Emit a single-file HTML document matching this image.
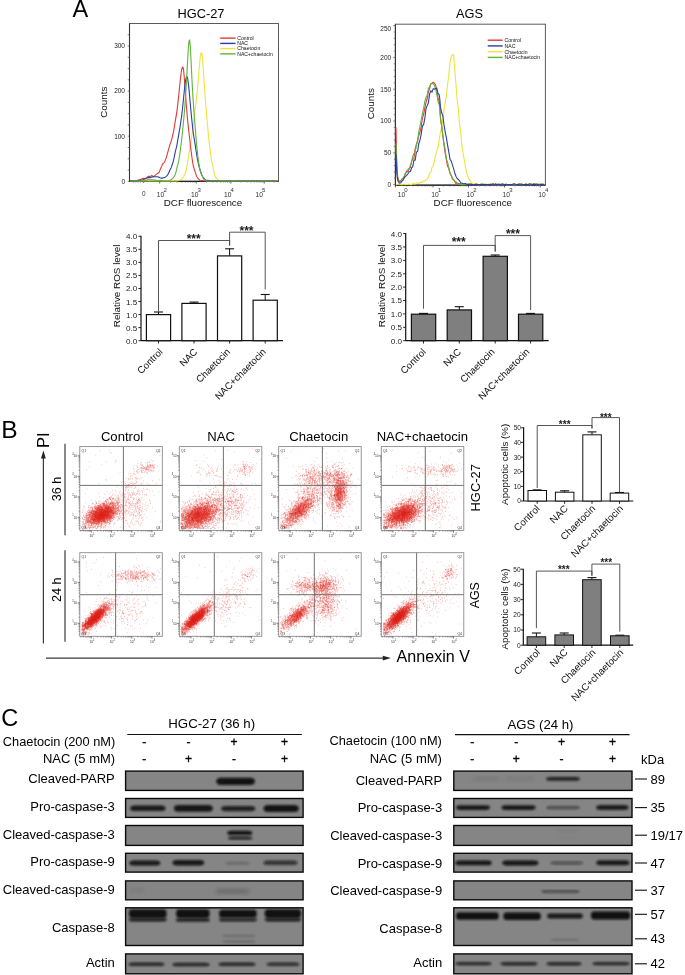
<!DOCTYPE html>
<html><head><meta charset="utf-8"><title>Figure</title>
<style>html,body{margin:0;padding:0;background:#fff;width:685px;height:975px;overflow:hidden}
svg{display:block;font-family:"Liberation Sans",Arial,sans-serif}</style></head>
<body><svg width="685" height="975" viewBox="0 0 685 975">
<defs>
<filter id="b1" x="-20%" y="-50%" width="140%" height="200%"><feGaussianBlur stdDeviation="1.2"/></filter>
<filter id="b2" x="-20%" y="-80%" width="140%" height="260%"><feGaussianBlur stdDeviation="0.8"/></filter>
<filter id="b3" x="-20%" y="-80%" width="140%" height="260%"><feGaussianBlur stdDeviation="2"/></filter>
<radialGradient id="core"><stop offset="0" stop-color="#e0221a" stop-opacity="0.85"/><stop offset="0.55" stop-color="#e0221a" stop-opacity="0.45"/><stop offset="1" stop-color="#e0221a" stop-opacity="0"/></radialGradient>
</defs>
<rect width="685" height="975" fill="#fff"/>
<text x="72.5" y="17.2" font-size="23.5">A</text>
<text x="201" y="18.1" font-size="12.8" text-anchor="middle">HGC-27</text>
<rect x="129.5" y="23.5" width="149" height="157.8" fill="none" stroke="#5f5a56" stroke-width="1"/>
<line x1="129.5" y1="181.3" x2="278.5" y2="181.3" stroke="#222" stroke-width="1.2"/>
<line x1="129.5" y1="23.5" x2="129.5" y2="181.3" stroke="#333" stroke-width="1.1"/>
<line x1="127.7" y1="181.3" x2="129.5" y2="181.3" stroke="#555" stroke-width="0.7"/>
<line x1="127.7" y1="170" x2="129.5" y2="170" stroke="#555" stroke-width="0.7"/>
<line x1="127.7" y1="158.8" x2="129.5" y2="158.8" stroke="#555" stroke-width="0.7"/>
<line x1="127.7" y1="147.5" x2="129.5" y2="147.5" stroke="#555" stroke-width="0.7"/>
<line x1="127.7" y1="136.2" x2="129.5" y2="136.2" stroke="#555" stroke-width="0.7"/>
<line x1="127.7" y1="124.9" x2="129.5" y2="124.9" stroke="#555" stroke-width="0.7"/>
<line x1="127.7" y1="113.7" x2="129.5" y2="113.7" stroke="#555" stroke-width="0.7"/>
<line x1="127.7" y1="102.4" x2="129.5" y2="102.4" stroke="#555" stroke-width="0.7"/>
<line x1="127.7" y1="91.1" x2="129.5" y2="91.1" stroke="#555" stroke-width="0.7"/>
<line x1="127.7" y1="79.8" x2="129.5" y2="79.8" stroke="#555" stroke-width="0.7"/>
<line x1="127.7" y1="68.6" x2="129.5" y2="68.6" stroke="#555" stroke-width="0.7"/>
<line x1="127.7" y1="57.3" x2="129.5" y2="57.3" stroke="#555" stroke-width="0.7"/>
<line x1="127.7" y1="46" x2="129.5" y2="46" stroke="#555" stroke-width="0.7"/>
<line x1="127.7" y1="34.7" x2="129.5" y2="34.7" stroke="#555" stroke-width="0.7"/>
<text x="125" y="183.6" font-size="6.5" text-anchor="end" fill="#222">0</text>
<text x="125" y="138.5" font-size="6.5" text-anchor="end" fill="#222">100</text>
<text x="125" y="93.4" font-size="6.5" text-anchor="end" fill="#222">200</text>
<text x="125" y="48.3" font-size="6.5" text-anchor="end" fill="#222">300</text>
<text x="106.8" y="102.1" font-size="9.9" text-anchor="middle" fill="#111" transform="rotate(-90 106.8 102.1)">Counts</text>
<line x1="159.7" y1="181.3" x2="159.7" y2="183.5" stroke="#333" stroke-width="0.8"/>
<line x1="196.2" y1="181.3" x2="196.2" y2="183.5" stroke="#333" stroke-width="0.8"/>
<line x1="230.9" y1="181.3" x2="230.9" y2="183.5" stroke="#333" stroke-width="0.8"/>
<line x1="264.2" y1="181.3" x2="264.2" y2="183.5" stroke="#333" stroke-width="0.8"/>
<line x1="143.7" y1="181.3" x2="143.7" y2="182.9" stroke="#333" stroke-width="0.7"/>
<line x1="170.7" y1="181.3" x2="170.7" y2="182.6" stroke="#444" stroke-width="0.6"/>
<line x1="177.1" y1="181.3" x2="177.1" y2="182.6" stroke="#444" stroke-width="0.6"/>
<line x1="181.7" y1="181.3" x2="181.7" y2="182.6" stroke="#444" stroke-width="0.6"/>
<line x1="185.2" y1="181.3" x2="185.2" y2="182.6" stroke="#444" stroke-width="0.6"/>
<line x1="188.1" y1="181.3" x2="188.1" y2="182.6" stroke="#444" stroke-width="0.6"/>
<line x1="190.5" y1="181.3" x2="190.5" y2="182.6" stroke="#444" stroke-width="0.6"/>
<line x1="192.7" y1="181.3" x2="192.7" y2="182.6" stroke="#444" stroke-width="0.6"/>
<line x1="194.5" y1="181.3" x2="194.5" y2="182.6" stroke="#444" stroke-width="0.6"/>
<line x1="206.6" y1="181.3" x2="206.6" y2="182.6" stroke="#444" stroke-width="0.6"/>
<line x1="212.8" y1="181.3" x2="212.8" y2="182.6" stroke="#444" stroke-width="0.6"/>
<line x1="217.1" y1="181.3" x2="217.1" y2="182.6" stroke="#444" stroke-width="0.6"/>
<line x1="220.5" y1="181.3" x2="220.5" y2="182.6" stroke="#444" stroke-width="0.6"/>
<line x1="223.2" y1="181.3" x2="223.2" y2="182.6" stroke="#444" stroke-width="0.6"/>
<line x1="225.5" y1="181.3" x2="225.5" y2="182.6" stroke="#444" stroke-width="0.6"/>
<line x1="227.5" y1="181.3" x2="227.5" y2="182.6" stroke="#444" stroke-width="0.6"/>
<line x1="229.3" y1="181.3" x2="229.3" y2="182.6" stroke="#444" stroke-width="0.6"/>
<line x1="240.9" y1="181.3" x2="240.9" y2="182.6" stroke="#444" stroke-width="0.6"/>
<line x1="246.8" y1="181.3" x2="246.8" y2="182.6" stroke="#444" stroke-width="0.6"/>
<line x1="250.9" y1="181.3" x2="250.9" y2="182.6" stroke="#444" stroke-width="0.6"/>
<line x1="254.2" y1="181.3" x2="254.2" y2="182.6" stroke="#444" stroke-width="0.6"/>
<line x1="256.8" y1="181.3" x2="256.8" y2="182.6" stroke="#444" stroke-width="0.6"/>
<line x1="259" y1="181.3" x2="259" y2="182.6" stroke="#444" stroke-width="0.6"/>
<line x1="261" y1="181.3" x2="261" y2="182.6" stroke="#444" stroke-width="0.6"/>
<line x1="262.7" y1="181.3" x2="262.7" y2="182.6" stroke="#444" stroke-width="0.6"/>
<line x1="274.2" y1="181.3" x2="274.2" y2="182.6" stroke="#444" stroke-width="0.6"/>
<line x1="133.4" y1="181.3" x2="133.4" y2="182.6" stroke="#444" stroke-width="0.6"/>
<line x1="135.8" y1="181.3" x2="135.8" y2="182.6" stroke="#444" stroke-width="0.6"/>
<line x1="138.2" y1="181.3" x2="138.2" y2="182.6" stroke="#444" stroke-width="0.6"/>
<line x1="140.6" y1="181.3" x2="140.6" y2="182.6" stroke="#444" stroke-width="0.6"/>
<line x1="143" y1="181.3" x2="143" y2="182.6" stroke="#444" stroke-width="0.6"/>
<text x="143.7" y="196.4" font-size="6.4" text-anchor="middle" fill="#333">0</text>
<text x="156.8" y="196.6" font-size="6.7" fill="#333">10</text>
<text x="163.4" y="192.4" font-size="6.0" fill="#333">2</text>
<text x="191" y="196.6" font-size="6.7" fill="#333">10</text>
<text x="197.6" y="192.4" font-size="6.0" fill="#333">3</text>
<text x="224" y="196.6" font-size="6.7" fill="#333">10</text>
<text x="230.6" y="192.4" font-size="6.0" fill="#333">4</text>
<text x="255.5" y="196.6" font-size="6.7" fill="#333">10</text>
<text x="262.1" y="192.4" font-size="6.0" fill="#333">5</text>
<text x="203" y="206" font-size="9.8" text-anchor="middle" fill="#111">DCF fluorescence</text>
<line x1="220.2" y1="38.1" x2="235.5" y2="38.1" stroke="#e03a34" stroke-width="1.4"/>
<text x="237.3" y="39.9" font-size="5.1" fill="#111">Control</text>
<line x1="220.2" y1="43.4" x2="235.5" y2="43.4" stroke="#2b3fa6" stroke-width="1.4"/>
<text x="237.3" y="45.2" font-size="5.1" fill="#111">NAC</text>
<line x1="220.2" y1="48.6" x2="235.5" y2="48.6" stroke="#f0e33c" stroke-width="1.4"/>
<text x="237.3" y="50.4" font-size="5.1" fill="#111">Chaetocin</text>
<line x1="220.2" y1="53.9" x2="235.5" y2="53.9" stroke="#5fb43c" stroke-width="1.4"/>
<text x="237.3" y="55.7" font-size="5.1" fill="#111">NAC+chaetocin</text>
<path d="M130.2,181 L130.8,181 L131.4,181 L132,181 L132.6,181 L133.2,181 L133.8,181 L134.4,181 L135,181 L135.6,181 L136.2,181 L136.8,181 L137.4,181 L138,181 L138.6,181 L139.2,181 L139.8,181 L140.4,181 L141,180.9 L141.6,180.9 L142.2,181 L142.8,181 L143.4,181 L144,181 L144.6,181 L145.2,181 L145.8,181 L146.4,181 L147,181 L147.6,181 L148.2,181 L148.8,181 L149.4,181 L150,181 L150.6,181 L151.2,181 L151.8,181 L152.4,181 L153,181 L153.6,181 L154.2,181 L154.8,181 L155.4,181 L156,181 L156.6,181 L157.2,180.9 L157.8,180.9 L158.4,181 L159,181 L159.6,181 L160.2,181 L160.8,181 L161.4,181 L162,181 L162.6,181 L163.2,181 L163.8,181 L164.4,181 L165,181 L165.6,181 L166.2,181 L166.8,181 L167.4,181 L168,181 L168.6,181 L169.2,181 L169.8,181 L170.4,181 L171,181 L171.6,180.9 L172.2,180.9 L172.8,180.9 L173.4,180.9 L174,181 L174.6,181 L175.2,181 L175.8,181 L176.4,181 L177,180.9 L177.6,180.8 L178.2,180.6 L178.8,180.5 L179.4,180.3 L180,180.1 L180.6,179.8 L181.2,179.6 L181.8,179.2 L182.4,178.7 L183,177.8 L183.6,176.7 L184.2,175.4 L184.8,174.2 L185.4,172.8 L186,171.1 L186.6,168.2 L187.2,164.7 L187.8,160.7 L188.4,157.4 L189,153.8 L189.6,149.9 L190.2,146.1 L190.8,142.2 L191.4,138.1 L192,134 L192.6,129.8 L193.2,125.6 L193.8,120.6 L194.4,115.5 L195,110.3 L195.6,105.9 L196.2,101.1 L196.8,95.9 L197.4,89.4 L198,82.3 L198.6,74.9 L199.2,67.7 L199.8,61.2 L200.4,56 L201,53.1 L201.6,52.7 L202.2,55.8 L202.8,62.1 L203.4,70.6 L204,80.1 L204.6,89.2 L205.2,97.7 L205.8,105.3 L206.4,112.6 L207,119.5 L207.6,126 L208.2,132.4 L208.8,138.6 L209.4,144.4 L210,149.4 L210.6,154 L211.2,158.2 L211.8,161.5 L212.4,164.4 L213,167 L213.6,170.3 L214.2,173 L214.8,175.2 L215.4,176.6 L216,177.7 L216.6,178.7 L217.2,179.2 L217.8,179.5 L218.4,179.8 L219,180.3 L219.6,180.7 L220.2,181 L220.8,181 L221.4,181 L222,181 L222.6,181 L223.2,181 L223.8,181 L224.4,181 L225,181 L225.6,181 L226.2,181 L226.8,181 L227.4,180.8 L228,181 L228.6,181 L229.2,181 L229.8,181 L230.4,181 L231,181 L231.6,181 L232.2,181 L232.8,181 L233.4,181 L234,181 L234.6,181 L235.2,181 L235.8,181 L236.4,181 L237,181 L237.6,181 L238.2,181 L238.8,181 L239.4,181 L240,181 L240.6,181 L241.2,181 L241.8,181 L242.4,181 L243,181 L243.6,181 L244.2,181 L244.8,181 L245.4,180.9 L246,181 L246.6,181 L247.2,181 L247.8,181 L248.4,181 L249,181 L249.6,181 L250.2,181 L250.8,181 L251.4,181 L252,181 L252.6,181 L253.2,181 L253.8,181 L254.4,181 L255,181 L255.6,181 L256.2,181 L256.8,181 L257.4,181 L258,181 L258.6,181 L259.2,181 L259.8,181 L260.4,181 L261,181 L261.6,181 L262.2,181 L262.8,181 L263.4,181 L264,181 L264.6,181 L265.2,181 L265.8,181 L266.4,181 L267,180.9 L267.6,180.9 L268.2,180.9 L268.8,180.9 L269.4,180.9 L270,181 L270.6,181 L271.2,181 L271.8,180.9 L272.4,180.9 L273,181 L273.6,181 L274.2,181 L274.8,181 L275.4,181 L276,181 L276.6,181 L277.2,181" fill="none" stroke="#f0e33c" stroke-width="1.1" stroke-linejoin="round"/>
<path d="M130.2,181 L130.8,181 L131.4,181 L132,181 L132.6,181 L133.2,181 L133.8,181 L134.4,180.8 L135,180.9 L135.6,180.9 L136.2,180.8 L136.8,180.6 L137.4,180.4 L138,180.2 L138.6,180.1 L139.2,180 L139.8,179.7 L140.4,179.5 L141,179.2 L141.6,178.9 L142.2,178.7 L142.8,178.4 L143.4,178.4 L144,178.5 L144.6,178.6 L145.2,178.4 L145.8,178.2 L146.4,178.1 L147,177.5 L147.6,176.9 L148.2,176.3 L148.8,176.4 L149.4,176.4 L150,176.5 L150.6,176.2 L151.2,175.9 L151.8,175.6 L152.4,175.9 L153,176.2 L153.6,176.5 L154.2,176.1 L154.8,175.7 L155.4,175.2 L156,174.7 L156.6,174.2 L157.2,173.6 L157.8,173.3 L158.4,173 L159,172.5 L159.6,171.1 L160.2,169.6 L160.8,167.9 L161.4,166.7 L162,165.4 L162.6,164 L163.2,163.4 L163.8,162.9 L164.4,162.3 L165,160.9 L165.6,159.4 L166.2,157.9 L166.8,155.8 L167.4,153.7 L168,151.5 L168.6,149.3 L169.2,147.1 L169.8,144.8 L170.4,143.3 L171,141.6 L171.6,139.8 L172.2,137.4 L172.8,134.9 L173.4,132.1 L174,128.8 L174.6,125.3 L175.2,121.5 L175.8,118.2 L176.4,114.6 L177,110.7 L177.6,105.7 L178.2,100.4 L178.8,94.7 L179.4,88.8 L180,82.8 L180.6,77.3 L181.2,72.6 L181.8,69.1 L182.4,67.1 L183,67.2 L183.6,70.4 L184.2,76.6 L184.8,84.4 L185.4,92.8 L186,101.1 L186.6,108.7 L187.2,115.6 L187.8,121.9 L188.4,127.6 L189,133 L189.6,138.2 L190.2,143.5 L190.8,148.6 L191.4,153.3 L192,157.8 L192.6,161.9 L193.2,165.5 L193.8,167.6 L194.4,169.5 L195,171.2 L195.6,173.3 L196.2,175.1 L196.8,176.5 L197.4,177.6 L198,178.4 L198.6,179 L199.2,179.7 L199.8,180.3 L200.4,180.8 L201,180.7 L201.6,180.6 L202.2,180.5 L202.8,180.6 L203.4,180.8 L204,180.8 L204.6,181 L205.2,181 L205.8,181 L206.4,181 L207,181 L207.6,181 L208.2,181 L208.8,181 L209.4,181 L210,181 L210.6,181 L211.2,181 L211.8,181 L212.4,181 L213,180.9 L213.6,181 L214.2,181 L214.8,181 L215.4,181 L216,181 L216.6,181 L217.2,181 L217.8,181 L218.4,181 L219,181 L219.6,181 L220.2,181 L220.8,181 L221.4,181 L222,181 L222.6,181 L223.2,181 L223.8,180.9 L224.4,180.9 L225,181 L225.6,181 L226.2,181 L226.8,181 L227.4,181 L228,181 L228.6,181 L229.2,181 L229.8,181 L230.4,181 L231,181 L231.6,181 L232.2,181 L232.8,181 L233.4,181 L234,181 L234.6,181 L235.2,181 L235.8,181 L236.4,181 L237,181 L237.6,181 L238.2,181 L238.8,181 L239.4,181 L240,181 L240.6,181 L241.2,181 L241.8,181 L242.4,181 L243,181 L243.6,181 L244.2,181 L244.8,181 L245.4,181 L246,181 L246.6,181 L247.2,181 L247.8,181 L248.4,181 L249,181 L249.6,181 L250.2,181 L250.8,181 L251.4,181 L252,181 L252.6,181 L253.2,181 L253.8,181 L254.4,181 L255,181 L255.6,181 L256.2,181 L256.8,181 L257.4,181 L258,181 L258.6,181 L259.2,181 L259.8,181 L260.4,181 L261,181 L261.6,181 L262.2,181 L262.8,180.9 L263.4,180.8 L264,181 L264.6,181 L265.2,181 L265.8,181 L266.4,181 L267,181 L267.6,181 L268.2,181 L268.8,181 L269.4,181 L270,181 L270.6,181 L271.2,181 L271.8,181 L272.4,180.8 L273,180.9 L273.6,181 L274.2,181 L274.8,181 L275.4,181 L276,181 L276.6,181 L277.2,181" fill="none" stroke="#e03a34" stroke-width="1.1" stroke-linejoin="round"/>
<path d="M130.2,180.9 L130.8,180.9 L131.4,180.9 L132,180.9 L132.6,181 L133.2,181 L133.8,181 L134.4,181 L135,181 L135.6,181 L136.2,181 L136.8,180.9 L137.4,180.6 L138,180.5 L138.6,180.5 L139.2,180.4 L139.8,180.3 L140.4,180.2 L141,180.1 L141.6,180 L142.2,180 L142.8,180 L143.4,179.6 L144,179.3 L144.6,179 L145.2,178.7 L145.8,178.5 L146.4,178.3 L147,178 L147.6,177.8 L148.2,177.6 L148.8,177.6 L149.4,177.6 L150,177.7 L150.6,177.4 L151.2,177.2 L151.8,177 L152.4,176.9 L153,176.9 L153.6,176.9 L154.2,176.8 L154.8,176.7 L155.4,176.7 L156,176.7 L156.6,176.7 L157.2,176.7 L157.8,176.9 L158.4,177 L159,177.2 L159.6,177.5 L160.2,177.8 L160.8,178 L161.4,178.1 L162,178.1 L162.6,178 L163.2,177.9 L163.8,177.8 L164.4,177.5 L165,177.2 L165.6,176.9 L166.2,176.4 L166.8,175.8 L167.4,175.1 L168,174.3 L168.6,173.1 L169.2,171.7 L169.8,170.3 L170.4,169.1 L171,167.9 L171.6,166.5 L172.2,164.8 L172.8,162.9 L173.4,160.9 L174,158.2 L174.6,155.3 L175.2,152.2 L175.8,149.8 L176.4,147.3 L177,144.5 L177.6,141.2 L178.2,137.7 L178.8,134.1 L179.4,130.7 L180,127.1 L180.6,123.4 L181.2,119.2 L181.8,114.6 L182.4,109.7 L183,103.8 L183.6,97.7 L184.2,91.5 L184.8,86.2 L185.4,81.7 L186,78.6 L186.6,76.6 L187.2,76.7 L187.8,79.2 L188.4,83.6 L189,89.4 L189.6,95.6 L190.2,102.8 L190.8,109.5 L191.4,115.7 L192,121.6 L192.6,127.2 L193.2,132.5 L193.8,136.3 L194.4,140 L195,143.5 L195.6,147.6 L196.2,151.6 L196.8,155.2 L197.4,158.6 L198,161.7 L198.6,164.6 L199.2,167 L199.8,169.1 L200.4,171 L201,172.8 L201.6,174.4 L202.2,175.7 L202.8,176.7 L203.4,177.6 L204,178.3 L204.6,179 L205.2,179.7 L205.8,180.2 L206.4,180.3 L207,180.3 L207.6,180.3 L208.2,180.4 L208.8,180.5 L209.4,180.6 L210,180.9 L210.6,181 L211.2,181 L211.8,181 L212.4,181 L213,181 L213.6,181 L214.2,181 L214.8,181 L215.4,181 L216,181 L216.6,181 L217.2,181 L217.8,181 L218.4,181 L219,181 L219.6,181 L220.2,181 L220.8,181 L221.4,181 L222,180.9 L222.6,181 L223.2,181 L223.8,181 L224.4,181 L225,181 L225.6,181 L226.2,181 L226.8,181 L227.4,181 L228,181 L228.6,181 L229.2,180.9 L229.8,180.9 L230.4,180.9 L231,180.9 L231.6,181 L232.2,181 L232.8,181 L233.4,181 L234,181 L234.6,181 L235.2,181 L235.8,181 L236.4,180.9 L237,181 L237.6,181 L238.2,181 L238.8,181 L239.4,181 L240,181 L240.6,181 L241.2,181 L241.8,181 L242.4,181 L243,181 L243.6,181 L244.2,181 L244.8,181 L245.4,181 L246,181 L246.6,181 L247.2,181 L247.8,181 L248.4,181 L249,180.9 L249.6,181 L250.2,181 L250.8,181 L251.4,181 L252,181 L252.6,180.9 L253.2,181 L253.8,181 L254.4,181 L255,181 L255.6,181 L256.2,180.9 L256.8,180.9 L257.4,181 L258,181 L258.6,181 L259.2,181 L259.8,181 L260.4,181 L261,181 L261.6,181 L262.2,181 L262.8,181 L263.4,181 L264,181 L264.6,181 L265.2,181 L265.8,181 L266.4,181 L267,181 L267.6,181 L268.2,181 L268.8,181 L269.4,181 L270,181 L270.6,181 L271.2,181 L271.8,181 L272.4,180.9 L273,181 L273.6,181 L274.2,181 L274.8,181 L275.4,181 L276,181 L276.6,181 L277.2,181" fill="none" stroke="#2b3fa6" stroke-width="1.1" stroke-linejoin="round"/>
<path d="M130.2,181 L130.8,181 L131.4,181 L132,181 L132.6,181 L133.2,181 L133.8,181 L134.4,181 L135,181 L135.6,180.9 L136.2,180.9 L136.8,180.8 L137.4,180.8 L138,180.9 L138.6,181 L139.2,181 L139.8,181 L140.4,181 L141,181 L141.6,180.7 L142.2,180.4 L142.8,180 L143.4,180.2 L144,180.3 L144.6,180.5 L145.2,180.4 L145.8,180.4 L146.4,180.4 L147,180.1 L147.6,179.7 L148.2,179.4 L148.8,179.6 L149.4,179.8 L150,180 L150.6,179.8 L151.2,179.7 L151.8,179.6 L152.4,179.8 L153,179.9 L153.6,180.1 L154.2,180.1 L154.8,180.1 L155.4,180.1 L156,180.3 L156.6,180.5 L157.2,180.8 L157.8,180.7 L158.4,180.5 L159,180.4 L159.6,180.4 L160.2,180.4 L160.8,180.4 L161.4,180.6 L162,180.7 L162.6,180.9 L163.2,180.9 L163.8,180.8 L164.4,180.8 L165,180.8 L165.6,180.9 L166.2,180.9 L166.8,181 L167.4,181 L168,181 L168.6,181 L169.2,180.6 L169.8,180.2 L170.4,180 L171,179.7 L171.6,179.3 L172.2,178.8 L172.8,178.3 L173.4,177.6 L174,176.8 L174.6,175.8 L175.2,174.7 L175.8,172.6 L176.4,170.3 L177,167.5 L177.6,165.5 L178.2,163.1 L178.8,160.5 L179.4,156.9 L180,152.8 L180.6,148.3 L181.2,143.4 L181.8,138.2 L182.4,132.5 L183,126.8 L183.6,120.8 L184.2,114.4 L184.8,107 L185.4,98.8 L186,89.4 L186.6,79.4 L187.2,68.5 L187.8,57.6 L188.4,47.5 L189,41.2 L189.6,39.9 L190.2,45.4 L190.8,55.6 L191.4,68.3 L192,80.3 L192.6,91.2 L193.2,100.7 L193.8,109.4 L194.4,117.3 L195,124.7 L195.6,132.5 L196.2,139.8 L196.8,146.8 L197.4,152.4 L198,157.4 L198.6,161.9 L199.2,165.6 L199.8,168.8 L200.4,171.4 L201,173.2 L201.6,174.6 L202.2,175.8 L202.8,177.3 L203.4,178.5 L204,179.5 L204.6,179.9 L205.2,180.3 L205.8,180.5 L206.4,180.8 L207,181 L207.6,181 L208.2,181 L208.8,181 L209.4,181 L210,181 L210.6,181 L211.2,181 L211.8,181 L212.4,181 L213,181 L213.6,181 L214.2,181 L214.8,181 L215.4,181 L216,181 L216.6,181 L217.2,181 L217.8,181 L218.4,180.9 L219,181 L219.6,181 L220.2,181 L220.8,181 L221.4,181 L222,180.9 L222.6,180.9 L223.2,180.9 L223.8,181 L224.4,180.9 L225,180.9 L225.6,180.8 L226.2,180.9 L226.8,181 L227.4,181 L228,181 L228.6,181 L229.2,181 L229.8,181 L230.4,181 L231,181 L231.6,180.9 L232.2,180.9 L232.8,180.9 L233.4,180.9 L234,180.9 L234.6,180.9 L235.2,181 L235.8,181 L236.4,181 L237,181 L237.6,181 L238.2,181 L238.8,181 L239.4,181 L240,181 L240.6,181 L241.2,181 L241.8,181 L242.4,181 L243,181 L243.6,181 L244.2,181 L244.8,181 L245.4,181 L246,181 L246.6,181 L247.2,181 L247.8,181 L248.4,181 L249,181 L249.6,180.9 L250.2,180.9 L250.8,180.8 L251.4,181 L252,181 L252.6,181 L253.2,181 L253.8,181 L254.4,181 L255,181 L255.6,181 L256.2,181 L256.8,181 L257.4,181 L258,181 L258.6,181 L259.2,181 L259.8,181 L260.4,181 L261,181 L261.6,181 L262.2,181 L262.8,181 L263.4,180.9 L264,181 L264.6,181 L265.2,181 L265.8,181 L266.4,181 L267,181 L267.6,181 L268.2,181 L268.8,181 L269.4,181 L270,181 L270.6,181 L271.2,181 L271.8,181 L272.4,181 L273,181 L273.6,181 L274.2,180.9 L274.8,180.9 L275.4,180.9 L276,180.8 L276.6,181 L277.2,181" fill="none" stroke="#5fb43c" stroke-width="1.1" stroke-linejoin="round"/>
<text x="469.5" y="18" font-size="12.8" text-anchor="middle">AGS</text>
<rect x="395.4" y="24.2" width="150" height="161" fill="none" stroke="#5f5a56" stroke-width="1"/>
<line x1="395.4" y1="185.2" x2="545.4" y2="185.2" stroke="#222" stroke-width="1.2"/>
<line x1="395.4" y1="24.2" x2="395.4" y2="185.2" stroke="#333" stroke-width="1.1"/>
<line x1="393.2" y1="184.6" x2="395.4" y2="184.6" stroke="#555" stroke-width="0.7"/>
<line x1="393.8" y1="178.2" x2="395.4" y2="178.2" stroke="#555" stroke-width="0.7"/>
<line x1="393.8" y1="171.9" x2="395.4" y2="171.9" stroke="#555" stroke-width="0.7"/>
<line x1="393.8" y1="165.5" x2="395.4" y2="165.5" stroke="#555" stroke-width="0.7"/>
<line x1="393.8" y1="159.2" x2="395.4" y2="159.2" stroke="#555" stroke-width="0.7"/>
<line x1="393.2" y1="152.8" x2="395.4" y2="152.8" stroke="#555" stroke-width="0.7"/>
<line x1="393.8" y1="146.4" x2="395.4" y2="146.4" stroke="#555" stroke-width="0.7"/>
<line x1="393.8" y1="140.1" x2="395.4" y2="140.1" stroke="#555" stroke-width="0.7"/>
<line x1="393.8" y1="133.7" x2="395.4" y2="133.7" stroke="#555" stroke-width="0.7"/>
<line x1="393.8" y1="127.4" x2="395.4" y2="127.4" stroke="#555" stroke-width="0.7"/>
<line x1="393.2" y1="121" x2="395.4" y2="121" stroke="#555" stroke-width="0.7"/>
<line x1="393.8" y1="114.6" x2="395.4" y2="114.6" stroke="#555" stroke-width="0.7"/>
<line x1="393.8" y1="108.3" x2="395.4" y2="108.3" stroke="#555" stroke-width="0.7"/>
<line x1="393.8" y1="101.9" x2="395.4" y2="101.9" stroke="#555" stroke-width="0.7"/>
<line x1="393.8" y1="95.6" x2="395.4" y2="95.6" stroke="#555" stroke-width="0.7"/>
<line x1="393.2" y1="89.2" x2="395.4" y2="89.2" stroke="#555" stroke-width="0.7"/>
<line x1="393.8" y1="82.8" x2="395.4" y2="82.8" stroke="#555" stroke-width="0.7"/>
<line x1="393.8" y1="76.5" x2="395.4" y2="76.5" stroke="#555" stroke-width="0.7"/>
<line x1="393.8" y1="70.1" x2="395.4" y2="70.1" stroke="#555" stroke-width="0.7"/>
<line x1="393.8" y1="63.8" x2="395.4" y2="63.8" stroke="#555" stroke-width="0.7"/>
<line x1="393.2" y1="57.4" x2="395.4" y2="57.4" stroke="#555" stroke-width="0.7"/>
<line x1="393.8" y1="51" x2="395.4" y2="51" stroke="#555" stroke-width="0.7"/>
<line x1="393.8" y1="44.7" x2="395.4" y2="44.7" stroke="#555" stroke-width="0.7"/>
<line x1="393.8" y1="38.3" x2="395.4" y2="38.3" stroke="#555" stroke-width="0.7"/>
<line x1="393.8" y1="32" x2="395.4" y2="32" stroke="#555" stroke-width="0.7"/>
<line x1="393.2" y1="25.6" x2="395.4" y2="25.6" stroke="#555" stroke-width="0.7"/>
<text x="391.2" y="186.9" font-size="6.5" text-anchor="end" fill="#222">0</text>
<text x="391.2" y="155.1" font-size="6.5" text-anchor="end" fill="#222">50</text>
<text x="391.2" y="123.3" font-size="6.5" text-anchor="end" fill="#222">100</text>
<text x="391.2" y="91.5" font-size="6.5" text-anchor="end" fill="#222">150</text>
<text x="391.2" y="59.7" font-size="6.5" text-anchor="end" fill="#222">200</text>
<text x="391.2" y="31.2" font-size="6.5" text-anchor="end" fill="#222">250</text>
<text x="374.1" y="103.6" font-size="9.9" text-anchor="middle" fill="#111" transform="rotate(-90 374.1 103.6)">Counts</text>
<line x1="395.4" y1="185.2" x2="395.4" y2="187.4" stroke="#333" stroke-width="0.8"/>
<line x1="406.7" y1="185.2" x2="406.7" y2="186.5" stroke="#444" stroke-width="0.6"/>
<line x1="413.3" y1="185.2" x2="413.3" y2="186.5" stroke="#444" stroke-width="0.6"/>
<line x1="418" y1="185.2" x2="418" y2="186.5" stroke="#444" stroke-width="0.6"/>
<line x1="421.7" y1="185.2" x2="421.7" y2="186.5" stroke="#444" stroke-width="0.6"/>
<line x1="424.7" y1="185.2" x2="424.7" y2="186.5" stroke="#444" stroke-width="0.6"/>
<line x1="427.2" y1="185.2" x2="427.2" y2="186.5" stroke="#444" stroke-width="0.6"/>
<line x1="429.4" y1="185.2" x2="429.4" y2="186.5" stroke="#444" stroke-width="0.6"/>
<line x1="431.3" y1="185.2" x2="431.3" y2="186.5" stroke="#444" stroke-width="0.6"/>
<line x1="433" y1="185.2" x2="433" y2="187.4" stroke="#333" stroke-width="0.8"/>
<line x1="443.7" y1="185.2" x2="443.7" y2="186.5" stroke="#444" stroke-width="0.6"/>
<line x1="449.9" y1="185.2" x2="449.9" y2="186.5" stroke="#444" stroke-width="0.6"/>
<line x1="454.4" y1="185.2" x2="454.4" y2="186.5" stroke="#444" stroke-width="0.6"/>
<line x1="457.8" y1="185.2" x2="457.8" y2="186.5" stroke="#444" stroke-width="0.6"/>
<line x1="460.6" y1="185.2" x2="460.6" y2="186.5" stroke="#444" stroke-width="0.6"/>
<line x1="463" y1="185.2" x2="463" y2="186.5" stroke="#444" stroke-width="0.6"/>
<line x1="465.1" y1="185.2" x2="465.1" y2="186.5" stroke="#444" stroke-width="0.6"/>
<line x1="466.9" y1="185.2" x2="466.9" y2="186.5" stroke="#444" stroke-width="0.6"/>
<line x1="468.5" y1="185.2" x2="468.5" y2="187.4" stroke="#333" stroke-width="0.8"/>
<line x1="479.3" y1="185.2" x2="479.3" y2="186.5" stroke="#444" stroke-width="0.6"/>
<line x1="485.7" y1="185.2" x2="485.7" y2="186.5" stroke="#444" stroke-width="0.6"/>
<line x1="490.2" y1="185.2" x2="490.2" y2="186.5" stroke="#444" stroke-width="0.6"/>
<line x1="493.7" y1="185.2" x2="493.7" y2="186.5" stroke="#444" stroke-width="0.6"/>
<line x1="496.5" y1="185.2" x2="496.5" y2="186.5" stroke="#444" stroke-width="0.6"/>
<line x1="498.9" y1="185.2" x2="498.9" y2="186.5" stroke="#444" stroke-width="0.6"/>
<line x1="501" y1="185.2" x2="501" y2="186.5" stroke="#444" stroke-width="0.6"/>
<line x1="502.9" y1="185.2" x2="502.9" y2="186.5" stroke="#444" stroke-width="0.6"/>
<line x1="504.5" y1="185.2" x2="504.5" y2="187.4" stroke="#333" stroke-width="0.8"/>
<line x1="515.2" y1="185.2" x2="515.2" y2="186.5" stroke="#444" stroke-width="0.6"/>
<line x1="521.5" y1="185.2" x2="521.5" y2="186.5" stroke="#444" stroke-width="0.6"/>
<line x1="526" y1="185.2" x2="526" y2="186.5" stroke="#444" stroke-width="0.6"/>
<line x1="529.5" y1="185.2" x2="529.5" y2="186.5" stroke="#444" stroke-width="0.6"/>
<line x1="532.3" y1="185.2" x2="532.3" y2="186.5" stroke="#444" stroke-width="0.6"/>
<line x1="534.7" y1="185.2" x2="534.7" y2="186.5" stroke="#444" stroke-width="0.6"/>
<line x1="536.7" y1="185.2" x2="536.7" y2="186.5" stroke="#444" stroke-width="0.6"/>
<line x1="538.6" y1="185.2" x2="538.6" y2="186.5" stroke="#444" stroke-width="0.6"/>
<line x1="540.2" y1="185.2" x2="540.2" y2="187.4" stroke="#333" stroke-width="0.8"/>
<text x="397.7" y="196.6" font-size="6.7" fill="#333">10</text>
<text x="404.3" y="192.4" font-size="6.0" fill="#333">0</text>
<text x="431.2" y="196.6" font-size="6.7" fill="#333">10</text>
<text x="437.8" y="192.4" font-size="6.0" fill="#333">1</text>
<text x="466.6" y="196.6" font-size="6.7" fill="#333">10</text>
<text x="473.2" y="192.4" font-size="6.0" fill="#333">2</text>
<text x="502.6" y="196.6" font-size="6.7" fill="#333">10</text>
<text x="509.2" y="192.4" font-size="6.0" fill="#333">3</text>
<text x="538.3" y="196.6" font-size="6.7" fill="#333">10</text>
<text x="544.9" y="192.4" font-size="6.0" fill="#333">4</text>
<text x="472.8" y="206" font-size="9.8" text-anchor="middle" fill="#111">DCF fluorescence</text>
<line x1="487.7" y1="40.2" x2="502.7" y2="40.2" stroke="#e03a34" stroke-width="1.4"/>
<text x="504.6" y="42" font-size="5.1" fill="#111">Control</text>
<line x1="487.7" y1="45.9" x2="502.7" y2="45.9" stroke="#2b3fa6" stroke-width="1.4"/>
<text x="504.6" y="47.7" font-size="5.1" fill="#111">NAC</text>
<line x1="487.7" y1="51.7" x2="502.7" y2="51.7" stroke="#f0e33c" stroke-width="1.4"/>
<text x="504.6" y="53.5" font-size="5.1" fill="#111">Chaetocin</text>
<line x1="487.7" y1="57.4" x2="502.7" y2="57.4" stroke="#5fb43c" stroke-width="1.4"/>
<text x="504.6" y="59.2" font-size="5.1" fill="#111">NAC+chaetocin</text>
<path d="M396,184.6 L396.6,184.6 L397.2,184.3 L397.8,184.3 L398.4,184.4 L399,184.1 L399.6,183.9 L400.2,184.4 L400.8,184.6 L401.4,184.6 L402,184.6 L402.6,184.6 L403.2,184.2 L403.8,184.2 L404.4,184.3 L405,184.5 L405.6,184.6 L406.2,184.5 L406.8,184.2 L407.4,184.4 L408,184.6 L408.6,184.2 L409.2,183.9 L409.8,184.4 L410.4,184.6 L411,184.6 L411.6,184.6 L412.2,184 L412.8,183.3 L413.4,183.7 L414,184.1 L414.6,184 L415.2,184 L415.8,183.5 L416.4,182.9 L417,182.9 L417.6,183 L418.2,183.3 L418.8,183.5 L419.4,183 L420,182.5 L420.6,182.2 L421.2,181.9 L421.8,182.2 L422.4,182.4 L423,181.7 L423.6,180.9 L424.2,181.1 L424.8,181.3 L425.4,180.6 L426,179.9 L426.6,179.6 L427.2,179.3 L427.8,178.4 L428.4,177.4 L429,175.5 L429.6,173.3 L430.2,172.9 L430.8,172.5 L431.4,170.1 L432,167.4 L432.6,166.7 L433.2,166 L433.8,163.6 L434.4,161.1 L435,158.2 L435.6,155.1 L436.2,153.1 L436.8,150.9 L437.4,149.5 L438,148.1 L438.6,143.8 L439.2,139.4 L439.8,136 L440.4,132.5 L441,130.2 L441.6,127.8 L442.2,124.3 L442.8,120.8 L443.4,115 L444,109.1 L444.6,106 L445.2,102.8 L445.8,99.2 L446.4,95.5 L447,90.1 L447.6,84.5 L448.2,80 L448.8,75.4 L449.4,68.9 L450,62.7 L450.6,59.3 L451.2,56.8 L451.8,55.5 L452.4,55.5 L453,54.2 L453.6,55.4 L454.2,62.4 L454.8,70.8 L455.4,77.6 L456,84.7 L456.6,92.7 L457.2,100.3 L457.8,105 L458.4,109.5 L459,117.2 L459.6,124.6 L460.2,129.3 L460.8,133.8 L461.4,140.2 L462,146.4 L462.6,150.1 L463.2,153.6 L463.8,157.2 L464.4,160.5 L465,164.2 L465.6,167.6 L466.2,170.4 L466.8,172.9 L467.4,174.9 L468,176.6 L468.6,178.1 L469.2,179.4 L469.8,180.3 L470.4,181 L471,182.2 L471.6,183.2 L472.2,183.3 L472.8,183.4 L473.4,183.9 L474,184.3 L474.6,184 L475.2,183.6 L475.8,183.7 L476.4,183.7 L477,184.4 L477.6,184.6 L478.2,184.6 L478.8,184.6 L479.4,184.6 L480,184.3 L480.6,184.4 L481.2,184.5 L481.8,184.6 L482.4,184.6 L483,184.6 L483.6,184.3 L484.2,184.1 L484.8,183.9 L485.4,184.3 L486,184.6 L486.6,184.6 L487.2,184.6 L487.8,184.6 L488.4,184.5 L489,184.2 L489.6,183.9 L490.2,184.4 L490.8,184.6 L491.4,184.6 L492,184.6 L492.6,184.6 L493.2,184.6 L493.8,184.6 L494.4,184.4 L495,184.5 L495.6,184.6 L496.2,184.6 L496.8,184.6 L497.4,184.6 L498,184.6 L498.6,184.6 L499.2,184.6 L499.8,184.6 L500.4,184.6 L501,184.4 L501.6,183.9 L502.2,184.2 L502.8,184.5 L503.4,184.6 L504,184.6 L504.6,184.4 L505.2,183.9 L505.8,184.4 L506.4,184.6 L507,184.6 L507.6,184.6 L508.2,184.6 L508.8,184.6 L509.4,184.6 L510,184.6 L510.6,184.6 L511.2,184.6 L511.8,184.6 L512.4,184.6 L513,184.5 L513.6,184 L514.2,184.5 L514.8,184.6 L515.4,184.6 L516,184.6 L516.6,184.6 L517.2,184.4 L517.8,184.2 L518.4,184 L519,184.4 L519.6,184.6 L520.2,184.6 L520.8,184.2 L521.4,184.5 L522,184.6 L522.6,184.6 L523.2,184.5 L523.8,184.5 L524.4,184.5 L525,184.2 L525.6,183.9 L526.2,184.1 L526.8,184.2 L527.4,184.4 L528,184.6 L528.6,184.3 L529.2,184.1 L529.8,184.4 L530.4,184.6 L531,184.6 L531.6,184.6 L532.2,184.3 L532.8,183.9 L533.4,184.2 L534,184.5 L534.6,184.4 L535.2,184.2 L535.8,184.5 L536.4,184.6 L537,184.4 L537.6,184 L538.2,184.2 L538.8,184.4 L539.4,184.6 L540,184.6 L540.6,184.5 L541.2,183.9 L541.8,184.3 L542.4,184.6 L543,184.6 L543.6,184.6 L544.2,184.6" fill="none" stroke="#f0e33c" stroke-width="1.1" stroke-linejoin="round"/>
<path d="M396,127.3 L396.6,157.1 L397.2,171 L397.8,177.2 L398.4,179.6 L399,181 L399.6,181.5 L400.2,181.1 L400.8,180.5 L401.4,179.8 L402,178.9 L402.6,178.6 L403.2,178.3 L403.8,177 L404.4,175.6 L405,174.4 L405.6,173.1 L406.2,171.9 L406.8,170.8 L407.4,171.2 L408,171.5 L408.6,170.2 L409.2,168.8 L409.8,168 L410.4,167.3 L411,164.4 L411.6,161.3 L412.2,159.9 L412.8,158.4 L413.4,158.2 L414,157.9 L414.6,153.5 L415.2,148.9 L415.8,146.6 L416.4,144.3 L417,142.6 L417.6,140.8 L418.2,138.2 L418.8,135.5 L419.4,133.8 L420,132.1 L420.6,129.5 L421.2,126.9 L421.8,122.5 L422.4,118.2 L423,116.4 L423.6,114.6 L424.2,111.4 L424.8,108.2 L425.4,105.2 L426,102.4 L426.6,100.4 L427.2,98.5 L427.8,95.2 L428.4,92 L429,90.1 L429.6,88.5 L430.2,86 L430.8,83.7 L431.4,83.5 L432,83.6 L432.6,82.7 L433.2,82.2 L433.8,82.6 L434.4,83.4 L435,84.1 L435.6,85.2 L436.2,87.8 L436.8,90.8 L437.4,94.2 L438,97.9 L438.6,99.7 L439.2,101.7 L439.8,105.7 L440.4,116.3 L441,121 L441.6,125.7 L442.2,130.4 L442.8,135 L443.4,140.2 L444,145.2 L444.6,149.3 L445.2,153.2 L445.8,156.6 L446.4,159.7 L447,163.1 L447.6,166.3 L448.2,167.3 L448.8,168.3 L449.4,171.1 L450,173.5 L450.6,174.5 L451.2,175.4 L451.8,177.3 L452.4,179 L453,179.3 L453.6,179.6 L454.2,180.4 L454.8,181.2 L455.4,182.5 L456,183.7 L456.6,183.8 L457.2,183.9 L457.8,183.6 L458.4,183.2 L459,183.7 L459.6,184.2 L460.2,183.9 L460.8,183.6 L461.4,184.1 L462,184.6 L462.6,184.6 L463.2,184.6 L463.8,184.6 L464.4,184.3 L465,184.2 L465.6,184.1 L466.2,184.5 L466.8,184.6 L467.4,184.6 L468,184.6 L468.6,184.6 L469.2,184.6 L469.8,184.4 L470.4,183.9 L471,184 L471.6,184.2 L472.2,184.6 L472.8,184.6 L473.4,184.6 L474,184.6 L474.6,184.6 L475.2,184.6 L475.8,184.6 L476.4,184.6 L477,184.6 L477.6,184.1 L478.2,184.6 L478.8,184.6 L479.4,184.6 L480,184.5 L480.6,184.6 L481.2,184.6 L481.8,184.6 L482.4,184.6 L483,184.6 L483.6,184.2 L484.2,184.6 L484.8,184.6 L485.4,184.6 L486,184.4 L486.6,184.6 L487.2,184.6 L487.8,184.6 L488.4,184.6 L489,184.6 L489.6,184.6 L490.2,184.6 L490.8,184.6 L491.4,184.4 L492,183.9 L492.6,184 L493.2,184.1 L493.8,184.5 L494.4,184.6 L495,184.5 L495.6,184 L496.2,184.5 L496.8,184.6 L497.4,184.6 L498,184.6 L498.6,184.4 L499.2,184.1 L499.8,184.2 L500.4,184.4 L501,184.6 L501.6,184.6 L502.2,184.5 L502.8,183.9 L503.4,184.4 L504,184.6 L504.6,184.6 L505.2,184.6 L505.8,184.6 L506.4,184.2 L507,184.5 L507.6,184.6 L508.2,184.6 L508.8,184.6 L509.4,184.6 L510,184.6 L510.6,184.6 L511.2,184.6 L511.8,184.6 L512.4,184.5 L513,184.6 L513.6,184.6 L514.2,184.6 L514.8,184.4 L515.4,184.6 L516,184.6 L516.6,184.6 L517.2,184.6 L517.8,184.3 L518.4,183.9 L519,184.3 L519.6,184.6 L520.2,184.6 L520.8,184.5 L521.4,184.3 L522,184 L522.6,184.6 L523.2,184.6 L523.8,184.6 L524.4,184.6 L525,184.6 L525.6,184 L526.2,184 L526.8,184.1 L527.4,184.5 L528,184.6 L528.6,184.6 L529.2,184.6 L529.8,184.6 L530.4,184.2 L531,184.1 L531.6,183.9 L532.2,184.5 L532.8,184.6 L533.4,184.5 L534,183.9 L534.6,184 L535.2,184 L535.8,184.2 L536.4,184.4 L537,184.6 L537.6,184.6 L538.2,184.6 L538.8,184.6 L539.4,184.6 L540,184.6 L540.6,184.6 L541.2,183.9 L541.8,184.4 L542.4,184.6 L543,184.6 L543.6,184.3 L544.2,184.6" fill="none" stroke="#e03a34" stroke-width="1.1" stroke-linejoin="round"/>
<path d="M396,143.2 L396.6,164.2 L397.2,173.9 L397.8,178.8 L398.4,180.8 L399,181.1 L399.6,180.8 L400.2,181.1 L400.8,181.2 L401.4,180.5 L402,179.7 L402.6,179 L403.2,178.3 L403.8,177.3 L404.4,176.3 L405,174.5 L405.6,172.6 L406.2,172.5 L406.8,172.7 L407.4,171.1 L408,169.4 L408.6,168.9 L409.2,168.4 L409.8,167 L410.4,165.5 L411,163.7 L411.6,161.8 L412.2,159 L412.8,156.1 L413.4,154.7 L414,153.3 L414.6,152.6 L415.2,151.8 L415.8,148.7 L416.4,145.5 L417,143.2 L417.6,140.8 L418.2,136.2 L418.8,131.5 L419.4,128.8 L420,126 L420.6,123 L421.2,120 L421.8,116.9 L422.4,113.8 L423,111.1 L423.6,108.4 L424.2,105 L424.8,101.7 L425.4,99.4 L426,97.3 L426.6,96.3 L427.2,95.4 L427.8,91.8 L428.4,88.4 L429,87.7 L429.6,87.2 L430.2,85.3 L430.8,83.6 L431.4,83.4 L432,83.4 L432.6,83.5 L433.2,83.9 L433.8,84.6 L434.4,85.8 L435,87.1 L435.6,88.8 L436.2,91.3 L436.8,94.2 L437.4,97.6 L438,101.4 L438.6,103 L439.2,104.9 L439.8,108.8 L440.4,118.5 L441,122.1 L441.6,125.6 L442.2,130.4 L442.8,135.1 L443.4,139.3 L444,143.5 L444.6,146.6 L445.2,149.6 L445.8,154.5 L446.4,159.1 L447,160.7 L447.6,162.1 L448.2,165.1 L448.8,167.9 L449.4,170.5 L450,172.8 L450.6,174.4 L451.2,175.8 L451.8,176.7 L452.4,177.4 L453,178.8 L453.6,180 L454.2,180.6 L454.8,181.1 L455.4,181.5 L456,181.9 L456.6,182.5 L457.2,183.1 L457.8,183.6 L458.4,184.1 L459,184 L459.6,183.9 L460.2,184.2 L460.8,184.5 L461.4,184.6 L462,184.6 L462.6,184.6 L463.2,184.6 L463.8,184.6 L464.4,184.6 L465,184.6 L465.6,184.6 L466.2,184.6 L466.8,184.3 L467.4,184.1 L468,183.9 L468.6,184.3 L469.2,184.6 L469.8,184.5 L470.4,184.3 L471,184.1 L471.6,183.9 L472.2,184.6 L472.8,184.6 L473.4,184.6 L474,184.6 L474.6,184.6 L475.2,184.1 L475.8,184.1 L476.4,184.1 L477,184.2 L477.6,184.4 L478.2,184.6 L478.8,184.6 L479.4,184.6 L480,184.6 L480.6,184.4 L481.2,184 L481.8,184 L482.4,184 L483,184.1 L483.6,184.1 L484.2,184.6 L484.8,184.6 L485.4,184.6 L486,184.1 L486.6,184.4 L487.2,184.6 L487.8,184.5 L488.4,184.3 L489,184.6 L489.6,184.6 L490.2,184.5 L490.8,183.9 L491.4,184.2 L492,184.4 L492.6,184.4 L493.2,184.3 L493.8,184.6 L494.4,184.6 L495,184.6 L495.6,184.4 L496.2,184.4 L496.8,184.5 L497.4,184.5 L498,184.5 L498.6,184.6 L499.2,184.6 L499.8,184.5 L500.4,184.3 L501,184.5 L501.6,184.6 L502.2,184.6 L502.8,184.6 L503.4,184.6 L504,184.6 L504.6,184.6 L505.2,184.3 L505.8,184.6 L506.4,184.6 L507,184.6 L507.6,184.6 L508.2,184.6 L508.8,184.6 L509.4,184.6 L510,184.4 L510.6,184.4 L511.2,184.5 L511.8,184.5 L512.4,184.5 L513,184.6 L513.6,184.6 L514.2,184.6 L514.8,184.6 L515.4,184.6 L516,184.6 L516.6,184.6 L517.2,184.6 L517.8,184.6 L518.4,184.6 L519,184.6 L519.6,183.8 L520.2,184.5 L520.8,184.6 L521.4,184.6 L522,184.6 L522.6,184.6 L523.2,184.6 L523.8,184.6 L524.4,184.5 L525,184.6 L525.6,184.6 L526.2,184.6 L526.8,184.6 L527.4,184.6 L528,184.6 L528.6,184.4 L529.2,184.1 L529.8,184.6 L530.4,184.6 L531,184.6 L531.6,184.6 L532.2,184.6 L532.8,184.6 L533.4,184.2 L534,183.9 L534.6,184.2 L535.2,184.6 L535.8,184.6 L536.4,184.6 L537,184.5 L537.6,184.3 L538.2,184.6 L538.8,184.6 L539.4,184.6 L540,184.6 L540.6,184.6 L541.2,184.6 L541.8,184.3 L542.4,184 L543,184.1 L543.6,184.2 L544.2,184.6" fill="none" stroke="#5fb43c" stroke-width="1.1" stroke-linejoin="round"/>
<path d="M396,154.3 L396.6,169.7 L397.2,176.9 L397.8,180.5 L398.4,181.8 L399,182.7 L399.6,183.1 L400.2,183 L400.8,182.7 L401.4,181.9 L402,181.1 L402.6,180.6 L403.2,180.1 L403.8,178.9 L404.4,177.6 L405,176.9 L405.6,176.3 L406.2,175.6 L406.8,175.1 L407.4,174.5 L408,173.8 L408.6,172.8 L409.2,171.7 L409.8,171.6 L410.4,171.4 L411,169.7 L411.6,167.9 L412.2,167.1 L412.8,166.3 L413.4,163.1 L414,159.7 L414.6,159.9 L415.2,160.2 L415.8,156.2 L416.4,152.2 L417,151.8 L417.6,151.4 L418.2,147.5 L418.8,143.4 L419.4,141.7 L420,139.9 L420.6,137 L421.2,134.1 L421.8,130.1 L422.4,126.2 L423,125.4 L423.6,124.6 L424.2,121.6 L424.8,118.7 L425.4,113.7 L426,108.8 L426.6,107.1 L427.2,105.6 L427.8,104.2 L428.4,102.9 L429,98.4 L429.6,94.1 L430.2,92.3 L430.8,90.8 L431.4,91.4 L432,92.2 L432.6,90.4 L433.2,88.8 L433.8,88.9 L434.4,89.3 L435,88.7 L435.6,88.4 L436.2,88.2 L436.8,88.3 L437.4,90.7 L438,93.5 L438.6,94 L439.2,94.8 L439.8,98.9 L440.4,107.1 L441,109.7 L441.6,112.5 L442.2,114.1 L442.8,115.8 L443.4,120.3 L444,124.9 L444.6,128.4 L445.2,131.8 L445.8,134.9 L446.4,137.9 L447,141.6 L447.6,145.2 L448.2,148.6 L448.8,151.9 L449.4,155.7 L450,159.4 L450.6,160.2 L451.2,161 L451.8,162.9 L452.4,164.6 L453,166.7 L453.6,168.6 L454.2,170.9 L454.8,173 L455.4,174.8 L456,176.4 L456.6,177.5 L457.2,178.5 L457.8,179 L458.4,179.4 L459,180.1 L459.6,180.7 L460.2,181.8 L460.8,182.8 L461.4,183.1 L462,183.3 L462.6,183.4 L463.2,183.6 L463.8,183.7 L464.4,183.7 L465,183.6 L465.6,183.5 L466.2,183.9 L466.8,184.2 L467.4,184.6 L468,184.6 L468.6,184.5 L469.2,183.9 L469.8,184.3 L470.4,184.6 L471,184.6 L471.6,184.5 L472.2,184.6 L472.8,184.6 L473.4,184.6 L474,184.6 L474.6,184.6 L475.2,184.6 L475.8,184.5 L476.4,184.2 L477,184.6 L477.6,184.6 L478.2,184.6 L478.8,184.5 L479.4,184.6 L480,184.6 L480.6,184.6 L481.2,184.3 L481.8,184.6 L482.4,184.6 L483,184.6 L483.6,184.6 L484.2,184.6 L484.8,184.6 L485.4,184.6 L486,184.4 L486.6,184.6 L487.2,184.6 L487.8,184.6 L488.4,184.6 L489,184.6 L489.6,184.6 L490.2,184.6 L490.8,184.6 L491.4,184.6 L492,184.6 L492.6,184.3 L493.2,183.9 L493.8,184.3 L494.4,184.6 L495,184.3 L495.6,183.9 L496.2,184.5 L496.8,184.6 L497.4,184.5 L498,184 L498.6,184.4 L499.2,184.6 L499.8,184.6 L500.4,184.6 L501,184.6 L501.6,184.2 L502.2,184.1 L502.8,184 L503.4,184.6 L504,184.6 L504.6,184.6 L505.2,184.6 L505.8,184.6 L506.4,184.2 L507,184.5 L507.6,184.6 L508.2,184.6 L508.8,184.6 L509.4,184.6 L510,184.6 L510.6,184.6 L511.2,184.6 L511.8,184.6 L512.4,184.4 L513,184.1 L513.6,183.9 L514.2,183.9 L514.8,183.8 L515.4,184.2 L516,184.6 L516.6,184.6 L517.2,184.6 L517.8,184.6 L518.4,184.6 L519,184.5 L519.6,184.2 L520.2,184.1 L520.8,184.1 L521.4,184.2 L522,184.4 L522.6,184.6 L523.2,184.6 L523.8,184.6 L524.4,184.6 L525,184.6 L525.6,184.6 L526.2,184.5 L526.8,184.4 L527.4,184.6 L528,184.6 L528.6,184.4 L529.2,183.9 L529.8,184 L530.4,184 L531,184.6 L531.6,184.6 L532.2,184.6 L532.8,184.6 L533.4,184.5 L534,184 L534.6,184.5 L535.2,184.6 L535.8,184.4 L536.4,183.9 L537,184.2 L537.6,184.6 L538.2,184.4 L538.8,184.3 L539.4,184.3 L540,184.3 L540.6,184.6 L541.2,184.6 L541.8,184.6 L542.4,184.6 L543,184.6 L543.6,184.6 L544.2,184.6" fill="none" stroke="#2b3fa6" stroke-width="1.1" stroke-linejoin="round"/>
<line x1="141" y1="340.7" x2="283" y2="340.7" stroke="#111" stroke-width="1.2"/>
<line x1="141" y1="235.8" x2="141" y2="340.7" stroke="#111" stroke-width="1.2"/>
<line x1="138.4" y1="340.7" x2="141" y2="340.7" stroke="#111" stroke-width="0.9"/>
<text x="137.2" y="343.6" font-size="8.1" text-anchor="end" fill="#222">0.0</text>
<line x1="138.4" y1="327.6" x2="141" y2="327.6" stroke="#111" stroke-width="0.9"/>
<text x="137.2" y="330.6" font-size="8.1" text-anchor="end" fill="#222">0.5</text>
<line x1="138.4" y1="314.6" x2="141" y2="314.6" stroke="#111" stroke-width="0.9"/>
<text x="137.2" y="317.5" font-size="8.1" text-anchor="end" fill="#222">1.0</text>
<line x1="138.4" y1="301.5" x2="141" y2="301.5" stroke="#111" stroke-width="0.9"/>
<text x="137.2" y="304.5" font-size="8.1" text-anchor="end" fill="#222">1.5</text>
<line x1="138.4" y1="288.5" x2="141" y2="288.5" stroke="#111" stroke-width="0.9"/>
<text x="137.2" y="291.4" font-size="8.1" text-anchor="end" fill="#222">2.0</text>
<line x1="138.4" y1="275.4" x2="141" y2="275.4" stroke="#111" stroke-width="0.9"/>
<text x="137.2" y="278.4" font-size="8.1" text-anchor="end" fill="#222">2.5</text>
<line x1="138.4" y1="262.4" x2="141" y2="262.4" stroke="#111" stroke-width="0.9"/>
<text x="137.2" y="265.3" font-size="8.1" text-anchor="end" fill="#222">3.0</text>
<line x1="138.4" y1="249.3" x2="141" y2="249.3" stroke="#111" stroke-width="0.9"/>
<text x="137.2" y="252.3" font-size="8.1" text-anchor="end" fill="#222">3.5</text>
<line x1="138.4" y1="236.3" x2="141" y2="236.3" stroke="#111" stroke-width="0.9"/>
<text x="137.2" y="239.2" font-size="8.1" text-anchor="end" fill="#222">4.0</text>
<line x1="158.5" y1="340.7" x2="158.5" y2="343.5" stroke="#111" stroke-width="0.9"/>
<line x1="194" y1="340.7" x2="194" y2="343.5" stroke="#111" stroke-width="0.9"/>
<line x1="229.6" y1="340.7" x2="229.6" y2="343.5" stroke="#111" stroke-width="0.9"/>
<line x1="265.2" y1="340.7" x2="265.2" y2="343.5" stroke="#111" stroke-width="0.9"/>
<line x1="158.5" y1="312" x2="158.5" y2="314.6" stroke="#111" stroke-width="1"/>
<line x1="154" y1="312" x2="163" y2="312" stroke="#111" stroke-width="1.1"/>
<rect x="146.4" y="314.6" width="24.2" height="26.1" fill="#fff" stroke="#111" stroke-width="1.2"/>
<line x1="194" y1="302.1" x2="194" y2="303.4" stroke="#111" stroke-width="1"/>
<line x1="189.5" y1="302.1" x2="198.5" y2="302.1" stroke="#111" stroke-width="1.1"/>
<rect x="181.9" y="303.4" width="24.2" height="37.3" fill="#fff" stroke="#111" stroke-width="1.2"/>
<line x1="229.6" y1="248.8" x2="229.6" y2="255.9" stroke="#111" stroke-width="1"/>
<line x1="225.1" y1="248.8" x2="234.1" y2="248.8" stroke="#111" stroke-width="1.1"/>
<rect x="217.5" y="255.9" width="24.2" height="84.8" fill="#fff" stroke="#111" stroke-width="1.2"/>
<line x1="265.2" y1="294.5" x2="265.2" y2="300.2" stroke="#111" stroke-width="1"/>
<line x1="260.7" y1="294.5" x2="269.7" y2="294.5" stroke="#111" stroke-width="1.1"/>
<rect x="253.1" y="300.2" width="24.2" height="40.5" fill="#fff" stroke="#111" stroke-width="1.2"/>
<path d="M158.5 311.5 V240.5 H229.6 V245.5" fill="none" stroke="#444" stroke-width="0.9"/>
<text x="193.7" y="243.2" font-size="12" text-anchor="middle" fill="#1a1a1a" font-weight="bold">***</text>
<path d="M229.6 245.5 V232.2 H265.2 V289.5" fill="none" stroke="#444" stroke-width="0.9"/>
<text x="246.5" y="235.2" font-size="12" text-anchor="middle" fill="#1a1a1a" font-weight="bold">***</text>
<text x="120.4" y="285.9" font-size="9.85" text-anchor="middle" fill="#111" transform="rotate(-90 120.4 285.9)">Relative ROS level</text>
<text x="163.4" y="352.5" font-size="9.7" text-anchor="end" fill="#111" transform="rotate(-45 163.4 352.5)">Control</text>
<text x="198" y="352.5" font-size="9.7" text-anchor="end" fill="#111" transform="rotate(-45 198 352.5)">NAC</text>
<text x="230.8" y="352.5" font-size="9.7" text-anchor="end" fill="#111" transform="rotate(-45 230.8 352.5)">Chaetocin</text>
<text x="266.7" y="352.5" font-size="9.7" text-anchor="end" fill="#111" transform="rotate(-45 266.7 352.5)">NAC+chaetocin</text>
<line x1="405.7" y1="340.7" x2="548.7" y2="340.7" stroke="#111" stroke-width="1.2"/>
<line x1="405.7" y1="233.1" x2="405.7" y2="340.7" stroke="#111" stroke-width="1.2"/>
<line x1="403.1" y1="340.7" x2="405.7" y2="340.7" stroke="#111" stroke-width="0.9"/>
<text x="401.9" y="343.6" font-size="8.1" text-anchor="end" fill="#222">0.0</text>
<line x1="403.1" y1="327.3" x2="405.7" y2="327.3" stroke="#111" stroke-width="0.9"/>
<text x="401.9" y="330.2" font-size="8.1" text-anchor="end" fill="#222">0.5</text>
<line x1="403.1" y1="313.9" x2="405.7" y2="313.9" stroke="#111" stroke-width="0.9"/>
<text x="401.9" y="316.8" font-size="8.1" text-anchor="end" fill="#222">1.0</text>
<line x1="403.1" y1="300.5" x2="405.7" y2="300.5" stroke="#111" stroke-width="0.9"/>
<text x="401.9" y="303.4" font-size="8.1" text-anchor="end" fill="#222">1.5</text>
<line x1="403.1" y1="287.1" x2="405.7" y2="287.1" stroke="#111" stroke-width="0.9"/>
<text x="401.9" y="290.1" font-size="8.1" text-anchor="end" fill="#222">2.0</text>
<line x1="403.1" y1="273.8" x2="405.7" y2="273.8" stroke="#111" stroke-width="0.9"/>
<text x="401.9" y="276.7" font-size="8.1" text-anchor="end" fill="#222">2.5</text>
<line x1="403.1" y1="260.4" x2="405.7" y2="260.4" stroke="#111" stroke-width="0.9"/>
<text x="401.9" y="263.3" font-size="8.1" text-anchor="end" fill="#222">3.0</text>
<line x1="403.1" y1="247" x2="405.7" y2="247" stroke="#111" stroke-width="0.9"/>
<text x="401.9" y="249.9" font-size="8.1" text-anchor="end" fill="#222">3.5</text>
<line x1="403.1" y1="233.6" x2="405.7" y2="233.6" stroke="#111" stroke-width="0.9"/>
<text x="401.9" y="236.5" font-size="8.1" text-anchor="end" fill="#222">4.0</text>
<line x1="423.5" y1="340.7" x2="423.5" y2="343.5" stroke="#111" stroke-width="0.9"/>
<line x1="459.3" y1="340.7" x2="459.3" y2="343.5" stroke="#111" stroke-width="0.9"/>
<line x1="495.2" y1="340.7" x2="495.2" y2="343.5" stroke="#111" stroke-width="0.9"/>
<line x1="530.6" y1="340.7" x2="530.6" y2="343.5" stroke="#111" stroke-width="0.9"/>
<line x1="423.5" y1="313.4" x2="423.5" y2="314.2" stroke="#111" stroke-width="1"/>
<line x1="419" y1="313.4" x2="428" y2="313.4" stroke="#111" stroke-width="1.1"/>
<rect x="411.4" y="314.2" width="24.3" height="26.5" fill="#7f7f7f" stroke="#111" stroke-width="1.2"/>
<line x1="459.3" y1="306.7" x2="459.3" y2="309.9" stroke="#111" stroke-width="1"/>
<line x1="454.8" y1="306.7" x2="463.8" y2="306.7" stroke="#111" stroke-width="1.1"/>
<rect x="447.2" y="309.9" width="24.3" height="30.8" fill="#7f7f7f" stroke="#111" stroke-width="1.2"/>
<line x1="495.2" y1="255" x2="495.2" y2="256.3" stroke="#111" stroke-width="1"/>
<line x1="490.7" y1="255" x2="499.7" y2="255" stroke="#111" stroke-width="1.1"/>
<rect x="483.1" y="256.3" width="24.3" height="84.4" fill="#7f7f7f" stroke="#111" stroke-width="1.2"/>
<line x1="530.6" y1="313.4" x2="530.6" y2="314.2" stroke="#111" stroke-width="1"/>
<line x1="526.1" y1="313.4" x2="535.1" y2="313.4" stroke="#111" stroke-width="1.1"/>
<rect x="518.5" y="314.2" width="24.3" height="26.5" fill="#7f7f7f" stroke="#111" stroke-width="1.2"/>
<path d="M423.5 308.7 V245.4 H495.2 V251.6" fill="none" stroke="#444" stroke-width="0.9"/>
<text x="458.7" y="246.4" font-size="12" text-anchor="middle" fill="#1a1a1a" font-weight="bold">***</text>
<path d="M495.2 251.6 V235.6 H530.6 V310" fill="none" stroke="#444" stroke-width="0.9"/>
<text x="512.9" y="237.7" font-size="12" text-anchor="middle" fill="#1a1a1a" font-weight="bold">***</text>
<text x="384.6" y="285.9" font-size="9.85" text-anchor="middle" fill="#111" transform="rotate(-90 384.6 285.9)">Relative ROS level</text>
<text x="426.5" y="352.5" font-size="9.7" text-anchor="end" fill="#111" transform="rotate(-45 426.5 352.5)">Control</text>
<text x="461.8" y="352.5" font-size="9.7" text-anchor="end" fill="#111" transform="rotate(-45 461.8 352.5)">NAC</text>
<text x="495.2" y="352.5" font-size="9.7" text-anchor="end" fill="#111" transform="rotate(-45 495.2 352.5)">Chaetocin</text>
<text x="530.1" y="352.5" font-size="9.7" text-anchor="end" fill="#111" transform="rotate(-45 530.1 352.5)">NAC+chaetocin</text>
<text x="1.2" y="438.2" font-size="24.6">B</text>
<text x="49.1" y="440.1" font-size="16.5" text-anchor="middle" transform="rotate(-90 49.1 440.1)">PI</text>
<line x1="43.4" y1="457" x2="43.4" y2="643.5" stroke="#3a3a3a" stroke-width="1.2"/>
<path d="M43.4 450.4 L45.8 458.4 L41 458.4 Z" fill="#222"/>
<line x1="46" y1="658.1" x2="384" y2="658.1" stroke="#3a3a3a" stroke-width="1.2"/>
<path d="M390.8 658.1 L382.8 655.8 L382.8 660.4 Z" fill="#222"/>
<text x="396.6" y="661.7" font-size="16.1">Annexin V</text>
<text x="122" y="441" font-size="13.1" text-anchor="middle">Control</text>
<text x="221.2" y="441" font-size="13.1" text-anchor="middle">NAC</text>
<text x="318.7" y="441" font-size="13.1" text-anchor="middle">Chaetocin</text>
<text x="422.3" y="441" font-size="13.1" text-anchor="middle">NAC+chaetocin</text>
<text x="60.8" y="489.1" font-size="12.6" text-anchor="middle" transform="rotate(-90 60.8 489.1)">36 h</text>
<text x="60.8" y="589.8" font-size="12.6" text-anchor="middle" transform="rotate(-90 60.8 589.8)">24 h</text>
<line x1="65" y1="443.8" x2="65" y2="535.2" stroke="#4a4a4a" stroke-width="1.3"/>
<line x1="65" y1="550.2" x2="65" y2="641.8" stroke="#4a4a4a" stroke-width="1.3"/>
<text x="479.9" y="487.8" font-size="12.9" text-anchor="middle" transform="rotate(-90 479.9 487.8)">HGC-27</text>
<text x="479.3" y="595.2" font-size="12.4" text-anchor="middle" transform="rotate(-90 479.3 595.2)">AGS</text>
<rect x="79.8" y="446.6" width="82.5" height="83.8" fill="#fff" stroke="none" stroke-width="1"/>
<ellipse cx="102.1" cy="514.5" rx="16.5" ry="9.2" fill="url(#core)" fill-opacity="0.9" transform="rotate(-20 102.1 514.5)"/>
<g transform="translate(79.8 446.6) scale(0.08250 0.08380)"><path d="M202 848h9M481 770h9M115 836h9M275 761h9M223 728h9M322 628h9M319 773h9M405 707h9M184 781h9M194 751h9M203 803h9M182 811h9M402 690h9M197 913h9M334 828h9M183 788h9M137 796h9M371 771h9M170 850h9M414 747h9M388 764h9M275 791h9M275 784h9M348 704h9M247 872h9M194 888h9M55 873h9M184 716h9M205 915h9M301 795h9M350 770h9M452 791h9M286 828h9M212 928h9M324 892h9M299 767h9M303 895h9M344 825h9M302 818h9M460 781h9M240 796h9M114 884h9M239 799h9M226 705h9M458 668h9M259 767h9M474 628h9M331 819h9M380 720h9M271 812h9M127 943h9M134 828h9M284 845h9M238 725h9M142 871h9M141 720h9M224 729h9M339 823h9M326 774h9M311 779h9M326 749h9M185 783h9M183 914h9M223 876h9M194 898h9M347 726h9M197 744h9M252 858h9M158 814h9M251 795h9M559 655h9M253 879h9M220 865h9M199 977h9M276 874h9M484 753h9M356 756h9M183 819h9M218 846h9M256 934h9M402 729h9M245 725h9M161 951h9M287 855h9M252 847h9M236 880h9M252 766h9M296 689h9M319 765h9M280 769h9M243 897h9M150 959h9M233 812h9M304 725h9M211 961h9M188 835h9M64 951h9M144 720h9M367 822h9M207 822h9M282 791h9M139 911h9M395 770h9M361 780h9M283 786h9M230 744h9M343 788h9M274 705h9M162 789h9M373 674h9M406 814h9M342 806h9M343 772h9M350 823h9M277 770h9M315 734h9M445 809h9M268 912h9M322 689h9M279 728h9M466 717h9M352 720h9M184 910h9M220 877h9M321 932h9M53 965h9M279 820h9M239 840h9M209 877h9M278 819h9M288 807h9M266 806h9M466 615h9M373 894h9M319 703h9M305 892h9M227 655h9M239 910h9M238 755h9M265 883h9M36 869h9M86 805h9M377 750h9M256 819h9M232 866h9M161 903h9M417 647h9M262 775h9M225 812h9M396 704h9M362 732h9M342 829h9M334 894h9M280 782h9M302 919h9M355 858h9M27 898h9M249 919h9M288 812h9M252 895h9M336 782h9M233 893h9M183 853h9M72 921h9M385 780h9M254 838h9M341 722h9M283 830h9M330 728h9M241 783h9M317 736h9M276 841h9M273 828h9M259 717h9M348 779h9M300 759h9M304 819h9M218 957h9M264 683h9M186 736h9M178 863h9M376 836h9M205 753h9M237 767h9M512 794h9M381 654h9M256 820h9M343 741h9M414 843h9M259 742h9M321 810h9M341 744h9M174 952h9M270 813h9M283 773h9M175 872h9M382 812h9M145 908h9M319 663h9M379 861h9M272 843h9M350 762h9M246 855h9M394 858h9M222 889h9M366 684h9M314 728h9M267 896h9M278 676h9M215 765h9M116 818h9M398 744h9M80 857h9M173 776h9M293 803h9M289 868h9M235 770h9M298 679h9M335 633h9M178 840h9M287 882h9M301 820h9M251 826h9M301 737h9M228 772h9M109 901h9M157 804h9M274 849h9M281 803h9M131 765h9M268 751h9M389 620h9M289 818h9M204 836h9M330 782h9M224 894h9M229 739h9M339 756h9M412 694h9M142 780h9M206 771h9M191 853h9M95 893h9M319 772h9M374 764h9M353 732h9M324 724h9M226 718h9M361 923h9M55 844h9M318 834h9M510 750h9M351 693h9M206 906h9M240 865h9M340 870h9M365 628h9M256 832h9M319 783h9M176 921h9M448 804h9M278 764h9M345 751h9M173 809h9M319 868h9M326 906h9M271 881h9M155 801h9M116 832h9M349 856h9M256 730h9M210 816h9M346 740h9M405 799h9M469 696h9M238 900h9M346 780h9M202 766h9M361 716h9M150 902h9M132 847h9M401 688h9M392 858h9M268 853h9M251 793h9M303 917h9M384 803h9M318 906h9M287 785h9M449 866h9M230 904h9M103 784h9M252 791h9M271 827h9M229 908h9M342 741h9M234 705h9M275 860h9M311 746h9M133 818h9M343 801h9M343 713h9M113 809h9M194 897h9M286 839h9M273 844h9M133 839h9M213 833h9M181 821h9M242 751h9M201 806h9M168 971h9M319 803h9M271 742h9M132 903h9M161 879h9M514 731h9M285 846h9M262 825h9M407 794h9M353 810h9M241 861h9M315 810h9M340 781h9M196 896h9M313 881h9M305 942h9M303 784h9M247 781h9M108 889h9M308 728h9M260 798h9M252 763h9M159 962h9M365 746h9M122 833h9M409 637h9M239 735h9M152 800h9M361 837h9M126 722h9M373 632h9M225 862h9M459 758h9M78 873h9M326 761h9M22 864h9M47 734h9M120 901h9M270 839h9M377 814h9M301 772h9M299 874h9M438 808h9M160 861h9M280 975h9M217 752h9M282 790h9M349 759h9M112 940h9M260 971h9M253 689h9M218 768h9M111 968h9M226 815h9M173 776h9M236 850h9M246 777h9M160 846h9M210 758h9M262 895h9M249 876h9M304 809h9M300 784h9M172 830h9M263 801h9M268 828h9M83 984h9M258 727h9M340 829h9M283 810h9M104 906h9M72 864h9M449 764h9M108 845h9M356 842h9M325 777h9M221 841h9M404 623h9M88 906h9M351 874h9M196 808h9M324 771h9M123 851h9M324 733h9M120 759h9M202 714h9M115 970h9M245 765h9M182 830h9M62 964h9M195 838h9M393 739h9M247 811h9M139 765h9M196 870h9M534 767h9M330 780h9M189 868h9M302 687h9M355 821h9M387 788h9M177 890h9M321 919h9M146 846h9M311 909h9M227 851h9M325 746h9M349 765h9M226 795h9M348 712h9M314 820h9M242 879h9M491 727h9M347 736h9M341 778h9M200 779h9M36 913h9M176 880h9M314 852h9M226 885h9M259 838h9M331 701h9M254 870h9M393 746h9M338 747h9M323 894h9M280 830h9M257 826h9M423 769h9M288 923h9M332 882h9M293 809h9M397 719h9M392 692h9M115 802h9M359 729h9M227 920h9M291 758h9M362 867h9M240 816h9M227 923h9M99 961h9M136 934h9M261 758h9M631 722h9M369 721h9M206 905h9M188 794h9M308 810h9M400 710h9M358 773h9M119 888h9M253 723h9M157 938h9M31 856h9M47 834h9M131 789h9M223 736h9M260 832h9M266 833h9M273 839h9M265 753h9M249 728h9M151 749h9M133 775h9M210 755h9M180 865h9M291 885h9M121 884h9M271 751h9M368 843h9M132 869h9M407 797h9M332 744h9M159 792h9M227 753h9M296 818h9M364 736h9M354 774h9M261 702h9M308 724h9M362 846h9M209 800h9M421 795h9M231 863h9M272 679h9M352 883h9M207 733h9M344 905h9M251 835h9M336 769h9M287 855h9M366 754h9M314 738h9M228 891h9M144 866h9M483 772h9M209 827h9M241 848h9M304 794h9M76 822h9M86 863h9M102 878h9M99 872h9M211 786h9M309 899h9M298 888h9M295 877h9M180 917h9M237 806h9M399 861h9M212 765h9M437 659h9M354 749h9M456 728h9M204 929h9M124 896h9M295 813h9M253 781h9M221 817h9M171 902h9M224 936h9M285 794h9M146 820h9M238 871h9M373 803h9M110 850h9M398 820h9M308 819h9M276 796h9M129 910h9M306 715h9M294 718h9M462 761h9M253 790h9M265 731h9M201 770h9M40 892h9M197 778h9M204 755h9M325 726h9M81 877h9M45 920h9M201 767h9M255 807h9M234 913h9M291 804h9M368 858h9M304 816h9M247 712h9M239 842h9M514 691h9M242 875h9M200 821h9M197 675h9M456 667h9M275 864h9M266 886h9M175 898h9M47 803h9M269 870h9M181 846h9M315 756h9M303 831h9M256 793h9M337 791h9M318 699h9M410 700h9M254 829h9M276 847h9M398 708h9M346 807h9M230 747h9M317 955h9M217 878h9M63 846h9M248 753h9M366 609h9M277 849h9M301 946h9M229 766h9M221 702h9M72 832h9M131 784h9M370 795h9M345 665h9M359 793h9M497 872h9M465 771h9M174 821h9M267 759h9M250 776h9M347 782h9M384 700h9M22 785h9M229 862h9M209 904h9M415 778h9M251 774h9M181 808h9M285 691h9M221 750h9M167 771h9M302 743h9M239 735h9M81 921h9M255 816h9M260 930h9M324 809h9M204 847h9M145 917h9M340 841h9M182 854h9M346 745h9M323 703h9M267 746h9M345 778h9M287 826h9M95 865h9M394 799h9M420 728h9M374 870h9M298 894h9M261 876h9M325 773h9M143 832h9M355 781h9M105 816h9M235 758h9M311 729h9M343 715h9M198 816h9M249 730h9M142 692h9M357 791h9M232 862h9M340 687h9M328 807h9M211 742h9M299 762h9M152 839h9M244 742h9M241 753h9M287 882h9M157 816h9M517 762h9M379 846h9M150 812h9M429 644h9M277 782h9M226 841h9M257 864h9M250 891h9M340 728h9M256 814h9M325 744h9M174 871h9M137 796h9M264 756h9M31 853h9M228 806h9M275 729h9M402 778h9M188 842h9M155 733h9M355 786h9M164 915h9M248 864h9M267 747h9M189 827h9M478 710h9M188 775h9M200 682h9M148 947h9M280 698h9M190 814h9M231 841h9M313 803h9M297 861h9M368 691h9M422 703h9M272 756h9M299 792h9M376 857h9M83 826h9M240 751h9M183 799h9M145 854h9M226 924h9M184 786h9M206 840h9M286 793h9M264 845h9M390 703h9M208 885h9M402 663h9M264 776h9M254 856h9M468 768h9M101 820h9M343 705h9M231 783h9M215 968h9M91 893h9M190 792h9M220 912h9M328 785h9M208 892h9M318 745h9M306 809h9M295 798h9M23 938h9M385 789h9M288 775h9M384 845h9M85 974h9M104 888h9M258 809h9M351 821h9M430 717h9M314 757h9M327 873h9M445 800h9M206 776h9M357 685h9M324 842h9M372 970h9M189 890h9M202 897h9M183 777h9M307 834h9M474 659h9M291 764h9M194 673h9M83 904h9M221 934h9M306 792h9M153 927h9M278 864h9M105 762h9M277 860h9M251 837h9M272 856h9M345 717h9M131 871h9M288 680h9M247 825h9M335 792h9M388 723h9M215 839h9M281 743h9M298 827h9M264 796h9M235 797h9M154 825h9M278 745h9M112 887h9M304 812h9M342 825h9M311 748h9M263 685h9M328 785h9M192 842h9M288 822h9M390 811h9M334 842h9M433 717h9M162 787h9M259 843h9M266 753h9M361 669h9M207 871h9M253 917h9M195 733h9M253 921h9M268 820h9M172 800h9M41 821h9M82 939h9M174 800h9M229 731h9M326 879h9M350 774h9M341 781h9M278 761h9M301 765h9M290 807h9M308 909h9M275 837h9M468 857h9M337 921h9M192 728h9M240 811h9M213 835h9M376 842h9M63 889h9M330 810h9M107 908h9M328 775h9M366 793h9M367 809h9M442 830h9M224 937h9M344 842h9M188 735h9M423 820h9M191 863h9M256 844h9M356 701h9M241 708h9M251 865h9M331 792h9M116 818h9M367 757h9M56 925h9M315 813h9M263 752h9M263 786h9M139 909h9M474 708h9M159 913h9M98 787h9M288 861h9M60 914h9M231 833h9M451 726h9M228 887h9M159 871h9M399 731h9M327 772h9M158 831h9M139 933h9M145 821h9M123 895h9M272 749h9M315 840h9M67 896h9M63 936h9M175 828h9M153 839h9M70 947h9M321 844h9M242 792h9M423 705h9M110 842h9M388 776h9M328 842h9M305 696h9M207 807h9M373 892h9M279 707h9M243 876h9M72 801h9M335 770h9M190 840h9M362 925h9M165 800h9M399 782h9M189 882h9M191 880h9M263 839h9M371 823h9M370 799h9M271 868h9M318 797h9M248 663h9M293 771h9M327 903h9M238 861h9M268 711h9M304 813h9M236 810h9M298 802h9M338 864h9M295 735h9M280 869h9M434 731h9M229 801h9M383 764h9M193 863h9M305 882h9M193 869h9M450 790h9M178 835h9M282 897h9M341 683h9M372 728h9M90 790h9M182 947h9M287 863h9M206 845h9M189 841h9M252 843h9M425 691h9M249 787h9M404 718h9M351 804h9M182 960h9M360 727h9M402 841h9M266 743h9M251 727h9M184 698h9M258 824h9M138 892h9M228 885h9M329 836h9M247 804h9M378 767h9M159 890h9M295 817h9M187 791h9M359 829h9M387 718h9M267 777h9M334 792h9M396 682h9M191 774h9M293 899h9M473 799h9M309 827h9M247 835h9M272 745h9M261 820h9M338 670h9M410 738h9M375 665h9M89 897h9M316 718h9M332 812h9M259 941h9M431 632h9M212 853h9M316 836h9M377 778h9M236 763h9M120 816h9M353 788h9M260 755h9M290 837h9M229 811h9M203 912h9M242 851h9M207 807h9M400 792h9M369 890h9M440 739h9M249 794h9M246 961h9M426 676h9M298 816h9M216 750h9M209 858h9M256 807h9M245 862h9M196 728h9M224 802h9M325 743h9M139 795h9M241 811h9M154 755h9M337 843h9M280 818h9M293 705h9M277 850h9M320 759h9M339 776h9M193 840h9M159 805h9M238 825h9M276 709h9M187 905h9M287 766h9M325 759h9M290 803h9M240 715h9M208 794h9M275 745h9M285 889h9M426 807h9M266 811h9M352 908h9M260 781h9M207 803h9M450 668h9M300 814h9M226 740h9M235 742h9M237 839h9M347 769h9M288 812h9M423 804h9M251 814h9M207 790h9M217 805h9M199 869h9M239 759h9M334 835h9M250 858h9M431 741h9M199 892h9M348 808h9M94 898h9M94 908h9M167 754h9M79 835h9M193 835h9M407 870h9M234 863h9M253 785h9M163 860h9M377 749h9M211 745h9M148 904h9M159 863h9M337 823h9M66 824h9M331 769h9M212 851h9M437 800h9M214 919h9M222 832h9M207 877h9M249 772h9M219 712h9M387 762h9M232 753h9M113 983h9M193 833h9M179 716h9M239 901h9M274 799h9M171 834h9M203 720h9M196 915h9M113 783h9M206 721h9M454 616h9M209 718h9M330 807h9M188 895h9M208 725h9M43 833h9M229 902h9M152 900h9M382 704h9M318 825h9M157 877h9M314 653h9M400 818h9M147 727h9M253 748h9M240 844h9M306 895h9M68 939h9M315 833h9M211 772h9M322 843h9M253 834h9M256 811h9M197 735h9M348 831h9M224 863h9M216 851h9M467 699h9M324 845h9M105 705h9M224 788h9M192 827h9M254 718h9M256 843h9M132 790h9M304 807h9M304 813h9M256 868h9M59 873h9M271 798h9M189 817h9M290 898h9M283 780h9M287 835h9M237 714h9M142 834h9M270 751h9M128 951h9M380 851h9M384 764h9M475 758h9M267 756h9M313 696h9M332 743h9M158 780h9M60 945h9M463 760h9M400 839h9M329 831h9M209 698h9M305 744h9M320 752h9M295 801h9M194 920h9M235 901h9M286 819h9M182 872h9M214 784h9M75 979h9M296 870h9M196 815h9M248 761h9M180 895h9M144 891h9M337 759h9M204 888h9M299 767h9M83 885h9M304 853h9M321 847h9M121 774h9M174 823h9M310 746h9M164 801h9M201 748h9M99 767h9M210 942h9M163 850h9M379 816h9M296 876h9M158 771h9M338 846h9M218 725h9M157 933h9M326 759h9M312 743h9M204 756h9M372 695h9M466 709h9M131 913h9M288 781h9M239 823h9M257 729h9M295 802h9M390 889h9M97 849h9M197 815h9M235 848h9M314 703h9M221 770h9M133 854h9M223 758h9M222 844h9M313 654h9M138 861h9M430 756h9M374 689h9M154 775h9M230 810h9M442 772h9M145 806h9M393 764h9M296 797h9M221 848h9M201 859h9M313 810h9M367 780h9M237 946h9M355 695h9M334 708h9M319 854h9M198 807h9M171 918h9M174 738h9M318 856h9M213 881h9M415 805h9M348 727h9M354 769h9M225 836h9M141 853h9M296 826h9M189 718h9M168 718h9M91 882h9M264 761h9M311 762h9M96 889h9M56 780h9M332 739h9M157 769h9M82 815h9M290 778h9M218 870h9M199 798h9M242 821h9M113 832h9M302 772h9M392 759h9M264 846h9M403 718h9M93 874h9M180 796h9M343 642h9M379 755h9M324 788h9M330 849h9M363 736h9M95 869h9M132 819h9M257 894h9M336 742h9M264 856h9M198 863h9M290 896h9M148 848h9M342 777h9M278 930h9M387 669h9M405 791h9M474 759h9M248 744h9M400 817h9M333 797h9M371 749h9M69 886h9M174 900h9M299 759h9M300 842h9M449 761h9M184 779h9M152 873h9M40 903h9M260 892h9M565 659h9M150 969h9M302 898h9M253 852h9M104 887h9M376 722h9M256 809h9M242 877h9M341 904h9M290 782h9M116 789h9M244 951h9M376 669h9M246 866h9M254 832h9M304 857h9M268 806h9M253 936h9M196 784h9M160 852h9M238 842h9M333 869h9M361 867h9M181 884h9M285 813h9M306 828h9M243 872h9M161 809h9M257 798h9M327 702h9M190 776h9M140 793h9M235 842h9M140 772h9M199 791h9M286 791h9M255 815h9M224 869h9M301 731h9M276 778h9M466 676h9M96 820h9M84 820h9M178 812h9M31 757h9M281 804h9M286 864h9M329 718h9M50 846h9M159 814h9M356 859h9M280 777h9M257 788h9M225 845h9M407 749h9M112 810h9M296 888h9M259 786h9M143 852h9M422 804h9M316 757h9M228 707h9M338 737h9M367 899h9M523 729h9M194 813h9M288 819h9M189 884h9M307 944h9M188 795h9M233 874h9M281 813h9M175 839h9M192 868h9M204 856h9M173 866h9M206 766h9M331 765h9M270 934h9M238 871h9M352 810h9M346 799h9M183 952h9M307 840h9M274 744h9M315 754h9M249 709h9M295 811h9M209 918h9M111 771h9M133 766h9M269 811h9M153 869h9M197 860h9M304 827h9M146 852h9M192 814h9M295 784h9M83 872h9M415 703h9M157 915h9M378 691h9M411 700h9M322 733h9M263 821h9M245 847h9M233 787h9M242 815h9M310 789h9M133 794h9M252 844h9M361 791h9M360 897h9M265 882h9M128 814h9M301 696h9M330 878h9M128 809h9M281 694h9M340 720h9M176 858h9M252 965h9M223 888h9M255 950h9M402 754h9M475 804h9M260 713h9M322 758h9M248 848h9M322 748h9M288 774h9M245 823h9M301 825h9M207 849h9M240 786h9M80 831h9M390 881h9M282 693h9M228 746h9M214 786h9M174 763h9M252 828h9M378 731h9M342 661h9M135 936h9M315 778h9M466 728h9M360 783h9M479 865h9M92 826h9M290 890h9M276 750h9M346 796h9M175 791h9M131 786h9M178 773h9M315 719h9M149 834h9M227 885h9M392 683h9M289 703h9M268 868h9M145 764h9M232 872h9M216 924h9M251 848h9M181 808h9M168 904h9M175 812h9M178 698h9M259 772h9M233 866h9M155 827h9M299 785h9M328 687h9M140 843h9M84 818h9M126 899h9M383 772h9M274 793h9M199 862h9M413 838h9M373 885h9M50 957h9M181 728h9M355 846h9M290 761h9M274 793h9M184 749h9M279 909h9M329 727h9M165 964h9M303 795h9M167 877h9M425 862h9M292 663h9M169 814h9M189 817h9M107 826h9M275 789h9M220 815h9M180 912h9M374 779h9M285 754h9M251 865h9M363 726h9M270 806h9M283 858h9M179 860h9M256 775h9M258 823h9M232 846h9M183 739h9M171 772h9M68 917h9M197 767h9M284 850h9M230 712h9M278 805h9M303 878h9M227 837h9M146 910h9M295 767h9M383 750h9M345 798h9M263 758h9M147 781h9M201 790h9M290 880h9M404 869h9M63 828h9M131 890h9M211 882h9M324 782h9M313 775h9M245 867h9M251 812h9M322 737h9M149 824h9M398 770h9M313 820h9M359 764h9M308 730h9M54 936h9M316 827h9M175 893h9M209 845h9M258 794h9M329 892h9M290 691h9M299 739h9M222 764h9M199 876h9M257 784h9M217 740h9M339 806h9M213 827h9M241 704h9M231 780h9M241 777h9M275 823h9M357 688h9M157 972h9M399 798h9M211 816h9M343 819h9M261 933h9M200 923h9M163 776h9M327 842h9M67 966h9M227 738h9M401 799h9M283 851h9M45 919h9M216 861h9M394 829h9M157 902h9M298 741h9M283 772h9M310 866h9M289 846h9M211 812h9M97 794h9M353 745h9M254 768h9M294 876h9M312 858h9M422 724h9M139 937h9M101 728h9M428 712h9M224 914h9M166 860h9M389 790h9M170 868h9M162 897h9M223 834h9M430 739h9M468 838h9M109 917h9M371 885h9M328 848h9M247 754h9M296 697h9M147 870h9M175 722h9M207 792h9M462 724h9M227 827h9M181 697h9M327 885h9M256 798h9M196 923h9M347 711h9M199 812h9M83 880h9M199 676h9M344 809h9M365 821h9M266 908h9M379 766h9M179 796h9M211 892h9M144 883h9M223 779h9M216 894h9M359 785h9M178 762h9M41 933h9M104 880h9M231 748h9M245 809h9M107 918h9M250 831h9M219 796h9M77 971h9M237 821h9M241 689h9M235 844h9M291 775h9M229 869h9M369 750h9M416 794h9M216 819h9M116 781h9M161 913h9M130 908h9M397 757h9M366 769h9M427 792h9M137 941h9M389 698h9M191 854h9M308 813h9M241 752h9M145 797h9M233 867h9M241 858h9M314 784h9M235 892h9M169 835h9M373 828h9M191 777h9M319 827h9M337 819h9M224 739h9M133 787h9M361 658h9M271 743h9M135 960h9M340 804h9M248 727h9M154 877h9M427 767h9M327 813h9M314 789h9M246 818h9M297 800h9M196 883h9M395 670h9M242 793h9M221 787h9M181 920h9M271 794h9M289 823h9M384 782h9M324 775h9M228 680h9M519 670h9M280 838h9M220 832h9M304 771h9M275 827h9M221 818h9M255 796h9M300 817h9M79 860h9M198 870h9M555 831h9M300 856h9M172 887h9M141 738h9M349 737h9M137 932h9M263 726h9M299 867h9M226 788h9M93 906h9M196 847h9M376 873h9M104 847h9M141 868h9M79 893h9M227 764h9M293 696h9M301 777h9M118 920h9M179 862h9M226 816h9M229 893h9M329 827h9M289 835h9M345 761h9M255 957h9M263 841h9M190 833h9M149 766h9M291 851h9M63 866h9M178 781h9M212 844h9M302 724h9M259 920h9M165 804h9M503 771h9M240 812h9M258 790h9M137 781h9M426 749h9M253 809h9M331 832h9M259 851h9M360 724h9M119 825h9M498 698h9M211 742h9M241 799h9M255 780h9M255 830h9M142 848h9M26 912h9M63 913h9M291 926h9M298 779h9M429 765h9M112 798h9M329 808h9M237 762h9M259 807h9M310 765h9M225 825h9M341 756h9M237 757h9M169 959h9M298 718h9M303 800h9M225 712h9M309 821h9M358 756h9M272 791h9M308 774h9M165 809h9M148 922h9M402 736h9M336 828h9M291 812h9M290 792h9M279 858h9M297 818h9M107 792h9M226 851h9M413 740h9M154 801h9M355 887h9M212 840h9M286 806h9M192 670h9M190 833h9M95 898h9M484 661h9M355 766h9M411 627h9M239 887h9M247 767h9M271 877h9M315 868h9M385 801h9M363 841h9M343 869h9M211 859h9M134 783h9M292 709h9M284 833h9M83 888h9M449 690h9M296 736h9M277 736h9M70 962h9M275 783h9M216 837h9M269 707h9M126 969h9M405 817h9M455 736h9M284 787h9M231 859h9M453 884h9M204 786h9M248 981h9M353 854h9M268 803h9M131 792h9M162 865h9M160 844h9M267 914h9M298 800h9M226 803h9M331 860h9M267 702h9M359 826h9M213 963h9M114 901h9M333 835h9M188 819h9M180 792h9M365 852h9M367 729h9M192 816h9M166 856h9M311 715h9M223 792h9M193 849h9M110 901h9M235 824h9M155 910h9M207 736h9M18 952h9M286 748h9M167 763h9M364 740h9M283 821h9M207 841h9M194 852h9M364 734h9M245 842h9M289 816h9M276 820h9M198 817h9M330 767h9M171 851h9M191 815h9M191 821h9M334 778h9M273 794h9M217 797h9M195 751h9M391 700h9M399 819h9M173 859h9M243 788h9M112 819h9M97 918h9M325 797h9M235 835h9M325 697h9M304 915h9M360 679h9M235 777h9M184 752h9M170 765h9M168 878h9M350 854h9M272 864h9M182 886h9M370 833h9M417 775h9M153 817h9M185 820h9M149 845h9M127 797h9M191 980h9M117 872h9M106 802h9M276 883h9M282 821h9M155 872h9M460 746h9M116 773h9M289 951h9M248 790h9M202 785h9M289 811h9M164 872h9M250 945h9M416 738h9M216 834h9M286 863h9M241 804h9M375 757h9M201 931h9M304 826h9M167 872h9M256 867h9M307 819h9M105 786h9M243 873h9M351 786h9M375 793h9M351 853h9M378 684h9M196 794h9M315 713h9M454 810h9M53 982h9M228 817h9M84 820h9M210 899h9M401 804h9M122 834h9M299 755h9M222 913h9M260 896h9M133 916h9M453 683h9M89 772h9M184 884h9M186 804h9M230 805h9M356 768h9M222 881h9M255 804h9M318 837h9M154 875h9M128 849h9M200 866h9M404 935h9M354 750h9M375 750h9M285 754h9M365 773h9M172 910h9M356 821h9M336 905h9M208 778h9M357 834h9M463 671h9M195 851h9M330 866h9M71 877h9M369 676h9M104 926h9M360 788h9M286 881h9M246 890h9M70 843h9M88 877h9M162 830h9M331 883h9M233 866h9M88 845h9M229 786h9M241 782h9M229 818h9M210 827h9M180 809h9M321 853h9M269 821h9M307 829h9M311 804h9M152 742h9M352 766h9M141 899h9M517 824h9M256 866h9M358 617h9M198 788h9M310 782h9M285 859h9M247 695h9M208 852h9M96 870h9M129 748h9M128 899h9M345 786h9M294 858h9M379 763h9M158 801h9M417 768h9M346 719h9M172 878h9M422 695h9M381 766h9M137 926h9M245 779h9M331 747h9M276 846h9M304 856h9M283 848h9M343 741h9M167 781h9M259 778h9M150 831h9M359 844h9M246 884h9M245 827h9M210 709h9M241 761h9M108 939h9M181 770h9M333 680h9M193 866h9M183 833h9M308 860h9M133 728h9M270 843h9M274 676h9M310 768h9M188 718h9M412 743h9M301 794h9M250 875h9M189 844h9M299 778h9M202 944h9M223 860h9M390 776h9M30 782h9M85 895h9M290 711h9M409 825h9M185 812h9M378 678h9M213 856h9M230 680h9M242 705h9M242 878h9M559 769h9M499 747h9M216 790h9M215 792h9M29 849h9M260 781h9M233 854h9M187 822h9M191 734h9M214 767h9M315 831h9M134 762h9M212 846h9M488 791h9M333 722h9M172 884h9M176 872h9M299 812h9M358 754h9M373 770h9M252 819h9M198 782h9M254 816h9M375 854h9M155 793h9M357 865h9M354 728h9M435 680h9M359 742h9M375 594h9M249 805h9M323 817h9M337 757h9M396 761h9M40 873h9M276 873h9M344 861h9M262 810h9M287 671h9M229 782h9M180 734h9M219 783h9M203 925h9M260 895h9M268 803h9M395 801h9M281 884h9M309 837h9M359 760h9M264 829h9M123 860h9M264 892h9M272 816h9M157 877h9M239 858h9M382 724h9M128 861h9M198 809h9M289 897h9M171 791h9M375 756h9M203 759h9M206 824h9M361 830h9M294 766h9M67 892h9M270 896h9M179 788h9M250 767h9M172 859h9M321 861h9M194 888h9M133 795h9M271 859h9M259 865h9M355 709h9M185 896h9M418 779h9M294 813h9M275 728h9M269 781h9M226 865h9M180 744h9M383 836h9M246 822h9M178 839h9M172 830h9M402 807h9M51 940h9M434 626h9M230 686h9M264 793h9M327 829h9M26 933h9M251 779h9M277 805h9M419 804h9M380 829h9M325 841h9M282 863h9M263 765h9M384 749h9M143 813h9M336 725h9M218 703h9M216 822h9M310 789h9M370 808h9M118 888h9M218 859h9M251 880h9M441 778h9M51 718h9M299 821h9M356 923h9M151 866h9M207 816h9M145 763h9M258 758h9M181 771h9M190 843h9M44 808h9M379 769h9M450 695h9M220 730h9M239 841h9M102 725h9M63 910h9M203 817h9M309 798h9M395 792h9M294 770h9M164 826h9M249 868h9M292 766h9M233 869h9M348 796h9M398 829h9M187 732h9M308 775h9M344 725h9M347 843h9M241 853h9M156 900h9M162 872h9M480 793h9M133 863h9M421 671h9M432 790h9M361 764h9M134 859h9M109 898h9M270 835h9M403 672h9M290 803h9M386 818h9M214 757h9M384 832h9M184 856h9M171 882h9M503 723h9M314 785h9M175 908h9M369 630h9M393 799h9M278 786h9M122 963h9M338 824h9M235 797h9M173 822h9M271 837h9M305 804h9M106 756h9M330 759h9M289 902h9M402 717h9M451 730h9M226 819h9M294 832h9M207 878h9M218 885h9M150 843h9M342 733h9M321 671h9M304 782h9M76 840h9M206 735h9M210 954h9M446 664h9M121 867h9M130 885h9M274 894h9M324 856h9M262 834h9M391 806h9M215 843h9M528 806h9M245 742h9M365 682h9M195 908h9M117 828h9M293 835h9M574 766h9M195 766h9M317 872h9M311 768h9M388 839h9M155 778h9M273 829h9M403 670h9M327 822h9M212 783h9M267 718h9M169 920h9M113 970h9M226 911h9M209 741h9M302 906h9M106 858h9M324 651h9M74 855h9M167 840h9M318 789h9M224 806h9M302 823h9M307 825h9M155 871h9M227 835h9M287 770h9M181 834h9M379 681h9M386 778h9M387 735h9M328 818h9M222 833h9M266 753h9M295 757h9M43 758h9M408 732h9M134 828h9M282 843h9M310 821h9M400 728h9M255 825h9M118 974h9M250 792h9M245 768h9M130 779h9M224 804h9M428 704h9M332 835h9M441 732h9M238 780h9M304 791h9M264 809h9M216 869h9M434 726h9M338 820h9M313 756h9M265 807h9M292 704h9M381 797h9M77 801h9M73 905h9M246 690h9M305 830h9M456 743h9M277 811h9M227 849h9M310 703h9M404 766h9M113 905h9M102 844h9M158 883h9M274 780h9M202 812h9M256 811h9M416 847h9M181 965h9M399 725h9M460 737h9M191 935h9M197 840h9M255 737h9M270 846h9M257 843h9M444 787h9M501 761h9M261 846h9M128 872h9M406 783h9M284 857h9M262 833h9M377 782h9M243 804h9M274 783h9M405 737h9M271 789h9M126 886h9M391 779h9M236 715h9M343 734h9M307 758h9M269 859h9M306 723h9M282 673h9M331 826h9M221 847h9M346 843h9M202 784h9M255 926h9M374 825h9M77 855h9M292 840h9M220 893h9M107 853h9M325 633h9M150 759h9M292 673h9M178 866h9M356 878h9M412 734h9M120 890h9M179 787h9M24 892h9M249 819h9M197 798h9M230 800h9M359 741h9M373 813h9M305 708h9M212 870h9M140 914h9M274 743h9M81 925h9M399 722h9M136 884h9M27 983h9M403 849h9M383 671h9M298 864h9M183 846h9M121 880h9M178 804h9M228 705h9M312 831h9M257 811h9M181 770h9M229 828h9M430 701h9M200 880h9M256 768h9M371 852h9M293 835h9M189 872h9M213 823h9M345 826h9M390 826h9M391 568h9M131 873h9M197 819h9M334 805h9M336 750h9M200 888h9M320 782h9M188 790h9M283 962h9M263 893h9M167 904h9M142 820h9M147 735h9M349 797h9M216 886h9M447 694h9M102 949h9M362 736h9M108 708h9M235 773h9M231 834h9M395 789h9M310 784h9M235 820h9M193 847h9M245 788h9M329 702h9M218 853h9M225 720h9M370 787h9M293 868h9M150 767h9M279 763h9M222 851h9M139 915h9M301 841h9M434 818h9M287 818h9M171 881h9M108 932h9M146 732h9M297 836h9M380 728h9M236 823h9M189 770h9M353 830h9M233 818h9M373 745h9M240 842h9M281 831h9M117 829h9M306 659h9M285 826h9M222 890h9M248 820h9M312 806h9M299 898h9M262 892h9M163 780h9M91 892h9M119 727h9M363 703h9M102 941h9M221 776h9M296 782h9M183 831h9M287 891h9M280 860h9M379 835h9M343 717h9M390 754h9M92 851h9M286 714h9M365 804h9M285 880h9M276 805h9M284 883h9M293 779h9M334 796h9M217 893h9M357 815h9M424 758h9M466 750h9M226 878h9M123 743h9M175 773h9M326 660h9M229 871h9M338 684h9M169 815h9M300 804h9M194 841h9M359 772h9M213 753h9M256 844h9M136 871h9M291 746h9M154 925h9M414 709h9M163 931h9M338 729h9M278 764h9M278 749h9M255 840h9M97 936h9M257 872h9M183 863h9M234 862h9M391 728h9M300 772h9M389 674h9M472 854h9M283 790h9M267 880h9M471 841h9M463 747h9M220 948h9M295 860h9M365 821h9M302 684h9M128 790h9M298 771h9M366 835h9M411 847h9M297 704h9M371 826h9M352 857h9M474 804h9M228 871h9M376 771h9M414 717h9M291 681h9M317 720h9M166 829h9M147 813h9M295 783h9M327 810h9M243 749h9M233 954h9M402 714h9M346 793h9M414 785h9M266 783h9M313 911h9M228 848h9M284 731h9M367 826h9M81 916h9M321 726h9M276 871h9M248 842h9M187 768h9M265 830h9M367 771h9M407 781h9M374 775h9M282 813h9M96 817h9M229 717h9M285 712h9M255 889h9M297 755h9M58 851h9M307 781h9M262 828h9M209 865h9M135 867h9M187 926h9M450 758h9M265 728h9M243 772h9M320 827h9M139 843h9M365 773h9M260 866h9M355 792h9M135 965h9M231 750h9M458 736h9M425 781h9M330 857h9M199 830h9M204 726h9M280 813h9M328 731h9M278 685h9M211 857h9M327 641h9M294 813h9M281 852h9M39 931h9M128 921h9M340 747h9M255 756h9M244 754h9M394 726h9M101 851h9M268 806h9M280 798h9M206 797h9M407 761h9M318 813h9M407 749h9M265 801h9M263 765h9M151 875h9M347 679h9M249 713h9M465 854h9M243 815h9M282 805h9M247 754h9M314 767h9M180 872h9M177 831h9M299 728h9M133 982h9M305 717h9M316 777h9M267 856h9M361 847h9M335 785h9M226 870h9M323 816h9M127 961h9M75 843h9M310 821h9M238 754h9M258 789h9M329 804h9M220 817h9M218 803h9M188 865h9M202 779h9M315 727h9M322 812h9M106 874h9M205 737h9M353 836h9M388 761h9M230 653h9M454 835h9M220 844h9M463 685h9M469 627h9M223 825h9M302 818h9M360 869h9M268 864h9M227 855h9M92 961h9M125 858h9M354 777h9M86 776h9M207 702h9M291 964h9M450 758h9M102 895h9M202 749h9M295 857h9M125 891h9M248 744h9M310 832h9M330 721h9M314 800h9M381 795h9M307 751h9M233 749h9M516 800h9M228 858h9M267 831h9M487 775h9M34 960h9M331 748h9M78 900h9M164 884h9M334 734h9M223 890h9M331 807h9M109 804h9M233 868h9M444 706h9M368 737h9M266 711h9M329 738h9M311 730h9M342 809h9M317 853h9M313 723h9M75 812h9M322 714h9M294 741h9M282 882h9M360 841h9M435 838h9M298 844h9M257 844h9M441 775h9M86 851h9M192 828h9M227 705h9M240 837h9M420 743h9M269 951h9M208 831h9M290 677h9M241 783h9M271 834h9M293 778h9M219 759h9M256 853h9M107 851h9M150 795h9M307 643h9M54 872h9M162 888h9M258 822h9M370 914h9M245 894h9M283 688h9M231 726h9M127 813h9M227 823h9M193 845h9M143 852h9M181 870h9M386 651h9M506 708h9M172 831h9M290 853h9M237 851h9M346 850h9M370 679h9M309 831h9M274 804h9M147 867h9M254 733h9M330 795h9M228 834h9M256 717h9M142 839h9M94 859h9M125 947h9M181 837h9M98 959h9M151 851h9M333 768h9M273 760h9M251 809h9M307 803h9M212 870h9M379 787h9M282 709h9M285 683h9M195 708h9M291 768h9M451 626h9M375 719h9M240 854h9M513 716h9M340 616h9M435 717h9M552 690h9M373 778h9M44 713h9M467 635h9M321 873h9M322 788h9M383 662h9M328 875h9M289 708h9M370 776h9M563 645h9M446 764h9M396 660h9M432 715h9M502 868h9M619 608h9M526 765h9M346 788h9M219 726h9M457 648h9M572 722h9M310 740h9M180 807h9M461 718h9M441 662h9M562 765h9M362 846h9M430 673h9M394 700h9M296 777h9M608 580h9M353 770h9M475 779h9M364 834h9M256 685h9M381 851h9M259 798h9M383 845h9M319 712h9M381 735h9M369 747h9M444 667h9M381 592h9M363 862h9M395 584h9M421 685h9M458 683h9M421 787h9M80 802h9M484 845h9M302 651h9M464 735h9M442 644h9M495 556h9M428 916h9M401 614h9M164 800h9M345 850h9M493 601h9M472 712h9M505 484h9M355 727h9M293 858h9M238 779h9M354 697h9M482 735h9M326 536h9M383 642h9M237 726h9M474 667h9M412 566h9M329 752h9M226 728h9M402 675h9M225 556h9M542 562h9M447 651h9M485 828h9M289 844h9M471 640h9M315 728h9M516 635h9M481 665h9M329 848h9M301 698h9M237 796h9M447 654h9M532 652h9M345 708h9M311 714h9M541 783h9M373 818h9M261 806h9M463 771h9M328 692h9M645 560h9M435 682h9M383 779h9M611 693h9M641 698h9M403 696h9M256 729h9M589 685h9M482 719h9M357 608h9M299 803h9M542 745h9M450 681h9M422 675h9M470 792h9M596 671h9M369 861h9M383 790h9M513 705h9M304 736h9M266 753h9M257 785h9M264 864h9M486 792h9M349 568h9M459 642h9M381 732h9M358 777h9M608 602h9M529 702h9M484 774h9M426 773h9M342 786h9M355 917h9M363 608h9M410 679h9M364 684h9M518 587h9M540 604h9M461 678h9M450 697h9M319 682h9M473 808h9M290 682h9M125 782h9M310 646h9M295 815h9M353 619h9M239 825h9M355 618h9M395 679h9M182 835h9M163 680h9M347 799h9M375 854h9M411 683h9M368 686h9M328 798h9M364 768h9M396 657h9M455 662h9M415 663h9M550 702h9M309 695h9M371 723h9M435 601h9M351 617h9M227 790h9M521 562h9M369 542h9M425 778h9M407 680h9M528 562h9M536 594h9M146 676h9M325 796h9M107 747h9M544 710h9M163 888h9M468 650h9M448 683h9M153 750h9M412 920h9M326 688h9M229 878h9M269 688h9M403 781h9M306 770h9M252 736h9M319 669h9M328 775h9M401 787h9M348 819h9M263 728h9M152 681h9M431 729h9M416 759h9M367 782h9M195 913h9M354 713h9M289 761h9M99 810h9M377 749h9M336 800h9M395 630h9M696 669h9M502 588h9M225 853h9M258 913h9M665 679h9M490 713h9M448 482h9M275 812h9M306 860h9M494 696h9M301 744h9M392 844h9M469 614h9M382 719h9M482 822h9M356 762h9M202 979h9M285 837h9M342 876h9M432 622h9M502 768h9M226 918h9M341 788h9M239 802h9M551 671h9M348 884h9M176 927h9M420 795h9M212 741h9M584 631h9M216 903h9M330 717h9M286 611h9M391 679h9M376 612h9M429 524h9M347 960h9M454 604h9M375 762h9M396 723h9M286 657h9M540 572h9M548 517h9M301 773h9M518 660h9M351 819h9M368 626h9M508 789h9M506 649h9M447 705h9M439 740h9M293 796h9M213 735h9M658 621h9M631 679h9M440 743h9M59 666h9M526 725h9M158 767h9M428 580h9M392 673h9M249 824h9M402 848h9M483 536h9M486 742h9M180 838h9M402 687h9M633 454h9M535 603h9M364 679h9M392 620h9M532 710h9M495 685h9M355 891h9M557 670h9M399 764h9M436 749h9M545 795h9M418 913h9M230 906h9M388 712h9M360 736h9M219 807h9M351 752h9M581 624h9M308 963h9M566 483h9M445 539h9M738 443h9M226 906h9M307 851h9M333 631h9M717 524h9M396 858h9M341 754h9M228 830h9M470 615h9M234 845h9M317 661h9M495 632h9M266 811h9M305 843h9M239 927h9M465 591h9M454 740h9M395 622h9M278 765h9M292 778h9M305 781h9M596 568h9M482 708h9M589 589h9M213 765h9M185 944h9M391 805h9M550 603h9M384 645h9M479 553h9M368 885h9M639 705h9M359 632h9M408 832h9M420 790h9M171 728h9M333 754h9M365 671h9M590 732h9M512 576h9M365 713h9M393 520h9M451 577h9M339 839h9M327 799h9M401 616h9M451 767h9M340 756h9M283 839h9M144 818h9M300 569h9M246 692h9M584 577h9M696 884h9M580 928h9M847 641h9M751 531h9M725 930h9M718 576h9M751 735h9M547 952h9M639 867h9M426 792h9M808 437h9M560 851h9M677 890h9M782 574h9M592 743h9M585 783h9M690 668h9M531 852h9M669 718h9M673 684h9M693 713h9M711 811h9M565 702h9M629 565h9M545 769h9M720 700h9M662 575h9M561 757h9M839 646h9M533 846h9M702 542h9M631 577h9M597 679h9M637 551h9M744 856h9M751 611h9M724 820h9M654 718h9M806 764h9M608 820h9M606 695h9M665 759h9M737 908h9M644 817h9M686 688h9M556 640h9M975 891h9M718 563h9M484 962h9M679 647h9M648 680h9M707 654h9M626 813h9M714 768h9M762 865h9M648 626h9M674 583h9M720 641h9M624 786h9M613 902h9M636 651h9M519 722h9M878 728h9M705 895h9M666 698h9M692 823h9M774 520h9M718 646h9M699 648h9M558 883h9M516 859h9M680 623h9M577 627h9M707 680h9M715 785h9M752 548h9M575 909h9M594 549h9M682 562h9M693 532h9M699 664h9M503 691h9M709 627h9M632 791h9M627 481h9M709 634h9M545 779h9M615 679h9M829 449h9M509 818h9M592 730h9M651 816h9M708 859h9M655 700h9M673 489h9M641 605h9M742 771h9M877 405h9M649 806h9M729 706h9M691 662h9M775 687h9M724 735h9M671 709h9M586 604h9M631 663h9M395 742h9M739 781h9M685 829h9M801 839h9M593 951h9M756 572h9M754 527h9M650 778h9M631 749h9M704 739h9M533 584h9M716 730h9M676 888h9M759 739h9M586 637h9M651 629h9M497 958h9M559 707h9M715 744h9M689 712h9M796 668h9M728 819h9M726 674h9M804 736h9M630 612h9M670 833h9M694 564h9M710 919h9M719 624h9M553 880h9M680 778h9M646 539h9M639 753h9M737 637h9M661 768h9M761 879h9M529 638h9M700 561h9M548 755h9M796 705h9M577 634h9M729 754h9M711 783h9M655 570h9M605 798h9M755 437h9M759 684h9M623 887h9M570 803h9M804 569h9M684 768h9M768 499h9M721 790h9M641 853h9M784 750h9M681 568h9M616 700h9M601 638h9M551 638h9M694 648h9M733 724h9M624 812h9M528 859h9M712 631h9M630 923h9M599 709h9M611 657h9M778 807h9M607 926h9M465 589h9M689 896h9M730 815h9M665 732h9M700 778h9M556 805h9M762 772h9M788 577h9M639 806h9M735 670h9M590 774h9M544 738h9M851 676h9M823 701h9M920 443h9M564 883h9M679 856h9M543 908h9M734 657h9M852 676h9M603 579h9M696 729h9M612 731h9M726 541h9M557 783h9M743 446h9M706 510h9M697 800h9M606 968h9M747 922h9M494 694h9M654 552h9M696 683h9M719 799h9M880 530h9M599 958h9M586 662h9M746 609h9M604 777h9M466 876h9M747 816h9M737 765h9M644 826h9M707 918h9M710 631h9M625 706h9M540 622h9M805 580h9M724 650h9M710 747h9M665 927h9M451 796h9M688 681h9M715 837h9M590 676h9M662 785h9M700 710h9M678 757h9M749 848h9M690 729h9M802 506h9M706 536h9M517 849h9M669 822h9M670 743h9M690 666h9M740 762h9M641 581h9M732 940h9M771 638h9M612 573h9M493 847h9M489 732h9M616 684h9M644 935h9M647 637h9M615 904h9M593 757h9M914 772h9M598 722h9M715 851h9M676 735h9M624 591h9M814 512h9M601 819h9M587 484h9M571 538h9M556 463h9M558 496h9M624 440h9M634 567h9M599 471h9M586 382h9M616 443h9M667 435h9M582 453h9M527 540h9M491 574h9M645 436h9M684 417h9M665 333h9M699 201h9M568 510h9M521 554h9M552 572h9M558 612h9M675 441h9M585 525h9M570 462h9M626 417h9M665 403h9M633 384h9M684 433h9M579 482h9M746 222h9M638 467h9M678 354h9M536 430h9M602 453h9M571 558h9M607 380h9M674 377h9M679 382h9M580 465h9M602 392h9M545 509h9M703 380h9M633 436h9M650 454h9M654 371h9M664 494h9M610 348h9M614 349h9M653 335h9M570 486h9M606 320h9M604 368h9M584 452h9M548 440h9M630 348h9M596 478h9M650 502h9M545 418h9M621 466h9M552 527h9M767 409h9M747 375h9M553 487h9M590 555h9M502 430h9M731 373h9M624 550h9M589 392h9M584 516h9M551 486h9M670 474h9M675 370h9M687 391h9M660 298h9M718 393h9M607 434h9M615 489h9M686 419h9M559 479h9M659 442h9M839 182h9M697 277h9M828 280h9M649 276h9M814 209h9M891 262h9M877 228h9M788 269h9M734 192h9M716 298h9M826 240h9M689 233h9M901 252h9M877 224h9M851 212h9M811 275h9M698 321h9M840 251h9M892 253h9M859 230h9M822 272h9M763 255h9M895 293h9M751 253h9M683 297h9M754 311h9M861 159h9M903 216h9M783 248h9M778 304h9M838 187h9M800 258h9M742 293h9M736 221h9M903 246h9M825 256h9M837 260h9M819 230h9M771 279h9M870 301h9M828 231h9M819 245h9M893 251h9M854 228h9M791 275h9M801 263h9M878 244h9M817 253h9M831 297h9M882 299h9M645 236h9M686 284h9M814 232h9M891 167h9M807 274h9M764 241h9M854 230h9M847 233h9M883 244h9M650 266h9M774 307h9M880 210h9M591 324h9M693 294h9M801 240h9M812 244h9M863 223h9M723 258h9M858 282h9M871 282h9M794 261h9M738 285h9M698 246h9M725 270h9M766 286h9M849 283h9M700 312h9M857 273h9M816 225h9M817 287h9M807 270h9M815 314h9M690 308h9M779 263h9M874 178h9M709 274h9M799 245h9M763 261h9M803 272h9M741 305h9M829 277h9M741 250h9M697 248h9M644 322h9M905 219h9M748 235h9M751 256h9M856 217h9M678 224h9M841 233h9M860 234h9M808 258h9M730 253h9M759 283h9M845 216h9M823 189h9M781 250h9M800 287h9M864 291h9M768 238h9M879 225h9M794 294h9M823 268h9M804 257h9M754 222h9M741 272h9M859 250h9M796 190h9M760 265h9M845 294h9M653 320h9M736 215h9M802 311h9M843 277h9M813 219h9M851 244h9M745 262h9M778 253h9M747 301h9M791 235h9M887 230h9M831 244h9M814 320h9M836 222h9M762 260h9M814 195h9M888 286h9M835 241h9M758 218h9M229 440h9M79 281h9M110 182h9M180 877h9M429 165h9M115 239h9M241 49h9M889 234h9M475 861h9M368 875h9M969 901h9M482 305h9M136 641h9M359 44h9M959 69h9M844 528h9M380 77h9M424 190h9M320 401h9M557 670h9M309 393h9M444 796h9M953 289h9M530 811h9M560 379h9M941 234h9M955 540h9M586 793h9M81 507h9M961 396h9M859 256h9M696 378h9M440 172h9M302 813h9M744 191h9M719 753h9M438 752h9M237 601h9M188 649h9M64 560h9M967 102h9M189 102h9M316 181h9M359 74h9M758 716h9M894 584h9M751 305h9M389 786h9M261 210h9M600 667h9" stroke="#e2281f" stroke-width="9.5" stroke-opacity="0.42" fill="none"/></g>
<line x1="123.4" y1="446.6" x2="123.4" y2="530.4" stroke="#5a5a5a" stroke-width="0.85"/>
<line x1="79.8" y1="485.4" x2="162.3" y2="485.4" stroke="#5a5a5a" stroke-width="0.85"/>
<rect x="79.8" y="446.6" width="82.5" height="83.8" fill="none" stroke="#858585" stroke-width="0.85"/>
<line x1="77.6" y1="455.8" x2="79.8" y2="455.8" stroke="#444" stroke-width="0.7"/>
<line x1="78.5" y1="456.8" x2="79.8" y2="456.8" stroke="#555" stroke-width="0.5"/>
<line x1="78.5" y1="457.8" x2="79.8" y2="457.8" stroke="#555" stroke-width="0.5"/>
<line x1="78.5" y1="459" x2="79.8" y2="459" stroke="#555" stroke-width="0.5"/>
<line x1="78.5" y1="460.4" x2="79.8" y2="460.4" stroke="#555" stroke-width="0.5"/>
<line x1="78.5" y1="462" x2="79.8" y2="462" stroke="#555" stroke-width="0.5"/>
<line x1="78.5" y1="464" x2="79.8" y2="464" stroke="#555" stroke-width="0.5"/>
<line x1="78.5" y1="466.6" x2="79.8" y2="466.6" stroke="#555" stroke-width="0.5"/>
<line x1="78.5" y1="470.2" x2="79.8" y2="470.2" stroke="#555" stroke-width="0.5"/>
<text x="77.2" y="457.2" font-size="3.3" text-anchor="end" fill="#333">10</text>
<text x="73.6" y="454.6" font-size="2.6" text-anchor="end" fill="#333">4</text>
<line x1="77.6" y1="476.3" x2="79.8" y2="476.3" stroke="#444" stroke-width="0.7"/>
<line x1="78.5" y1="477.3" x2="79.8" y2="477.3" stroke="#555" stroke-width="0.5"/>
<line x1="78.5" y1="478.3" x2="79.8" y2="478.3" stroke="#555" stroke-width="0.5"/>
<line x1="78.5" y1="479.5" x2="79.8" y2="479.5" stroke="#555" stroke-width="0.5"/>
<line x1="78.5" y1="480.9" x2="79.8" y2="480.9" stroke="#555" stroke-width="0.5"/>
<line x1="78.5" y1="482.5" x2="79.8" y2="482.5" stroke="#555" stroke-width="0.5"/>
<line x1="78.5" y1="484.5" x2="79.8" y2="484.5" stroke="#555" stroke-width="0.5"/>
<line x1="78.5" y1="487.1" x2="79.8" y2="487.1" stroke="#555" stroke-width="0.5"/>
<line x1="78.5" y1="490.7" x2="79.8" y2="490.7" stroke="#555" stroke-width="0.5"/>
<text x="77.2" y="477.7" font-size="3.3" text-anchor="end" fill="#333">10</text>
<text x="73.6" y="475.1" font-size="2.6" text-anchor="end" fill="#333">3</text>
<line x1="77.6" y1="496.9" x2="79.8" y2="496.9" stroke="#444" stroke-width="0.7"/>
<line x1="78.5" y1="497.8" x2="79.8" y2="497.8" stroke="#555" stroke-width="0.5"/>
<line x1="78.5" y1="498.9" x2="79.8" y2="498.9" stroke="#555" stroke-width="0.5"/>
<line x1="78.5" y1="500.1" x2="79.8" y2="500.1" stroke="#555" stroke-width="0.5"/>
<line x1="78.5" y1="501.4" x2="79.8" y2="501.4" stroke="#555" stroke-width="0.5"/>
<line x1="78.5" y1="503.1" x2="79.8" y2="503.1" stroke="#555" stroke-width="0.5"/>
<line x1="78.5" y1="505.1" x2="79.8" y2="505.1" stroke="#555" stroke-width="0.5"/>
<line x1="78.5" y1="507.6" x2="79.8" y2="507.6" stroke="#555" stroke-width="0.5"/>
<line x1="78.5" y1="511.2" x2="79.8" y2="511.2" stroke="#555" stroke-width="0.5"/>
<text x="77.2" y="498.3" font-size="3.3" text-anchor="end" fill="#333">10</text>
<text x="73.6" y="495.7" font-size="2.6" text-anchor="end" fill="#333">2</text>
<line x1="77.6" y1="517.4" x2="79.8" y2="517.4" stroke="#444" stroke-width="0.7"/>
<line x1="78.5" y1="518.4" x2="79.8" y2="518.4" stroke="#555" stroke-width="0.5"/>
<line x1="78.5" y1="519.4" x2="79.8" y2="519.4" stroke="#555" stroke-width="0.5"/>
<line x1="78.5" y1="520.6" x2="79.8" y2="520.6" stroke="#555" stroke-width="0.5"/>
<line x1="78.5" y1="522" x2="79.8" y2="522" stroke="#555" stroke-width="0.5"/>
<line x1="78.5" y1="523.6" x2="79.8" y2="523.6" stroke="#555" stroke-width="0.5"/>
<line x1="78.5" y1="525.6" x2="79.8" y2="525.6" stroke="#555" stroke-width="0.5"/>
<line x1="78.5" y1="528.1" x2="79.8" y2="528.1" stroke="#555" stroke-width="0.5"/>
<text x="77.2" y="518.8" font-size="3.3" text-anchor="end" fill="#333">10</text>
<text x="73.6" y="516.2" font-size="2.6" text-anchor="end" fill="#333">1</text>
<line x1="91.3" y1="530.4" x2="91.3" y2="532.6" stroke="#444" stroke-width="0.7"/>
<line x1="90.4" y1="530.4" x2="90.4" y2="531.7" stroke="#555" stroke-width="0.5"/>
<line x1="89.4" y1="530.4" x2="89.4" y2="531.7" stroke="#555" stroke-width="0.5"/>
<line x1="88.2" y1="530.4" x2="88.2" y2="531.7" stroke="#555" stroke-width="0.5"/>
<line x1="86.9" y1="530.4" x2="86.9" y2="531.7" stroke="#555" stroke-width="0.5"/>
<line x1="85.3" y1="530.4" x2="85.3" y2="531.7" stroke="#555" stroke-width="0.5"/>
<line x1="83.3" y1="530.4" x2="83.3" y2="531.7" stroke="#555" stroke-width="0.5"/>
<line x1="80.8" y1="530.4" x2="80.8" y2="531.7" stroke="#555" stroke-width="0.5"/>
<text x="89.4" y="537.4" font-size="3.3" fill="#333">10</text>
<text x="93.1" y="535.4" font-size="2.6" fill="#333">1</text>
<line x1="111.6" y1="530.4" x2="111.6" y2="532.6" stroke="#444" stroke-width="0.7"/>
<line x1="110.6" y1="530.4" x2="110.6" y2="531.7" stroke="#555" stroke-width="0.5"/>
<line x1="109.6" y1="530.4" x2="109.6" y2="531.7" stroke="#555" stroke-width="0.5"/>
<line x1="108.4" y1="530.4" x2="108.4" y2="531.7" stroke="#555" stroke-width="0.5"/>
<line x1="107.1" y1="530.4" x2="107.1" y2="531.7" stroke="#555" stroke-width="0.5"/>
<line x1="105.5" y1="530.4" x2="105.5" y2="531.7" stroke="#555" stroke-width="0.5"/>
<line x1="103.5" y1="530.4" x2="103.5" y2="531.7" stroke="#555" stroke-width="0.5"/>
<line x1="101" y1="530.4" x2="101" y2="531.7" stroke="#555" stroke-width="0.5"/>
<line x1="97.4" y1="530.4" x2="97.4" y2="531.7" stroke="#555" stroke-width="0.5"/>
<text x="109.7" y="537.4" font-size="3.3" fill="#333">10</text>
<text x="113.4" y="535.4" font-size="2.6" fill="#333">2</text>
<line x1="131.8" y1="530.4" x2="131.8" y2="532.6" stroke="#444" stroke-width="0.7"/>
<line x1="130.9" y1="530.4" x2="130.9" y2="531.7" stroke="#555" stroke-width="0.5"/>
<line x1="129.8" y1="530.4" x2="129.8" y2="531.7" stroke="#555" stroke-width="0.5"/>
<line x1="128.6" y1="530.4" x2="128.6" y2="531.7" stroke="#555" stroke-width="0.5"/>
<line x1="127.3" y1="530.4" x2="127.3" y2="531.7" stroke="#555" stroke-width="0.5"/>
<line x1="125.7" y1="530.4" x2="125.7" y2="531.7" stroke="#555" stroke-width="0.5"/>
<line x1="123.7" y1="530.4" x2="123.7" y2="531.7" stroke="#555" stroke-width="0.5"/>
<line x1="121.2" y1="530.4" x2="121.2" y2="531.7" stroke="#555" stroke-width="0.5"/>
<line x1="117.6" y1="530.4" x2="117.6" y2="531.7" stroke="#555" stroke-width="0.5"/>
<text x="129.9" y="537.4" font-size="3.3" fill="#333">10</text>
<text x="133.6" y="535.4" font-size="2.6" fill="#333">3</text>
<line x1="152" y1="530.4" x2="152" y2="532.6" stroke="#444" stroke-width="0.7"/>
<line x1="151.1" y1="530.4" x2="151.1" y2="531.7" stroke="#555" stroke-width="0.5"/>
<line x1="150" y1="530.4" x2="150" y2="531.7" stroke="#555" stroke-width="0.5"/>
<line x1="148.9" y1="530.4" x2="148.9" y2="531.7" stroke="#555" stroke-width="0.5"/>
<line x1="147.5" y1="530.4" x2="147.5" y2="531.7" stroke="#555" stroke-width="0.5"/>
<line x1="145.9" y1="530.4" x2="145.9" y2="531.7" stroke="#555" stroke-width="0.5"/>
<line x1="143.9" y1="530.4" x2="143.9" y2="531.7" stroke="#555" stroke-width="0.5"/>
<line x1="141.4" y1="530.4" x2="141.4" y2="531.7" stroke="#555" stroke-width="0.5"/>
<line x1="137.9" y1="530.4" x2="137.9" y2="531.7" stroke="#555" stroke-width="0.5"/>
<text x="150.1" y="537.4" font-size="3.3" fill="#333">10</text>
<text x="153.8" y="535.4" font-size="2.6" fill="#333">4</text>
<text x="81.6" y="451.6" font-size="3.4" fill="#333">Q1</text>
<text x="160.5" y="451.6" font-size="3.4" text-anchor="end" fill="#333">Q2</text>
<text x="81.6" y="528.8" font-size="3.4" fill="#333">Q3</text>
<text x="160.5" y="528.8" font-size="3.4" text-anchor="end" fill="#333">Q4</text>
<rect x="179.3" y="446.6" width="82.5" height="83.8" fill="#fff" stroke="none" stroke-width="1"/>
<ellipse cx="199.1" cy="515.3" rx="18.1" ry="10.1" fill="url(#core)" fill-opacity="0.85" transform="rotate(-15 199.1 515.3)"/>
<g transform="translate(179.3 446.6) scale(0.08250 0.08380)"><path d="M337 700h9M329 679h9M130 896h9M105 923h9M383 754h9M115 917h9M384 877h9M163 793h9M394 669h9M164 943h9M86 819h9M257 711h9M340 700h9M97 943h9M231 782h9M131 732h9M27 880h9M111 813h9M295 832h9M275 700h9M136 908h9M99 884h9M96 962h9M314 906h9M125 856h9M57 823h9M363 881h9M64 772h9M37 965h9M115 920h9M387 798h9M52 761h9M304 819h9M460 690h9M324 852h9M224 693h9M313 821h9M48 823h9M254 728h9M322 722h9M236 784h9M173 802h9M284 774h9M131 807h9M211 910h9M233 764h9M167 702h9M273 719h9M315 948h9M46 840h9M171 881h9M296 775h9M262 893h9M407 965h9M357 835h9M334 791h9M266 691h9M142 929h9M138 907h9M134 916h9M283 864h9M267 944h9M260 834h9M349 599h9M319 726h9M110 906h9M465 907h9M192 791h9M352 837h9M230 773h9M401 772h9M197 722h9M363 832h9M276 817h9M241 958h9M261 817h9M64 864h9M110 904h9M189 649h9M375 875h9M389 808h9M405 715h9M401 692h9M177 878h9M257 787h9M389 572h9M267 637h9M308 743h9M109 835h9M323 811h9M142 835h9M384 700h9M150 756h9M210 858h9M416 731h9M255 814h9M215 836h9M425 965h9M151 943h9M367 753h9M304 870h9M97 818h9M56 756h9M322 807h9M126 708h9M220 976h9M110 945h9M333 893h9M218 788h9M393 908h9M309 842h9M208 936h9M237 800h9M271 757h9M127 974h9M313 916h9M574 766h9M85 815h9M211 886h9M161 862h9M37 775h9M390 774h9M132 816h9M375 744h9M200 794h9M70 784h9M430 700h9M357 741h9M58 737h9M396 865h9M198 755h9M300 892h9M92 954h9M275 731h9M342 814h9M273 849h9M382 774h9M193 717h9M234 842h9M104 850h9M438 860h9M390 873h9M126 748h9M110 871h9M183 713h9M306 839h9M182 792h9M144 778h9M385 714h9M98 724h9M239 680h9M308 807h9M41 713h9M134 800h9M369 655h9M107 695h9M153 857h9M509 760h9M228 934h9M237 941h9M261 753h9M240 904h9M475 775h9M154 845h9M95 926h9M32 938h9M86 860h9M166 863h9M264 858h9M476 868h9M259 759h9M187 919h9M76 757h9M194 790h9M59 935h9M289 815h9M227 895h9M357 804h9M323 752h9M149 844h9M244 891h9M225 882h9M39 859h9M258 745h9M299 874h9M125 750h9M136 968h9M47 942h9M462 883h9M405 840h9M187 909h9M460 645h9M128 805h9M21 913h9M260 848h9M295 968h9M537 772h9M54 956h9M17 960h9M355 794h9M384 684h9M490 826h9M91 831h9M409 660h9M220 779h9M471 645h9M30 792h9M364 746h9M224 966h9M284 716h9M340 965h9M373 722h9M369 861h9M254 883h9M208 824h9M280 911h9M360 606h9M238 796h9M221 856h9M191 867h9M440 749h9M85 935h9M177 962h9M291 725h9M29 965h9M138 919h9M336 941h9M230 766h9M493 750h9M270 702h9M42 885h9M406 823h9M294 725h9M280 731h9M218 945h9M50 984h9M329 796h9M174 949h9M627 679h9M73 783h9M247 728h9M481 609h9M278 799h9M205 935h9M93 673h9M185 918h9M157 929h9M316 856h9M244 875h9M113 720h9M217 907h9M95 877h9M187 928h9M100 825h9M402 883h9M236 733h9M400 858h9M82 926h9M280 703h9M226 911h9M113 799h9M155 872h9M250 842h9M253 916h9M229 755h9M220 772h9M334 797h9M394 717h9M335 804h9M250 704h9M163 752h9M235 906h9M141 785h9M185 936h9M329 858h9M127 920h9M110 908h9M264 774h9M230 714h9M77 862h9M17 824h9M151 772h9M143 746h9M54 847h9M339 823h9M96 889h9M217 975h9M262 863h9M149 897h9M188 795h9M287 966h9M320 866h9M434 844h9M55 963h9M233 831h9M93 937h9M80 737h9M225 857h9M216 815h9M185 801h9M339 792h9M213 875h9M311 810h9M279 866h9M339 863h9M306 878h9M179 659h9M297 798h9M336 711h9M235 881h9M25 954h9M450 762h9M249 800h9M101 847h9M83 781h9M406 766h9M419 613h9M141 831h9M97 865h9M428 710h9M40 806h9M242 974h9M333 815h9M74 901h9M71 952h9M246 937h9M100 915h9M295 752h9M358 711h9M157 874h9M42 748h9M319 711h9M83 862h9M160 633h9M87 891h9M262 801h9M129 831h9M147 961h9M347 760h9M159 723h9M46 945h9M373 761h9M218 872h9M366 763h9M233 793h9M354 902h9M103 967h9M216 913h9M257 943h9M479 817h9M315 949h9M402 819h9M55 800h9M287 812h9M165 817h9M363 720h9M253 778h9M85 906h9M200 826h9M337 715h9M287 790h9M58 691h9M255 978h9M242 855h9M196 951h9M270 823h9M261 773h9M124 810h9M198 683h9M512 828h9M299 779h9M18 824h9M248 976h9M347 715h9M417 732h9M284 871h9M193 806h9M315 852h9M206 744h9M444 555h9M380 824h9M109 791h9M261 821h9M266 686h9M171 742h9M343 741h9M412 829h9M20 963h9M321 679h9M352 808h9M406 765h9M284 827h9M198 697h9M200 963h9M112 873h9M135 766h9M274 948h9M112 818h9M167 870h9M110 842h9M425 758h9M322 760h9M20 971h9M23 918h9M462 742h9M216 955h9M277 816h9M508 648h9M279 834h9M74 841h9M202 838h9M280 651h9M289 748h9M266 859h9M161 863h9M310 707h9M255 895h9M236 686h9M226 835h9M155 928h9M405 787h9M191 851h9M188 826h9M303 714h9M438 943h9M310 884h9M40 824h9M212 810h9M224 933h9M371 863h9M256 866h9M253 645h9M137 848h9M107 958h9M279 836h9M180 736h9M436 978h9M322 752h9M75 784h9M167 895h9M154 864h9M317 865h9M15 930h9M181 834h9M218 812h9M156 796h9M262 910h9M350 689h9M258 902h9M255 848h9M500 876h9M244 785h9M346 873h9M393 790h9M242 750h9M169 900h9M453 783h9M46 957h9M269 889h9M122 901h9M291 793h9M227 800h9M335 867h9M230 783h9M171 913h9M348 881h9M510 624h9M321 851h9M282 921h9M306 764h9M158 738h9M61 862h9M351 775h9M316 737h9M289 806h9M362 781h9M190 805h9M378 900h9M315 907h9M62 867h9M242 800h9M498 801h9M201 725h9M409 671h9M526 884h9M523 623h9M403 692h9M310 811h9M35 953h9M296 954h9M153 925h9M15 905h9M228 945h9M301 851h9M163 762h9M213 691h9M540 726h9M334 692h9M226 888h9M599 678h9M361 839h9M243 719h9M179 860h9M78 942h9M255 737h9M150 793h9M167 818h9M100 703h9M162 917h9M311 744h9M198 921h9M243 945h9M29 867h9M111 850h9M441 779h9M217 815h9M115 831h9M466 914h9M222 842h9M193 879h9M37 933h9M552 654h9M298 879h9M112 863h9M404 964h9M27 842h9M286 778h9M301 826h9M212 960h9M459 699h9M87 891h9M200 911h9M344 873h9M251 902h9M126 807h9M330 639h9M59 984h9M86 963h9M92 897h9M270 844h9M217 830h9M482 591h9M463 741h9M431 776h9M303 808h9M195 942h9M178 833h9M446 708h9M323 684h9M344 696h9M553 664h9M191 884h9M305 811h9M58 846h9M351 688h9M206 674h9M525 783h9M344 729h9M217 844h9M453 749h9M204 879h9M213 976h9M192 725h9M234 848h9M157 904h9M631 751h9M345 976h9M148 793h9M248 875h9M220 706h9M53 765h9M307 741h9M313 846h9M203 926h9M299 818h9M115 851h9M159 926h9M100 898h9M311 878h9M228 792h9M145 786h9M103 939h9M144 849h9M294 872h9M140 952h9M193 859h9M401 697h9M44 842h9M323 842h9M74 766h9M295 712h9M416 699h9M217 764h9M33 855h9M141 906h9M339 738h9M376 779h9M385 706h9M314 856h9M402 801h9M74 823h9M295 936h9M480 864h9M321 627h9M333 839h9M151 915h9M146 764h9M349 803h9M459 722h9M233 803h9M250 759h9M176 849h9M389 865h9M506 798h9M453 908h9M108 704h9M65 768h9M408 748h9M75 869h9M279 679h9M31 655h9M100 860h9M345 890h9M122 948h9M39 927h9M225 954h9M418 752h9M433 772h9M170 852h9M90 855h9M281 744h9M223 802h9M39 859h9M23 956h9M389 842h9M243 796h9M184 849h9M97 966h9M172 780h9M329 569h9M120 815h9M52 916h9M71 808h9M285 769h9M136 745h9M119 840h9M208 804h9M140 966h9M193 967h9M219 748h9M159 820h9M451 707h9M61 896h9M223 906h9M278 750h9M39 866h9M186 756h9M231 742h9M140 763h9M449 728h9M262 924h9M244 926h9M78 884h9M498 833h9M344 799h9M93 738h9M140 771h9M48 768h9M229 805h9M377 844h9M319 829h9M270 806h9M114 839h9M399 617h9M322 810h9M377 977h9M163 878h9M331 758h9M498 694h9M120 942h9M335 832h9M332 673h9M244 728h9M551 855h9M154 775h9M114 842h9M291 799h9M97 817h9M290 822h9M246 801h9M214 783h9M127 881h9M324 825h9M95 830h9M224 882h9M447 728h9M258 689h9M176 935h9M165 891h9M295 851h9M334 825h9M135 918h9M208 770h9M183 928h9M35 841h9M314 840h9M165 847h9M408 857h9M320 624h9M208 935h9M91 908h9M271 890h9M154 776h9M446 657h9M224 774h9M144 805h9M278 843h9M252 932h9M334 774h9M295 910h9M36 849h9M546 790h9M177 784h9M194 931h9M453 871h9M245 830h9M137 680h9M283 826h9M547 737h9M399 703h9M350 896h9M116 786h9M243 792h9M291 797h9M285 822h9M310 845h9M134 952h9M241 798h9M304 671h9M145 824h9M132 771h9M379 793h9M227 836h9M354 851h9M111 695h9M255 788h9M430 894h9M222 750h9M183 892h9M149 844h9M304 841h9M65 888h9M347 888h9M230 784h9M78 903h9M207 923h9M77 915h9M417 892h9M489 688h9M181 795h9M321 773h9M109 813h9M22 960h9M280 843h9M420 726h9M193 961h9M199 745h9M341 847h9M109 770h9M262 878h9M54 831h9M195 863h9M116 910h9M78 812h9M390 701h9M326 787h9M157 836h9M186 824h9M166 963h9M574 667h9M133 968h9M291 766h9M23 913h9M265 798h9M429 831h9M231 821h9M360 712h9M296 845h9M222 955h9M85 916h9M68 836h9M141 887h9M38 978h9M271 767h9M396 881h9M240 759h9M305 834h9M297 792h9M407 542h9M363 817h9M125 949h9M314 752h9M77 716h9M339 948h9M257 839h9M119 813h9M587 723h9M219 772h9M194 828h9M80 885h9M327 845h9M378 767h9M354 883h9M215 916h9M175 752h9M87 920h9M166 706h9M70 854h9M335 860h9M167 735h9M105 768h9M171 789h9M305 774h9M344 763h9M213 873h9M378 808h9M307 918h9M291 917h9M308 710h9M39 921h9M335 819h9M86 815h9M228 863h9M227 706h9M409 798h9M77 911h9M410 928h9M63 918h9M119 875h9M173 820h9M267 948h9M225 808h9M156 879h9M256 789h9M209 796h9M78 726h9M318 953h9M280 892h9M36 767h9M67 814h9M391 750h9M421 728h9M89 903h9M119 885h9M181 803h9M51 983h9M31 816h9M75 872h9M302 874h9M121 647h9M156 768h9M132 786h9M175 720h9M417 891h9M592 750h9M222 890h9M171 930h9M153 852h9M112 816h9M53 800h9M146 791h9M97 760h9M314 799h9M243 868h9M110 780h9M35 885h9M85 835h9M187 770h9M281 804h9M235 812h9M389 867h9M113 910h9M308 800h9M119 969h9M56 864h9M373 739h9M323 674h9M117 902h9M272 782h9M145 788h9M250 746h9M379 879h9M428 821h9M304 790h9M242 739h9M277 892h9M418 794h9M241 962h9M334 647h9M359 808h9M264 918h9M369 835h9M25 834h9M311 771h9M277 723h9M484 731h9M241 823h9M189 767h9M157 898h9M174 759h9M234 838h9M190 777h9M150 940h9M129 779h9M274 934h9M296 868h9M369 719h9M265 627h9M324 800h9M221 820h9M408 849h9M47 828h9M89 907h9M362 912h9M154 827h9M353 750h9M143 896h9M136 722h9M178 772h9M283 814h9M186 715h9M197 641h9M213 763h9M105 810h9M347 715h9M211 696h9M307 809h9M95 719h9M192 734h9M227 738h9M360 797h9M288 715h9M390 720h9M235 835h9M212 788h9M267 798h9M255 756h9M208 778h9M157 772h9M504 869h9M240 818h9M322 702h9M559 836h9M289 830h9M305 756h9M358 915h9M124 923h9M216 785h9M80 909h9M220 863h9M236 837h9M172 906h9M88 969h9M187 965h9M198 912h9M130 725h9M460 710h9M340 723h9M270 877h9M282 906h9M311 741h9M235 839h9M73 731h9M379 726h9M486 652h9M313 855h9M308 702h9M315 887h9M249 748h9M138 852h9M292 732h9M308 746h9M131 779h9M214 830h9M223 832h9M155 719h9M175 875h9M317 658h9M173 858h9M123 815h9M247 965h9M184 745h9M457 764h9M251 739h9M310 745h9M205 966h9M160 808h9M322 798h9M378 670h9M200 800h9M133 698h9M476 761h9M517 878h9M137 944h9M336 772h9M202 886h9M208 811h9M121 845h9M21 770h9M258 802h9M311 749h9M115 884h9M228 823h9M195 748h9M238 822h9M115 843h9M96 883h9M281 771h9M213 874h9M148 886h9M258 864h9M175 920h9M33 830h9M441 572h9M355 842h9M129 929h9M215 711h9M119 864h9M162 883h9M428 795h9M327 678h9M377 862h9M137 730h9M338 757h9M68 679h9M293 758h9M124 618h9M322 935h9M43 766h9M160 787h9M322 747h9M469 684h9M120 965h9M123 804h9M243 657h9M300 830h9M341 816h9M427 856h9M206 851h9M121 737h9M45 974h9M240 880h9M170 828h9M374 751h9M388 856h9M393 906h9M138 765h9M73 892h9M172 832h9M176 886h9M379 797h9M208 762h9M247 855h9M430 649h9M385 929h9M513 862h9M300 719h9M446 748h9M345 796h9M318 705h9M91 874h9M461 855h9M162 906h9M378 672h9M222 714h9M92 797h9M136 861h9M261 870h9M131 682h9M324 919h9M264 877h9M36 928h9M159 867h9M305 819h9M127 897h9M206 794h9M58 756h9M252 718h9M204 718h9M120 976h9M21 956h9M282 624h9M93 658h9M94 935h9M166 888h9M471 793h9M172 752h9M86 942h9M86 716h9M346 756h9M447 867h9M469 653h9M229 852h9M177 844h9M291 816h9M439 788h9M40 831h9M66 970h9M361 647h9M193 846h9M87 948h9M300 803h9M90 793h9M321 757h9M263 919h9M120 924h9M240 839h9M67 868h9M172 925h9M103 753h9M327 857h9M194 740h9M215 834h9M107 901h9M24 881h9M251 845h9M319 734h9M149 856h9M373 883h9M320 813h9M218 695h9M31 931h9M71 970h9M92 897h9M236 742h9M193 813h9M67 864h9M422 695h9M239 877h9M599 714h9M340 667h9M421 837h9M197 809h9M65 936h9M166 715h9M218 846h9M467 737h9M373 836h9M94 661h9M125 856h9M515 963h9M113 877h9M108 795h9M237 844h9M205 848h9M347 752h9M255 889h9M162 885h9M404 768h9M432 644h9M277 863h9M346 955h9M29 846h9M207 793h9M28 918h9M170 791h9M80 794h9M246 710h9M72 666h9M340 926h9M253 928h9M116 651h9M366 892h9M203 869h9M128 809h9M267 902h9M225 777h9M334 705h9M509 678h9M338 898h9M174 877h9M325 887h9M126 885h9M209 821h9M292 858h9M339 824h9M295 759h9M116 783h9M145 826h9M284 745h9M233 763h9M296 858h9M328 784h9M276 801h9M99 795h9M293 835h9M164 706h9M258 873h9M276 739h9M221 923h9M263 813h9M391 790h9M139 634h9M177 791h9M248 809h9M80 966h9M38 877h9M232 809h9M428 807h9M239 907h9M113 795h9M214 761h9M214 790h9M16 971h9M193 795h9M60 722h9M197 844h9M96 860h9M96 815h9M122 873h9M97 779h9M237 793h9M117 727h9M167 939h9M382 711h9M377 835h9M245 883h9M162 816h9M346 754h9M221 893h9M226 852h9M336 818h9M323 884h9M107 879h9M291 852h9M132 929h9M373 807h9M353 793h9M425 789h9M227 970h9M401 570h9M81 838h9M317 859h9M293 846h9M190 734h9M254 735h9M184 758h9M132 798h9M482 803h9M488 635h9M264 700h9M355 908h9M225 874h9M189 891h9M218 783h9M176 775h9M391 865h9M38 804h9M267 700h9M460 753h9M254 892h9M159 849h9M47 846h9M339 688h9M208 905h9M357 842h9M212 839h9M214 922h9M290 686h9M296 763h9M142 804h9M250 834h9M305 792h9M193 919h9M55 843h9M279 914h9M282 750h9M85 898h9M190 869h9M327 697h9M280 983h9M205 882h9M51 924h9M96 901h9M255 910h9M119 815h9M299 750h9M138 877h9M106 823h9M373 750h9M118 910h9M338 841h9M165 858h9M224 866h9M437 865h9M192 940h9M383 782h9M252 779h9M384 742h9M93 827h9M133 859h9M263 904h9M148 842h9M382 729h9M293 863h9M316 860h9M433 805h9M154 775h9M324 887h9M106 936h9M198 854h9M430 864h9M300 888h9M67 706h9M192 804h9M161 964h9M312 852h9M42 883h9M82 868h9M96 799h9M447 782h9M73 794h9M209 752h9M394 807h9M360 952h9M119 823h9M190 789h9M241 835h9M196 871h9M158 791h9M281 855h9M241 751h9M385 846h9M235 588h9M226 968h9M223 793h9M274 829h9M222 965h9M217 843h9M209 806h9M292 912h9M271 866h9M352 802h9M106 801h9M362 783h9M33 798h9M150 858h9M79 837h9M292 888h9M99 926h9M325 916h9M107 860h9M253 680h9M101 826h9M187 714h9M386 735h9M159 959h9M165 861h9M433 719h9M261 877h9M272 783h9M184 758h9M229 951h9M261 835h9M404 856h9M243 831h9M128 918h9M313 679h9M302 732h9M208 884h9M224 730h9M140 811h9M147 691h9M361 833h9M329 779h9M273 953h9M321 753h9M205 949h9M176 776h9M286 730h9M111 896h9M396 713h9M172 857h9M383 799h9M241 964h9M118 749h9M276 845h9M122 878h9M237 779h9M229 921h9M375 848h9M25 808h9M363 731h9M300 663h9M212 761h9M86 870h9M120 885h9M193 846h9M35 923h9M276 692h9M226 914h9M362 837h9M231 766h9M258 925h9M15 915h9M519 612h9M479 823h9M173 908h9M263 906h9M214 897h9M294 839h9M206 956h9M220 623h9M373 850h9M342 896h9M216 740h9M282 668h9M186 810h9M151 814h9M154 949h9M151 897h9M137 972h9M92 893h9M237 845h9M118 923h9M48 772h9M326 857h9M290 808h9M151 873h9M197 736h9M222 848h9M151 856h9M224 808h9M78 896h9M74 937h9M298 789h9M470 683h9M41 821h9M222 936h9M102 926h9M237 854h9M374 877h9M261 788h9M226 812h9M190 844h9M101 919h9M402 905h9M180 821h9M341 814h9M127 935h9M182 812h9M148 872h9M172 937h9M323 889h9M155 786h9M185 752h9M116 912h9M423 978h9M209 845h9M321 826h9M121 955h9M69 845h9M265 734h9M365 775h9M56 910h9M165 775h9M309 725h9M245 753h9M52 880h9M212 845h9M323 732h9M174 937h9M191 765h9M182 707h9M158 693h9M326 868h9M305 790h9M234 830h9M326 954h9M184 782h9M218 801h9M434 777h9M337 785h9M261 763h9M426 732h9M355 777h9M123 881h9M77 979h9M463 741h9M206 957h9M70 887h9M66 786h9M266 684h9M228 744h9M235 736h9M69 811h9M262 975h9M157 731h9M329 875h9M186 959h9M296 819h9M217 880h9M194 859h9M584 723h9M274 891h9M215 779h9M264 861h9M68 933h9M210 742h9M397 799h9M108 981h9M141 959h9M191 783h9M89 932h9M238 810h9M481 662h9M348 779h9M160 868h9M201 757h9M186 662h9M174 762h9M367 847h9M282 671h9M252 886h9M65 876h9M67 887h9M243 874h9M268 802h9M90 810h9M315 928h9M271 944h9M167 862h9M115 768h9M193 759h9M38 950h9M180 861h9M157 896h9M352 770h9M153 864h9M225 725h9M394 831h9M245 921h9M246 825h9M272 904h9M233 943h9M263 853h9M121 759h9M70 757h9M356 757h9M396 815h9M168 884h9M209 771h9M130 915h9M193 718h9M428 718h9M348 874h9M275 798h9M354 962h9M271 815h9M146 919h9M353 711h9M369 762h9M207 694h9M214 965h9M98 790h9M260 853h9M391 660h9M79 962h9M70 788h9M257 836h9M451 726h9M26 879h9M253 960h9M314 855h9M28 834h9M316 730h9M286 857h9M256 771h9M126 825h9M141 880h9M245 836h9M49 812h9M201 713h9M222 702h9M159 846h9M181 912h9M261 889h9M259 822h9M272 898h9M340 724h9M313 905h9M63 780h9M220 732h9M179 792h9M135 813h9M208 655h9M298 929h9M142 932h9M75 941h9M164 814h9M337 731h9M233 893h9M192 796h9M343 774h9M308 891h9M141 941h9M67 772h9M72 924h9M479 890h9M284 758h9M201 742h9M154 762h9M348 787h9M113 782h9M266 756h9M162 867h9M480 749h9M319 813h9M366 729h9M102 872h9M125 941h9M177 821h9M112 844h9M303 718h9M117 725h9M125 821h9M207 665h9M211 896h9M258 836h9M355 808h9M91 858h9M141 796h9M253 902h9M112 866h9M192 845h9M279 970h9M398 719h9M497 793h9M210 738h9M25 931h9M217 686h9M312 903h9M125 739h9M112 840h9M352 812h9M490 712h9M203 807h9M334 673h9M322 767h9M146 793h9M369 610h9M314 810h9M328 738h9M143 871h9M197 831h9M307 662h9M165 878h9M596 700h9M79 946h9M138 796h9M128 977h9M192 783h9M161 764h9M25 858h9M197 967h9M405 776h9M148 881h9M57 862h9M249 756h9M131 900h9M344 866h9M120 838h9M281 814h9M342 888h9M190 882h9M140 667h9M135 863h9M177 841h9M88 736h9M96 870h9M303 855h9M242 766h9M121 881h9M371 869h9M233 864h9M200 764h9M195 777h9M245 867h9M424 830h9M180 840h9M406 774h9M287 852h9M268 821h9M528 732h9M196 865h9M65 673h9M327 721h9M121 836h9M307 704h9M76 900h9M211 800h9M442 717h9M223 877h9M168 802h9M93 756h9M333 836h9M216 821h9M233 783h9M229 796h9M337 819h9M165 826h9M258 863h9M393 713h9M60 914h9M144 949h9M567 808h9M405 634h9M292 771h9M142 963h9M224 832h9M338 793h9M120 982h9M215 732h9M114 948h9M243 892h9M162 899h9M22 835h9M197 764h9M325 847h9M272 860h9M52 870h9M125 828h9M177 847h9M228 861h9M259 793h9M190 924h9M264 864h9M173 950h9M503 852h9M326 770h9M342 747h9M262 607h9M39 904h9M320 857h9M487 568h9M207 807h9M159 830h9M219 795h9M442 809h9M416 825h9M78 773h9M350 888h9M206 643h9M180 805h9M235 633h9M341 847h9M214 818h9M438 692h9M336 680h9M116 807h9M261 737h9M335 918h9M316 714h9M211 874h9M404 871h9M369 875h9M357 836h9M329 842h9M282 853h9M311 719h9M298 773h9M224 925h9M68 839h9M131 707h9M269 682h9M187 847h9M269 821h9M51 659h9M176 741h9M372 680h9M277 856h9M219 809h9M402 959h9M72 758h9M413 742h9M120 700h9M157 769h9M242 803h9M114 855h9M173 928h9M262 824h9M113 836h9M285 778h9M211 815h9M152 914h9M140 838h9M307 818h9M291 631h9M269 972h9M357 845h9M367 720h9M351 760h9M192 974h9M242 905h9M335 825h9M68 971h9M47 830h9M297 787h9M54 791h9M146 805h9M330 869h9M266 843h9M41 796h9M233 722h9M427 692h9M273 691h9M296 758h9M591 750h9M76 926h9M181 888h9M280 729h9M142 877h9M236 730h9M237 808h9M312 840h9M214 858h9M175 780h9M154 871h9M610 744h9M359 799h9M348 830h9M331 785h9M220 912h9M222 746h9M192 822h9M203 849h9M324 827h9M153 875h9M165 813h9M23 811h9M16 898h9M238 939h9M293 786h9M380 704h9M274 706h9M92 926h9M234 766h9M115 919h9M40 860h9M455 759h9M145 763h9M202 700h9M183 953h9M326 781h9M245 688h9M424 781h9M41 923h9M312 625h9M185 818h9M118 884h9M235 739h9M184 745h9M314 831h9M153 984h9M364 893h9M212 846h9M347 813h9M334 799h9M307 780h9M105 984h9M206 799h9M217 751h9M50 798h9M274 812h9M214 814h9M138 943h9M385 802h9M202 785h9M408 770h9M68 950h9M80 912h9M148 776h9M239 758h9M140 863h9M239 799h9M556 741h9M171 799h9M291 923h9M43 822h9M27 879h9M348 735h9M336 711h9M171 826h9M75 848h9M120 897h9M422 702h9M275 765h9M283 681h9M142 900h9M224 744h9M273 914h9M159 837h9M314 979h9M313 812h9M118 825h9M231 919h9M216 810h9M291 733h9M108 891h9M193 857h9M491 853h9M117 873h9M261 905h9M221 896h9M246 893h9M162 969h9M214 734h9M493 687h9M209 742h9M325 760h9M254 887h9M396 750h9M92 984h9M414 638h9M155 846h9M314 796h9M199 894h9M296 779h9M482 912h9M229 894h9M402 765h9M291 977h9M249 741h9M279 819h9M305 887h9M221 839h9M166 817h9M113 914h9M284 811h9M80 950h9M222 820h9M176 944h9M89 960h9M305 714h9M395 706h9M209 852h9M114 912h9M508 581h9M310 830h9M30 739h9M520 810h9M433 771h9M209 789h9M157 777h9M37 820h9M103 802h9M298 684h9M308 735h9M231 784h9M207 803h9M220 894h9M333 579h9M225 799h9M89 768h9M135 830h9M69 931h9M83 955h9M221 799h9M292 690h9M212 975h9M478 697h9M201 884h9M243 876h9M190 820h9M236 976h9M413 671h9M262 847h9M85 798h9M409 693h9M356 705h9M66 854h9M251 764h9M286 977h9M137 792h9M297 721h9M330 870h9M204 864h9M54 898h9M71 943h9M354 761h9M113 903h9M166 887h9M301 786h9M201 786h9M225 900h9M96 935h9M313 883h9M79 953h9M188 830h9M363 921h9M220 702h9M319 759h9M227 731h9M212 802h9M269 938h9M389 833h9M149 810h9M15 936h9M354 816h9M90 873h9M143 687h9M515 830h9M386 842h9M236 945h9M111 799h9M230 792h9M242 622h9M44 672h9M308 790h9M317 741h9M222 946h9M125 930h9M114 872h9M193 850h9M182 805h9M216 896h9M228 879h9M17 909h9M441 739h9M31 983h9M226 891h9M76 819h9M170 734h9M171 915h9M73 844h9M356 710h9M161 783h9M338 750h9M441 733h9M194 752h9M399 777h9M263 811h9M364 866h9M226 788h9M98 942h9M154 801h9M269 853h9M52 790h9M166 811h9M157 869h9M459 849h9M194 816h9M31 828h9M229 638h9M130 936h9M184 735h9M369 759h9M154 890h9M119 937h9M416 748h9M43 813h9M383 825h9M375 864h9M190 890h9M129 820h9M369 803h9M115 950h9M486 856h9M368 808h9M66 745h9M257 733h9M180 955h9M118 717h9M433 754h9M39 876h9M367 770h9M446 777h9M308 672h9M146 812h9M340 767h9M295 785h9M181 960h9M224 833h9M306 773h9M212 899h9M359 870h9M186 929h9M218 725h9M101 958h9M25 747h9M189 776h9M588 745h9M154 927h9M295 888h9M204 838h9M217 779h9M245 883h9M193 785h9M302 703h9M81 979h9M376 767h9M72 951h9M108 865h9M137 941h9M329 803h9M192 781h9M413 946h9M448 682h9M188 795h9M399 775h9M91 863h9M59 777h9M206 779h9M263 876h9M62 759h9M358 778h9M311 779h9M101 795h9M393 837h9M420 940h9M175 848h9M286 789h9M174 830h9M140 813h9M281 833h9M168 877h9M305 786h9M181 692h9M266 731h9M188 685h9M374 746h9M375 864h9M313 815h9M187 757h9M227 879h9M96 791h9M346 774h9M298 818h9M222 928h9M336 672h9M402 714h9M226 813h9M85 751h9M406 779h9M271 912h9M29 974h9M262 732h9M269 869h9M182 851h9M425 770h9M18 848h9M193 813h9M198 837h9M176 893h9M302 868h9M108 853h9M163 825h9M92 760h9M431 751h9M178 951h9M411 829h9M230 862h9M201 654h9M252 909h9M151 797h9M489 792h9M472 771h9M230 824h9M255 705h9M191 910h9M39 952h9M33 792h9M211 888h9M470 850h9M181 953h9M114 846h9M43 790h9M147 925h9M238 806h9M213 653h9M117 650h9M164 747h9M215 883h9M440 768h9M290 898h9M194 826h9M102 774h9M408 571h9M316 731h9M206 823h9M240 888h9M201 629h9M297 658h9M164 976h9M126 958h9M40 950h9M218 710h9M112 830h9M205 847h9M362 749h9M133 887h9M433 916h9M279 899h9M410 852h9M239 835h9M247 751h9M133 837h9M106 955h9M226 816h9M102 832h9M163 748h9M125 908h9M297 880h9M368 779h9M32 721h9M53 776h9M332 762h9M148 890h9M329 800h9M21 801h9M436 810h9M71 939h9M245 739h9M330 926h9M319 764h9M164 758h9M145 880h9M51 980h9M348 817h9M159 867h9M164 734h9M298 875h9M313 778h9M280 951h9M104 881h9M220 876h9M185 808h9M248 716h9M182 845h9M300 970h9M349 596h9M67 872h9M359 801h9M31 730h9M399 723h9M227 891h9M224 898h9M260 973h9M436 703h9M148 788h9M199 832h9M319 798h9M209 927h9M61 932h9M244 864h9M169 835h9M76 845h9M253 766h9M282 790h9M130 799h9M46 887h9M475 758h9M451 714h9M58 889h9M175 820h9M173 861h9M284 846h9M205 882h9M88 923h9M438 704h9M226 818h9M208 856h9M200 735h9M225 794h9M104 919h9M215 824h9M42 811h9M269 860h9M217 811h9M340 725h9M77 743h9M36 842h9M508 794h9M309 776h9M165 850h9M191 813h9M115 964h9M131 925h9M233 777h9M262 924h9M99 773h9M306 782h9M379 795h9M387 913h9M167 660h9M441 635h9M168 815h9M348 768h9M228 917h9M98 882h9M81 846h9M246 808h9M364 770h9M249 920h9M446 751h9M24 748h9M77 794h9M233 717h9M223 855h9M374 916h9M150 864h9M184 716h9M250 777h9M221 780h9M87 874h9M260 889h9M450 737h9M184 761h9M281 941h9M20 739h9M248 831h9M347 632h9M206 792h9M319 849h9M153 960h9M170 883h9M274 897h9M153 787h9M265 603h9M296 675h9M369 863h9M93 929h9M100 832h9M218 747h9M159 872h9M33 958h9M117 820h9M237 905h9M303 749h9M154 813h9M203 822h9M255 869h9M202 756h9M441 751h9M259 799h9M208 866h9M268 655h9M365 772h9M347 681h9M64 921h9M566 711h9M87 834h9M211 887h9M374 853h9M296 751h9M44 728h9M73 860h9M381 715h9M301 832h9M42 883h9M76 901h9M36 843h9M326 677h9M217 834h9M450 771h9M102 962h9M91 794h9M375 845h9M196 843h9M39 982h9M24 864h9M219 951h9M220 903h9M255 793h9M288 836h9M137 795h9M472 735h9M22 959h9M210 891h9M258 816h9M333 816h9M181 822h9M301 831h9M171 852h9M189 775h9M179 808h9M204 863h9M132 885h9M220 766h9M245 628h9M111 759h9M158 825h9M233 795h9M289 840h9M239 741h9M141 803h9M311 849h9M321 804h9M158 875h9M147 850h9M104 874h9M19 982h9M181 762h9M167 766h9M264 789h9M226 808h9M254 749h9M23 805h9M194 956h9M153 774h9M210 941h9M513 796h9M182 721h9M483 873h9M157 880h9M169 887h9M368 732h9M340 734h9M344 674h9M240 758h9M236 678h9M236 717h9M103 838h9M395 699h9M190 596h9M383 717h9M414 668h9M262 883h9M357 812h9M317 735h9M35 919h9M262 635h9M157 744h9M217 854h9M318 772h9M188 810h9M350 924h9M611 742h9M23 826h9M33 814h9M464 752h9M149 907h9M241 737h9M102 896h9M170 802h9M484 854h9M41 971h9M105 747h9M200 805h9M70 836h9M255 848h9M132 904h9M317 723h9M64 974h9M218 804h9M324 775h9M213 797h9M274 808h9M106 749h9M20 802h9M336 704h9M264 728h9M165 981h9M229 789h9M346 867h9M176 967h9M248 941h9M201 777h9M123 872h9M537 824h9M164 817h9M156 791h9M270 771h9M346 745h9M330 976h9M199 891h9M221 937h9M72 949h9M269 818h9M316 728h9M285 768h9M490 628h9M442 708h9M355 695h9M273 862h9M147 846h9M143 893h9M317 732h9M235 822h9M340 659h9M150 775h9M88 852h9M334 808h9M322 792h9M296 750h9M257 681h9M141 865h9M309 752h9M228 800h9M361 878h9M278 694h9M98 953h9M186 966h9M258 660h9M296 861h9M423 763h9M253 917h9M366 729h9M237 830h9M255 782h9M173 902h9M144 862h9M351 679h9M280 730h9M227 883h9M249 798h9M253 814h9M358 747h9M241 778h9M287 746h9M446 711h9M162 852h9M224 747h9M312 783h9M445 761h9M129 961h9M332 817h9M145 876h9M177 720h9M354 828h9M404 902h9M103 830h9M220 665h9M229 825h9M126 890h9M332 818h9M308 851h9M105 798h9M149 777h9M402 724h9M432 738h9M192 721h9M58 843h9M132 832h9M218 891h9M219 738h9M155 855h9M441 940h9M80 855h9M402 889h9M257 729h9M205 837h9M189 932h9M266 736h9M59 875h9M316 688h9M193 856h9M290 965h9M226 771h9M143 933h9M155 902h9M300 752h9M451 792h9M366 597h9M185 855h9M201 800h9M139 819h9M140 841h9M227 872h9M224 725h9M203 803h9M124 779h9M408 793h9M321 714h9M247 920h9M396 764h9M365 731h9M310 713h9M101 911h9M204 750h9M264 611h9M400 694h9M115 843h9M220 789h9M44 854h9M332 834h9M272 835h9M251 686h9M190 872h9M324 734h9M166 774h9M190 867h9M124 835h9M249 625h9M205 830h9M378 977h9M281 851h9M156 939h9M84 911h9M209 640h9M541 604h9M348 660h9M475 759h9M232 806h9M364 604h9M249 675h9M594 657h9M435 773h9M420 699h9M347 592h9M247 814h9M387 662h9M367 804h9M450 586h9M530 820h9M452 634h9M263 739h9M515 703h9M258 662h9M393 564h9M432 620h9M278 570h9M326 823h9M370 615h9M429 637h9M345 652h9M425 829h9M582 571h9M487 598h9M430 801h9M471 548h9M503 649h9M514 678h9M342 733h9M556 660h9M519 552h9M309 769h9M404 634h9M412 496h9M570 552h9M287 746h9M472 810h9M166 944h9M552 801h9M521 646h9M539 435h9M603 696h9M390 787h9M426 784h9M588 679h9M440 664h9M387 590h9M620 836h9M572 556h9M348 706h9M421 731h9M476 718h9M383 707h9M260 714h9M48 747h9M323 826h9M654 567h9M374 637h9M301 624h9M734 649h9M282 699h9M468 713h9M366 517h9M233 890h9M264 729h9M157 797h9M327 680h9M617 624h9M342 639h9M597 380h9M627 458h9M620 592h9M399 806h9M682 551h9M171 675h9M615 616h9M479 633h9M402 829h9M341 731h9M267 728h9M356 796h9M213 748h9M526 640h9M586 506h9M432 545h9M348 829h9M270 862h9M304 613h9M126 755h9M622 648h9M491 809h9M512 620h9M410 687h9M173 809h9M377 646h9M129 981h9M444 785h9M508 685h9M411 536h9M363 690h9M282 666h9M494 660h9M508 602h9M463 617h9M455 674h9M443 678h9M592 658h9M351 667h9M462 773h9M351 661h9M318 554h9M474 658h9M397 733h9M651 597h9M378 509h9M262 688h9M300 767h9M335 741h9M511 664h9M310 588h9M340 707h9M514 574h9M164 549h9M409 791h9M494 704h9M453 617h9M260 744h9M518 713h9M187 822h9M464 540h9M244 730h9M623 607h9M503 635h9M366 781h9M298 817h9M277 830h9M325 791h9M441 631h9M425 684h9M509 725h9M490 617h9M688 506h9M421 794h9M488 745h9M345 796h9M261 759h9M362 704h9M537 714h9M357 861h9M331 619h9M263 748h9M320 575h9M344 701h9M356 847h9M603 474h9M531 707h9M422 620h9M139 801h9M369 614h9M165 596h9M631 648h9M491 759h9M579 802h9M284 771h9M503 544h9M508 702h9M180 951h9M381 684h9M283 676h9M390 849h9M464 823h9M332 723h9M616 509h9M379 702h9M583 646h9M322 646h9M415 645h9M469 586h9M418 429h9M195 824h9M200 806h9M316 953h9M108 819h9M364 693h9M135 903h9M323 802h9M452 748h9M477 620h9M440 808h9M461 880h9M340 645h9M653 536h9M240 649h9M468 619h9M342 745h9M313 616h9M349 738h9M579 520h9M577 597h9M409 822h9M414 547h9M282 673h9M428 603h9M413 832h9M269 625h9M413 655h9M483 761h9M348 669h9M368 536h9M576 608h9M201 857h9M146 722h9M468 864h9M392 648h9M319 709h9M336 646h9M308 771h9M402 638h9M387 592h9M333 818h9M506 761h9M453 628h9M296 745h9M473 694h9M384 974h9M304 792h9M538 432h9M452 927h9M456 665h9M615 422h9M234 743h9M582 542h9M659 470h9M324 673h9M188 866h9M384 774h9M254 781h9M438 487h9M281 635h9M466 672h9M537 445h9M219 794h9M523 724h9M279 856h9M434 474h9M423 581h9M654 515h9M264 692h9M462 759h9M425 846h9M318 758h9M456 752h9M345 789h9M305 878h9M311 801h9M313 616h9M410 495h9M242 766h9M240 739h9M396 635h9M588 743h9M512 723h9M578 733h9M369 782h9M481 752h9M233 569h9M337 652h9M677 703h9M497 685h9M640 391h9M292 736h9M567 679h9M234 593h9M569 699h9M623 668h9M218 815h9M486 654h9M559 772h9M307 610h9M594 636h9M416 833h9M233 765h9M584 655h9M595 475h9M235 778h9M107 884h9M491 699h9M601 747h9M526 843h9M235 668h9M460 641h9M547 458h9M279 833h9M190 669h9M357 676h9M202 632h9M592 619h9M140 691h9M432 628h9M302 721h9M443 802h9M499 756h9M479 624h9M362 810h9M320 726h9M408 768h9M494 455h9M513 614h9M670 472h9M436 808h9M602 612h9M468 672h9M197 733h9M545 623h9M346 576h9M168 837h9M412 630h9M527 612h9M233 691h9M242 591h9M513 749h9M279 649h9M364 756h9M453 653h9M458 627h9M185 749h9M423 808h9M630 552h9M494 758h9M576 656h9M441 771h9M630 714h9M435 770h9M408 866h9M278 770h9M736 620h9M319 501h9M253 675h9M341 623h9M301 716h9M222 845h9M229 735h9M268 785h9M362 659h9M229 484h9M434 765h9M542 517h9M442 644h9M402 907h9M398 730h9M379 716h9M322 880h9M263 801h9M399 749h9M824 515h9M368 642h9M424 765h9M151 875h9M442 728h9M465 641h9M402 790h9M434 573h9M278 959h9M412 757h9M65 906h9M446 750h9M487 654h9M423 702h9M355 872h9M406 679h9M673 534h9M507 580h9M476 635h9M515 518h9M473 645h9M445 533h9M471 576h9M575 526h9M476 542h9M364 916h9M579 654h9M606 524h9M647 535h9M479 755h9M503 694h9M531 601h9M426 723h9M395 564h9M284 693h9M661 577h9M247 867h9M375 719h9M327 801h9M428 695h9M723 721h9M230 535h9M443 630h9M599 645h9M368 609h9M589 648h9M563 622h9M442 740h9M311 909h9M303 791h9M363 657h9M415 782h9M529 638h9M180 737h9M393 701h9M295 756h9M122 724h9M372 631h9M518 755h9M455 521h9M573 631h9M248 668h9M338 790h9M389 608h9M373 758h9M273 784h9M416 721h9M433 656h9M497 653h9M277 826h9M486 810h9M368 933h9M405 796h9M323 756h9M199 891h9M367 435h9M482 456h9M560 638h9M87 756h9M337 825h9M481 770h9M422 643h9M364 764h9M321 645h9M301 685h9M665 783h9M422 624h9M457 621h9M373 666h9M486 623h9M555 686h9M601 603h9M701 800h9M652 674h9M728 804h9M661 522h9M775 670h9M674 642h9M650 774h9M899 568h9M752 699h9M709 771h9M655 763h9M718 636h9M811 493h9M751 722h9M567 818h9M714 845h9M684 737h9M753 507h9M734 591h9M551 727h9M597 776h9M709 803h9M679 639h9M693 859h9M766 602h9M563 813h9M542 480h9M677 627h9M853 628h9M633 807h9M743 733h9M635 605h9M683 768h9M451 675h9M349 677h9M736 579h9M672 524h9M706 725h9M631 728h9M568 970h9M812 768h9M690 512h9M703 556h9M809 669h9M654 840h9M594 506h9M622 738h9M777 731h9M543 662h9M524 789h9M661 698h9M584 655h9M703 740h9M694 535h9M605 738h9M799 753h9M803 499h9M633 720h9M784 695h9M657 677h9M687 701h9M676 548h9M496 693h9M603 660h9M541 878h9M699 573h9M832 635h9M688 706h9M692 873h9M643 655h9M536 745h9M588 833h9M839 771h9M634 922h9M814 672h9M695 685h9M702 739h9M618 608h9M887 840h9M667 545h9M518 893h9M714 643h9M594 674h9M864 244h9M638 795h9M643 526h9M853 728h9M601 649h9M731 790h9M579 752h9M673 679h9M659 612h9M694 703h9M659 866h9M682 914h9M576 801h9M581 818h9M773 648h9M550 595h9M664 707h9M616 698h9M429 842h9M607 564h9M785 611h9M753 671h9M614 862h9M647 442h9M673 839h9M699 860h9M684 832h9M599 649h9M731 679h9M704 946h9M709 733h9M513 767h9M788 661h9M631 628h9M723 864h9M698 637h9M634 748h9M744 639h9M725 726h9M721 793h9M712 732h9M523 752h9M739 764h9M707 847h9M632 811h9M624 698h9M576 727h9M680 708h9M739 694h9M746 609h9M700 646h9M748 804h9M658 549h9M653 789h9M572 750h9M699 614h9M636 649h9M704 798h9M564 836h9M633 567h9M613 852h9M603 738h9M603 824h9M683 636h9M776 786h9M699 665h9M598 658h9M620 708h9M556 862h9M764 741h9M747 624h9M650 771h9M641 640h9M761 699h9M618 658h9M684 643h9M736 706h9M860 592h9M666 700h9M679 654h9M546 743h9M625 737h9M651 666h9M574 625h9M770 701h9M678 825h9M624 527h9M738 573h9M819 579h9M715 645h9M660 660h9M743 572h9M640 581h9M764 678h9M778 713h9M656 604h9M651 924h9M651 598h9M721 735h9M577 759h9M753 845h9M632 782h9M487 883h9M734 591h9M912 697h9M683 688h9M671 633h9M754 692h9M672 653h9M760 753h9M764 607h9M609 787h9M720 777h9M642 752h9M796 343h9M691 574h9M685 783h9M823 806h9M750 828h9M830 660h9M767 686h9M773 652h9M712 610h9M702 732h9M681 765h9M661 738h9M577 579h9M706 507h9M748 788h9M585 917h9M617 852h9M774 522h9M671 492h9M607 705h9M680 935h9M570 825h9M766 724h9M746 570h9M705 774h9M660 435h9M623 800h9M651 659h9M610 453h9M706 646h9M742 440h9M594 690h9M647 813h9M750 676h9M687 634h9M675 770h9M725 821h9M675 624h9M561 587h9M589 730h9M624 656h9M532 477h9M556 654h9M670 662h9M716 774h9M719 776h9M559 625h9M619 620h9M696 724h9M708 747h9M655 873h9M603 699h9M915 628h9M742 769h9M675 730h9M644 679h9M765 449h9M585 920h9M625 774h9M507 647h9M661 709h9M602 873h9M681 795h9M625 662h9M680 802h9M745 444h9M714 787h9M652 574h9M565 768h9M579 785h9M609 573h9M539 703h9M695 660h9M724 676h9M639 528h9M549 746h9M747 730h9M694 674h9M761 584h9M703 768h9M678 697h9M595 692h9M762 740h9M738 605h9M557 811h9M540 789h9M546 886h9M783 557h9M550 793h9M693 600h9M496 785h9M660 743h9M718 633h9M879 441h9M533 756h9M625 647h9M623 507h9M630 666h9M620 658h9M748 765h9M636 690h9M732 589h9M859 189h9M848 247h9M726 291h9M724 314h9M760 283h9M764 287h9M708 255h9M732 266h9M704 359h9M845 270h9M670 218h9M875 249h9M784 264h9M880 266h9M799 248h9M844 254h9M587 349h9M734 293h9M791 266h9M672 281h9M814 315h9M889 233h9M777 214h9M801 252h9M856 266h9M700 347h9M703 291h9M764 301h9M811 178h9M823 333h9M778 238h9M790 297h9M879 275h9M744 280h9M821 217h9M829 284h9M683 390h9M783 259h9M715 276h9M912 232h9M805 293h9M650 248h9M818 220h9M767 196h9M666 272h9M766 216h9M851 306h9M774 223h9M805 204h9M868 252h9M788 245h9M768 243h9M799 274h9M813 236h9M787 274h9M706 216h9M739 260h9M781 255h9M787 237h9M811 263h9M802 229h9M853 273h9M780 307h9M753 259h9M783 316h9M858 291h9M751 289h9M780 243h9M813 231h9M795 216h9M776 183h9M679 227h9M827 306h9M727 297h9M797 331h9M757 274h9M800 345h9M844 343h9M830 250h9M779 209h9M793 224h9M786 264h9M840 239h9M776 326h9M649 296h9M705 298h9M780 315h9M862 283h9M909 260h9M787 291h9M840 235h9M918 276h9M933 205h9M771 175h9M878 242h9M786 239h9M980 150h9M844 324h9M849 355h9M764 333h9M772 238h9M602 298h9M781 269h9M741 280h9M841 305h9M892 213h9M691 278h9M886 316h9M790 335h9M858 293h9M453 296h9M580 389h9M458 281h9M245 255h9M389 289h9M428 345h9M315 302h9M362 343h9M599 317h9M409 387h9M236 251h9M616 272h9M331 335h9M407 289h9M491 424h9M224 300h9M218 312h9M433 344h9M599 309h9M449 295h9M414 316h9M236 285h9M348 311h9M509 267h9M330 340h9M240 313h9M273 282h9M209 312h9M458 260h9M252 342h9M331 358h9M399 297h9M417 316h9M488 371h9M445 278h9M503 264h9M369 312h9M328 323h9M510 363h9M294 266h9M208 218h9M351 229h9M377 258h9M255 330h9M475 403h9M399 267h9M360 322h9M342 323h9M384 249h9M498 360h9M471 234h9M533 240h9M525 326h9M614 286h9M297 178h9M473 355h9M355 314h9M266 253h9M455 252h9M355 238h9M147 356h9M68 857h9M506 153h9M747 641h9M49 873h9M192 167h9M830 809h9M905 742h9M584 344h9M472 968h9M741 887h9M887 131h9M448 343h9M214 692h9M836 898h9M879 517h9M693 823h9M567 432h9M181 583h9M548 423h9M455 354h9M141 842h9M467 517h9M326 913h9M622 315h9M840 923h9M330 133h9M687 761h9M207 224h9M746 302h9M248 403h9M207 872h9M659 65h9M877 23h9M528 786h9M296 99h9M956 727h9M248 863h9M907 33h9M197 582h9M768 885h9M350 293h9M921 441h9M332 580h9M496 574h9M581 43h9M847 85h9M512 907h9M335 212h9M437 50h9" stroke="#e2281f" stroke-width="9.5" stroke-opacity="0.42" fill="none"/></g>
<line x1="223.4" y1="446.6" x2="223.4" y2="530.4" stroke="#5a5a5a" stroke-width="0.85"/>
<line x1="179.3" y1="485.4" x2="261.8" y2="485.4" stroke="#5a5a5a" stroke-width="0.85"/>
<rect x="179.3" y="446.6" width="82.5" height="83.8" fill="none" stroke="#858585" stroke-width="0.85"/>
<line x1="177.1" y1="455.8" x2="179.3" y2="455.8" stroke="#444" stroke-width="0.7"/>
<line x1="178" y1="456.8" x2="179.3" y2="456.8" stroke="#555" stroke-width="0.5"/>
<line x1="178" y1="457.8" x2="179.3" y2="457.8" stroke="#555" stroke-width="0.5"/>
<line x1="178" y1="459" x2="179.3" y2="459" stroke="#555" stroke-width="0.5"/>
<line x1="178" y1="460.4" x2="179.3" y2="460.4" stroke="#555" stroke-width="0.5"/>
<line x1="178" y1="462" x2="179.3" y2="462" stroke="#555" stroke-width="0.5"/>
<line x1="178" y1="464" x2="179.3" y2="464" stroke="#555" stroke-width="0.5"/>
<line x1="178" y1="466.6" x2="179.3" y2="466.6" stroke="#555" stroke-width="0.5"/>
<line x1="178" y1="470.2" x2="179.3" y2="470.2" stroke="#555" stroke-width="0.5"/>
<text x="176.7" y="457.2" font-size="3.3" text-anchor="end" fill="#333">10</text>
<text x="173.1" y="454.6" font-size="2.6" text-anchor="end" fill="#333">4</text>
<line x1="177.1" y1="476.3" x2="179.3" y2="476.3" stroke="#444" stroke-width="0.7"/>
<line x1="178" y1="477.3" x2="179.3" y2="477.3" stroke="#555" stroke-width="0.5"/>
<line x1="178" y1="478.3" x2="179.3" y2="478.3" stroke="#555" stroke-width="0.5"/>
<line x1="178" y1="479.5" x2="179.3" y2="479.5" stroke="#555" stroke-width="0.5"/>
<line x1="178" y1="480.9" x2="179.3" y2="480.9" stroke="#555" stroke-width="0.5"/>
<line x1="178" y1="482.5" x2="179.3" y2="482.5" stroke="#555" stroke-width="0.5"/>
<line x1="178" y1="484.5" x2="179.3" y2="484.5" stroke="#555" stroke-width="0.5"/>
<line x1="178" y1="487.1" x2="179.3" y2="487.1" stroke="#555" stroke-width="0.5"/>
<line x1="178" y1="490.7" x2="179.3" y2="490.7" stroke="#555" stroke-width="0.5"/>
<text x="176.7" y="477.7" font-size="3.3" text-anchor="end" fill="#333">10</text>
<text x="173.1" y="475.1" font-size="2.6" text-anchor="end" fill="#333">3</text>
<line x1="177.1" y1="496.9" x2="179.3" y2="496.9" stroke="#444" stroke-width="0.7"/>
<line x1="178" y1="497.8" x2="179.3" y2="497.8" stroke="#555" stroke-width="0.5"/>
<line x1="178" y1="498.9" x2="179.3" y2="498.9" stroke="#555" stroke-width="0.5"/>
<line x1="178" y1="500.1" x2="179.3" y2="500.1" stroke="#555" stroke-width="0.5"/>
<line x1="178" y1="501.4" x2="179.3" y2="501.4" stroke="#555" stroke-width="0.5"/>
<line x1="178" y1="503.1" x2="179.3" y2="503.1" stroke="#555" stroke-width="0.5"/>
<line x1="178" y1="505.1" x2="179.3" y2="505.1" stroke="#555" stroke-width="0.5"/>
<line x1="178" y1="507.6" x2="179.3" y2="507.6" stroke="#555" stroke-width="0.5"/>
<line x1="178" y1="511.2" x2="179.3" y2="511.2" stroke="#555" stroke-width="0.5"/>
<text x="176.7" y="498.3" font-size="3.3" text-anchor="end" fill="#333">10</text>
<text x="173.1" y="495.7" font-size="2.6" text-anchor="end" fill="#333">2</text>
<line x1="177.1" y1="517.4" x2="179.3" y2="517.4" stroke="#444" stroke-width="0.7"/>
<line x1="178" y1="518.4" x2="179.3" y2="518.4" stroke="#555" stroke-width="0.5"/>
<line x1="178" y1="519.4" x2="179.3" y2="519.4" stroke="#555" stroke-width="0.5"/>
<line x1="178" y1="520.6" x2="179.3" y2="520.6" stroke="#555" stroke-width="0.5"/>
<line x1="178" y1="522" x2="179.3" y2="522" stroke="#555" stroke-width="0.5"/>
<line x1="178" y1="523.6" x2="179.3" y2="523.6" stroke="#555" stroke-width="0.5"/>
<line x1="178" y1="525.6" x2="179.3" y2="525.6" stroke="#555" stroke-width="0.5"/>
<line x1="178" y1="528.1" x2="179.3" y2="528.1" stroke="#555" stroke-width="0.5"/>
<text x="176.7" y="518.8" font-size="3.3" text-anchor="end" fill="#333">10</text>
<text x="173.1" y="516.2" font-size="2.6" text-anchor="end" fill="#333">1</text>
<line x1="190.9" y1="530.4" x2="190.9" y2="532.6" stroke="#444" stroke-width="0.7"/>
<line x1="189.9" y1="530.4" x2="189.9" y2="531.7" stroke="#555" stroke-width="0.5"/>
<line x1="188.9" y1="530.4" x2="188.9" y2="531.7" stroke="#555" stroke-width="0.5"/>
<line x1="187.7" y1="530.4" x2="187.7" y2="531.7" stroke="#555" stroke-width="0.5"/>
<line x1="186.4" y1="530.4" x2="186.4" y2="531.7" stroke="#555" stroke-width="0.5"/>
<line x1="184.8" y1="530.4" x2="184.8" y2="531.7" stroke="#555" stroke-width="0.5"/>
<line x1="182.8" y1="530.4" x2="182.8" y2="531.7" stroke="#555" stroke-width="0.5"/>
<line x1="180.3" y1="530.4" x2="180.3" y2="531.7" stroke="#555" stroke-width="0.5"/>
<text x="189" y="537.4" font-size="3.3" fill="#333">10</text>
<text x="192.7" y="535.4" font-size="2.6" fill="#333">1</text>
<line x1="211.1" y1="530.4" x2="211.1" y2="532.6" stroke="#444" stroke-width="0.7"/>
<line x1="210.1" y1="530.4" x2="210.1" y2="531.7" stroke="#555" stroke-width="0.5"/>
<line x1="209.1" y1="530.4" x2="209.1" y2="531.7" stroke="#555" stroke-width="0.5"/>
<line x1="207.9" y1="530.4" x2="207.9" y2="531.7" stroke="#555" stroke-width="0.5"/>
<line x1="206.6" y1="530.4" x2="206.6" y2="531.7" stroke="#555" stroke-width="0.5"/>
<line x1="205" y1="530.4" x2="205" y2="531.7" stroke="#555" stroke-width="0.5"/>
<line x1="203" y1="530.4" x2="203" y2="531.7" stroke="#555" stroke-width="0.5"/>
<line x1="200.5" y1="530.4" x2="200.5" y2="531.7" stroke="#555" stroke-width="0.5"/>
<line x1="196.9" y1="530.4" x2="196.9" y2="531.7" stroke="#555" stroke-width="0.5"/>
<text x="209.2" y="537.4" font-size="3.3" fill="#333">10</text>
<text x="212.9" y="535.4" font-size="2.6" fill="#333">2</text>
<line x1="231.3" y1="530.4" x2="231.3" y2="532.6" stroke="#444" stroke-width="0.7"/>
<line x1="230.4" y1="530.4" x2="230.4" y2="531.7" stroke="#555" stroke-width="0.5"/>
<line x1="229.3" y1="530.4" x2="229.3" y2="531.7" stroke="#555" stroke-width="0.5"/>
<line x1="228.1" y1="530.4" x2="228.1" y2="531.7" stroke="#555" stroke-width="0.5"/>
<line x1="226.8" y1="530.4" x2="226.8" y2="531.7" stroke="#555" stroke-width="0.5"/>
<line x1="225.2" y1="530.4" x2="225.2" y2="531.7" stroke="#555" stroke-width="0.5"/>
<line x1="223.2" y1="530.4" x2="223.2" y2="531.7" stroke="#555" stroke-width="0.5"/>
<line x1="220.7" y1="530.4" x2="220.7" y2="531.7" stroke="#555" stroke-width="0.5"/>
<line x1="217.1" y1="530.4" x2="217.1" y2="531.7" stroke="#555" stroke-width="0.5"/>
<text x="229.4" y="537.4" font-size="3.3" fill="#333">10</text>
<text x="233.1" y="535.4" font-size="2.6" fill="#333">3</text>
<line x1="251.5" y1="530.4" x2="251.5" y2="532.6" stroke="#444" stroke-width="0.7"/>
<line x1="250.6" y1="530.4" x2="250.6" y2="531.7" stroke="#555" stroke-width="0.5"/>
<line x1="249.5" y1="530.4" x2="249.5" y2="531.7" stroke="#555" stroke-width="0.5"/>
<line x1="248.4" y1="530.4" x2="248.4" y2="531.7" stroke="#555" stroke-width="0.5"/>
<line x1="247" y1="530.4" x2="247" y2="531.7" stroke="#555" stroke-width="0.5"/>
<line x1="245.4" y1="530.4" x2="245.4" y2="531.7" stroke="#555" stroke-width="0.5"/>
<line x1="243.4" y1="530.4" x2="243.4" y2="531.7" stroke="#555" stroke-width="0.5"/>
<line x1="240.9" y1="530.4" x2="240.9" y2="531.7" stroke="#555" stroke-width="0.5"/>
<line x1="237.4" y1="530.4" x2="237.4" y2="531.7" stroke="#555" stroke-width="0.5"/>
<text x="249.6" y="537.4" font-size="3.3" fill="#333">10</text>
<text x="253.3" y="535.4" font-size="2.6" fill="#333">4</text>
<text x="181.1" y="451.6" font-size="3.4" fill="#333">Q1</text>
<text x="260" y="451.6" font-size="3.4" text-anchor="end" fill="#333">Q2</text>
<text x="181.1" y="528.8" font-size="3.4" fill="#333">Q3</text>
<text x="260" y="528.8" font-size="3.4" text-anchor="end" fill="#333">Q4</text>
<rect x="278.7" y="446.6" width="82.5" height="83.8" fill="#fff" stroke="none" stroke-width="1"/>
<ellipse cx="298.5" cy="511.1" rx="14" ry="6.7" fill="url(#core)" fill-opacity="0.6" transform="rotate(-40 298.5 511.1)"/>
<ellipse cx="338.9" cy="492.7" rx="5.8" ry="13.4" fill="url(#core)" fill-opacity="0.6" transform="rotate(0 338.9 492.7)"/>
<g transform="translate(278.7 446.6) scale(0.08250 0.08380)"><path d="M360 697h9M205 899h9M249 737h9M195 820h9M69 792h9M278 767h9M307 700h9M251 775h9M248 733h9M333 648h9M285 676h9M221 888h9M73 824h9M54 950h9M240 706h9M39 950h9M148 883h9M239 716h9M308 533h9M416 741h9M70 904h9M203 722h9M310 667h9M239 740h9M283 754h9M305 819h9M346 656h9M563 554h9M65 932h9M216 839h9M98 893h9M80 803h9M68 849h9M349 666h9M392 639h9M335 763h9M99 902h9M254 695h9M100 910h9M148 780h9M172 742h9M196 852h9M155 945h9M92 951h9M149 693h9M283 683h9M251 777h9M72 972h9M396 697h9M184 759h9M212 806h9M463 593h9M194 829h9M158 802h9M301 767h9M210 897h9M204 748h9M129 853h9M158 858h9M271 814h9M364 598h9M371 741h9M26 954h9M253 764h9M218 783h9M198 755h9M79 855h9M294 772h9M649 472h9M267 832h9M267 737h9M363 718h9M362 775h9M241 888h9M238 721h9M68 841h9M290 842h9M130 880h9M295 639h9M164 886h9M195 982h9M289 747h9M204 705h9M206 842h9M350 725h9M243 789h9M235 759h9M274 824h9M383 698h9M193 746h9M188 774h9M364 625h9M192 735h9M217 836h9M149 810h9M166 732h9M330 669h9M366 621h9M155 663h9M78 869h9M38 925h9M192 892h9M299 722h9M240 837h9M394 678h9M320 812h9M396 685h9M347 723h9M234 742h9M236 632h9M222 798h9M360 675h9M139 855h9M325 705h9M366 758h9M276 792h9M203 832h9M152 673h9M260 702h9M284 609h9M183 890h9M312 779h9M404 715h9M215 740h9M123 865h9M279 836h9M233 864h9M224 672h9M395 674h9M220 830h9M328 661h9M92 929h9M104 849h9M269 739h9M309 682h9M242 731h9M187 754h9M355 829h9M419 651h9M320 711h9M409 654h9M286 773h9M243 737h9M136 850h9M180 803h9M347 686h9M383 715h9M204 804h9M143 810h9M163 871h9M268 801h9M238 777h9M359 594h9M296 776h9M329 549h9M200 812h9M381 679h9M200 722h9M141 773h9M148 799h9M229 833h9M328 805h9M299 742h9M351 773h9M339 569h9M171 817h9M342 461h9M265 798h9M263 765h9M188 893h9M403 764h9M215 913h9M42 905h9M79 833h9M240 836h9M314 814h9M318 642h9M92 862h9M408 636h9M96 802h9M241 755h9M86 854h9M264 834h9M288 764h9M319 668h9M137 934h9M376 641h9M160 758h9M293 711h9M174 860h9M369 693h9M198 763h9M110 871h9M228 603h9M50 905h9M156 941h9M465 514h9M186 829h9M208 804h9M195 786h9M354 670h9M338 797h9M415 695h9M129 905h9M296 740h9M103 873h9M463 605h9M197 853h9M274 818h9M219 866h9M323 773h9M397 602h9M257 672h9M401 703h9M430 586h9M360 703h9M236 698h9M206 796h9M330 786h9M76 810h9M347 573h9M318 774h9M331 660h9M349 644h9M323 650h9M158 794h9M121 891h9M328 758h9M81 926h9M310 651h9M294 662h9M39 940h9M331 721h9M304 776h9M239 680h9M153 677h9M262 764h9M469 627h9M344 624h9M179 825h9M235 782h9M166 755h9M276 809h9M211 717h9M132 859h9M412 580h9M259 715h9M297 563h9M375 634h9M168 839h9M254 800h9M259 746h9M220 801h9M119 916h9M470 508h9M304 681h9M267 801h9M270 849h9M245 830h9M220 709h9M223 791h9M313 691h9M414 615h9M370 694h9M182 748h9M365 759h9M93 903h9M371 728h9M296 597h9M298 720h9M277 683h9M57 951h9M233 639h9M463 621h9M294 811h9M178 800h9M181 778h9M213 769h9M351 709h9M287 718h9M198 789h9M195 850h9M176 860h9M66 800h9M44 891h9M158 923h9M225 864h9M175 722h9M320 703h9M311 841h9M430 624h9M167 805h9M365 727h9M243 620h9M397 620h9M213 894h9M148 822h9M275 636h9M214 787h9M179 911h9M271 821h9M177 894h9M262 805h9M281 617h9M238 757h9M158 930h9M448 770h9M475 536h9M227 743h9M230 748h9M302 726h9M202 803h9M240 774h9M252 722h9M241 768h9M198 799h9M244 765h9M272 781h9M79 818h9M303 676h9M318 797h9M327 649h9M310 792h9M229 732h9M330 745h9M269 699h9M62 965h9M159 901h9M192 763h9M192 857h9M185 702h9M426 705h9M374 600h9M200 803h9M289 813h9M199 795h9M121 876h9M351 822h9M402 552h9M224 773h9M242 888h9M257 795h9M221 934h9M339 720h9M269 776h9M350 751h9M141 932h9M235 725h9M399 620h9M262 751h9M165 884h9M299 730h9M169 826h9M329 864h9M293 741h9M223 864h9M335 663h9M213 892h9M195 792h9M168 779h9M81 746h9M124 911h9M340 700h9M248 801h9M330 701h9M332 640h9M147 723h9M260 818h9M432 706h9M498 656h9M445 726h9M116 941h9M219 687h9M594 505h9M225 799h9M392 687h9M135 795h9M479 641h9M297 695h9M252 745h9M331 639h9M128 938h9M325 801h9M260 761h9M357 702h9M249 852h9M258 855h9M315 650h9M454 584h9M234 829h9M194 748h9M340 645h9M210 848h9M40 850h9M220 818h9M276 603h9M199 826h9M135 828h9M71 966h9M266 805h9M241 738h9M219 688h9M170 885h9M238 801h9M272 712h9M200 890h9M85 781h9M193 654h9M295 756h9M171 901h9M237 720h9M319 669h9M252 821h9M264 814h9M198 852h9M117 914h9M150 828h9M296 710h9M125 888h9M397 622h9M293 715h9M324 758h9M105 810h9M143 831h9M394 688h9M122 849h9M62 951h9M178 781h9M427 557h9M438 642h9M106 914h9M216 804h9M199 738h9M286 662h9M409 705h9M172 756h9M355 740h9M202 706h9M343 597h9M160 781h9M261 791h9M182 805h9M171 771h9M422 661h9M255 724h9M299 667h9M109 980h9M176 810h9M367 640h9M174 932h9M268 728h9M341 652h9M268 809h9M244 731h9M152 826h9M168 879h9M199 827h9M118 884h9M200 843h9M282 705h9M91 974h9M108 882h9M53 951h9M227 764h9M184 764h9M270 690h9M142 932h9M302 726h9M259 647h9M213 733h9M174 828h9M215 787h9M202 667h9M84 883h9M228 740h9M298 797h9M170 740h9M273 851h9M254 616h9M158 791h9M449 524h9M107 886h9M278 756h9M230 751h9M216 784h9M356 727h9M334 823h9M321 741h9M135 914h9M322 734h9M130 941h9M199 804h9M249 781h9M158 799h9M27 860h9M463 655h9M254 773h9M122 893h9M178 871h9M248 785h9M333 832h9M103 850h9M430 594h9M262 782h9M177 811h9M417 666h9M325 775h9M262 799h9M92 858h9M304 773h9M364 678h9M250 719h9M295 603h9M152 802h9M184 726h9M79 879h9M274 870h9M155 766h9M321 812h9M323 651h9M123 790h9M231 682h9M94 898h9M195 855h9M237 744h9M112 967h9M263 691h9M373 572h9M126 972h9M153 824h9M142 840h9M113 776h9M170 827h9M142 730h9M70 967h9M247 783h9M175 719h9M154 776h9M227 829h9M308 707h9M127 792h9M294 724h9M168 919h9M110 920h9M48 817h9M369 592h9M198 907h9M327 719h9M168 757h9M273 678h9M137 838h9M274 788h9M199 897h9M64 793h9M271 769h9M206 710h9M331 800h9M159 918h9M46 941h9M381 628h9M111 876h9M285 734h9M195 885h9M104 873h9M378 671h9M389 683h9M249 766h9M350 734h9M48 950h9M227 682h9M289 895h9M150 849h9M244 754h9M243 757h9M403 709h9M400 666h9M247 718h9M342 814h9M362 618h9M212 762h9M264 689h9M414 567h9M302 804h9M310 627h9M72 931h9M417 695h9M307 830h9M268 788h9M144 873h9M320 635h9M312 814h9M306 693h9M285 754h9M165 801h9M335 601h9M400 582h9M130 778h9M215 679h9M50 884h9M48 975h9M173 794h9M380 650h9M164 898h9M413 649h9M347 731h9M214 774h9M340 714h9M320 711h9M410 528h9M359 811h9M245 742h9M244 667h9M248 701h9M159 880h9M307 686h9M242 687h9M305 706h9M280 698h9M200 768h9M236 693h9M24 932h9M323 739h9M200 713h9M244 737h9M251 767h9M389 567h9M192 902h9M97 858h9M204 868h9M443 646h9M209 656h9M132 848h9M69 902h9M230 847h9M136 850h9M273 803h9M284 796h9M436 657h9M292 688h9M126 817h9M102 883h9M268 818h9M369 608h9M345 692h9M513 574h9M165 863h9M183 803h9M292 720h9M335 680h9M77 855h9M21 858h9M254 716h9M102 905h9M201 760h9M285 773h9M189 699h9M376 687h9M181 862h9M380 543h9M223 859h9M375 691h9M174 788h9M325 609h9M294 746h9M373 588h9M357 633h9M285 744h9M397 592h9M270 683h9M309 784h9M542 508h9M230 780h9M320 729h9M51 808h9M328 866h9M39 900h9M336 631h9M111 868h9M353 817h9M368 621h9M201 754h9M164 801h9M407 706h9M307 754h9M141 825h9M233 828h9M232 867h9M33 836h9M252 947h9M192 935h9M319 508h9M130 742h9M204 706h9M96 767h9M307 728h9M499 626h9M318 732h9M322 601h9M89 885h9M270 797h9M237 854h9M194 800h9M70 953h9M123 919h9M353 668h9M358 718h9M277 673h9M310 783h9M333 720h9M241 584h9M362 699h9M359 575h9M501 517h9M316 691h9M281 763h9M272 704h9M343 746h9M225 833h9M250 878h9M168 739h9M338 755h9M219 808h9M120 947h9M252 619h9M244 758h9M256 742h9M287 815h9M65 964h9M351 677h9M213 716h9M223 767h9M278 712h9M266 782h9M111 853h9M193 805h9M116 717h9M127 804h9M135 853h9M364 644h9M450 672h9M180 742h9M261 672h9M254 844h9M293 684h9M346 686h9M230 757h9M172 889h9M181 763h9M353 641h9M138 867h9M239 685h9M92 810h9M483 568h9M576 688h9M363 651h9M179 760h9M76 973h9M68 941h9M311 763h9M339 691h9M191 807h9M160 889h9M190 805h9M264 753h9M360 576h9M421 701h9M262 768h9M464 640h9M105 943h9M239 682h9M105 825h9M34 851h9M156 793h9M64 932h9M324 652h9M320 718h9M89 962h9M279 825h9M195 812h9M583 509h9M160 804h9M97 755h9M70 851h9M431 609h9M109 805h9M233 806h9M177 869h9M153 796h9M247 769h9M199 784h9M172 821h9M65 962h9M279 771h9M198 784h9M289 627h9M167 831h9M17 944h9M264 675h9M221 782h9M296 743h9M259 720h9M205 885h9M260 734h9M168 822h9M231 789h9M292 686h9M39 971h9M336 761h9M153 767h9M378 625h9M128 837h9M85 955h9M382 619h9M56 951h9M261 680h9M293 793h9M73 972h9M231 799h9M532 576h9M53 924h9M349 613h9M363 772h9M321 667h9M415 672h9M136 880h9M146 852h9M275 799h9M300 792h9M252 828h9M240 740h9M226 815h9M63 980h9M153 964h9M241 804h9M48 818h9M322 680h9M109 862h9M202 881h9M356 848h9M316 729h9M230 737h9M119 956h9M315 828h9M341 636h9M377 623h9M287 631h9M120 798h9M141 906h9M341 709h9M151 874h9M211 717h9M223 834h9M181 794h9M275 727h9M351 682h9M321 729h9M168 867h9M312 698h9M373 760h9M129 814h9M340 695h9M353 726h9M263 772h9M393 639h9M508 546h9M346 765h9M386 704h9M207 845h9M214 802h9M281 776h9M289 791h9M163 866h9M163 752h9M204 697h9M434 653h9M236 810h9M224 733h9M320 689h9M109 828h9M244 826h9M20 932h9M94 823h9M282 823h9M292 744h9M100 826h9M220 831h9M529 650h9M261 700h9M223 824h9M235 889h9M148 806h9M245 826h9M123 960h9M288 758h9M280 742h9M330 841h9M281 703h9M303 780h9M148 803h9M277 749h9M342 754h9M310 668h9M215 907h9M302 696h9M71 952h9M79 932h9M249 770h9M274 752h9M124 862h9M88 816h9M115 852h9M327 768h9M479 641h9M90 939h9M31 924h9M217 744h9M328 772h9M310 702h9M272 801h9M105 957h9M320 689h9M208 758h9M295 731h9M288 744h9M181 852h9M284 779h9M181 740h9M233 777h9M255 707h9M356 684h9M340 699h9M244 757h9M183 707h9M82 896h9M54 849h9M145 946h9M343 677h9M151 895h9M306 703h9M232 714h9M149 707h9M275 769h9M389 695h9M133 802h9M37 935h9M157 808h9M107 756h9M225 726h9M133 743h9M280 788h9M292 704h9M220 841h9M511 625h9M249 741h9M293 678h9M277 674h9M199 760h9M136 874h9M230 797h9M239 774h9M187 814h9M154 744h9M276 617h9M229 833h9M483 678h9M360 661h9M397 611h9M133 937h9M240 829h9M107 939h9M214 854h9M465 651h9M325 767h9M88 871h9M196 699h9M503 619h9M231 781h9M242 659h9M82 969h9M176 836h9M51 921h9M485 647h9M331 683h9M76 900h9M288 608h9M41 896h9M55 802h9M280 708h9M109 794h9M267 806h9M142 935h9M56 970h9M246 798h9M397 768h9M254 731h9M271 775h9M293 771h9M85 958h9M329 641h9M92 873h9M260 930h9M318 719h9M395 711h9M387 653h9M379 681h9M65 878h9M239 766h9M261 697h9M115 747h9M245 789h9M262 721h9M98 942h9M292 716h9M363 785h9M252 725h9M107 884h9M233 755h9M279 817h9M149 838h9M266 662h9M240 715h9M340 722h9M208 856h9M136 809h9M102 816h9M376 701h9M357 702h9M378 657h9M333 787h9M214 727h9M256 897h9M289 714h9M396 670h9M313 688h9M368 649h9M353 689h9M196 682h9M143 799h9M169 893h9M298 638h9M357 612h9M373 678h9M192 793h9M32 963h9M292 727h9M229 935h9M182 864h9M147 946h9M386 678h9M119 790h9M474 690h9M115 831h9M360 696h9M398 714h9M96 967h9M310 620h9M209 786h9M112 715h9M280 806h9M267 698h9M283 600h9M246 737h9M232 642h9M310 646h9M291 690h9M319 853h9M157 689h9M204 659h9M465 665h9M310 659h9M161 709h9M297 767h9M252 767h9M403 661h9M134 768h9M239 570h9M48 981h9M278 705h9M134 894h9M302 666h9M241 705h9M319 648h9M234 703h9M290 625h9M132 832h9M338 776h9M296 827h9M153 864h9M325 601h9M334 705h9M332 675h9M95 891h9M272 767h9M180 784h9M211 778h9M285 810h9M187 804h9M422 641h9M283 647h9M136 801h9M244 780h9M268 830h9M219 700h9M299 659h9M435 627h9M326 783h9M154 820h9M126 774h9M319 661h9M180 721h9M399 632h9M318 687h9M359 722h9M94 863h9M297 637h9M359 633h9M309 743h9M318 735h9M205 660h9M261 796h9M315 756h9M221 811h9M94 877h9M205 913h9M364 684h9M314 603h9M398 653h9M463 632h9M170 883h9M54 887h9M394 716h9M311 723h9M266 798h9M224 784h9M395 741h9M212 858h9M332 713h9M121 862h9M269 807h9M209 872h9M70 868h9M327 715h9M54 922h9M403 713h9M250 878h9M135 739h9M356 642h9M312 694h9M37 887h9M243 764h9M302 700h9M236 736h9M588 674h9M336 646h9M207 875h9M166 816h9M230 906h9M122 900h9M177 855h9M272 670h9M166 673h9M365 639h9M292 602h9M121 876h9M217 657h9M312 818h9M191 829h9M254 698h9M336 688h9M331 662h9M223 854h9M319 661h9M315 717h9M143 941h9M16 971h9M284 674h9M221 747h9M222 875h9M275 923h9M303 737h9M33 944h9M360 620h9M470 595h9M270 682h9M139 762h9M375 785h9M35 945h9M252 817h9M235 917h9M253 865h9M256 779h9M230 838h9M415 764h9M160 773h9M257 787h9M296 761h9M83 945h9M216 734h9M79 829h9M381 472h9M263 600h9M227 862h9M119 982h9M70 796h9M299 710h9M209 752h9M308 748h9M109 864h9M22 908h9M266 880h9M285 621h9M259 715h9M275 793h9M323 691h9M65 853h9M146 803h9M103 846h9M156 852h9M404 538h9M252 779h9M199 807h9M360 691h9M427 563h9M340 807h9M252 711h9M274 725h9M310 857h9M283 808h9M412 621h9M231 816h9M204 749h9M155 800h9M370 695h9M269 874h9M245 797h9M167 821h9M198 838h9M336 729h9M466 644h9M203 818h9M387 713h9M112 773h9M175 759h9M310 842h9M355 752h9M409 715h9M145 878h9M200 786h9M278 722h9M182 905h9M73 710h9M171 848h9M213 742h9M264 647h9M253 763h9M227 776h9M259 701h9M327 767h9M34 942h9M66 729h9M415 687h9M135 745h9M411 746h9M161 906h9M202 846h9M309 810h9M297 683h9M252 787h9M254 820h9M359 636h9M308 776h9M360 759h9M169 809h9M156 879h9M77 817h9M418 766h9M299 636h9M218 702h9M389 664h9M277 650h9M155 922h9M200 795h9M169 783h9M335 719h9M273 795h9M332 786h9M257 776h9M354 552h9M183 776h9M331 738h9M283 745h9M193 752h9M348 628h9M287 687h9M332 796h9M173 791h9M282 893h9M354 647h9M350 537h9M378 670h9M227 753h9M257 711h9M203 775h9M222 749h9M188 893h9M239 763h9M143 825h9M220 664h9M360 673h9M216 679h9M424 531h9M236 869h9M207 750h9M462 562h9M235 603h9M392 639h9M175 826h9M345 661h9M197 803h9M334 721h9M277 699h9M134 841h9M140 752h9M294 787h9M119 815h9M244 749h9M203 682h9M278 746h9M146 953h9M271 771h9M48 716h9M285 840h9M100 972h9M170 852h9M143 901h9M216 793h9M240 647h9M365 726h9M386 592h9M79 969h9M127 875h9M220 744h9M172 793h9M290 718h9M243 716h9M158 824h9M186 781h9M384 733h9M165 764h9M306 745h9M133 800h9M126 823h9M190 781h9M164 933h9M68 792h9M320 788h9M228 724h9M266 675h9M131 906h9M324 845h9M495 619h9M295 743h9M306 763h9M378 689h9M87 688h9M479 551h9M379 632h9M209 845h9M192 784h9M222 765h9M84 790h9M469 757h9M191 707h9M201 886h9M233 725h9M490 612h9M472 701h9M215 741h9M126 865h9M313 674h9M375 736h9M409 655h9M262 748h9M416 676h9M141 851h9M213 801h9M85 929h9M236 734h9M171 838h9M70 909h9M309 770h9M135 916h9M300 694h9M200 790h9M106 787h9M71 904h9M331 699h9M246 771h9M430 594h9M376 720h9M324 712h9M206 881h9M346 622h9M211 732h9M319 629h9M188 809h9M186 905h9M313 693h9M286 803h9M267 694h9M234 826h9M335 705h9M160 848h9M194 547h9M267 722h9M480 696h9M160 757h9M128 802h9M225 720h9M194 699h9M137 903h9M197 747h9M170 852h9M265 793h9M242 781h9M269 696h9M187 789h9M244 645h9M403 677h9M358 738h9M269 784h9M247 902h9M227 729h9M226 774h9M76 956h9M382 731h9M379 739h9M305 648h9M286 872h9M316 770h9M140 789h9M169 715h9M169 863h9M215 764h9M394 680h9M212 791h9M353 542h9M134 783h9M382 725h9M150 845h9M156 900h9M312 813h9M346 642h9M331 749h9M241 699h9M359 722h9M127 923h9M104 869h9M404 565h9M368 722h9M44 961h9M254 708h9M120 937h9M183 894h9M101 859h9M244 770h9M142 808h9M88 937h9M457 584h9M348 702h9M178 935h9M141 798h9M133 880h9M277 711h9M152 937h9M222 764h9M366 576h9M306 842h9M201 848h9M28 813h9M136 798h9M73 836h9M313 617h9M228 871h9M140 886h9M267 657h9M164 799h9M106 939h9M119 837h9M112 924h9M344 630h9M252 780h9M148 841h9M245 797h9M142 885h9M124 782h9M206 830h9M142 829h9M169 799h9M254 819h9M337 676h9M381 439h9M329 438h9M411 518h9M424 496h9M329 421h9M552 428h9M378 696h9M308 606h9M486 630h9M520 833h9M436 420h9M389 636h9M462 528h9M458 511h9M397 587h9M520 575h9M528 458h9M521 395h9M464 560h9M299 544h9M689 269h9M354 505h9M485 425h9M423 546h9M451 423h9M549 609h9M491 352h9M463 455h9M450 608h9M314 400h9M582 701h9M484 523h9M618 395h9M476 455h9M373 680h9M477 355h9M319 649h9M279 627h9M610 622h9M332 519h9M398 451h9M343 548h9M589 500h9M492 463h9M188 647h9M484 505h9M294 534h9M505 487h9M572 264h9M290 515h9M279 656h9M523 485h9M563 577h9M220 449h9M198 446h9M585 446h9M242 687h9M483 382h9M357 301h9M432 552h9M491 466h9M410 649h9M434 621h9M311 656h9M338 630h9M407 536h9M527 410h9M361 569h9M364 573h9M451 380h9M386 663h9M496 386h9M384 515h9M224 543h9M403 513h9M391 448h9M423 386h9M344 744h9M486 395h9M389 321h9M293 540h9M486 455h9M382 371h9M428 341h9M438 435h9M426 615h9M458 549h9M395 478h9M472 620h9M443 394h9M375 447h9M315 624h9M405 419h9M353 310h9M467 713h9M416 574h9M357 501h9M330 640h9M346 347h9M508 498h9M516 292h9M419 606h9M305 521h9M255 535h9M600 547h9M400 529h9M403 392h9M388 686h9M570 325h9M406 430h9M230 605h9M491 588h9M562 291h9M347 522h9M504 581h9M360 441h9M254 564h9M432 500h9M400 562h9M343 751h9M265 507h9M403 529h9M178 650h9M377 383h9M403 504h9M431 283h9M468 510h9M468 409h9M576 291h9M380 562h9M296 809h9M548 542h9M397 454h9M421 340h9M468 475h9M342 499h9M308 562h9M347 506h9M490 426h9M351 568h9M546 499h9M354 718h9M291 271h9M420 667h9M413 493h9M306 537h9M405 384h9M448 641h9M501 322h9M292 693h9M454 420h9M501 554h9M395 584h9M334 688h9M350 543h9M606 456h9M566 491h9M300 495h9M274 534h9M389 639h9M411 569h9M305 456h9M270 484h9M458 589h9M303 546h9M388 716h9M533 336h9M375 360h9M435 496h9M496 529h9M352 489h9M595 535h9M366 443h9M414 624h9M365 537h9M486 756h9M589 522h9M519 429h9M420 643h9M443 716h9M436 550h9M243 569h9M347 242h9M345 606h9M486 314h9M229 525h9M364 442h9M350 487h9M438 482h9M464 793h9M594 325h9M336 458h9M523 446h9M492 420h9M488 638h9M379 499h9M372 473h9M571 498h9M379 361h9M514 550h9M479 477h9M434 450h9M491 803h9M178 500h9M346 628h9M231 555h9M547 462h9M430 463h9M557 475h9M311 353h9M594 377h9M449 328h9M123 644h9M534 552h9M277 708h9M445 430h9M423 485h9M541 585h9M527 489h9M577 137h9M592 347h9M327 346h9M413 596h9M305 443h9M480 319h9M350 459h9M327 276h9M341 486h9M322 556h9M579 256h9M374 319h9M488 297h9M526 560h9M235 632h9M439 383h9M606 624h9M482 549h9M298 743h9M411 590h9M305 469h9M396 601h9M390 636h9M493 618h9M88 512h9M345 540h9M349 755h9M235 614h9M369 730h9M519 299h9M376 497h9M436 482h9M469 466h9M426 722h9M536 342h9M387 676h9M557 554h9M426 647h9M297 566h9M480 389h9M190 720h9M247 828h9M404 401h9M460 469h9M551 518h9M320 689h9M402 374h9M279 617h9M694 385h9M565 534h9M537 349h9M422 570h9M576 342h9M408 419h9M334 475h9M514 386h9M316 375h9M248 438h9M225 653h9M539 428h9M410 440h9M485 408h9M426 410h9M454 695h9M305 509h9M342 640h9M418 374h9M611 420h9M343 416h9M428 352h9M335 513h9M316 580h9M423 500h9M556 367h9M413 537h9M396 216h9M361 654h9M557 569h9M434 608h9M271 424h9M292 737h9M621 569h9M502 478h9M602 684h9M275 535h9M557 323h9M357 680h9M501 562h9M418 602h9M457 444h9M343 636h9M377 407h9M400 387h9M469 446h9M401 564h9M462 451h9M643 467h9M427 661h9M464 591h9M441 505h9M456 357h9M310 533h9M308 439h9M536 445h9M306 676h9M318 409h9M532 572h9M499 450h9M260 452h9M450 425h9M288 608h9M278 616h9M427 506h9M509 677h9M549 392h9M425 446h9M389 490h9M351 552h9M366 532h9M471 687h9M220 617h9M495 505h9M433 518h9M588 580h9M300 508h9M348 623h9M363 437h9M547 543h9M386 660h9M582 266h9M475 280h9M323 578h9M361 415h9M566 457h9M574 285h9M266 744h9M456 493h9M389 653h9M334 534h9M614 335h9M415 397h9M308 540h9M220 663h9M349 513h9M502 492h9M579 465h9M331 566h9M400 535h9M373 409h9M484 448h9M439 669h9M291 605h9M481 366h9M346 607h9M458 515h9M469 463h9M460 618h9M441 463h9M234 470h9M503 338h9M432 320h9M489 395h9M360 431h9M373 541h9M349 496h9M264 679h9M468 400h9M249 604h9M495 412h9M456 552h9M447 484h9M237 658h9M436 520h9M227 544h9M530 631h9M610 590h9M388 581h9M483 505h9M312 584h9M412 514h9M369 557h9M403 606h9M467 444h9M534 408h9M403 570h9M286 608h9M469 601h9M459 463h9M404 447h9M374 491h9M456 556h9M423 620h9M475 326h9M257 478h9M494 610h9M508 476h9M563 400h9M495 561h9M395 552h9M408 786h9M317 217h9M437 332h9M281 560h9M554 371h9M386 572h9M590 325h9M229 574h9M254 438h9M287 451h9M533 439h9M526 370h9M375 411h9M357 724h9M362 712h9M488 338h9M380 513h9M493 326h9M341 494h9M351 575h9M328 415h9M407 355h9M416 583h9M462 417h9M286 613h9M394 595h9M493 408h9M346 639h9M299 331h9M486 731h9M348 469h9M742 567h9M789 632h9M684 490h9M697 494h9M738 598h9M723 584h9M714 554h9M707 557h9M705 705h9M746 562h9M885 414h9M727 400h9M643 670h9M687 728h9M790 434h9M809 662h9M741 597h9M746 531h9M632 627h9M617 736h9M764 616h9M730 530h9M611 609h9M730 588h9M649 743h9M710 507h9M642 665h9M676 544h9M687 504h9M793 446h9M794 506h9M790 492h9M694 574h9M662 592h9M759 603h9M787 421h9M653 680h9M701 584h9M769 452h9M933 492h9M800 298h9M775 326h9M741 710h9M708 414h9M758 372h9M686 501h9M738 404h9M709 512h9M759 473h9M647 580h9M729 624h9M731 692h9M747 596h9M652 480h9M760 330h9M777 577h9M684 621h9M694 601h9M760 568h9M742 596h9M779 527h9M803 603h9M757 564h9M654 614h9M734 333h9M784 368h9M787 694h9M760 231h9M772 495h9M639 526h9M718 560h9M885 564h9M615 616h9M739 586h9M661 408h9M744 377h9M610 293h9M691 595h9M718 542h9M788 498h9M744 710h9M740 655h9M671 859h9M772 586h9M682 628h9M689 505h9M631 574h9M722 509h9M795 335h9M734 478h9M740 568h9M609 674h9M752 541h9M611 699h9M754 381h9M763 407h9M671 542h9M710 839h9M793 690h9M691 466h9M706 579h9M728 471h9M754 540h9M629 688h9M705 433h9M662 582h9M718 559h9M733 624h9M629 575h9M783 420h9M675 637h9M817 542h9M661 221h9M732 504h9M687 603h9M782 554h9M753 381h9M758 551h9M713 562h9M766 546h9M749 549h9M658 729h9M677 532h9M677 581h9M841 413h9M761 821h9M699 902h9M776 482h9M753 531h9M753 702h9M813 458h9M787 457h9M718 775h9M765 545h9M671 476h9M801 558h9M734 541h9M842 384h9M598 512h9M632 529h9M810 618h9M618 548h9M703 626h9M720 734h9M828 527h9M746 711h9M665 698h9M749 756h9M548 535h9M710 585h9M831 393h9M743 637h9M638 547h9M622 824h9M689 512h9M760 452h9M733 373h9M776 742h9M771 737h9M791 533h9M710 604h9M662 377h9M721 452h9M811 308h9M704 638h9M739 411h9M763 635h9M665 587h9M739 502h9M696 696h9M828 532h9M786 414h9M779 362h9M763 535h9M689 410h9M815 465h9M672 586h9M702 395h9M612 628h9M788 485h9M799 616h9M726 730h9M777 524h9M743 616h9M804 488h9M721 700h9M784 491h9M814 427h9M795 543h9M739 577h9M870 539h9M653 380h9M795 605h9M723 709h9M712 640h9M741 502h9M644 711h9M682 478h9M635 549h9M752 546h9M643 641h9M706 671h9M855 688h9M695 733h9M624 664h9M633 599h9M661 400h9M743 418h9M587 700h9M735 523h9M869 352h9M589 594h9M721 407h9M715 554h9M763 632h9M774 627h9M713 615h9M681 860h9M653 444h9M740 758h9M762 452h9M798 484h9M767 574h9M788 499h9M648 524h9M722 525h9M600 609h9M699 631h9M736 690h9M647 540h9M718 530h9M688 501h9M723 681h9M909 461h9M721 340h9M729 443h9M803 582h9M847 653h9M729 833h9M777 369h9M748 580h9M749 780h9M775 547h9M714 547h9M789 528h9M642 503h9M639 713h9M743 455h9M741 369h9M706 598h9M803 560h9M710 578h9M671 581h9M743 731h9M785 499h9M775 693h9M732 518h9M798 502h9M776 512h9M689 631h9M645 628h9M756 377h9M719 500h9M770 495h9M666 430h9M810 478h9M694 696h9M741 616h9M725 502h9M867 415h9M697 772h9M748 504h9M711 333h9M728 610h9M694 583h9M797 509h9M741 711h9M813 433h9M762 591h9M775 466h9M714 624h9M636 700h9M725 584h9M717 574h9M786 598h9M723 634h9M735 490h9M743 519h9M782 347h9M664 494h9M733 635h9M718 674h9M752 481h9M782 420h9M823 402h9M808 591h9M742 525h9M812 726h9M743 477h9M762 263h9M728 446h9M747 636h9M745 566h9M629 727h9M800 475h9M604 710h9M789 215h9M760 631h9M627 740h9M709 655h9M758 573h9M694 642h9M593 427h9M795 328h9M726 317h9M698 484h9M679 638h9M729 689h9M664 757h9M720 622h9M686 608h9M867 632h9M777 457h9M691 503h9M712 583h9M791 608h9M729 537h9M744 497h9M872 682h9M665 690h9M813 428h9M793 666h9M779 489h9M746 568h9M709 589h9M722 711h9M714 397h9M704 590h9M703 671h9M735 632h9M727 557h9M631 584h9M708 559h9M839 614h9M766 612h9M612 711h9M707 402h9M707 563h9M792 638h9M834 606h9M621 503h9M715 556h9M571 671h9M684 632h9M752 440h9M660 636h9M759 706h9M732 405h9M739 547h9M734 556h9M831 487h9M759 511h9M663 511h9M702 396h9M722 784h9M751 451h9M838 450h9M759 309h9M826 472h9M645 557h9M704 628h9M813 568h9M708 467h9M809 408h9M809 495h9M800 462h9M750 524h9M637 601h9M704 513h9M631 536h9M815 448h9M794 576h9M706 474h9M732 566h9M791 451h9M684 608h9M793 543h9M726 601h9M818 548h9M702 572h9M814 468h9M650 765h9M706 426h9M699 713h9M780 834h9M617 648h9M697 512h9M675 424h9M731 780h9M716 515h9M765 632h9M735 376h9M762 584h9M724 465h9M711 570h9M841 368h9M628 575h9M734 483h9M723 468h9M737 693h9M708 707h9M775 457h9M714 633h9M735 712h9M645 695h9M730 554h9M726 506h9M732 640h9M730 718h9M644 723h9M796 433h9M714 480h9M748 405h9M696 579h9M679 627h9M764 616h9M817 581h9M718 460h9M709 445h9M723 543h9M606 544h9M769 409h9M748 513h9M784 361h9M698 400h9M651 727h9M793 551h9M678 585h9M590 403h9M741 649h9M732 605h9M589 608h9M628 617h9M747 509h9M728 692h9M808 455h9M699 611h9M695 707h9M764 381h9M682 532h9M757 449h9M781 511h9M712 486h9M826 456h9M742 485h9M594 712h9M750 583h9M700 485h9M812 701h9M707 612h9M731 526h9M747 395h9M845 562h9M709 526h9M709 534h9M744 525h9M701 576h9M788 324h9M720 569h9M781 480h9M806 394h9M644 696h9M817 370h9M705 301h9M771 367h9M682 616h9M694 527h9M845 492h9M686 574h9M777 461h9M667 737h9M765 675h9M742 539h9M796 578h9M717 423h9M734 693h9M724 744h9M757 774h9M717 717h9M796 447h9M630 672h9M819 614h9M722 463h9M765 346h9M771 684h9M747 450h9M677 601h9M757 462h9M716 366h9M773 458h9M750 727h9M793 546h9M711 611h9M809 406h9M615 618h9M783 533h9M676 480h9M757 734h9M750 658h9M800 611h9M649 651h9M712 401h9M613 525h9M684 663h9M768 429h9M746 502h9M791 368h9M671 568h9M699 700h9M687 530h9M680 525h9M570 748h9M671 474h9M610 542h9M710 589h9M677 771h9M818 424h9M742 694h9M673 752h9M785 543h9M599 733h9M721 394h9M781 532h9M884 329h9M669 524h9M729 700h9M727 483h9M631 602h9M687 602h9M670 715h9M692 436h9M627 520h9M898 470h9M736 740h9M698 653h9M812 771h9M754 500h9M736 545h9M616 827h9M785 513h9M768 147h9M762 603h9M591 949h9M812 533h9M588 718h9M776 357h9M753 571h9M656 766h9M769 311h9M662 684h9M710 338h9M727 466h9M678 610h9M678 582h9M734 307h9M702 762h9M672 384h9M653 766h9M735 639h9M681 676h9M673 562h9M789 376h9M683 508h9M764 375h9M737 663h9M704 520h9M664 622h9M757 530h9M706 627h9M757 545h9M754 443h9M825 361h9M691 503h9M715 590h9M605 685h9M709 345h9M691 448h9M703 545h9M859 609h9M705 421h9M722 513h9M681 374h9M716 565h9M828 652h9M720 602h9M839 418h9M764 608h9M628 718h9M684 594h9M693 681h9M679 516h9M727 424h9M810 630h9M667 577h9M753 647h9M835 598h9M685 663h9M778 649h9M726 608h9M714 584h9M768 552h9M705 717h9M678 459h9M572 671h9M780 445h9M716 618h9M796 443h9M708 352h9M713 766h9M746 495h9M816 516h9M718 602h9M730 479h9M778 590h9M791 591h9M702 641h9M704 637h9M794 611h9M673 477h9M692 493h9M692 606h9M681 574h9M822 662h9M582 691h9M635 625h9M721 619h9M779 487h9M716 506h9M663 488h9M678 473h9M763 665h9M792 683h9M807 684h9M729 841h9M632 813h9M693 444h9M791 698h9M692 794h9M613 768h9M723 492h9M743 444h9M802 592h9M753 661h9M657 705h9M721 378h9M740 408h9M798 469h9M746 628h9M791 452h9M703 435h9M697 571h9M732 606h9M760 498h9M819 464h9M684 804h9M660 350h9M795 582h9M760 558h9M755 511h9M760 510h9M733 735h9M737 421h9M716 667h9M735 681h9M725 481h9M736 727h9M867 475h9M736 461h9M791 511h9M794 567h9M723 589h9M714 948h9M736 619h9M669 591h9M726 700h9M743 682h9M751 404h9M731 637h9M759 641h9M760 580h9M708 340h9M818 486h9M794 536h9M727 557h9M705 587h9M761 593h9M752 663h9M828 647h9M621 589h9M780 686h9M725 339h9M714 673h9M672 584h9M655 631h9M718 760h9M872 488h9M800 572h9M602 655h9M666 581h9M722 636h9M762 731h9M834 277h9M640 351h9M673 653h9M754 555h9M671 580h9M707 472h9M710 596h9M735 639h9M636 588h9M790 470h9M736 734h9M789 319h9M714 593h9M741 556h9M767 523h9M638 593h9M696 663h9M671 581h9M807 483h9M775 609h9M720 407h9M780 499h9M740 586h9M692 502h9M797 369h9M817 437h9M928 472h9M774 527h9M697 552h9M774 451h9M799 586h9M728 620h9M823 500h9M711 499h9M797 349h9M744 382h9M716 702h9M731 538h9M772 597h9M770 499h9M671 589h9M693 645h9M714 720h9M728 640h9M764 472h9M803 583h9M655 757h9M687 637h9M723 630h9M653 628h9M621 639h9M719 562h9M740 688h9M748 271h9M730 627h9M779 482h9M690 556h9M783 421h9M630 540h9M742 698h9M726 508h9M708 336h9M778 426h9M712 443h9M755 595h9M766 722h9M754 637h9M821 368h9M717 803h9M752 580h9M645 606h9M776 839h9M830 432h9M723 541h9M730 744h9M693 432h9M749 638h9M649 613h9M707 769h9M665 745h9M681 584h9M639 778h9M729 563h9M786 558h9M712 562h9M706 559h9M772 327h9M807 662h9M663 689h9M699 539h9M769 625h9M763 644h9M718 735h9M745 554h9M670 478h9M771 680h9M797 420h9M774 488h9M681 463h9M743 719h9M647 695h9M793 553h9M803 542h9M741 618h9M652 607h9M711 577h9M744 606h9M809 521h9M769 349h9M791 597h9M779 619h9M692 576h9M889 434h9M794 449h9M749 472h9M796 556h9M774 649h9M760 578h9M671 655h9M730 502h9M726 642h9M577 570h9M775 546h9M760 375h9M702 567h9M855 513h9M743 437h9M669 541h9M794 633h9M665 462h9M633 557h9M713 638h9M721 585h9M741 604h9M773 412h9M794 549h9M823 587h9M609 494h9M781 424h9M659 616h9M613 491h9M695 478h9M720 382h9M739 413h9M661 724h9M748 559h9M660 650h9M718 535h9M636 518h9M667 673h9M759 503h9M774 408h9M768 535h9M818 456h9M794 378h9M776 545h9M728 400h9M680 316h9M766 568h9M704 774h9M798 617h9M723 620h9M712 711h9M772 459h9M733 498h9M755 536h9M787 692h9M725 599h9M764 547h9M654 580h9M782 437h9M717 629h9M777 654h9M699 518h9M687 649h9M608 605h9M713 705h9M674 752h9M741 741h9M791 435h9M702 575h9M667 618h9M817 521h9M701 834h9M737 511h9M715 712h9M650 668h9M619 561h9M811 525h9M765 402h9M845 455h9M710 574h9M789 537h9M754 486h9M710 296h9M804 438h9M730 345h9M758 460h9M786 553h9M723 404h9M708 472h9M870 322h9M617 560h9M727 613h9M693 644h9M718 510h9M740 495h9M617 472h9M786 532h9M705 331h9M783 531h9M667 600h9M787 603h9M694 669h9M623 424h9M665 736h9M758 493h9M822 649h9M688 576h9M713 667h9M760 619h9M701 465h9M689 771h9M720 535h9M787 480h9M691 746h9M752 727h9M635 566h9M778 640h9M691 539h9M750 620h9M758 264h9M738 738h9M671 573h9M735 640h9M781 566h9M878 447h9M675 572h9M746 427h9M734 688h9M827 355h9M809 652h9M673 621h9M754 763h9M602 541h9M832 540h9M698 528h9M644 663h9M744 561h9M637 686h9M604 492h9M798 552h9M704 483h9M649 684h9M748 646h9M683 557h9M696 530h9M848 679h9M742 498h9M711 489h9M734 683h9M697 773h9M788 562h9M691 547h9M689 394h9M815 443h9M824 365h9M637 492h9M692 409h9M886 758h9M796 349h9M620 599h9M736 459h9M699 743h9M630 629h9M656 672h9M745 661h9M743 706h9M765 509h9M709 563h9M786 448h9M812 627h9M725 467h9M711 411h9M640 748h9M720 380h9M749 482h9M752 674h9M770 404h9M854 835h9M669 635h9M725 718h9M670 720h9M697 345h9M767 613h9M724 409h9M749 606h9M715 531h9M715 324h9M780 526h9M765 731h9M713 608h9M772 641h9M756 442h9M759 433h9M626 573h9M816 582h9M726 560h9M695 587h9M720 614h9M702 583h9M632 685h9M747 557h9M717 601h9M773 679h9M861 449h9M768 327h9M691 652h9M726 562h9M878 333h9M725 558h9M718 461h9M767 596h9M666 618h9M710 528h9M707 487h9M739 380h9M760 654h9M742 531h9M716 691h9M713 689h9M628 633h9M747 540h9M718 522h9M759 198h9M687 519h9M775 534h9M780 534h9M675 591h9M739 377h9M638 579h9M702 547h9M768 579h9M687 555h9M694 564h9M771 467h9M656 722h9M720 305h9M721 674h9M725 540h9M747 685h9M742 534h9M655 643h9M653 639h9M746 531h9M753 677h9M747 450h9M709 525h9M680 489h9M777 436h9M700 727h9M772 394h9M700 650h9M774 325h9M771 412h9M790 581h9M750 557h9M748 622h9M807 571h9M767 708h9M661 800h9M689 423h9M703 448h9M578 563h9M778 428h9M712 416h9M662 579h9M705 717h9M776 329h9M781 704h9M748 557h9M755 601h9M642 588h9M812 512h9M676 837h9M613 661h9M709 483h9M804 683h9M675 536h9M663 232h9M753 421h9M740 385h9M645 248h9M814 353h9M675 378h9M589 378h9M628 360h9M592 363h9M548 315h9M690 339h9M512 359h9M503 348h9M575 398h9M610 370h9M853 204h9M617 384h9M709 546h9M738 336h9M700 335h9M649 348h9M589 238h9M724 334h9M611 424h9M771 442h9M684 504h9M662 339h9M696 422h9M763 400h9M543 358h9M709 383h9M726 263h9M670 364h9M755 312h9M696 461h9M645 237h9M654 429h9M694 303h9M631 424h9M717 363h9M774 294h9M637 304h9M553 326h9M614 417h9M720 409h9M600 477h9M780 403h9M790 279h9M732 454h9M704 276h9M864 423h9M750 431h9M711 343h9M727 258h9M593 392h9M530 431h9M480 386h9M567 318h9M674 405h9M718 321h9M604 384h9M678 485h9M640 499h9M656 408h9M844 407h9M873 334h9M610 332h9M677 210h9M700 430h9M631 474h9M701 413h9M697 431h9M756 315h9M655 526h9M743 430h9M715 312h9M629 359h9M856 379h9M754 373h9M677 341h9M722 441h9M693 506h9M755 376h9M722 397h9M686 313h9M722 327h9M764 262h9M718 438h9M544 454h9M788 351h9M669 329h9M700 402h9M797 347h9M719 440h9M573 409h9M643 353h9M666 267h9M644 482h9M778 299h9M527 296h9M781 377h9M621 325h9M642 236h9M840 300h9M610 274h9M765 362h9M760 343h9M588 308h9M655 396h9M727 303h9M640 440h9M695 306h9M669 369h9M661 355h9M619 320h9M657 344h9M595 397h9M711 314h9M588 334h9M688 242h9M446 416h9M879 338h9M759 260h9M644 340h9M822 409h9M610 451h9M769 437h9M609 368h9M648 453h9M669 330h9M747 415h9M773 570h9M549 381h9M579 355h9M677 352h9M515 453h9M647 229h9M674 396h9M521 320h9M702 298h9M608 249h9M602 347h9M567 379h9M718 294h9M724 371h9M590 189h9M655 251h9M734 448h9M574 367h9M745 409h9M561 358h9M574 321h9M786 404h9M682 351h9M681 432h9M776 231h9M711 426h9M661 365h9M628 330h9M686 335h9M767 476h9M538 303h9M622 311h9M648 362h9M581 291h9M711 404h9M720 224h9M729 343h9M588 308h9M598 430h9M699 343h9M798 295h9M829 330h9M750 359h9M689 322h9M577 330h9M631 434h9M719 361h9M592 396h9M696 432h9M523 362h9M713 359h9M681 389h9M587 429h9M622 342h9M678 403h9M734 380h9M610 356h9M681 459h9M813 264h9M690 435h9M675 284h9M799 451h9M609 347h9M778 191h9M665 428h9M591 378h9M717 228h9M693 290h9M573 427h9M730 338h9M738 466h9M701 394h9M683 301h9M541 373h9M708 360h9M594 363h9M722 533h9M754 429h9M789 396h9M551 353h9M685 279h9M728 298h9M757 306h9M650 503h9M757 263h9M752 416h9M804 490h9M687 367h9M736 258h9M579 448h9M654 327h9M702 239h9M785 347h9M579 386h9M589 233h9M607 435h9M655 471h9M684 451h9M775 378h9M777 444h9M746 423h9M690 395h9M573 286h9M747 323h9M618 327h9M813 419h9M532 285h9M555 365h9M689 344h9M561 304h9M656 355h9M702 329h9M642 419h9M706 302h9M901 254h9M676 386h9M674 386h9M818 313h9M560 340h9M587 334h9M595 323h9M649 423h9M626 413h9M745 574h9M678 400h9M689 325h9M706 330h9M523 324h9M631 334h9M614 506h9M636 353h9M655 249h9M655 397h9M681 455h9M847 341h9M634 406h9M694 378h9M609 335h9M556 363h9M704 363h9M724 253h9M695 366h9M619 290h9M584 320h9M863 340h9M623 275h9M667 392h9M771 419h9M567 458h9M746 465h9M675 411h9M660 379h9M673 383h9M738 370h9M651 469h9M747 422h9M715 408h9M597 348h9M839 397h9M714 372h9M620 411h9M662 454h9M723 436h9M833 343h9M635 377h9M726 304h9M631 355h9M553 310h9M591 230h9M712 322h9M571 281h9M625 318h9M604 425h9M723 434h9M625 318h9M682 244h9M533 401h9M562 362h9M623 393h9M654 254h9M695 307h9M671 290h9M616 348h9M584 318h9M613 343h9M519 407h9M590 436h9M858 372h9M875 329h9M530 593h9M576 343h9M667 307h9M576 411h9M809 368h9M595 373h9M695 354h9M657 423h9M668 301h9M609 377h9M709 241h9M587 410h9M675 323h9M656 295h9M625 425h9M592 453h9M622 347h9M726 373h9M677 208h9M668 377h9M464 254h9M602 388h9M811 393h9M753 464h9M618 529h9M691 191h9M587 534h9M659 379h9M668 329h9M820 469h9M616 305h9M690 429h9M533 367h9M629 325h9M627 423h9M508 246h9M562 246h9M748 339h9M584 451h9M688 336h9M729 334h9M691 346h9M608 401h9M712 391h9M585 302h9M612 376h9M695 308h9M650 375h9M680 283h9M745 365h9M660 344h9M604 420h9M630 323h9M607 305h9M665 419h9M734 288h9M770 431h9M644 333h9M865 346h9M594 377h9M256 380h9M358 419h9M576 530h9M516 359h9M176 456h9M532 222h9M492 374h9M382 368h9M328 401h9M443 382h9M279 346h9M404 384h9M393 282h9M300 387h9M445 318h9M340 344h9M502 442h9M456 271h9M431 429h9M480 300h9M495 331h9M389 359h9M236 381h9M367 426h9M423 257h9M427 290h9M346 354h9M427 434h9M441 403h9M362 314h9M510 320h9M441 338h9M306 395h9M366 404h9M344 366h9M316 338h9M423 270h9M531 440h9M263 391h9M279 351h9M287 266h9M430 412h9M335 343h9M542 362h9M362 370h9M353 334h9M392 380h9M282 350h9M381 301h9M463 438h9M412 257h9M528 405h9M403 337h9M462 240h9M332 325h9M259 344h9M219 394h9M293 376h9M377 421h9M318 295h9M473 351h9M402 362h9M558 314h9M414 288h9M472 305h9M400 328h9M407 244h9M370 347h9M313 440h9M310 346h9M352 308h9M283 397h9M430 280h9M261 239h9M425 402h9M432 351h9M395 296h9M337 300h9M473 343h9M351 381h9M241 356h9M430 416h9M513 362h9M489 374h9M427 284h9M261 348h9M381 352h9M424 411h9M576 320h9M396 434h9M406 383h9M434 351h9M533 324h9M484 530h9M491 240h9M286 230h9M361 260h9M482 339h9M379 326h9M326 387h9M281 337h9M396 377h9M486 346h9M474 555h9M539 388h9M500 376h9M335 346h9M447 403h9M391 430h9M426 225h9M421 403h9M331 296h9M591 336h9M483 306h9M347 374h9M420 322h9M301 390h9M385 276h9M358 392h9M426 313h9M377 369h9M378 311h9M400 313h9M331 384h9M399 400h9M572 333h9M421 304h9M413 359h9M337 433h9M396 283h9M496 337h9M359 308h9M336 306h9M368 323h9M385 357h9M386 362h9M421 425h9M415 258h9M404 404h9M225 452h9M418 312h9M442 330h9M556 414h9M373 388h9M195 350h9M390 266h9M334 275h9M332 396h9M459 350h9M447 369h9M349 370h9M367 436h9M461 385h9M379 399h9M338 380h9M426 296h9M316 455h9M322 279h9M242 407h9M455 133h9M248 391h9M426 240h9M213 298h9M588 405h9M388 373h9M403 295h9M303 465h9M374 420h9M373 391h9M374 314h9M495 374h9M290 340h9M457 325h9M235 319h9M554 480h9M503 399h9M396 392h9M440 299h9M467 345h9M357 281h9M301 405h9M414 387h9M488 303h9M326 275h9M355 316h9M512 384h9M417 362h9M518 463h9M474 309h9M512 379h9M413 247h9M352 403h9M380 383h9M357 331h9M376 294h9M433 438h9M337 336h9M441 436h9M404 341h9M342 392h9M425 378h9M361 290h9M376 335h9M543 461h9M538 357h9M453 312h9M311 342h9M353 493h9M437 339h9M325 314h9M347 347h9M508 352h9M374 360h9M416 361h9M399 430h9M366 378h9M208 344h9M521 417h9M457 287h9M566 388h9M431 402h9M376 221h9M250 322h9M143 65h9M719 55h9M417 844h9M851 959h9M235 724h9M168 42h9M752 951h9M886 659h9M362 875h9M740 919h9M163 797h9M674 210h9M129 646h9M91 138h9M206 892h9M240 245h9M42 625h9M511 249h9M509 347h9M674 840h9M736 375h9M959 386h9M573 78h9M163 374h9M536 23h9M436 908h9M208 548h9M816 540h9M286 359h9M927 562h9M452 515h9M753 334h9M170 230h9M415 879h9M432 179h9M739 191h9M544 307h9M560 787h9M859 694h9M559 796h9M475 217h9M805 51h9M522 64h9M642 173h9M727 188h9M635 352h9M39 689h9" stroke="#e2281f" stroke-width="9.5" stroke-opacity="0.42" fill="none"/></g>
<line x1="322.4" y1="446.6" x2="322.4" y2="530.4" stroke="#5a5a5a" stroke-width="0.85"/>
<line x1="278.7" y1="485.4" x2="361.2" y2="485.4" stroke="#5a5a5a" stroke-width="0.85"/>
<rect x="278.7" y="446.6" width="82.5" height="83.8" fill="none" stroke="#858585" stroke-width="0.85"/>
<line x1="276.5" y1="455.8" x2="278.7" y2="455.8" stroke="#444" stroke-width="0.7"/>
<line x1="277.4" y1="456.8" x2="278.7" y2="456.8" stroke="#555" stroke-width="0.5"/>
<line x1="277.4" y1="457.8" x2="278.7" y2="457.8" stroke="#555" stroke-width="0.5"/>
<line x1="277.4" y1="459" x2="278.7" y2="459" stroke="#555" stroke-width="0.5"/>
<line x1="277.4" y1="460.4" x2="278.7" y2="460.4" stroke="#555" stroke-width="0.5"/>
<line x1="277.4" y1="462" x2="278.7" y2="462" stroke="#555" stroke-width="0.5"/>
<line x1="277.4" y1="464" x2="278.7" y2="464" stroke="#555" stroke-width="0.5"/>
<line x1="277.4" y1="466.6" x2="278.7" y2="466.6" stroke="#555" stroke-width="0.5"/>
<line x1="277.4" y1="470.2" x2="278.7" y2="470.2" stroke="#555" stroke-width="0.5"/>
<text x="276.1" y="457.2" font-size="3.3" text-anchor="end" fill="#333">10</text>
<text x="272.5" y="454.6" font-size="2.6" text-anchor="end" fill="#333">4</text>
<line x1="276.5" y1="476.3" x2="278.7" y2="476.3" stroke="#444" stroke-width="0.7"/>
<line x1="277.4" y1="477.3" x2="278.7" y2="477.3" stroke="#555" stroke-width="0.5"/>
<line x1="277.4" y1="478.3" x2="278.7" y2="478.3" stroke="#555" stroke-width="0.5"/>
<line x1="277.4" y1="479.5" x2="278.7" y2="479.5" stroke="#555" stroke-width="0.5"/>
<line x1="277.4" y1="480.9" x2="278.7" y2="480.9" stroke="#555" stroke-width="0.5"/>
<line x1="277.4" y1="482.5" x2="278.7" y2="482.5" stroke="#555" stroke-width="0.5"/>
<line x1="277.4" y1="484.5" x2="278.7" y2="484.5" stroke="#555" stroke-width="0.5"/>
<line x1="277.4" y1="487.1" x2="278.7" y2="487.1" stroke="#555" stroke-width="0.5"/>
<line x1="277.4" y1="490.7" x2="278.7" y2="490.7" stroke="#555" stroke-width="0.5"/>
<text x="276.1" y="477.7" font-size="3.3" text-anchor="end" fill="#333">10</text>
<text x="272.5" y="475.1" font-size="2.6" text-anchor="end" fill="#333">3</text>
<line x1="276.5" y1="496.9" x2="278.7" y2="496.9" stroke="#444" stroke-width="0.7"/>
<line x1="277.4" y1="497.8" x2="278.7" y2="497.8" stroke="#555" stroke-width="0.5"/>
<line x1="277.4" y1="498.9" x2="278.7" y2="498.9" stroke="#555" stroke-width="0.5"/>
<line x1="277.4" y1="500.1" x2="278.7" y2="500.1" stroke="#555" stroke-width="0.5"/>
<line x1="277.4" y1="501.4" x2="278.7" y2="501.4" stroke="#555" stroke-width="0.5"/>
<line x1="277.4" y1="503.1" x2="278.7" y2="503.1" stroke="#555" stroke-width="0.5"/>
<line x1="277.4" y1="505.1" x2="278.7" y2="505.1" stroke="#555" stroke-width="0.5"/>
<line x1="277.4" y1="507.6" x2="278.7" y2="507.6" stroke="#555" stroke-width="0.5"/>
<line x1="277.4" y1="511.2" x2="278.7" y2="511.2" stroke="#555" stroke-width="0.5"/>
<text x="276.1" y="498.3" font-size="3.3" text-anchor="end" fill="#333">10</text>
<text x="272.5" y="495.7" font-size="2.6" text-anchor="end" fill="#333">2</text>
<line x1="276.5" y1="517.4" x2="278.7" y2="517.4" stroke="#444" stroke-width="0.7"/>
<line x1="277.4" y1="518.4" x2="278.7" y2="518.4" stroke="#555" stroke-width="0.5"/>
<line x1="277.4" y1="519.4" x2="278.7" y2="519.4" stroke="#555" stroke-width="0.5"/>
<line x1="277.4" y1="520.6" x2="278.7" y2="520.6" stroke="#555" stroke-width="0.5"/>
<line x1="277.4" y1="522" x2="278.7" y2="522" stroke="#555" stroke-width="0.5"/>
<line x1="277.4" y1="523.6" x2="278.7" y2="523.6" stroke="#555" stroke-width="0.5"/>
<line x1="277.4" y1="525.6" x2="278.7" y2="525.6" stroke="#555" stroke-width="0.5"/>
<line x1="277.4" y1="528.1" x2="278.7" y2="528.1" stroke="#555" stroke-width="0.5"/>
<text x="276.1" y="518.8" font-size="3.3" text-anchor="end" fill="#333">10</text>
<text x="272.5" y="516.2" font-size="2.6" text-anchor="end" fill="#333">1</text>
<line x1="290.2" y1="530.4" x2="290.2" y2="532.6" stroke="#444" stroke-width="0.7"/>
<line x1="289.3" y1="530.4" x2="289.3" y2="531.7" stroke="#555" stroke-width="0.5"/>
<line x1="288.3" y1="530.4" x2="288.3" y2="531.7" stroke="#555" stroke-width="0.5"/>
<line x1="287.1" y1="530.4" x2="287.1" y2="531.7" stroke="#555" stroke-width="0.5"/>
<line x1="285.8" y1="530.4" x2="285.8" y2="531.7" stroke="#555" stroke-width="0.5"/>
<line x1="284.2" y1="530.4" x2="284.2" y2="531.7" stroke="#555" stroke-width="0.5"/>
<line x1="282.2" y1="530.4" x2="282.2" y2="531.7" stroke="#555" stroke-width="0.5"/>
<line x1="279.7" y1="530.4" x2="279.7" y2="531.7" stroke="#555" stroke-width="0.5"/>
<text x="288.4" y="537.4" font-size="3.3" fill="#333">10</text>
<text x="292.1" y="535.4" font-size="2.6" fill="#333">1</text>
<line x1="310.5" y1="530.4" x2="310.5" y2="532.6" stroke="#444" stroke-width="0.7"/>
<line x1="309.5" y1="530.4" x2="309.5" y2="531.7" stroke="#555" stroke-width="0.5"/>
<line x1="308.5" y1="530.4" x2="308.5" y2="531.7" stroke="#555" stroke-width="0.5"/>
<line x1="307.3" y1="530.4" x2="307.3" y2="531.7" stroke="#555" stroke-width="0.5"/>
<line x1="306" y1="530.4" x2="306" y2="531.7" stroke="#555" stroke-width="0.5"/>
<line x1="304.4" y1="530.4" x2="304.4" y2="531.7" stroke="#555" stroke-width="0.5"/>
<line x1="302.4" y1="530.4" x2="302.4" y2="531.7" stroke="#555" stroke-width="0.5"/>
<line x1="299.9" y1="530.4" x2="299.9" y2="531.7" stroke="#555" stroke-width="0.5"/>
<line x1="296.3" y1="530.4" x2="296.3" y2="531.7" stroke="#555" stroke-width="0.5"/>
<text x="308.6" y="537.4" font-size="3.3" fill="#333">10</text>
<text x="312.3" y="535.4" font-size="2.6" fill="#333">2</text>
<line x1="330.7" y1="530.4" x2="330.7" y2="532.6" stroke="#444" stroke-width="0.7"/>
<line x1="329.8" y1="530.4" x2="329.8" y2="531.7" stroke="#555" stroke-width="0.5"/>
<line x1="328.7" y1="530.4" x2="328.7" y2="531.7" stroke="#555" stroke-width="0.5"/>
<line x1="327.5" y1="530.4" x2="327.5" y2="531.7" stroke="#555" stroke-width="0.5"/>
<line x1="326.2" y1="530.4" x2="326.2" y2="531.7" stroke="#555" stroke-width="0.5"/>
<line x1="324.6" y1="530.4" x2="324.6" y2="531.7" stroke="#555" stroke-width="0.5"/>
<line x1="322.6" y1="530.4" x2="322.6" y2="531.7" stroke="#555" stroke-width="0.5"/>
<line x1="320.1" y1="530.4" x2="320.1" y2="531.7" stroke="#555" stroke-width="0.5"/>
<line x1="316.5" y1="530.4" x2="316.5" y2="531.7" stroke="#555" stroke-width="0.5"/>
<text x="328.8" y="537.4" font-size="3.3" fill="#333">10</text>
<text x="332.5" y="535.4" font-size="2.6" fill="#333">3</text>
<line x1="350.9" y1="530.4" x2="350.9" y2="532.6" stroke="#444" stroke-width="0.7"/>
<line x1="350" y1="530.4" x2="350" y2="531.7" stroke="#555" stroke-width="0.5"/>
<line x1="348.9" y1="530.4" x2="348.9" y2="531.7" stroke="#555" stroke-width="0.5"/>
<line x1="347.8" y1="530.4" x2="347.8" y2="531.7" stroke="#555" stroke-width="0.5"/>
<line x1="346.4" y1="530.4" x2="346.4" y2="531.7" stroke="#555" stroke-width="0.5"/>
<line x1="344.8" y1="530.4" x2="344.8" y2="531.7" stroke="#555" stroke-width="0.5"/>
<line x1="342.8" y1="530.4" x2="342.8" y2="531.7" stroke="#555" stroke-width="0.5"/>
<line x1="340.3" y1="530.4" x2="340.3" y2="531.7" stroke="#555" stroke-width="0.5"/>
<line x1="336.8" y1="530.4" x2="336.8" y2="531.7" stroke="#555" stroke-width="0.5"/>
<text x="349" y="537.4" font-size="3.3" fill="#333">10</text>
<text x="352.7" y="535.4" font-size="2.6" fill="#333">4</text>
<text x="280.5" y="451.6" font-size="3.4" fill="#333">Q1</text>
<text x="359.4" y="451.6" font-size="3.4" text-anchor="end" fill="#333">Q2</text>
<text x="280.5" y="528.8" font-size="3.4" fill="#333">Q3</text>
<text x="359.4" y="528.8" font-size="3.4" text-anchor="end" fill="#333">Q4</text>
<rect x="381.3" y="446.6" width="82.5" height="83.8" fill="#fff" stroke="none" stroke-width="1"/>
<ellipse cx="402.8" cy="514.5" rx="16.5" ry="9.2" fill="url(#core)" fill-opacity="0.85" transform="rotate(-20 402.8 514.5)"/>
<g transform="translate(381.3 446.6) scale(0.08250 0.08380)"><path d="M465 777h9M241 860h9M165 743h9M257 819h9M366 650h9M368 707h9M173 748h9M344 848h9M174 795h9M138 909h9M146 801h9M167 847h9M310 712h9M369 719h9M315 908h9M248 741h9M340 811h9M323 789h9M267 821h9M151 945h9M101 883h9M565 828h9M307 718h9M353 761h9M289 766h9M217 839h9M258 799h9M281 846h9M387 726h9M218 912h9M119 874h9M231 872h9M343 867h9M395 874h9M321 856h9M72 879h9M226 824h9M313 812h9M129 839h9M370 724h9M80 928h9M178 869h9M44 955h9M111 950h9M417 751h9M265 766h9M216 783h9M315 766h9M260 756h9M263 832h9M261 785h9M170 836h9M170 843h9M291 723h9M455 686h9M148 867h9M35 937h9M139 841h9M272 739h9M272 894h9M212 680h9M319 742h9M289 944h9M234 812h9M142 869h9M350 767h9M272 815h9M279 764h9M277 856h9M184 922h9M367 768h9M394 683h9M144 837h9M328 901h9M294 783h9M207 770h9M141 817h9M411 777h9M398 786h9M264 719h9M328 711h9M408 640h9M173 699h9M263 760h9M254 683h9M335 881h9M194 843h9M252 792h9M302 808h9M249 812h9M217 731h9M267 781h9M321 821h9M421 753h9M387 773h9M361 760h9M186 861h9M93 803h9M136 950h9M376 796h9M304 797h9M85 871h9M361 808h9M36 820h9M212 817h9M166 819h9M137 947h9M341 764h9M411 832h9M272 868h9M454 784h9M307 868h9M213 848h9M268 801h9M373 745h9M385 798h9M293 905h9M333 802h9M44 883h9M167 744h9M195 806h9M280 740h9M473 716h9M199 786h9M253 815h9M259 880h9M343 745h9M281 802h9M235 773h9M188 853h9M310 843h9M303 804h9M253 793h9M317 777h9M131 890h9M238 862h9M41 960h9M215 776h9M362 616h9M166 894h9M205 822h9M276 699h9M248 730h9M307 816h9M66 846h9M242 937h9M372 819h9M269 724h9M315 809h9M230 773h9M285 819h9M337 708h9M234 884h9M248 915h9M216 803h9M194 913h9M415 785h9M316 772h9M187 728h9M220 773h9M283 750h9M77 861h9M279 826h9M78 953h9M204 802h9M133 948h9M294 789h9M213 761h9M284 780h9M26 804h9M169 856h9M336 797h9M285 772h9M492 713h9M89 940h9M209 829h9M180 786h9M274 779h9M167 961h9M324 807h9M187 863h9M385 891h9M321 785h9M462 884h9M273 822h9M97 924h9M125 884h9M255 831h9M62 967h9M151 859h9M402 657h9M117 955h9M414 782h9M373 869h9M245 880h9M164 941h9M230 698h9M164 875h9M24 818h9M280 792h9M197 825h9M401 882h9M186 780h9M128 964h9M98 964h9M182 767h9M180 933h9M173 791h9M342 863h9M167 845h9M219 798h9M251 780h9M274 710h9M50 917h9M157 862h9M130 743h9M315 785h9M191 815h9M198 802h9M86 950h9M102 782h9M302 793h9M366 680h9M226 731h9M344 845h9M134 798h9M169 910h9M192 837h9M424 776h9M390 847h9M272 731h9M194 851h9M302 864h9M37 949h9M208 767h9M207 840h9M247 764h9M404 779h9M296 886h9M205 765h9M394 794h9M158 882h9M315 817h9M371 845h9M208 938h9M114 845h9M107 803h9M361 867h9M273 681h9M405 742h9M293 744h9M194 842h9M219 916h9M271 878h9M347 873h9M95 885h9M244 721h9M237 777h9M51 964h9M185 822h9M203 858h9M141 930h9M273 748h9M97 822h9M156 960h9M44 964h9M269 754h9M439 773h9M219 804h9M247 742h9M398 752h9M335 814h9M199 780h9M128 793h9M240 792h9M478 679h9M218 849h9M91 801h9M132 778h9M354 778h9M190 817h9M211 894h9M158 851h9M143 905h9M411 818h9M299 777h9M196 797h9M279 762h9M277 827h9M280 873h9M239 887h9M265 738h9M408 823h9M184 886h9M247 848h9M148 826h9M73 804h9M297 749h9M164 858h9M347 821h9M338 781h9M230 748h9M503 731h9M97 808h9M131 827h9M170 698h9M329 720h9M234 757h9M470 644h9M185 733h9M241 961h9M129 821h9M314 865h9M260 743h9M329 817h9M98 925h9M298 883h9M300 979h9M149 835h9M104 787h9M323 664h9M244 772h9M237 872h9M253 853h9M236 739h9M218 901h9M495 778h9M396 673h9M340 782h9M128 803h9M333 789h9M184 701h9M187 680h9M143 861h9M211 763h9M266 925h9M227 867h9M73 883h9M234 968h9M265 904h9M209 917h9M308 854h9M177 903h9M356 750h9M221 758h9M459 726h9M192 753h9M296 724h9M256 903h9M256 905h9M393 783h9M278 778h9M386 798h9M125 923h9M246 872h9M262 722h9M175 764h9M19 764h9M406 798h9M365 831h9M184 786h9M173 760h9M290 787h9M316 793h9M301 697h9M70 853h9M270 801h9M123 759h9M271 731h9M300 899h9M196 822h9M288 763h9M51 794h9M285 697h9M249 879h9M266 840h9M293 800h9M227 799h9M252 788h9M161 850h9M382 775h9M434 667h9M386 748h9M212 776h9M201 827h9M110 847h9M131 932h9M438 713h9M151 795h9M348 759h9M177 723h9M87 949h9M238 768h9M215 814h9M333 740h9M450 758h9M252 799h9M281 777h9M335 804h9M236 674h9M105 863h9M282 794h9M256 749h9M105 827h9M163 870h9M320 787h9M340 787h9M280 860h9M207 839h9M252 872h9M315 916h9M240 707h9M368 778h9M374 736h9M230 767h9M300 794h9M263 737h9M257 766h9M225 740h9M155 953h9M217 808h9M360 844h9M447 778h9M406 739h9M139 780h9M275 794h9M125 850h9M320 813h9M128 889h9M102 827h9M190 900h9M217 793h9M380 741h9M142 824h9M258 868h9M195 760h9M351 809h9M349 699h9M392 825h9M82 931h9M92 917h9M375 720h9M253 745h9M138 802h9M339 749h9M374 720h9M274 774h9M341 828h9M289 740h9M417 817h9M245 853h9M229 766h9M97 835h9M61 906h9M214 766h9M384 827h9M182 864h9M166 815h9M293 823h9M128 875h9M233 821h9M123 973h9M249 835h9M196 875h9M158 889h9M302 809h9M368 804h9M410 782h9M306 797h9M250 763h9M90 873h9M366 711h9M136 929h9M300 753h9M207 831h9M277 771h9M405 898h9M177 947h9M281 853h9M291 872h9M312 875h9M411 704h9M384 879h9M384 705h9M200 825h9M293 892h9M152 769h9M194 829h9M46 891h9M132 879h9M332 766h9M254 724h9M270 714h9M333 744h9M174 806h9M434 790h9M265 805h9M95 862h9M228 884h9M295 808h9M364 765h9M320 635h9M264 938h9M263 805h9M261 775h9M216 801h9M147 904h9M282 748h9M441 700h9M274 672h9M156 892h9M256 851h9M269 885h9M40 874h9M312 862h9M32 813h9M253 774h9M160 808h9M118 903h9M294 828h9M90 807h9M417 671h9M191 719h9M131 670h9M113 775h9M288 818h9M178 864h9M68 919h9M275 791h9M183 841h9M231 860h9M260 778h9M100 938h9M279 870h9M48 972h9M80 913h9M187 824h9M340 847h9M388 774h9M160 805h9M139 803h9M345 820h9M256 637h9M361 741h9M406 861h9M327 766h9M151 826h9M112 823h9M390 610h9M436 732h9M177 696h9M265 748h9M35 801h9M351 785h9M139 792h9M163 736h9M294 782h9M189 839h9M384 770h9M309 870h9M286 856h9M278 879h9M264 811h9M281 845h9M185 891h9M150 783h9M218 889h9M237 792h9M274 820h9M114 910h9M269 964h9M127 747h9M110 840h9M317 801h9M396 839h9M77 870h9M346 832h9M124 916h9M164 860h9M293 755h9M259 751h9M101 878h9M77 886h9M234 768h9M360 788h9M288 793h9M355 832h9M187 757h9M389 897h9M83 943h9M122 834h9M380 717h9M122 871h9M272 801h9M236 721h9M410 674h9M180 839h9M212 822h9M374 752h9M182 794h9M392 783h9M368 753h9M185 901h9M440 757h9M279 807h9M198 861h9M308 748h9M426 695h9M114 865h9M67 829h9M340 845h9M252 640h9M156 921h9M180 877h9M262 821h9M154 658h9M342 793h9M314 759h9M397 821h9M331 776h9M314 858h9M294 768h9M388 778h9M196 867h9M151 802h9M329 832h9M365 708h9M267 916h9M528 787h9M227 874h9M118 894h9M107 910h9M260 889h9M75 952h9M122 794h9M203 816h9M330 810h9M305 753h9M142 893h9M255 717h9M201 754h9M371 879h9M118 855h9M305 870h9M277 796h9M161 861h9M66 906h9M270 769h9M271 801h9M178 913h9M293 809h9M454 794h9M329 758h9M337 738h9M337 754h9M412 800h9M105 870h9M288 782h9M201 879h9M180 827h9M262 826h9M259 874h9M207 886h9M163 842h9M176 735h9M78 891h9M161 929h9M230 850h9M239 968h9M128 771h9M280 772h9M355 833h9M208 833h9M254 808h9M359 838h9M318 717h9M144 748h9M365 887h9M253 822h9M226 773h9M220 916h9M250 608h9M316 756h9M118 947h9M238 797h9M393 669h9M188 845h9M53 983h9M138 871h9M411 749h9M301 792h9M334 890h9M147 788h9M333 711h9M74 806h9M122 828h9M312 824h9M270 710h9M196 827h9M135 822h9M194 852h9M127 894h9M158 820h9M387 695h9M349 727h9M126 761h9M261 892h9M272 738h9M367 734h9M94 853h9M177 810h9M222 772h9M341 836h9M267 841h9M137 823h9M124 844h9M341 794h9M525 836h9M336 857h9M309 862h9M389 836h9M300 830h9M150 881h9M178 865h9M207 769h9M253 746h9M332 784h9M61 885h9M195 887h9M268 856h9M366 816h9M97 898h9M339 754h9M255 821h9M61 880h9M249 731h9M406 592h9M164 942h9M477 760h9M207 848h9M411 760h9M466 688h9M147 743h9M37 878h9M319 769h9M387 791h9M129 746h9M63 772h9M459 724h9M344 717h9M291 782h9M387 821h9M113 882h9M334 748h9M410 808h9M233 875h9M345 820h9M313 819h9M250 718h9M50 954h9M350 773h9M289 813h9M297 818h9M170 820h9M443 748h9M325 714h9M419 676h9M449 803h9M107 951h9M344 967h9M291 782h9M324 892h9M383 798h9M344 807h9M227 750h9M84 823h9M288 812h9M192 809h9M252 791h9M142 793h9M449 632h9M204 620h9M410 773h9M398 843h9M108 824h9M121 734h9M321 799h9M388 659h9M409 743h9M302 823h9M333 828h9M234 843h9M51 916h9M368 763h9M190 862h9M245 688h9M382 812h9M192 764h9M265 792h9M382 715h9M313 896h9M306 839h9M212 759h9M162 805h9M213 839h9M168 766h9M476 794h9M295 897h9M300 800h9M300 670h9M226 713h9M387 733h9M273 783h9M326 730h9M329 696h9M397 812h9M185 824h9M231 743h9M385 810h9M246 806h9M166 803h9M258 935h9M134 793h9M204 845h9M344 933h9M250 823h9M341 734h9M132 898h9M265 718h9M253 790h9M215 758h9M155 845h9M237 764h9M31 956h9M146 904h9M164 788h9M345 819h9M89 873h9M276 776h9M191 885h9M317 829h9M309 791h9M293 856h9M78 786h9M294 740h9M110 814h9M177 706h9M265 786h9M261 705h9M159 851h9M533 685h9M161 847h9M242 680h9M41 924h9M363 821h9M147 804h9M261 683h9M442 790h9M362 882h9M404 741h9M319 796h9M277 761h9M364 833h9M358 696h9M433 700h9M580 645h9M242 926h9M182 815h9M29 924h9M438 715h9M110 846h9M278 749h9M202 690h9M265 907h9M208 874h9M347 875h9M307 754h9M107 858h9M136 772h9M173 868h9M298 704h9M233 691h9M386 856h9M238 868h9M161 744h9M471 726h9M366 756h9M266 795h9M270 696h9M113 833h9M22 840h9M259 824h9M445 770h9M158 867h9M389 692h9M249 805h9M315 831h9M367 733h9M267 866h9M291 754h9M340 808h9M185 859h9M85 918h9M361 672h9M344 738h9M355 851h9M182 843h9M370 795h9M62 940h9M400 800h9M146 929h9M294 822h9M138 889h9M280 839h9M293 672h9M45 977h9M239 686h9M351 674h9M336 891h9M21 952h9M278 782h9M435 708h9M432 783h9M314 769h9M299 776h9M232 876h9M283 947h9M153 837h9M296 695h9M462 782h9M295 680h9M343 807h9M160 874h9M339 730h9M91 895h9M273 796h9M265 936h9M266 783h9M247 775h9M375 832h9M99 711h9M350 699h9M191 845h9M241 674h9M275 884h9M194 852h9M376 806h9M190 753h9M301 772h9M251 847h9M258 892h9M302 849h9M393 924h9M223 823h9M305 699h9M83 841h9M378 790h9M242 790h9M169 850h9M319 710h9M354 689h9M224 782h9M321 763h9M483 598h9M216 775h9M297 835h9M158 861h9M134 879h9M488 775h9M154 781h9M465 726h9M338 637h9M259 877h9M76 905h9M119 870h9M212 840h9M277 852h9M274 867h9M161 825h9M195 823h9M175 906h9M278 807h9M261 721h9M286 843h9M278 820h9M271 737h9M225 930h9M245 818h9M265 831h9M407 739h9M259 771h9M326 768h9M60 832h9M303 779h9M60 861h9M407 686h9M392 726h9M80 941h9M176 855h9M218 858h9M83 914h9M462 722h9M172 876h9M340 719h9M219 829h9M179 944h9M268 846h9M588 708h9M335 857h9M352 748h9M181 846h9M298 778h9M270 848h9M178 725h9M159 838h9M281 913h9M430 753h9M144 897h9M427 817h9M222 726h9M180 735h9M250 645h9M188 878h9M399 671h9M329 684h9M96 870h9M209 898h9M233 826h9M335 775h9M118 814h9M236 801h9M378 811h9M175 901h9M231 869h9M328 844h9M124 902h9M76 836h9M163 742h9M400 738h9M258 725h9M311 698h9M175 838h9M246 792h9M242 895h9M202 864h9M137 833h9M366 757h9M243 780h9M255 858h9M282 735h9M130 901h9M141 879h9M346 794h9M428 712h9M220 946h9M55 973h9M181 778h9M282 857h9M363 648h9M357 715h9M375 775h9M467 686h9M349 836h9M320 723h9M296 846h9M157 853h9M372 709h9M203 846h9M281 796h9M300 767h9M273 926h9M211 660h9M165 812h9M39 907h9M288 850h9M365 754h9M363 724h9M243 864h9M452 766h9M182 687h9M61 794h9M266 973h9M274 902h9M122 890h9M431 651h9M255 810h9M179 762h9M256 764h9M338 862h9M284 739h9M202 957h9M390 724h9M126 749h9M97 715h9M356 767h9M60 920h9M269 746h9M295 838h9M306 826h9M30 815h9M117 751h9M154 860h9M275 785h9M316 873h9M32 956h9M119 913h9M308 716h9M106 887h9M251 704h9M138 876h9M140 813h9M158 922h9M320 712h9M281 792h9M109 853h9M361 689h9M187 968h9M171 861h9M311 911h9M252 811h9M344 852h9M23 806h9M308 728h9M378 776h9M120 895h9M239 798h9M213 779h9M371 679h9M250 875h9M408 799h9M264 784h9M339 795h9M26 815h9M464 895h9M182 800h9M210 777h9M299 743h9M301 619h9M250 783h9M291 877h9M198 858h9M262 815h9M44 817h9M163 858h9M120 816h9M247 890h9M286 685h9M307 699h9M150 835h9M299 705h9M58 904h9M147 833h9M403 661h9M258 844h9M253 881h9M214 771h9M132 868h9M261 894h9M488 658h9M322 767h9M90 800h9M330 814h9M143 840h9M248 792h9M184 733h9M196 737h9M210 799h9M159 844h9M302 655h9M176 882h9M260 798h9M237 761h9M291 711h9M314 856h9M549 680h9M464 734h9M242 845h9M29 931h9M329 728h9M416 769h9M259 762h9M149 958h9M252 820h9M202 735h9M241 807h9M68 940h9M74 789h9M324 775h9M246 742h9M375 856h9M209 735h9M171 812h9M248 823h9M309 714h9M189 873h9M217 889h9M178 925h9M371 807h9M214 727h9M115 963h9M208 784h9M221 838h9M167 935h9M326 689h9M334 781h9M192 910h9M352 928h9M395 818h9M222 875h9M131 833h9M336 771h9M45 851h9M222 777h9M152 843h9M311 860h9M262 800h9M179 888h9M261 779h9M196 825h9M339 809h9M296 888h9M269 931h9M301 764h9M45 847h9M271 837h9M39 960h9M287 807h9M77 875h9M247 879h9M351 827h9M270 850h9M305 880h9M202 872h9M331 829h9M62 811h9M217 770h9M441 735h9M164 749h9M252 740h9M265 744h9M165 806h9M207 766h9M233 848h9M151 806h9M351 826h9M532 838h9M177 802h9M331 733h9M500 679h9M259 790h9M222 864h9M117 829h9M362 793h9M342 636h9M104 842h9M264 780h9M484 697h9M85 801h9M368 754h9M143 858h9M501 688h9M160 797h9M313 847h9M253 816h9M277 795h9M313 826h9M327 874h9M310 680h9M248 872h9M379 720h9M290 771h9M287 767h9M373 649h9M321 786h9M267 762h9M213 751h9M200 874h9M211 845h9M95 880h9M157 911h9M200 838h9M412 754h9M175 773h9M206 900h9M299 793h9M149 915h9M108 806h9M145 853h9M328 919h9M239 900h9M176 908h9M146 878h9M150 804h9M47 958h9M427 873h9M186 823h9M209 874h9M239 884h9M415 795h9M207 648h9M301 776h9M215 849h9M139 753h9M203 815h9M378 757h9M295 840h9M165 838h9M270 709h9M266 822h9M299 829h9M267 809h9M379 826h9M205 828h9M281 846h9M152 802h9M127 871h9M300 834h9M215 846h9M292 791h9M178 939h9M252 871h9M425 865h9M286 828h9M25 971h9M214 848h9M240 838h9M316 789h9M253 823h9M303 789h9M398 651h9M251 823h9M138 852h9M341 850h9M352 852h9M102 741h9M343 870h9M238 874h9M53 865h9M110 875h9M149 746h9M101 833h9M341 658h9M279 803h9M220 918h9M414 670h9M147 899h9M266 625h9M326 884h9M187 768h9M311 755h9M308 742h9M100 856h9M100 848h9M109 807h9M306 890h9M328 785h9M391 655h9M160 802h9M241 761h9M148 801h9M229 973h9M124 969h9M226 796h9M332 863h9M268 712h9M164 835h9M84 836h9M324 648h9M149 835h9M354 742h9M324 735h9M95 858h9M19 904h9M189 726h9M150 928h9M347 795h9M163 748h9M346 826h9M408 771h9M132 809h9M238 788h9M265 794h9M436 757h9M101 842h9M228 656h9M259 953h9M154 851h9M222 789h9M125 874h9M89 865h9M165 923h9M227 852h9M232 689h9M105 747h9M157 823h9M94 882h9M338 745h9M65 983h9M137 820h9M24 964h9M274 757h9M142 847h9M403 727h9M319 747h9M187 758h9M293 860h9M152 911h9M112 855h9M266 831h9M148 788h9M233 859h9M112 739h9M241 690h9M238 835h9M223 788h9M179 915h9M275 886h9M270 720h9M275 705h9M308 774h9M227 946h9M158 847h9M190 774h9M253 861h9M247 853h9M274 792h9M148 829h9M335 868h9M434 725h9M399 816h9M385 845h9M173 828h9M292 751h9M143 852h9M272 692h9M167 765h9M264 825h9M211 789h9M226 683h9M139 850h9M213 915h9M58 969h9M118 812h9M272 789h9M332 852h9M309 785h9M260 848h9M313 707h9M49 785h9M115 915h9M256 729h9M232 773h9M27 810h9M353 664h9M217 826h9M176 839h9M117 900h9M297 715h9M221 685h9M199 817h9M255 816h9M398 782h9M127 712h9M89 863h9M99 940h9M246 810h9M317 703h9M154 766h9M154 730h9M119 957h9M292 929h9M114 756h9M257 779h9M282 879h9M126 868h9M203 817h9M197 768h9M242 779h9M138 945h9M74 865h9M385 825h9M373 844h9M285 797h9M168 896h9M194 850h9M523 678h9M160 895h9M317 726h9M200 723h9M136 841h9M252 781h9M127 802h9M217 789h9M343 638h9M314 803h9M128 764h9M356 789h9M203 827h9M249 851h9M148 870h9M387 752h9M132 879h9M342 847h9M292 772h9M185 865h9M231 882h9M100 983h9M150 858h9M234 810h9M210 696h9M213 904h9M201 802h9M336 768h9M139 789h9M230 721h9M432 733h9M134 862h9M272 855h9M85 891h9M351 840h9M320 767h9M105 958h9M293 774h9M236 799h9M114 965h9M298 848h9M234 810h9M368 703h9M37 905h9M372 714h9M312 777h9M353 889h9M368 731h9M203 739h9M210 800h9M242 735h9M363 796h9M282 840h9M312 758h9M315 849h9M261 940h9M472 882h9M479 826h9M478 766h9M183 807h9M289 798h9M296 903h9M197 834h9M291 871h9M142 792h9M247 836h9M157 833h9M170 841h9M86 877h9M144 839h9M435 752h9M64 908h9M274 875h9M128 932h9M197 785h9M166 873h9M225 898h9M200 884h9M188 732h9M40 846h9M93 768h9M241 770h9M254 852h9M232 863h9M278 689h9M376 895h9M285 747h9M297 729h9M119 833h9M322 792h9M137 898h9M283 782h9M363 751h9M169 860h9M33 837h9M202 816h9M176 908h9M328 665h9M103 808h9M363 680h9M174 925h9M386 723h9M116 935h9M181 740h9M315 793h9M242 764h9M168 947h9M82 896h9M116 943h9M76 817h9M310 779h9M191 727h9M431 780h9M280 814h9M331 786h9M78 874h9M361 860h9M165 724h9M100 896h9M324 653h9M235 787h9M155 910h9M363 859h9M323 877h9M188 943h9M446 760h9M219 885h9M204 792h9M233 820h9M275 782h9M216 907h9M172 969h9M424 758h9M79 827h9M261 937h9M333 863h9M66 826h9M299 746h9M87 875h9M368 712h9M154 781h9M340 759h9M339 817h9M124 863h9M162 694h9M462 679h9M306 788h9M124 791h9M55 890h9M144 744h9M202 859h9M244 723h9M122 883h9M401 785h9M356 786h9M363 904h9M313 823h9M213 833h9M187 931h9M17 880h9M405 661h9M357 842h9M309 733h9M145 764h9M104 744h9M49 967h9M23 887h9M151 846h9M230 829h9M334 811h9M293 654h9M369 721h9M20 877h9M499 779h9M323 806h9M475 762h9M205 818h9M398 777h9M380 792h9M256 816h9M260 822h9M319 746h9M186 795h9M358 680h9M254 827h9M232 697h9M236 848h9M324 858h9M164 924h9M365 904h9M101 901h9M72 966h9M141 832h9M266 772h9M274 798h9M321 721h9M280 819h9M136 951h9M311 944h9M341 773h9M265 680h9M119 907h9M59 879h9M210 801h9M339 721h9M250 852h9M211 862h9M270 784h9M219 788h9M263 720h9M304 812h9M157 808h9M406 844h9M197 878h9M236 975h9M362 738h9M259 912h9M370 807h9M157 848h9M190 848h9M215 779h9M218 940h9M115 972h9M337 727h9M287 719h9M251 860h9M461 905h9M255 746h9M322 683h9M240 774h9M254 854h9M105 807h9M111 863h9M130 877h9M165 740h9M92 887h9M248 724h9M259 832h9M272 732h9M183 787h9M168 821h9M246 815h9M108 936h9M325 790h9M243 753h9M318 875h9M362 876h9M312 891h9M258 844h9M79 829h9M310 740h9M192 821h9M304 845h9M96 883h9M427 689h9M274 787h9M498 748h9M395 766h9M100 953h9M286 896h9M198 821h9M241 725h9M330 653h9M182 816h9M256 827h9M282 808h9M301 828h9M359 767h9M117 825h9M256 802h9M190 791h9M267 755h9M88 829h9M274 832h9M379 788h9M53 857h9M63 947h9M250 749h9M144 692h9M447 804h9M327 836h9M76 959h9M223 848h9M255 756h9M186 872h9M331 810h9M95 821h9M220 796h9M177 889h9M265 712h9M523 843h9M111 876h9M63 871h9M248 792h9M282 663h9M264 850h9M352 789h9M501 705h9M170 726h9M491 577h9M336 768h9M572 748h9M85 827h9M322 721h9M216 849h9M276 845h9M285 805h9M222 766h9M186 794h9M43 848h9M350 745h9M91 768h9M238 732h9M128 822h9M207 749h9M360 798h9M158 789h9M378 675h9M114 790h9M273 747h9M259 919h9M224 879h9M253 865h9M310 829h9M241 809h9M359 794h9M160 896h9M232 966h9M225 871h9M241 798h9M284 744h9M135 762h9M367 751h9M274 864h9M337 860h9M441 766h9M340 795h9M76 861h9M300 761h9M264 783h9M188 880h9M195 882h9M423 718h9M146 893h9M376 656h9M116 845h9M273 870h9M179 868h9M221 805h9M106 964h9M227 783h9M420 860h9M98 875h9M279 810h9M272 925h9M319 916h9M311 836h9M339 858h9M279 750h9M329 758h9M425 660h9M64 835h9M187 839h9M245 793h9M367 809h9M303 832h9M264 884h9M213 726h9M175 867h9M379 718h9M137 815h9M92 907h9M230 817h9M131 949h9M151 815h9M184 745h9M408 764h9M211 832h9M187 793h9M119 867h9M252 836h9M16 933h9M356 786h9M459 760h9M554 708h9M408 723h9M317 782h9M352 722h9M259 761h9M411 764h9M227 946h9M73 867h9M270 879h9M37 887h9M273 831h9M217 759h9M297 846h9M192 796h9M307 799h9M264 725h9M479 853h9M387 723h9M131 858h9M195 723h9M333 820h9M429 804h9M164 823h9M186 806h9M195 792h9M333 634h9M386 793h9M158 758h9M264 834h9M343 630h9M378 814h9M176 813h9M403 789h9M269 801h9M359 844h9M281 806h9M122 766h9M198 743h9M216 841h9M182 889h9M244 856h9M283 903h9M326 874h9M369 729h9M299 876h9M414 767h9M397 735h9M270 794h9M289 801h9M421 526h9M54 901h9M231 795h9M129 786h9M293 890h9M217 820h9M358 779h9M241 824h9M340 705h9M436 716h9M435 794h9M64 899h9M251 832h9M300 756h9M319 716h9M108 743h9M183 841h9M170 901h9M437 724h9M398 846h9M312 698h9M278 763h9M302 888h9M178 731h9M198 934h9M238 858h9M171 809h9M230 806h9M132 727h9M360 819h9M136 877h9M82 889h9M65 843h9M378 863h9M111 961h9M186 767h9M260 775h9M173 935h9M457 768h9M228 756h9M113 878h9M48 659h9M226 860h9M249 710h9M209 817h9M336 777h9M254 831h9M284 803h9M251 786h9M246 818h9M296 812h9M358 740h9M224 871h9M168 833h9M162 929h9M229 777h9M523 779h9M291 734h9M198 817h9M172 860h9M235 970h9M489 775h9M194 827h9M262 775h9M188 904h9M245 851h9M391 834h9M89 868h9M376 767h9M355 728h9M387 701h9M651 762h9M79 874h9M236 716h9M398 888h9M135 778h9M109 822h9M323 792h9M344 664h9M219 888h9M196 765h9M124 816h9M134 869h9M397 762h9M79 756h9M277 771h9M259 846h9M165 810h9M150 817h9M183 758h9M269 909h9M252 715h9M423 833h9M292 832h9M180 839h9M172 759h9M326 837h9M223 825h9M343 877h9M363 807h9M172 793h9M335 790h9M319 883h9M126 841h9M390 717h9M332 777h9M109 856h9M188 827h9M50 841h9M181 867h9M92 907h9M77 933h9M386 812h9M275 672h9M474 685h9M29 953h9M254 870h9M281 821h9M283 692h9M216 868h9M292 625h9M244 903h9M417 741h9M388 650h9M227 747h9M190 786h9M246 787h9M240 627h9M388 807h9M286 711h9M348 816h9M212 763h9M182 777h9M293 613h9M183 916h9M163 763h9M87 935h9M350 750h9M231 733h9M183 864h9M317 836h9M377 808h9M361 906h9M240 949h9M305 747h9M472 674h9M152 789h9M72 880h9M183 840h9M323 786h9M247 974h9M308 807h9M50 761h9M281 787h9M274 819h9M157 741h9M93 962h9M302 709h9M36 889h9M163 797h9M283 964h9M412 790h9M274 841h9M228 776h9M78 845h9M222 837h9M342 865h9M386 701h9M255 934h9M350 777h9M439 816h9M243 743h9M181 623h9M256 747h9M301 716h9M217 826h9M206 788h9M325 800h9M244 814h9M331 894h9M58 953h9M131 852h9M379 801h9M347 892h9M189 958h9M280 781h9M314 881h9M176 849h9M272 790h9M121 905h9M131 818h9M15 906h9M248 887h9M479 761h9M51 877h9M288 739h9M244 696h9M262 646h9M175 919h9M333 880h9M160 830h9M302 744h9M446 808h9M279 813h9M345 772h9M160 784h9M111 889h9M342 753h9M243 747h9M200 874h9M127 892h9M392 763h9M86 846h9M162 825h9M163 809h9M400 871h9M317 857h9M317 730h9M114 939h9M250 799h9M339 786h9M486 689h9M467 611h9M212 772h9M263 829h9M437 772h9M145 838h9M173 971h9M392 791h9M397 683h9M290 789h9M256 780h9M423 683h9M366 763h9M368 763h9M309 687h9M362 780h9M213 770h9M85 805h9M227 823h9M244 981h9M84 791h9M48 904h9M213 814h9M352 707h9M33 975h9M394 784h9M307 688h9M39 955h9M170 774h9M216 782h9M370 892h9M235 771h9M179 937h9M205 855h9M234 674h9M236 710h9M238 921h9M227 810h9M205 851h9M316 795h9M30 846h9M352 709h9M344 782h9M131 868h9M366 848h9M192 734h9M274 729h9M34 877h9M418 764h9M356 800h9M357 752h9M292 756h9M261 906h9M206 686h9M352 594h9M360 827h9M210 785h9M156 827h9M217 939h9M220 842h9M226 869h9M61 839h9M340 791h9M340 944h9M253 792h9M132 732h9M453 740h9M266 894h9M169 833h9M307 733h9M297 723h9M133 783h9M80 922h9M333 885h9M260 829h9M199 743h9M213 828h9M211 676h9M477 688h9M231 721h9M271 872h9M337 698h9M305 902h9M222 858h9M362 858h9M197 859h9M156 802h9M274 755h9M250 714h9M251 942h9M318 635h9M352 851h9M128 813h9M193 791h9M316 806h9M161 770h9M190 852h9M122 772h9M123 968h9M133 899h9M263 824h9M136 793h9M269 769h9M359 908h9M306 746h9M152 923h9M315 934h9M354 733h9M274 819h9M400 725h9M288 823h9M404 741h9M240 890h9M323 708h9M242 816h9M450 769h9M332 712h9M307 918h9M329 779h9M258 824h9M146 801h9M215 934h9M406 638h9M244 755h9M304 721h9M287 783h9M264 845h9M316 859h9M176 783h9M206 676h9M217 828h9M372 897h9M262 909h9M256 794h9M243 777h9M326 848h9M303 859h9M415 724h9M298 848h9M252 880h9M187 813h9M206 853h9M134 937h9M347 763h9M300 734h9M123 847h9M64 868h9M292 737h9M256 841h9M242 878h9M248 849h9M214 858h9M371 864h9M315 749h9M245 849h9M241 682h9M165 872h9M238 884h9M322 830h9M319 739h9M223 885h9M71 727h9M231 879h9M199 741h9M266 896h9M325 718h9M458 734h9M278 712h9M382 783h9M294 834h9M93 888h9M292 715h9M233 862h9M237 893h9M423 861h9M169 878h9M362 769h9M244 897h9M268 803h9M457 830h9M317 725h9M197 845h9M244 887h9M164 783h9M280 812h9M139 870h9M41 957h9M320 721h9M296 807h9M219 749h9M114 810h9M254 890h9M279 856h9M181 829h9M250 680h9M271 836h9M297 936h9M320 778h9M358 707h9M405 742h9M72 851h9M188 902h9M212 804h9M285 822h9M133 938h9M40 970h9M228 824h9M146 922h9M64 805h9M191 786h9M278 853h9M262 740h9M266 932h9M400 690h9M374 780h9M319 887h9M418 698h9M200 882h9M86 813h9M99 851h9M259 687h9M196 969h9M372 838h9M294 847h9M229 677h9M329 834h9M152 930h9M320 867h9M340 814h9M173 851h9M206 872h9M424 809h9M289 733h9M64 921h9M292 799h9M274 862h9M159 885h9M209 697h9M51 922h9M399 735h9M571 720h9M238 905h9M286 759h9M182 831h9M82 895h9M301 790h9M106 873h9M174 976h9M216 814h9M209 855h9M290 760h9M219 899h9M256 831h9M264 831h9M39 902h9M285 816h9M181 873h9M197 873h9M204 886h9M80 770h9M278 744h9M54 825h9M233 845h9M178 870h9M268 778h9M383 695h9M314 788h9M72 835h9M238 794h9M190 841h9M286 786h9M274 751h9M133 853h9M284 806h9M82 814h9M197 918h9M327 847h9M261 837h9M210 879h9M180 845h9M225 758h9M443 767h9M146 971h9M173 794h9M311 868h9M224 851h9M208 888h9M454 833h9M258 767h9M228 745h9M358 878h9M290 806h9M335 811h9M120 932h9M214 950h9M175 861h9M84 826h9M348 779h9M101 855h9M84 873h9M131 767h9M283 803h9M401 875h9M325 708h9M107 855h9M249 784h9M121 921h9M533 708h9M271 680h9M254 831h9M363 790h9M134 950h9M209 888h9M255 799h9M277 738h9M105 859h9M246 861h9M336 684h9M58 933h9M80 822h9M279 802h9M362 714h9M187 882h9M260 882h9M131 867h9M146 880h9M320 775h9M126 905h9M150 835h9M228 764h9M328 733h9M529 848h9M376 740h9M356 712h9M306 820h9M77 859h9M427 658h9M276 901h9M136 858h9M282 701h9M258 780h9M148 867h9M88 943h9M203 802h9M158 814h9M337 810h9M290 936h9M237 816h9M272 754h9M239 861h9M128 799h9M37 918h9M431 841h9M193 765h9M454 775h9M441 644h9M44 969h9M306 776h9M393 818h9M277 796h9M448 745h9M325 697h9M326 737h9M174 774h9M453 686h9M262 700h9M530 828h9M372 708h9M348 758h9M547 668h9M530 506h9M446 611h9M494 818h9M467 833h9M348 629h9M288 893h9M444 880h9M206 827h9M281 786h9M323 637h9M411 757h9M592 649h9M264 708h9M630 634h9M575 842h9M755 460h9M214 866h9M383 698h9M249 811h9M444 620h9M318 723h9M498 633h9M434 834h9M325 774h9M378 723h9M474 794h9M438 695h9M573 822h9M586 711h9M189 773h9M409 822h9M230 977h9M477 716h9M375 836h9M372 693h9M272 807h9M521 742h9M352 862h9M378 712h9M151 893h9M287 880h9M356 779h9M474 636h9M699 619h9M354 845h9M467 623h9M394 725h9M387 602h9M479 777h9M200 825h9M423 800h9M212 863h9M372 519h9M567 632h9M498 701h9M218 841h9M388 717h9M393 579h9M498 569h9M556 760h9M598 488h9M179 953h9M398 748h9M427 725h9M195 849h9M450 670h9M467 541h9M486 528h9M456 724h9M417 811h9M470 852h9M544 600h9M506 642h9M355 671h9M497 654h9M386 682h9M520 524h9M309 794h9M432 633h9M261 974h9M152 824h9M561 507h9M261 853h9M352 689h9M484 657h9M190 711h9M395 648h9M199 794h9M487 655h9M239 563h9M543 695h9M299 660h9M244 782h9M276 725h9M401 841h9M556 655h9M597 730h9M403 650h9M439 662h9M384 704h9M377 710h9M456 645h9M594 510h9M450 701h9M517 793h9M292 766h9M275 855h9M319 656h9M357 775h9M437 652h9M225 579h9M310 805h9M491 566h9M434 632h9M274 637h9M271 825h9M242 749h9M394 701h9M392 728h9M366 685h9M332 697h9M457 737h9M298 691h9M476 767h9M286 849h9M509 677h9M307 888h9M285 704h9M425 703h9M519 624h9M167 749h9M288 761h9M406 552h9M436 879h9M273 882h9M343 852h9M321 711h9M242 725h9M478 723h9M316 736h9M340 754h9M320 828h9M461 620h9M389 708h9M266 725h9M393 635h9M485 747h9M358 886h9M486 586h9M344 706h9M392 685h9M355 622h9M507 585h9M241 777h9M360 663h9M291 706h9M460 701h9M453 648h9M368 586h9M480 714h9M607 518h9M416 767h9M554 578h9M481 791h9M470 721h9M489 836h9M497 633h9M196 758h9M304 692h9M520 483h9M76 961h9M349 808h9M487 680h9M229 807h9M348 638h9M538 654h9M731 547h9M372 732h9M283 576h9M340 720h9M680 499h9M499 527h9M530 577h9M490 524h9M380 902h9M474 598h9M371 625h9M241 884h9M465 700h9M375 633h9M246 823h9M181 757h9M547 599h9M307 712h9M497 624h9M485 680h9M305 675h9M314 654h9M368 796h9M522 607h9M576 705h9M272 642h9M247 647h9M297 674h9M284 960h9M588 491h9M324 660h9M528 633h9M331 956h9M513 646h9M384 761h9M262 714h9M401 699h9M435 713h9M235 829h9M560 774h9M322 719h9M573 757h9M419 661h9M242 755h9M364 749h9M485 555h9M486 486h9M347 742h9M63 755h9M44 825h9M499 755h9M503 680h9M322 681h9M404 605h9M402 871h9M416 756h9M285 750h9M405 702h9M496 590h9M398 752h9M260 696h9M461 724h9M257 716h9M272 920h9M462 624h9M262 589h9M398 773h9M445 787h9M580 570h9M391 549h9M300 710h9M396 691h9M494 557h9M359 853h9M514 552h9M371 698h9M401 801h9M535 595h9M363 798h9M404 695h9M166 879h9M463 834h9M353 627h9M457 674h9M603 524h9M414 685h9M378 535h9M404 776h9M429 819h9M422 766h9M408 674h9M308 716h9M484 546h9M244 800h9M293 798h9M335 775h9M517 633h9M330 673h9M519 695h9M352 615h9M334 635h9M239 658h9M642 786h9M272 682h9M372 737h9M493 531h9M448 835h9M442 586h9M259 781h9M419 782h9M185 923h9M225 720h9M451 712h9M124 658h9M479 559h9M648 637h9M309 716h9M511 651h9M214 944h9M449 736h9M326 736h9M533 618h9M533 696h9M382 728h9M540 492h9M330 811h9M411 634h9M464 769h9M360 556h9M438 688h9M474 741h9M339 555h9M515 513h9M342 622h9M469 487h9M211 773h9M602 501h9M259 715h9M217 837h9M445 614h9M259 833h9M347 646h9M143 870h9M522 640h9M524 561h9M341 704h9M255 847h9M429 740h9M475 546h9M252 772h9M355 702h9M455 651h9M633 654h9M320 777h9M461 648h9M355 683h9M509 815h9M314 757h9M466 713h9M352 597h9M429 746h9M165 742h9M320 750h9M533 711h9M27 936h9M317 736h9M502 695h9M408 725h9M435 650h9M408 815h9M318 652h9M387 763h9M338 771h9M454 836h9M554 545h9M433 595h9M339 702h9M377 644h9M257 904h9M401 708h9M598 653h9M369 697h9M574 726h9M493 744h9M510 592h9M444 819h9M212 810h9M569 498h9M273 629h9M343 700h9M534 520h9M454 701h9M443 829h9M436 645h9M359 842h9M309 770h9M556 740h9M558 566h9M512 500h9M449 785h9M404 475h9M366 751h9M266 822h9M178 738h9M641 534h9M528 715h9M300 903h9M452 564h9M493 680h9M522 673h9M327 745h9M206 883h9M328 618h9M391 716h9M302 697h9M740 724h9M810 515h9M636 768h9M770 716h9M709 924h9M757 733h9M584 754h9M692 718h9M571 760h9M604 690h9M642 675h9M660 566h9M594 867h9M650 788h9M799 665h9M639 594h9M648 678h9M829 660h9M828 604h9M471 796h9M885 603h9M733 770h9M659 679h9M515 872h9M580 735h9M577 757h9M495 693h9M677 701h9M703 662h9M611 765h9M446 793h9M628 576h9M676 567h9M601 840h9M740 659h9M696 905h9M678 729h9M654 697h9M960 605h9M647 788h9M627 340h9M659 589h9M543 804h9M511 829h9M672 726h9M897 462h9M779 738h9M721 949h9M676 521h9M624 608h9M635 690h9M598 641h9M826 554h9M618 676h9M549 856h9M757 665h9M656 482h9M644 855h9M696 708h9M671 869h9M589 612h9M531 733h9M819 594h9M755 560h9M749 708h9M572 879h9M697 646h9M793 460h9M690 761h9M609 524h9M539 612h9M643 607h9M651 760h9M734 633h9M674 725h9M747 606h9M613 582h9M833 822h9M636 757h9M730 696h9M683 723h9M565 712h9M574 600h9M754 784h9M784 693h9M595 600h9M551 774h9M573 543h9M617 780h9M615 735h9M577 765h9M738 646h9M693 731h9M719 670h9M694 723h9M668 922h9M689 644h9M665 753h9M698 705h9M694 743h9M639 565h9M682 721h9M699 800h9M655 813h9M635 533h9M737 837h9M783 657h9M888 626h9M792 423h9M625 780h9M791 550h9M736 662h9M602 698h9M817 817h9M677 548h9M646 721h9M708 817h9M764 730h9M600 657h9M602 486h9M675 616h9M577 595h9M713 803h9M686 793h9M655 783h9M543 615h9M690 621h9M649 675h9M618 618h9M681 561h9M528 760h9M891 439h9M626 719h9M635 647h9M667 768h9M570 810h9M542 538h9M558 760h9M604 624h9M626 851h9M683 672h9M587 672h9M790 477h9M593 674h9M773 725h9M611 740h9M630 686h9M627 532h9M561 558h9M683 582h9M888 627h9M699 722h9M726 863h9M768 837h9M530 746h9M709 893h9M628 677h9M756 813h9M624 823h9M695 680h9M716 754h9M669 725h9M724 798h9M655 574h9M630 723h9M614 848h9M620 802h9M672 502h9M611 657h9M571 671h9M780 587h9M826 423h9M750 493h9M627 709h9M769 459h9M733 754h9M712 609h9M525 765h9M708 969h9M693 683h9M789 358h9M651 672h9M542 775h9M734 843h9M728 505h9M741 872h9M582 767h9M650 929h9M513 622h9M678 833h9M651 679h9M856 633h9M700 530h9M567 727h9M969 556h9M647 689h9M790 501h9M659 699h9M677 638h9M696 675h9M728 485h9M585 820h9M694 563h9M756 629h9M645 668h9M499 757h9M808 727h9M429 844h9M687 641h9M695 745h9M618 774h9M665 826h9M784 651h9M641 602h9M718 619h9M635 758h9M607 776h9M630 815h9M571 861h9M704 966h9M796 682h9M660 770h9M617 737h9M619 619h9M668 663h9M745 564h9M611 685h9M773 768h9M735 717h9M767 535h9M790 289h9M738 272h9M752 350h9M825 245h9M868 294h9M801 244h9M828 250h9M883 296h9M796 227h9M749 262h9M855 215h9M733 352h9M779 282h9M854 264h9M839 258h9M831 290h9M842 287h9M823 229h9M869 270h9M852 300h9M801 293h9M838 279h9M777 270h9M742 337h9M739 226h9M751 333h9M782 277h9M820 227h9M790 297h9M737 298h9M775 294h9M753 359h9M784 240h9M776 263h9M870 302h9M791 281h9M887 266h9M806 168h9M838 226h9M821 308h9M667 293h9M735 253h9M859 280h9M865 234h9M721 312h9M867 271h9M783 197h9M881 286h9M726 298h9M800 239h9M755 246h9M810 242h9M788 293h9M808 235h9M738 220h9M662 407h9M787 255h9M718 321h9M764 254h9M740 279h9M775 301h9M856 280h9M848 264h9M822 245h9M803 293h9M723 288h9M812 216h9M761 284h9M754 314h9M870 240h9M830 231h9M974 264h9M753 181h9M714 263h9M853 220h9M902 296h9M784 224h9M851 271h9M834 296h9M882 270h9M753 257h9M768 228h9M818 298h9M780 306h9M827 326h9M921 246h9M821 237h9M918 299h9M690 289h9M650 268h9M931 279h9M946 200h9M798 313h9M775 337h9M765 271h9M823 258h9M733 336h9M811 284h9M903 220h9M781 268h9M688 239h9M824 257h9M815 259h9M798 257h9M761 284h9M783 357h9M773 302h9M846 245h9M762 242h9M857 287h9M810 275h9M834 331h9M771 243h9M883 337h9M706 293h9M789 272h9M672 348h9M734 214h9M743 267h9M780 244h9M565 337h9M316 317h9M308 285h9M633 240h9M406 283h9M552 336h9M492 313h9M594 305h9M706 289h9M484 266h9M328 294h9M488 272h9M603 282h9M597 289h9M605 280h9M392 250h9M402 253h9M386 240h9M407 204h9M539 227h9M580 266h9M796 286h9M337 298h9M666 295h9M472 290h9M595 298h9M557 272h9M858 343h9M663 206h9M395 269h9M539 291h9M501 288h9M324 238h9M660 277h9M767 341h9M461 350h9M639 253h9M351 244h9M727 300h9M575 247h9M589 282h9M828 311h9M597 333h9M613 325h9M361 261h9M591 317h9M575 293h9M446 238h9M405 285h9M609 239h9M560 249h9M500 305h9M486 265h9M572 296h9M473 260h9M501 308h9M572 228h9M182 299h9M313 370h9M595 306h9M512 271h9M367 293h9M751 241h9M524 286h9M557 272h9M497 256h9M398 310h9M529 249h9M567 268h9M559 356h9M514 322h9M412 306h9M487 288h9M642 279h9M311 292h9M352 293h9M640 285h9M529 322h9M324 258h9M524 279h9M613 264h9M590 301h9M707 297h9M357 280h9M399 231h9M760 223h9M629 277h9M627 244h9M338 235h9M775 320h9M345 301h9M553 299h9M418 326h9M832 261h9M626 278h9M570 319h9M711 293h9M475 304h9M566 317h9M598 244h9M644 314h9M503 323h9M435 270h9M675 291h9M725 285h9M416 280h9M537 360h9M963 274h9M851 219h9M772 261h9M783 244h9M642 335h9M440 249h9M332 294h9M724 275h9M651 334h9M627 260h9M407 364h9M567 326h9M573 238h9M604 209h9M436 322h9M740 325h9M538 214h9M531 267h9M560 253h9M473 262h9M674 331h9M247 265h9M598 270h9M132 41h9M814 877h9M841 80h9M443 75h9M851 413h9M845 668h9M162 793h9M130 360h9M863 546h9M806 362h9M585 618h9M197 825h9M444 682h9M728 635h9M884 868h9M225 768h9M490 497h9M551 222h9M594 866h9M585 58h9M453 249h9M523 157h9M309 961h9M250 260h9M916 863h9M379 844h9M528 123h9M959 40h9M617 881h9M302 265h9M676 400h9M496 129h9M519 682h9M861 846h9M711 127h9M232 755h9M731 677h9M955 978h9M909 841h9M181 699h9M182 231h9M302 399h9M334 752h9M380 459h9M567 765h9M387 864h9M847 940h9M770 774h9M244 227h9M671 447h9" stroke="#e2281f" stroke-width="9.5" stroke-opacity="0.42" fill="none"/></g>
<line x1="425.3" y1="446.6" x2="425.3" y2="530.4" stroke="#5a5a5a" stroke-width="0.85"/>
<line x1="381.3" y1="485.4" x2="463.8" y2="485.4" stroke="#5a5a5a" stroke-width="0.85"/>
<rect x="381.3" y="446.6" width="82.5" height="83.8" fill="none" stroke="#858585" stroke-width="0.85"/>
<line x1="379.1" y1="455.8" x2="381.3" y2="455.8" stroke="#444" stroke-width="0.7"/>
<line x1="380" y1="456.8" x2="381.3" y2="456.8" stroke="#555" stroke-width="0.5"/>
<line x1="380" y1="457.8" x2="381.3" y2="457.8" stroke="#555" stroke-width="0.5"/>
<line x1="380" y1="459" x2="381.3" y2="459" stroke="#555" stroke-width="0.5"/>
<line x1="380" y1="460.4" x2="381.3" y2="460.4" stroke="#555" stroke-width="0.5"/>
<line x1="380" y1="462" x2="381.3" y2="462" stroke="#555" stroke-width="0.5"/>
<line x1="380" y1="464" x2="381.3" y2="464" stroke="#555" stroke-width="0.5"/>
<line x1="380" y1="466.6" x2="381.3" y2="466.6" stroke="#555" stroke-width="0.5"/>
<line x1="380" y1="470.2" x2="381.3" y2="470.2" stroke="#555" stroke-width="0.5"/>
<text x="378.7" y="457.2" font-size="3.3" text-anchor="end" fill="#333">10</text>
<text x="375.1" y="454.6" font-size="2.6" text-anchor="end" fill="#333">4</text>
<line x1="379.1" y1="476.3" x2="381.3" y2="476.3" stroke="#444" stroke-width="0.7"/>
<line x1="380" y1="477.3" x2="381.3" y2="477.3" stroke="#555" stroke-width="0.5"/>
<line x1="380" y1="478.3" x2="381.3" y2="478.3" stroke="#555" stroke-width="0.5"/>
<line x1="380" y1="479.5" x2="381.3" y2="479.5" stroke="#555" stroke-width="0.5"/>
<line x1="380" y1="480.9" x2="381.3" y2="480.9" stroke="#555" stroke-width="0.5"/>
<line x1="380" y1="482.5" x2="381.3" y2="482.5" stroke="#555" stroke-width="0.5"/>
<line x1="380" y1="484.5" x2="381.3" y2="484.5" stroke="#555" stroke-width="0.5"/>
<line x1="380" y1="487.1" x2="381.3" y2="487.1" stroke="#555" stroke-width="0.5"/>
<line x1="380" y1="490.7" x2="381.3" y2="490.7" stroke="#555" stroke-width="0.5"/>
<text x="378.7" y="477.7" font-size="3.3" text-anchor="end" fill="#333">10</text>
<text x="375.1" y="475.1" font-size="2.6" text-anchor="end" fill="#333">3</text>
<line x1="379.1" y1="496.9" x2="381.3" y2="496.9" stroke="#444" stroke-width="0.7"/>
<line x1="380" y1="497.8" x2="381.3" y2="497.8" stroke="#555" stroke-width="0.5"/>
<line x1="380" y1="498.9" x2="381.3" y2="498.9" stroke="#555" stroke-width="0.5"/>
<line x1="380" y1="500.1" x2="381.3" y2="500.1" stroke="#555" stroke-width="0.5"/>
<line x1="380" y1="501.4" x2="381.3" y2="501.4" stroke="#555" stroke-width="0.5"/>
<line x1="380" y1="503.1" x2="381.3" y2="503.1" stroke="#555" stroke-width="0.5"/>
<line x1="380" y1="505.1" x2="381.3" y2="505.1" stroke="#555" stroke-width="0.5"/>
<line x1="380" y1="507.6" x2="381.3" y2="507.6" stroke="#555" stroke-width="0.5"/>
<line x1="380" y1="511.2" x2="381.3" y2="511.2" stroke="#555" stroke-width="0.5"/>
<text x="378.7" y="498.3" font-size="3.3" text-anchor="end" fill="#333">10</text>
<text x="375.1" y="495.7" font-size="2.6" text-anchor="end" fill="#333">2</text>
<line x1="379.1" y1="517.4" x2="381.3" y2="517.4" stroke="#444" stroke-width="0.7"/>
<line x1="380" y1="518.4" x2="381.3" y2="518.4" stroke="#555" stroke-width="0.5"/>
<line x1="380" y1="519.4" x2="381.3" y2="519.4" stroke="#555" stroke-width="0.5"/>
<line x1="380" y1="520.6" x2="381.3" y2="520.6" stroke="#555" stroke-width="0.5"/>
<line x1="380" y1="522" x2="381.3" y2="522" stroke="#555" stroke-width="0.5"/>
<line x1="380" y1="523.6" x2="381.3" y2="523.6" stroke="#555" stroke-width="0.5"/>
<line x1="380" y1="525.6" x2="381.3" y2="525.6" stroke="#555" stroke-width="0.5"/>
<line x1="380" y1="528.1" x2="381.3" y2="528.1" stroke="#555" stroke-width="0.5"/>
<text x="378.7" y="518.8" font-size="3.3" text-anchor="end" fill="#333">10</text>
<text x="375.1" y="516.2" font-size="2.6" text-anchor="end" fill="#333">1</text>
<line x1="392.9" y1="530.4" x2="392.9" y2="532.6" stroke="#444" stroke-width="0.7"/>
<line x1="391.9" y1="530.4" x2="391.9" y2="531.7" stroke="#555" stroke-width="0.5"/>
<line x1="390.9" y1="530.4" x2="390.9" y2="531.7" stroke="#555" stroke-width="0.5"/>
<line x1="389.7" y1="530.4" x2="389.7" y2="531.7" stroke="#555" stroke-width="0.5"/>
<line x1="388.4" y1="530.4" x2="388.4" y2="531.7" stroke="#555" stroke-width="0.5"/>
<line x1="386.8" y1="530.4" x2="386.8" y2="531.7" stroke="#555" stroke-width="0.5"/>
<line x1="384.8" y1="530.4" x2="384.8" y2="531.7" stroke="#555" stroke-width="0.5"/>
<line x1="382.3" y1="530.4" x2="382.3" y2="531.7" stroke="#555" stroke-width="0.5"/>
<text x="391" y="537.4" font-size="3.3" fill="#333">10</text>
<text x="394.7" y="535.4" font-size="2.6" fill="#333">1</text>
<line x1="413.1" y1="530.4" x2="413.1" y2="532.6" stroke="#444" stroke-width="0.7"/>
<line x1="412.1" y1="530.4" x2="412.1" y2="531.7" stroke="#555" stroke-width="0.5"/>
<line x1="411.1" y1="530.4" x2="411.1" y2="531.7" stroke="#555" stroke-width="0.5"/>
<line x1="409.9" y1="530.4" x2="409.9" y2="531.7" stroke="#555" stroke-width="0.5"/>
<line x1="408.6" y1="530.4" x2="408.6" y2="531.7" stroke="#555" stroke-width="0.5"/>
<line x1="407" y1="530.4" x2="407" y2="531.7" stroke="#555" stroke-width="0.5"/>
<line x1="405" y1="530.4" x2="405" y2="531.7" stroke="#555" stroke-width="0.5"/>
<line x1="402.5" y1="530.4" x2="402.5" y2="531.7" stroke="#555" stroke-width="0.5"/>
<line x1="398.9" y1="530.4" x2="398.9" y2="531.7" stroke="#555" stroke-width="0.5"/>
<text x="411.2" y="537.4" font-size="3.3" fill="#333">10</text>
<text x="414.9" y="535.4" font-size="2.6" fill="#333">2</text>
<line x1="433.3" y1="530.4" x2="433.3" y2="532.6" stroke="#444" stroke-width="0.7"/>
<line x1="432.4" y1="530.4" x2="432.4" y2="531.7" stroke="#555" stroke-width="0.5"/>
<line x1="431.3" y1="530.4" x2="431.3" y2="531.7" stroke="#555" stroke-width="0.5"/>
<line x1="430.1" y1="530.4" x2="430.1" y2="531.7" stroke="#555" stroke-width="0.5"/>
<line x1="428.8" y1="530.4" x2="428.8" y2="531.7" stroke="#555" stroke-width="0.5"/>
<line x1="427.2" y1="530.4" x2="427.2" y2="531.7" stroke="#555" stroke-width="0.5"/>
<line x1="425.2" y1="530.4" x2="425.2" y2="531.7" stroke="#555" stroke-width="0.5"/>
<line x1="422.7" y1="530.4" x2="422.7" y2="531.7" stroke="#555" stroke-width="0.5"/>
<line x1="419.1" y1="530.4" x2="419.1" y2="531.7" stroke="#555" stroke-width="0.5"/>
<text x="431.4" y="537.4" font-size="3.3" fill="#333">10</text>
<text x="435.1" y="535.4" font-size="2.6" fill="#333">3</text>
<line x1="453.5" y1="530.4" x2="453.5" y2="532.6" stroke="#444" stroke-width="0.7"/>
<line x1="452.6" y1="530.4" x2="452.6" y2="531.7" stroke="#555" stroke-width="0.5"/>
<line x1="451.5" y1="530.4" x2="451.5" y2="531.7" stroke="#555" stroke-width="0.5"/>
<line x1="450.4" y1="530.4" x2="450.4" y2="531.7" stroke="#555" stroke-width="0.5"/>
<line x1="449" y1="530.4" x2="449" y2="531.7" stroke="#555" stroke-width="0.5"/>
<line x1="447.4" y1="530.4" x2="447.4" y2="531.7" stroke="#555" stroke-width="0.5"/>
<line x1="445.4" y1="530.4" x2="445.4" y2="531.7" stroke="#555" stroke-width="0.5"/>
<line x1="442.9" y1="530.4" x2="442.9" y2="531.7" stroke="#555" stroke-width="0.5"/>
<line x1="439.4" y1="530.4" x2="439.4" y2="531.7" stroke="#555" stroke-width="0.5"/>
<text x="451.6" y="537.4" font-size="3.3" fill="#333">10</text>
<text x="455.3" y="535.4" font-size="2.6" fill="#333">4</text>
<text x="383.1" y="451.6" font-size="3.4" fill="#333">Q1</text>
<text x="462" y="451.6" font-size="3.4" text-anchor="end" fill="#333">Q2</text>
<text x="383.1" y="528.8" font-size="3.4" fill="#333">Q3</text>
<text x="462" y="528.8" font-size="3.4" text-anchor="end" fill="#333">Q4</text>
<rect x="79.8" y="552.7" width="82.5" height="83.6" fill="#fff" stroke="none" stroke-width="1"/>
<ellipse cx="95.5" cy="617.9" rx="12.4" ry="5.9" fill="url(#core)" fill-opacity="0.9" transform="rotate(-45 95.5 617.9)"/>
<g transform="translate(79.8 552.7) scale(0.08250 0.08360)"><path d="M233 762h9M229 834h9M127 759h9M155 778h9M102 787h9M250 677h9M151 783h9M108 820h9M19 887h9M230 753h9M289 696h9M322 684h9M119 832h9M451 627h9M151 816h9M240 792h9M339 727h9M309 686h9M103 810h9M44 889h9M75 916h9M73 869h9M318 685h9M292 715h9M239 703h9M164 762h9M207 744h9M41 882h9M320 744h9M168 792h9M189 759h9M227 767h9M165 834h9M44 926h9M162 806h9M130 847h9M242 734h9M189 683h9M151 794h9M231 823h9M131 817h9M228 768h9M180 767h9M222 765h9M235 710h9M96 974h9M206 705h9M160 717h9M59 871h9M231 780h9M169 787h9M242 678h9M187 826h9M306 659h9M271 770h9M180 837h9M135 785h9M222 693h9M102 780h9M187 743h9M235 719h9M205 831h9M198 770h9M139 859h9M68 792h9M151 834h9M222 783h9M90 843h9M161 792h9M208 787h9M132 810h9M152 808h9M234 731h9M267 751h9M173 801h9M55 859h9M177 825h9M249 706h9M339 679h9M123 849h9M95 877h9M27 882h9M146 813h9M166 851h9M258 688h9M294 696h9M138 853h9M69 893h9M162 750h9M259 689h9M116 882h9M241 734h9M199 728h9M90 776h9M203 718h9M261 714h9M99 833h9M148 773h9M187 780h9M312 645h9M166 831h9M90 846h9M176 740h9M113 791h9M124 778h9M412 564h9M270 704h9M149 789h9M266 718h9M208 725h9M217 704h9M386 616h9M195 705h9M54 905h9M193 759h9M306 619h9M202 758h9M152 798h9M270 620h9M237 673h9M229 777h9M128 811h9M133 773h9M90 872h9M71 804h9M104 830h9M27 889h9M75 902h9M214 785h9M173 802h9M91 846h9M142 794h9M203 795h9M148 792h9M286 754h9M212 718h9M168 763h9M233 785h9M282 730h9M110 775h9M263 680h9M147 807h9M157 751h9M203 749h9M16 981h9M89 919h9M142 807h9M224 706h9M282 749h9M285 704h9M183 827h9M230 697h9M154 729h9M203 786h9M224 720h9M231 735h9M354 664h9M28 868h9M291 549h9M80 882h9M178 776h9M71 881h9M140 877h9M196 771h9M165 807h9M236 774h9M260 713h9M270 777h9M264 734h9M132 872h9M43 886h9M209 731h9M81 901h9M209 758h9M248 725h9M96 800h9M234 738h9M45 834h9M227 775h9M164 721h9M203 725h9M236 733h9M90 836h9M193 823h9M190 731h9M181 757h9M286 610h9M226 816h9M167 820h9M176 832h9M205 810h9M153 816h9M261 761h9M123 837h9M137 848h9M204 694h9M134 883h9M260 717h9M153 810h9M100 905h9M165 787h9M161 832h9M230 678h9M100 818h9M108 862h9M150 832h9M191 726h9M205 792h9M203 732h9M153 783h9M76 852h9M214 752h9M175 760h9M67 814h9M230 699h9M42 855h9M161 878h9M293 757h9M187 792h9M346 580h9M191 757h9M99 878h9M221 710h9M105 816h9M152 785h9M138 842h9M327 750h9M313 658h9M175 816h9M121 842h9M226 770h9M142 834h9M216 772h9M225 751h9M75 830h9M67 828h9M292 581h9M32 921h9M218 713h9M46 934h9M260 717h9M121 804h9M218 739h9M182 796h9M218 786h9M205 728h9M259 676h9M172 731h9M73 848h9M290 657h9M208 718h9M401 640h9M94 860h9M65 880h9M244 735h9M282 696h9M128 781h9M138 811h9M83 789h9M66 893h9M127 840h9M254 686h9M231 693h9M198 770h9M242 773h9M256 724h9M143 790h9M181 793h9M213 726h9M359 659h9M101 882h9M138 757h9M249 739h9M215 730h9M118 810h9M138 768h9M282 723h9M134 777h9M273 634h9M280 689h9M195 825h9M316 662h9M48 857h9M259 692h9M219 755h9M251 754h9M136 804h9M142 809h9M199 756h9M246 685h9M70 810h9M197 737h9M175 833h9M265 687h9M177 689h9M124 875h9M149 732h9M200 819h9M61 838h9M153 787h9M131 792h9M147 820h9M185 796h9M107 844h9M282 700h9M180 749h9M140 759h9M88 754h9M186 799h9M209 755h9M122 814h9M115 807h9M225 757h9M329 667h9M259 735h9M89 841h9M230 777h9M234 726h9M184 777h9M58 925h9M112 804h9M151 803h9M25 867h9M132 803h9M276 757h9M87 888h9M169 735h9M176 799h9M132 795h9M190 719h9M218 740h9M100 840h9M128 829h9M94 780h9M150 797h9M304 693h9M120 884h9M160 852h9M193 764h9M336 636h9M233 724h9M223 764h9M154 814h9M269 697h9M168 803h9M233 782h9M117 845h9M260 692h9M189 811h9M113 789h9M205 754h9M77 844h9M147 810h9M34 900h9M317 608h9M37 966h9M221 711h9M191 723h9M204 791h9M25 946h9M123 859h9M241 647h9M237 742h9M137 728h9M142 780h9M52 923h9M264 682h9M290 653h9M239 687h9M97 821h9M181 779h9M205 789h9M137 837h9M170 759h9M145 808h9M138 873h9M173 807h9M124 880h9M184 799h9M114 845h9M335 690h9M187 743h9M142 741h9M75 959h9M201 743h9M208 711h9M82 857h9M246 761h9M156 769h9M199 734h9M225 725h9M143 803h9M49 850h9M169 793h9M360 554h9M296 624h9M113 810h9M285 688h9M173 772h9M230 723h9M139 736h9M196 771h9M53 858h9M327 661h9M233 753h9M148 793h9M166 775h9M89 860h9M80 900h9M50 961h9M248 753h9M150 764h9M261 639h9M310 698h9M102 854h9M102 797h9M105 810h9M252 677h9M221 741h9M228 693h9M71 886h9M166 695h9M145 797h9M81 958h9M105 785h9M61 867h9M200 807h9M163 785h9M297 647h9M225 785h9M67 864h9M194 732h9M185 744h9M243 753h9M242 765h9M124 823h9M208 772h9M231 754h9M307 749h9M187 747h9M186 767h9M216 767h9M275 700h9M211 785h9M260 678h9M172 803h9M106 867h9M106 887h9M138 741h9M133 888h9M150 834h9M229 748h9M156 867h9M71 901h9M186 765h9M106 837h9M155 750h9M149 859h9M136 892h9M197 867h9M224 710h9M360 608h9M201 790h9M32 859h9M238 794h9M62 852h9M234 676h9M218 722h9M137 838h9M248 744h9M227 707h9M150 853h9M96 869h9M359 645h9M226 655h9M217 746h9M251 706h9M160 785h9M163 823h9M90 857h9M265 749h9M242 732h9M291 644h9M143 917h9M291 633h9M161 782h9M157 803h9M158 833h9M57 808h9M160 825h9M114 847h9M158 795h9M131 777h9M26 839h9M289 663h9M131 833h9M179 701h9M202 787h9M141 811h9M94 806h9M43 912h9M64 821h9M148 784h9M200 782h9M254 666h9M249 738h9M217 736h9M315 665h9M203 831h9M148 756h9M167 774h9M336 652h9M209 761h9M82 870h9M176 763h9M254 725h9M263 762h9M189 786h9M223 741h9M181 828h9M89 832h9M163 810h9M180 729h9M186 783h9M114 854h9M85 832h9M130 812h9M165 802h9M229 701h9M359 602h9M131 799h9M271 750h9M281 612h9M95 885h9M253 660h9M33 880h9M139 806h9M104 848h9M57 845h9M193 838h9M135 824h9M27 899h9M75 846h9M311 654h9M191 770h9M31 843h9M190 716h9M204 727h9M212 738h9M98 824h9M218 772h9M290 681h9M234 746h9M212 702h9M172 741h9M152 705h9M168 836h9M181 745h9M165 754h9M78 867h9M157 788h9M150 823h9M219 784h9M125 859h9M229 726h9M271 715h9M357 632h9M227 803h9M238 685h9M172 798h9M110 787h9M87 851h9M288 688h9M122 835h9M280 648h9M25 856h9M240 712h9M237 804h9M154 742h9M243 697h9M221 792h9M219 808h9M119 723h9M380 568h9M252 710h9M69 864h9M172 774h9M161 774h9M148 736h9M95 866h9M117 790h9M164 775h9M72 815h9M283 695h9M114 815h9M140 838h9M246 711h9M191 799h9M95 791h9M289 702h9M156 794h9M208 682h9M300 622h9M134 827h9M146 761h9M163 746h9M175 785h9M302 693h9M306 621h9M271 739h9M134 822h9M202 707h9M133 754h9M168 798h9M205 734h9M146 787h9M248 808h9M131 824h9M240 721h9M45 884h9M127 829h9M227 797h9M202 708h9M195 798h9M100 817h9M102 850h9M246 691h9M306 738h9M175 761h9M195 772h9M220 723h9M133 829h9M203 696h9M169 810h9M138 828h9M241 731h9M295 700h9M305 722h9M204 721h9M183 745h9M73 852h9M97 805h9M92 843h9M108 828h9M215 805h9M237 705h9M211 689h9M234 701h9M270 783h9M99 821h9M172 736h9M128 792h9M239 762h9M147 797h9M61 819h9M63 820h9M79 893h9M235 727h9M226 698h9M98 854h9M99 856h9M73 856h9M222 782h9M192 774h9M146 861h9M204 751h9M190 791h9M80 801h9M223 737h9M292 663h9M207 781h9M23 918h9M323 628h9M93 867h9M217 716h9M147 857h9M204 759h9M216 779h9M175 794h9M176 721h9M160 780h9M250 714h9M243 741h9M302 639h9M325 635h9M171 809h9M55 895h9M93 908h9M87 914h9M113 848h9M249 693h9M305 652h9M177 805h9M70 822h9M185 710h9M212 780h9M332 666h9M317 638h9M167 813h9M167 800h9M93 853h9M231 688h9M121 890h9M116 787h9M139 783h9M92 869h9M279 656h9M175 816h9M261 726h9M151 844h9M253 760h9M268 599h9M259 685h9M33 917h9M214 765h9M249 662h9M214 749h9M120 895h9M202 693h9M133 824h9M64 878h9M383 553h9M161 778h9M356 609h9M59 871h9M203 830h9M178 797h9M256 772h9M176 720h9M168 754h9M53 872h9M200 746h9M102 850h9M80 880h9M78 861h9M220 778h9M124 917h9M114 835h9M68 891h9M154 817h9M270 682h9M133 812h9M72 794h9M367 606h9M70 979h9M201 755h9M143 789h9M270 728h9M120 857h9M238 725h9M181 810h9M253 717h9M142 755h9M174 795h9M125 783h9M304 682h9M134 795h9M161 786h9M204 762h9M189 785h9M224 797h9M227 771h9M108 820h9M34 853h9M127 838h9M151 854h9M261 714h9M281 708h9M221 719h9M221 686h9M187 784h9M297 707h9M121 833h9M326 588h9M221 761h9M214 734h9M274 733h9M91 824h9M102 810h9M73 855h9M307 667h9M159 833h9M111 837h9M316 682h9M167 792h9M155 827h9M197 779h9M144 840h9M147 814h9M30 832h9M250 806h9M47 934h9M264 776h9M184 745h9M121 810h9M349 612h9M139 741h9M184 779h9M61 889h9M134 750h9M97 841h9M399 591h9M179 725h9M183 770h9M139 881h9M243 808h9M232 782h9M238 636h9M128 849h9M277 677h9M105 776h9M111 893h9M178 807h9M240 649h9M197 721h9M233 702h9M138 777h9M112 839h9M185 757h9M62 845h9M111 804h9M204 804h9M279 721h9M125 834h9M94 828h9M142 788h9M224 697h9M226 780h9M126 841h9M270 710h9M264 736h9M153 824h9M327 659h9M67 851h9M132 795h9M182 805h9M266 765h9M201 827h9M162 797h9M281 682h9M154 875h9M278 641h9M313 712h9M165 765h9M138 725h9M154 766h9M261 720h9M78 802h9M250 735h9M272 690h9M67 906h9M136 792h9M183 769h9M205 826h9M247 706h9M163 810h9M174 820h9M190 778h9M242 768h9M169 752h9M91 909h9M127 705h9M233 718h9M65 951h9M347 668h9M262 742h9M171 806h9M185 776h9M318 728h9M149 812h9M231 671h9M194 774h9M92 888h9M214 766h9M338 592h9M48 895h9M292 620h9M98 898h9M212 732h9M44 837h9M163 767h9M183 807h9M213 777h9M237 790h9M163 789h9M136 797h9M177 824h9M136 813h9M190 750h9M165 692h9M48 860h9M51 913h9M208 758h9M196 823h9M225 678h9M164 710h9M146 819h9M80 910h9M156 831h9M166 912h9M125 771h9M158 762h9M283 741h9M220 746h9M242 699h9M324 728h9M120 862h9M201 802h9M269 714h9M125 864h9M212 787h9M212 774h9M130 786h9M227 771h9M162 844h9M139 815h9M159 753h9M196 786h9M94 852h9M180 868h9M276 699h9M267 726h9M127 808h9M191 773h9M160 738h9M278 639h9M121 731h9M343 646h9M120 872h9M123 885h9M308 663h9M243 697h9M221 727h9M216 794h9M320 705h9M30 867h9M346 608h9M202 765h9M200 847h9M276 689h9M330 685h9M193 836h9M103 900h9M181 790h9M205 756h9M179 749h9M88 884h9M189 770h9M77 946h9M266 754h9M60 977h9M252 750h9M84 928h9M101 839h9M64 905h9M330 581h9M174 722h9M128 776h9M191 761h9M119 871h9M250 785h9M168 774h9M294 703h9M265 736h9M210 717h9M164 798h9M57 884h9M230 660h9M114 856h9M25 887h9M44 866h9M89 818h9M166 783h9M233 734h9M151 790h9M335 642h9M185 756h9M228 779h9M257 695h9M117 801h9M167 786h9M152 772h9M153 832h9M316 743h9M168 799h9M261 697h9M115 820h9M151 806h9M93 849h9M148 779h9M107 879h9M156 808h9M201 728h9M233 708h9M274 706h9M104 847h9M117 832h9M155 730h9M174 780h9M184 733h9M189 809h9M310 700h9M139 813h9M22 903h9M175 766h9M108 843h9M364 660h9M190 701h9M106 838h9M96 839h9M324 650h9M239 719h9M151 824h9M132 833h9M486 580h9M265 646h9M195 790h9M68 869h9M183 768h9M259 681h9M187 770h9M200 812h9M72 832h9M211 830h9M207 811h9M118 748h9M136 824h9M229 711h9M215 712h9M175 724h9M94 887h9M58 876h9M189 777h9M165 792h9M222 763h9M41 949h9M211 792h9M151 758h9M205 729h9M203 756h9M117 772h9M254 716h9M330 595h9M132 799h9M198 714h9M312 588h9M221 715h9M306 681h9M226 735h9M403 660h9M241 749h9M135 804h9M225 848h9M142 753h9M15 928h9M120 837h9M131 732h9M251 721h9M158 824h9M136 827h9M212 734h9M262 757h9M166 797h9M107 782h9M194 792h9M145 774h9M138 832h9M230 694h9M129 916h9M147 819h9M205 774h9M316 663h9M232 754h9M257 796h9M33 959h9M172 807h9M137 760h9M96 809h9M191 728h9M52 878h9M229 777h9M108 854h9M196 694h9M110 926h9M144 836h9M138 803h9M203 764h9M269 741h9M361 624h9M181 660h9M190 744h9M118 907h9M166 840h9M166 787h9M198 781h9M148 730h9M244 717h9M113 785h9M187 761h9M132 840h9M202 733h9M74 883h9M65 979h9M205 756h9M185 802h9M131 881h9M146 811h9M206 709h9M229 694h9M132 815h9M372 559h9M173 782h9M155 702h9M232 722h9M164 779h9M260 712h9M84 891h9M262 826h9M230 730h9M48 927h9M60 859h9M34 868h9M148 775h9M314 707h9M201 701h9M271 699h9M262 720h9M239 773h9M157 786h9M137 885h9M248 701h9M153 741h9M126 850h9M156 768h9M171 784h9M355 580h9M80 849h9M145 860h9M124 829h9M214 754h9M211 726h9M30 877h9M137 891h9M322 675h9M62 849h9M157 835h9M161 782h9M133 762h9M124 865h9M68 961h9M117 833h9M234 701h9M283 715h9M70 811h9M21 921h9M350 674h9M193 801h9M150 793h9M244 718h9M176 782h9M118 803h9M125 822h9M188 774h9M111 845h9M261 648h9M185 714h9M215 749h9M235 648h9M215 679h9M145 734h9M174 784h9M124 792h9M229 772h9M87 862h9M144 843h9M153 839h9M330 655h9M196 823h9M219 769h9M249 813h9M171 791h9M184 796h9M175 773h9M175 797h9M97 834h9M245 770h9M216 720h9M26 961h9M69 838h9M142 792h9M91 842h9M369 634h9M195 745h9M35 978h9M204 688h9M175 765h9M169 844h9M248 687h9M266 645h9M191 833h9M130 807h9M62 864h9M143 805h9M68 834h9M193 758h9M285 735h9M227 738h9M192 763h9M125 851h9M113 821h9M109 887h9M298 640h9M176 767h9M158 783h9M109 960h9M167 789h9M237 734h9M167 798h9M235 725h9M206 719h9M230 763h9M167 789h9M258 690h9M130 772h9M154 774h9M82 894h9M229 736h9M200 776h9M99 806h9M129 769h9M111 843h9M108 893h9M188 777h9M154 761h9M161 867h9M135 849h9M132 799h9M159 835h9M222 790h9M210 733h9M123 795h9M283 672h9M124 846h9M268 659h9M117 824h9M134 852h9M93 824h9M199 733h9M57 825h9M195 770h9M217 762h9M183 752h9M152 770h9M110 812h9M101 843h9M215 727h9M166 813h9M208 773h9M66 853h9M170 765h9M81 827h9M95 898h9M305 659h9M240 735h9M117 826h9M203 758h9M100 744h9M182 855h9M61 878h9M186 779h9M214 725h9M115 848h9M136 798h9M266 710h9M136 859h9M227 712h9M47 914h9M28 922h9M97 870h9M215 718h9M202 745h9M89 834h9M98 855h9M105 832h9M110 799h9M200 782h9M161 850h9M252 681h9M366 682h9M112 832h9M145 831h9M65 812h9M186 779h9M218 810h9M59 861h9M114 829h9M78 883h9M226 780h9M39 938h9M214 695h9M99 895h9M204 737h9M149 840h9M68 889h9M224 700h9M241 692h9M190 694h9M83 823h9M166 786h9M102 839h9M264 703h9M129 852h9M213 706h9M262 777h9M180 775h9M157 800h9M223 741h9M160 780h9M278 683h9M212 686h9M167 774h9M72 864h9M111 915h9M239 631h9M140 864h9M228 740h9M232 722h9M144 867h9M243 741h9M125 814h9M230 792h9M49 868h9M252 708h9M208 817h9M139 727h9M253 654h9M228 741h9M201 751h9M195 735h9M288 663h9M247 684h9M274 694h9M175 790h9M81 913h9M123 864h9M260 692h9M222 771h9M199 791h9M134 819h9M114 821h9M310 640h9M319 636h9M264 662h9M179 726h9M33 952h9M52 863h9M106 857h9M214 763h9M159 799h9M214 808h9M263 729h9M230 817h9M146 737h9M145 801h9M188 756h9M246 683h9M55 885h9M216 825h9M97 815h9M241 764h9M177 818h9M253 720h9M185 798h9M250 689h9M231 805h9M123 851h9M175 788h9M125 727h9M41 970h9M151 844h9M283 664h9M137 815h9M61 912h9M68 873h9M227 749h9M291 668h9M221 726h9M397 583h9M118 866h9M302 659h9M41 922h9M156 822h9M164 799h9M181 810h9M318 628h9M183 794h9M220 757h9M237 772h9M106 974h9M186 793h9M99 861h9M246 696h9M86 835h9M303 600h9M209 761h9M21 963h9M229 732h9M259 780h9M245 772h9M295 676h9M102 811h9M193 774h9M152 818h9M285 718h9M172 786h9M206 763h9M179 734h9M179 706h9M136 761h9M215 726h9M177 870h9M81 937h9M223 845h9M263 764h9M58 870h9M213 743h9M185 719h9M108 834h9M86 830h9M172 853h9M60 894h9M151 758h9M270 701h9M148 895h9M206 805h9M240 722h9M214 709h9M190 774h9M227 722h9M324 679h9M209 787h9M255 708h9M109 887h9M288 748h9M141 791h9M60 839h9M200 789h9M277 715h9M148 796h9M203 690h9M172 719h9M30 840h9M271 710h9M117 864h9M222 762h9M251 657h9M67 832h9M252 687h9M146 791h9M124 821h9M169 828h9M50 872h9M310 597h9M281 738h9M62 896h9M124 832h9M212 790h9M135 849h9M265 734h9M327 719h9M110 810h9M347 677h9M287 762h9M120 852h9M184 779h9M288 637h9M209 748h9M55 958h9M203 679h9M179 805h9M159 868h9M102 800h9M232 762h9M270 728h9M135 843h9M151 890h9M307 694h9M240 726h9M210 751h9M159 767h9M199 741h9M49 909h9M277 677h9M225 763h9M154 770h9M247 687h9M278 706h9M209 779h9M191 724h9M147 863h9M199 749h9M303 651h9M229 747h9M290 733h9M204 702h9M85 904h9M252 707h9M193 806h9M101 826h9M123 815h9M64 875h9M188 771h9M112 822h9M301 754h9M299 674h9M144 817h9M213 824h9M130 866h9M133 854h9M98 799h9M275 697h9M283 698h9M262 695h9M187 710h9M187 781h9M218 785h9M193 801h9M129 812h9M122 825h9M263 755h9M66 887h9M49 945h9M150 743h9M137 810h9M184 752h9M144 845h9M286 686h9M234 704h9M58 848h9M161 789h9M333 655h9M380 622h9M118 780h9M183 794h9M153 844h9M300 688h9M85 856h9M346 637h9M119 786h9M133 863h9M203 761h9M239 733h9M127 838h9M153 839h9M258 727h9M83 886h9M231 723h9M70 866h9M125 863h9M173 774h9M92 912h9M282 711h9M358 628h9M209 756h9M259 706h9M316 619h9M183 727h9M144 793h9M158 705h9M196 798h9M148 730h9M184 741h9M153 818h9M120 806h9M300 722h9M65 833h9M260 712h9M57 976h9M89 850h9M83 837h9M239 719h9M263 715h9M184 800h9M122 900h9M99 780h9M81 877h9M50 874h9M17 869h9M152 793h9M227 669h9M333 670h9M223 750h9M154 758h9M62 832h9M228 740h9M194 770h9M48 916h9M61 960h9M206 781h9M107 758h9M139 784h9M233 779h9M26 910h9M167 755h9M260 675h9M95 824h9M190 737h9M22 919h9M115 867h9M235 760h9M304 748h9M301 651h9M230 764h9M185 749h9M74 960h9M139 823h9M95 832h9M41 933h9M244 778h9M225 819h9M189 755h9M71 907h9M247 666h9M115 868h9M94 854h9M115 808h9M174 834h9M76 847h9M236 756h9M235 763h9M118 803h9M25 960h9M151 827h9M32 871h9M126 809h9M266 688h9M106 792h9M104 819h9M142 820h9M194 798h9M235 767h9M266 725h9M94 884h9M66 850h9M24 931h9M222 732h9M131 785h9M180 756h9M162 782h9M110 950h9M230 696h9M124 833h9M76 900h9M265 613h9M158 811h9M57 853h9M184 821h9M289 656h9M422 629h9M190 791h9M188 852h9M164 783h9M212 701h9M212 768h9M197 738h9M52 958h9M124 871h9M183 766h9M193 754h9M113 858h9M288 698h9M101 775h9M102 855h9M194 711h9M221 716h9M210 751h9M335 677h9M235 728h9M204 837h9M179 752h9M257 706h9M117 820h9M69 895h9M153 885h9M207 730h9M185 846h9M345 662h9M158 810h9M204 707h9M284 711h9M190 712h9M140 862h9M81 837h9M115 853h9M202 734h9M187 795h9M157 755h9M221 701h9M269 779h9M173 802h9M242 727h9M98 874h9M74 820h9M117 851h9M304 656h9M152 732h9M190 697h9M268 729h9M180 768h9M168 846h9M240 740h9M113 891h9M164 765h9M142 813h9M149 843h9M117 862h9M261 638h9M207 759h9M96 888h9M187 824h9M173 758h9M245 738h9M148 800h9M226 667h9M180 722h9M66 791h9M233 728h9M99 913h9M215 707h9M254 740h9M156 840h9M33 877h9M91 863h9M176 812h9M173 791h9M134 829h9M429 587h9M250 666h9M144 747h9M284 754h9M46 921h9M174 762h9M293 647h9M92 785h9M256 669h9M131 803h9M169 766h9M271 683h9M153 776h9M160 824h9M27 944h9M238 719h9M102 849h9M120 841h9M189 728h9M57 871h9M221 809h9M187 745h9M193 848h9M178 740h9M130 874h9M176 732h9M304 716h9M224 670h9M98 867h9M247 725h9M161 818h9M241 760h9M249 703h9M373 620h9M31 923h9M189 715h9M216 783h9M79 848h9M177 768h9M42 852h9M65 866h9M195 731h9M261 732h9M275 691h9M222 766h9M189 814h9M181 800h9M167 804h9M105 840h9M49 905h9M300 648h9M224 777h9M146 880h9M103 957h9M131 744h9M300 689h9M286 701h9M216 776h9M41 917h9M150 781h9M162 799h9M204 818h9M57 942h9M207 720h9M235 767h9M106 770h9M154 760h9M276 622h9M126 867h9M191 803h9M202 748h9M122 881h9M127 873h9M180 765h9M155 850h9M105 831h9M240 694h9M251 740h9M106 843h9M41 886h9M80 902h9M178 750h9M242 755h9M244 700h9M157 802h9M162 734h9M182 775h9M248 666h9M66 852h9M120 880h9M137 777h9M204 672h9M210 694h9M182 805h9M198 759h9M187 775h9M99 795h9M143 864h9M233 676h9M204 746h9M131 729h9M244 693h9M180 760h9M224 717h9M206 748h9M146 783h9M236 710h9M111 924h9M281 743h9M92 836h9M173 773h9M191 755h9M98 881h9M187 796h9M112 829h9M121 848h9M186 760h9M58 917h9M249 707h9M115 848h9M173 844h9M46 941h9M177 776h9M302 651h9M291 669h9M311 721h9M189 748h9M168 814h9M110 862h9M142 821h9M63 943h9M132 822h9M166 844h9M149 855h9M179 792h9M222 780h9M338 669h9M101 888h9M266 684h9M179 753h9M273 723h9M188 781h9M178 801h9M341 687h9M156 775h9M137 868h9M141 843h9M183 750h9M299 686h9M375 611h9M203 757h9M38 924h9M83 806h9M44 858h9M86 834h9M272 718h9M115 810h9M72 869h9M187 810h9M131 809h9M297 605h9M225 722h9M128 829h9M288 684h9M46 910h9M152 803h9M174 773h9M98 788h9M66 873h9M132 824h9M82 847h9M349 685h9M290 679h9M151 840h9M244 684h9M96 901h9M142 777h9M226 783h9M130 769h9M232 765h9M167 772h9M37 956h9M304 671h9M228 762h9M139 768h9M93 847h9M98 858h9M162 762h9M180 726h9M190 717h9M139 840h9M172 803h9M153 815h9M55 871h9M87 781h9M158 747h9M180 781h9M61 886h9M213 799h9M162 712h9M343 644h9M91 830h9M278 727h9M34 869h9M236 747h9M170 809h9M258 708h9M154 786h9M52 915h9M267 761h9M246 788h9M287 644h9M105 802h9M250 686h9M212 781h9M246 719h9M317 628h9M87 901h9M112 816h9M255 745h9M112 818h9M91 904h9M96 852h9M100 853h9M201 840h9M227 740h9M116 815h9M204 790h9M192 853h9M168 854h9M189 823h9M265 696h9M154 829h9M180 791h9M40 842h9M65 899h9M255 696h9M260 731h9M104 836h9M235 676h9M63 886h9M55 856h9M139 831h9M23 968h9M195 722h9M224 786h9M107 786h9M176 783h9M172 762h9M280 634h9M138 821h9M78 852h9M94 850h9M201 801h9M284 656h9M185 810h9M219 702h9M127 800h9M129 882h9M224 731h9M258 701h9M184 908h9M49 788h9M173 729h9M396 588h9M207 732h9M157 865h9M254 694h9M186 821h9M65 844h9M202 754h9M71 899h9M173 817h9M107 883h9M189 735h9M50 875h9M276 741h9M99 922h9M281 677h9M190 821h9M150 822h9M199 761h9M218 806h9M194 816h9M335 686h9M234 724h9M174 725h9M241 679h9M105 871h9M341 659h9M163 789h9M263 737h9M210 818h9M136 846h9M297 636h9M227 706h9M175 797h9M35 924h9M98 871h9M215 764h9M388 611h9M186 788h9M127 812h9M147 825h9M241 769h9M226 693h9M190 796h9M75 797h9M149 780h9M133 833h9M134 832h9M178 768h9M168 778h9M126 817h9M202 717h9M122 793h9M237 692h9M262 749h9M153 822h9M136 867h9M150 833h9M133 846h9M209 816h9M29 919h9M173 780h9M70 786h9M230 753h9M346 713h9M174 820h9M190 771h9M82 899h9M152 856h9M129 816h9M166 753h9M239 725h9M87 852h9M222 813h9M181 702h9M93 840h9M79 850h9M97 847h9M122 839h9M223 712h9M84 833h9M74 884h9M201 790h9M209 887h9M185 738h9M246 766h9M124 824h9M169 754h9M334 639h9M24 903h9M148 863h9M140 830h9M215 762h9M60 896h9M280 673h9M201 814h9M205 814h9M132 930h9M58 870h9M119 834h9M160 791h9M122 852h9M246 735h9M37 831h9M319 688h9M98 827h9M73 778h9M228 699h9M211 760h9M159 796h9M198 801h9M118 799h9M105 822h9M25 876h9M179 761h9M178 837h9M176 817h9M314 684h9M104 904h9M281 701h9M261 730h9M123 768h9M305 676h9M159 765h9M148 867h9M89 821h9M116 865h9M185 798h9M173 798h9M118 854h9M111 819h9M209 779h9M276 688h9M300 663h9M167 796h9M163 733h9M177 779h9M152 807h9M45 877h9M191 747h9M357 657h9M348 602h9M129 845h9M239 758h9M212 698h9M89 829h9M61 890h9M183 790h9M221 765h9M218 780h9M300 696h9M31 845h9M158 815h9M198 827h9M111 823h9M239 726h9M209 755h9M233 702h9M95 848h9M199 721h9M188 726h9M256 721h9M184 825h9M65 852h9M439 617h9M128 802h9M141 771h9M281 669h9M142 808h9M147 775h9M85 842h9M222 764h9M446 524h9M279 711h9M250 734h9M70 816h9M88 886h9M278 707h9M122 877h9M140 844h9M174 800h9M26 886h9M271 675h9M224 681h9M112 855h9M286 721h9M128 797h9M224 753h9M296 688h9M171 793h9M114 884h9M266 692h9M196 763h9M78 841h9M149 768h9M140 855h9M162 801h9M191 711h9M217 712h9M212 680h9M135 849h9M242 677h9M194 807h9M242 689h9M310 685h9M160 782h9M198 875h9M181 773h9M228 745h9M138 906h9M37 970h9M28 873h9M259 766h9M132 769h9M68 882h9M251 698h9M55 855h9M214 768h9M96 820h9M144 822h9M181 796h9M172 795h9M181 781h9M331 624h9M125 813h9M217 693h9M312 656h9M20 853h9M374 668h9M85 900h9M341 679h9M283 727h9M313 708h9M168 743h9M188 787h9M142 805h9M38 873h9M192 759h9M177 794h9M127 702h9M206 709h9M82 825h9M184 775h9M227 773h9M69 910h9M38 936h9M144 835h9M319 602h9M236 737h9M149 789h9M165 799h9M171 838h9M243 762h9M399 617h9M178 834h9M27 901h9M191 697h9M160 763h9M168 785h9M211 707h9M249 615h9M57 907h9M67 854h9M130 857h9M197 750h9M147 736h9M142 842h9M207 832h9M140 826h9M263 704h9M131 750h9M232 765h9M181 809h9M165 810h9M213 776h9M114 844h9M91 884h9M133 843h9M298 663h9M172 771h9M235 717h9M183 761h9M43 870h9M151 800h9M260 689h9M235 725h9M243 840h9M109 806h9M99 817h9M213 804h9M206 784h9M227 766h9M226 693h9M296 713h9M186 731h9M267 737h9M144 809h9M70 864h9M210 721h9M185 739h9M223 776h9M304 842h9M259 709h9M364 707h9M311 719h9M246 873h9M341 616h9M336 692h9M287 677h9M267 680h9M138 759h9M184 755h9M314 625h9M354 673h9M381 542h9M336 633h9M318 644h9M204 854h9M371 658h9M353 592h9M195 869h9M141 755h9M382 605h9M286 668h9M240 790h9M202 701h9M217 756h9M176 744h9M244 659h9M309 784h9M242 687h9M350 602h9M421 628h9M429 581h9M427 616h9M277 660h9M218 716h9M178 878h9M230 763h9M301 712h9M382 601h9M285 600h9M222 720h9M378 582h9M287 672h9M293 684h9M294 715h9M334 547h9M329 744h9M399 561h9M313 645h9M347 663h9M264 637h9M291 701h9M332 745h9M318 664h9M232 755h9M244 633h9M319 743h9M337 570h9M329 619h9M303 725h9M416 617h9M256 734h9M220 683h9M177 696h9M215 717h9M296 823h9M277 631h9M131 717h9M126 678h9M282 636h9M508 498h9M301 749h9M307 655h9M243 893h9M210 680h9M328 660h9M267 646h9M316 642h9M353 762h9M277 764h9M382 732h9M283 684h9M147 828h9M158 801h9M224 737h9M135 733h9M307 733h9M181 775h9M231 764h9M194 584h9M250 683h9M356 740h9M228 634h9M205 556h9M383 707h9M203 732h9M440 647h9M218 842h9M247 758h9M158 794h9M442 567h9M198 746h9M312 549h9M244 796h9M259 783h9M372 681h9M299 739h9M302 541h9M281 707h9M389 709h9M236 798h9M212 639h9M358 778h9M163 880h9M212 765h9M264 632h9M317 779h9M276 720h9M409 613h9M363 721h9M265 887h9M176 706h9M327 803h9M268 671h9M216 724h9M260 634h9M303 723h9M322 672h9M130 764h9M358 721h9M290 739h9M339 659h9M356 710h9M221 683h9M201 780h9M290 645h9M243 790h9M300 632h9M404 642h9M284 585h9M296 812h9M393 609h9M184 717h9M311 598h9M400 677h9M108 652h9M263 667h9M394 665h9M294 605h9M402 719h9M252 657h9M191 622h9M303 873h9M377 667h9M378 681h9M133 968h9M280 649h9M454 624h9M128 895h9M397 634h9M227 698h9M217 729h9M273 807h9M223 745h9M139 842h9M193 721h9M454 564h9M286 616h9M185 865h9M202 674h9M162 768h9M205 861h9M377 747h9M287 618h9M293 634h9M248 747h9M286 640h9M293 549h9M230 675h9M465 542h9M253 640h9M232 707h9M300 610h9M319 654h9M224 618h9M136 780h9M308 736h9M84 902h9M237 754h9M305 612h9M291 768h9M283 819h9M308 744h9M306 687h9M337 700h9M359 638h9M327 751h9M480 537h9M402 624h9M317 533h9M338 638h9M182 891h9M251 644h9M208 706h9M267 718h9M296 714h9M373 621h9M354 681h9M488 504h9M276 745h9M230 769h9M324 619h9M312 774h9M381 752h9M342 834h9M371 624h9M331 826h9M274 645h9M356 486h9M201 858h9M226 703h9M314 672h9M108 883h9M269 699h9M250 798h9M304 648h9M212 775h9M445 615h9M343 649h9M401 816h9M335 628h9M358 695h9M197 698h9M440 521h9M443 523h9M66 851h9M269 712h9M366 691h9M281 747h9M353 697h9M276 868h9M289 701h9M61 746h9M233 689h9M255 816h9M267 581h9M364 671h9M131 851h9M261 620h9M730 759h9M746 706h9M567 568h9M674 698h9M605 654h9M788 617h9M575 859h9M543 760h9M380 717h9M669 810h9M530 729h9M373 836h9M550 730h9M602 461h9M474 498h9M515 788h9M414 576h9M455 703h9M635 736h9M718 501h9M505 822h9M661 605h9M747 704h9M601 601h9M660 818h9M573 499h9M608 879h9M672 716h9M645 612h9M577 857h9M630 691h9M761 962h9M436 594h9M768 804h9M583 591h9M523 735h9M632 692h9M660 907h9M573 803h9M439 761h9M795 599h9M564 620h9M744 402h9M707 678h9M774 589h9M614 730h9M526 817h9M816 534h9M502 792h9M513 663h9M589 704h9M614 709h9M513 726h9M794 639h9M448 870h9M793 625h9M631 477h9M579 659h9M535 629h9M403 841h9M373 895h9M490 763h9M688 743h9M707 560h9M711 620h9M581 920h9M633 800h9M640 557h9M631 750h9M493 608h9M772 649h9M627 693h9M655 648h9M539 616h9M668 689h9M589 746h9M676 592h9M517 715h9M527 789h9M515 697h9M279 566h9M594 749h9M688 798h9M635 766h9M744 450h9M579 834h9M665 652h9M535 841h9M574 674h9M512 717h9M352 661h9M479 724h9M575 544h9M686 728h9M628 485h9M483 654h9M522 726h9M563 522h9M536 768h9M631 882h9M887 778h9M479 679h9M819 805h9M642 574h9M552 561h9M582 681h9M378 915h9M596 675h9M733 909h9M723 722h9M686 760h9M483 686h9M806 514h9M685 794h9M497 745h9M623 647h9M479 527h9M427 816h9M729 726h9M410 907h9M665 619h9M479 795h9M659 547h9M404 752h9M501 851h9M754 722h9M578 598h9M519 721h9M824 571h9M437 800h9M359 732h9M481 624h9M797 852h9M572 775h9M607 807h9M499 770h9M509 788h9M460 691h9M688 732h9M551 656h9M702 779h9M602 744h9M719 854h9M574 679h9M692 578h9M565 790h9M487 689h9M568 621h9M644 654h9M574 804h9M600 546h9M521 696h9M703 609h9M639 458h9M581 738h9M547 909h9M912 599h9M570 955h9M752 647h9M678 511h9M338 275h9M517 214h9M881 256h9M833 283h9M888 309h9M903 337h9M627 301h9M517 255h9M705 253h9M641 309h9M654 285h9M516 306h9M687 222h9M493 288h9M707 287h9M754 267h9M554 304h9M590 326h9M520 290h9M630 288h9M579 306h9M692 191h9M613 299h9M848 265h9M629 266h9M501 246h9M557 308h9M745 326h9M830 258h9M493 289h9M720 312h9M682 342h9M827 319h9M758 226h9M601 251h9M551 314h9M759 348h9M618 231h9M454 309h9M526 245h9M637 259h9M553 309h9M820 287h9M558 306h9M817 326h9M660 221h9M604 230h9M731 243h9M543 244h9M639 292h9M778 271h9M612 256h9M458 361h9M378 272h9M651 315h9M607 270h9M656 296h9M675 180h9M905 326h9M757 150h9M813 276h9M890 246h9M514 310h9M502 280h9M649 297h9M914 273h9M691 286h9M773 326h9M825 230h9M816 246h9M531 297h9M774 221h9M771 223h9M682 177h9M759 273h9M563 355h9M654 312h9M786 228h9M630 245h9M759 269h9M764 305h9M397 261h9M829 263h9M557 228h9M604 348h9M733 232h9M698 296h9M776 218h9M706 311h9M443 288h9M709 308h9M451 274h9M693 255h9M501 291h9M454 258h9M773 231h9M707 229h9M679 284h9M643 277h9M616 237h9M588 286h9M528 285h9M823 257h9M334 292h9M974 192h9M787 293h9M715 270h9M813 202h9M937 278h9M681 280h9M769 310h9M610 261h9M961 234h9M621 304h9M532 250h9M812 257h9M721 325h9M691 264h9M673 307h9M550 223h9M571 296h9M472 262h9M645 301h9M776 251h9M871 312h9M448 331h9M696 264h9M532 279h9M630 221h9M726 284h9M615 331h9M806 257h9M682 294h9M959 315h9M732 249h9M768 317h9M934 207h9M670 300h9M548 267h9M468 281h9M582 215h9M700 278h9M388 205h9M549 296h9M621 263h9M680 302h9M776 214h9M683 289h9M731 345h9M583 259h9M874 261h9M892 263h9M642 287h9M576 269h9M500 287h9M395 215h9M641 308h9M807 271h9M804 312h9M952 223h9M631 330h9M522 248h9M788 277h9M685 237h9M441 354h9M466 318h9M442 324h9M801 245h9M705 296h9M420 259h9M433 275h9M593 315h9M684 347h9M657 305h9M588 246h9M785 304h9M552 316h9M639 313h9M583 293h9M568 218h9M502 243h9M797 289h9M650 170h9M703 242h9M738 297h9M665 311h9M720 169h9M618 221h9M632 231h9M573 281h9M550 260h9M558 277h9M784 296h9M391 237h9M519 288h9M885 271h9M736 266h9M804 396h9M578 238h9M879 246h9M748 273h9M582 234h9M493 268h9M391 286h9M673 307h9M812 322h9M636 238h9M735 299h9M818 173h9M792 244h9M848 183h9M609 229h9M572 220h9M545 231h9M696 308h9M804 287h9M640 250h9M672 285h9M580 321h9M784 258h9M578 267h9M865 244h9M583 228h9M665 376h9M468 272h9M558 329h9M873 293h9M795 299h9M620 269h9M682 264h9M730 211h9M704 315h9M501 252h9M768 270h9M491 276h9M663 206h9M614 281h9M457 272h9M559 319h9M666 317h9M762 285h9M547 237h9M896 259h9M685 322h9M543 304h9M575 361h9M584 199h9M729 242h9M742 293h9M654 231h9M880 247h9M693 278h9M739 237h9M466 261h9M661 246h9M866 279h9M919 311h9M546 247h9M515 270h9M358 288h9M740 275h9M683 255h9M497 298h9M790 304h9M547 210h9M543 241h9M848 276h9M507 318h9M976 317h9M589 340h9M750 231h9M469 355h9M619 234h9M786 243h9M847 343h9M491 306h9M672 237h9M674 275h9M620 253h9M555 230h9M722 248h9M581 250h9M488 319h9M577 256h9M791 298h9M694 295h9M729 256h9M696 309h9M605 321h9M790 247h9M688 250h9M612 291h9M564 277h9M660 273h9M628 272h9M427 265h9M767 312h9M386 267h9M680 234h9M847 271h9M612 293h9M674 294h9M708 232h9M749 225h9M698 292h9M641 251h9M607 268h9M635 311h9M646 267h9M655 150h9M891 277h9M462 257h9M674 274h9M674 319h9M872 293h9M605 275h9M458 281h9M635 342h9M746 304h9M696 240h9M617 251h9M549 251h9M896 254h9M246 259h9M617 221h9M632 287h9M815 274h9M895 325h9M387 336h9M614 293h9M482 270h9M759 236h9M873 338h9M673 297h9M681 225h9M614 213h9M630 326h9M750 282h9M474 251h9M651 265h9M486 228h9M478 315h9M547 303h9M724 240h9M585 306h9M746 341h9M608 305h9M823 270h9M724 233h9M816 296h9M889 316h9M470 322h9M675 299h9M675 262h9M663 282h9M673 250h9M724 205h9M506 318h9M816 330h9M806 296h9M770 232h9M768 297h9M880 291h9M739 244h9M696 398h9M763 268h9M561 260h9M783 284h9M900 276h9M130 721h9M829 415h9M791 625h9M147 124h9M543 623h9M916 415h9M251 346h9M451 391h9M82 110h9M510 583h9M683 68h9M699 389h9M440 444h9M348 249h9M882 516h9M282 59h9M35 872h9M779 451h9M442 261h9M493 612h9M220 394h9M734 707h9M75 170h9M636 275h9M476 165h9M198 85h9M52 698h9M232 715h9M198 943h9M245 543h9M711 153h9M72 477h9M294 832h9M67 132h9M137 201h9M87 218h9M812 556h9M443 223h9M181 126h9M810 842h9" stroke="#e2281f" stroke-width="9.5" stroke-opacity="0.42" fill="none"/></g>
<line x1="115.6" y1="552.7" x2="115.6" y2="636.3" stroke="#5a5a5a" stroke-width="0.85"/>
<line x1="79.8" y1="594.7" x2="162.3" y2="594.7" stroke="#5a5a5a" stroke-width="0.85"/>
<rect x="79.8" y="552.7" width="82.5" height="83.6" fill="none" stroke="#858585" stroke-width="0.85"/>
<line x1="77.6" y1="561.9" x2="79.8" y2="561.9" stroke="#444" stroke-width="0.7"/>
<line x1="78.5" y1="562.8" x2="79.8" y2="562.8" stroke="#555" stroke-width="0.5"/>
<line x1="78.5" y1="563.9" x2="79.8" y2="563.9" stroke="#555" stroke-width="0.5"/>
<line x1="78.5" y1="565.1" x2="79.8" y2="565.1" stroke="#555" stroke-width="0.5"/>
<line x1="78.5" y1="566.4" x2="79.8" y2="566.4" stroke="#555" stroke-width="0.5"/>
<line x1="78.5" y1="568.1" x2="79.8" y2="568.1" stroke="#555" stroke-width="0.5"/>
<line x1="78.5" y1="570" x2="79.8" y2="570" stroke="#555" stroke-width="0.5"/>
<line x1="78.5" y1="572.6" x2="79.8" y2="572.6" stroke="#555" stroke-width="0.5"/>
<line x1="78.5" y1="576.2" x2="79.8" y2="576.2" stroke="#555" stroke-width="0.5"/>
<text x="77.2" y="563.3" font-size="3.3" text-anchor="end" fill="#333">10</text>
<text x="73.6" y="560.7" font-size="2.6" text-anchor="end" fill="#333">4</text>
<line x1="77.6" y1="582.4" x2="79.8" y2="582.4" stroke="#444" stroke-width="0.7"/>
<line x1="78.5" y1="583.3" x2="79.8" y2="583.3" stroke="#555" stroke-width="0.5"/>
<line x1="78.5" y1="584.4" x2="79.8" y2="584.4" stroke="#555" stroke-width="0.5"/>
<line x1="78.5" y1="585.6" x2="79.8" y2="585.6" stroke="#555" stroke-width="0.5"/>
<line x1="78.5" y1="586.9" x2="79.8" y2="586.9" stroke="#555" stroke-width="0.5"/>
<line x1="78.5" y1="588.5" x2="79.8" y2="588.5" stroke="#555" stroke-width="0.5"/>
<line x1="78.5" y1="590.5" x2="79.8" y2="590.5" stroke="#555" stroke-width="0.5"/>
<line x1="78.5" y1="593.1" x2="79.8" y2="593.1" stroke="#555" stroke-width="0.5"/>
<line x1="78.5" y1="596.7" x2="79.8" y2="596.7" stroke="#555" stroke-width="0.5"/>
<text x="77.2" y="583.8" font-size="3.3" text-anchor="end" fill="#333">10</text>
<text x="73.6" y="581.2" font-size="2.6" text-anchor="end" fill="#333">3</text>
<line x1="77.6" y1="602.9" x2="79.8" y2="602.9" stroke="#444" stroke-width="0.7"/>
<line x1="78.5" y1="603.8" x2="79.8" y2="603.8" stroke="#555" stroke-width="0.5"/>
<line x1="78.5" y1="604.8" x2="79.8" y2="604.8" stroke="#555" stroke-width="0.5"/>
<line x1="78.5" y1="606" x2="79.8" y2="606" stroke="#555" stroke-width="0.5"/>
<line x1="78.5" y1="607.4" x2="79.8" y2="607.4" stroke="#555" stroke-width="0.5"/>
<line x1="78.5" y1="609" x2="79.8" y2="609" stroke="#555" stroke-width="0.5"/>
<line x1="78.5" y1="611" x2="79.8" y2="611" stroke="#555" stroke-width="0.5"/>
<line x1="78.5" y1="613.6" x2="79.8" y2="613.6" stroke="#555" stroke-width="0.5"/>
<line x1="78.5" y1="617.2" x2="79.8" y2="617.2" stroke="#555" stroke-width="0.5"/>
<text x="77.2" y="604.3" font-size="3.3" text-anchor="end" fill="#333">10</text>
<text x="73.6" y="601.7" font-size="2.6" text-anchor="end" fill="#333">2</text>
<line x1="77.6" y1="623.3" x2="79.8" y2="623.3" stroke="#444" stroke-width="0.7"/>
<line x1="78.5" y1="624.3" x2="79.8" y2="624.3" stroke="#555" stroke-width="0.5"/>
<line x1="78.5" y1="625.3" x2="79.8" y2="625.3" stroke="#555" stroke-width="0.5"/>
<line x1="78.5" y1="626.5" x2="79.8" y2="626.5" stroke="#555" stroke-width="0.5"/>
<line x1="78.5" y1="627.9" x2="79.8" y2="627.9" stroke="#555" stroke-width="0.5"/>
<line x1="78.5" y1="629.5" x2="79.8" y2="629.5" stroke="#555" stroke-width="0.5"/>
<line x1="78.5" y1="631.5" x2="79.8" y2="631.5" stroke="#555" stroke-width="0.5"/>
<line x1="78.5" y1="634.1" x2="79.8" y2="634.1" stroke="#555" stroke-width="0.5"/>
<text x="77.2" y="624.7" font-size="3.3" text-anchor="end" fill="#333">10</text>
<text x="73.6" y="622.1" font-size="2.6" text-anchor="end" fill="#333">1</text>
<line x1="91.3" y1="636.3" x2="91.3" y2="638.5" stroke="#444" stroke-width="0.7"/>
<line x1="90.4" y1="636.3" x2="90.4" y2="637.6" stroke="#555" stroke-width="0.5"/>
<line x1="89.4" y1="636.3" x2="89.4" y2="637.6" stroke="#555" stroke-width="0.5"/>
<line x1="88.2" y1="636.3" x2="88.2" y2="637.6" stroke="#555" stroke-width="0.5"/>
<line x1="86.9" y1="636.3" x2="86.9" y2="637.6" stroke="#555" stroke-width="0.5"/>
<line x1="85.3" y1="636.3" x2="85.3" y2="637.6" stroke="#555" stroke-width="0.5"/>
<line x1="83.3" y1="636.3" x2="83.3" y2="637.6" stroke="#555" stroke-width="0.5"/>
<line x1="80.8" y1="636.3" x2="80.8" y2="637.6" stroke="#555" stroke-width="0.5"/>
<text x="89.4" y="643.3" font-size="3.3" fill="#333">10</text>
<text x="93.1" y="641.3" font-size="2.6" fill="#333">1</text>
<line x1="111.6" y1="636.3" x2="111.6" y2="638.5" stroke="#444" stroke-width="0.7"/>
<line x1="110.6" y1="636.3" x2="110.6" y2="637.6" stroke="#555" stroke-width="0.5"/>
<line x1="109.6" y1="636.3" x2="109.6" y2="637.6" stroke="#555" stroke-width="0.5"/>
<line x1="108.4" y1="636.3" x2="108.4" y2="637.6" stroke="#555" stroke-width="0.5"/>
<line x1="107.1" y1="636.3" x2="107.1" y2="637.6" stroke="#555" stroke-width="0.5"/>
<line x1="105.5" y1="636.3" x2="105.5" y2="637.6" stroke="#555" stroke-width="0.5"/>
<line x1="103.5" y1="636.3" x2="103.5" y2="637.6" stroke="#555" stroke-width="0.5"/>
<line x1="101" y1="636.3" x2="101" y2="637.6" stroke="#555" stroke-width="0.5"/>
<line x1="97.4" y1="636.3" x2="97.4" y2="637.6" stroke="#555" stroke-width="0.5"/>
<text x="109.7" y="643.3" font-size="3.3" fill="#333">10</text>
<text x="113.4" y="641.3" font-size="2.6" fill="#333">2</text>
<line x1="131.8" y1="636.3" x2="131.8" y2="638.5" stroke="#444" stroke-width="0.7"/>
<line x1="130.9" y1="636.3" x2="130.9" y2="637.6" stroke="#555" stroke-width="0.5"/>
<line x1="129.8" y1="636.3" x2="129.8" y2="637.6" stroke="#555" stroke-width="0.5"/>
<line x1="128.6" y1="636.3" x2="128.6" y2="637.6" stroke="#555" stroke-width="0.5"/>
<line x1="127.3" y1="636.3" x2="127.3" y2="637.6" stroke="#555" stroke-width="0.5"/>
<line x1="125.7" y1="636.3" x2="125.7" y2="637.6" stroke="#555" stroke-width="0.5"/>
<line x1="123.7" y1="636.3" x2="123.7" y2="637.6" stroke="#555" stroke-width="0.5"/>
<line x1="121.2" y1="636.3" x2="121.2" y2="637.6" stroke="#555" stroke-width="0.5"/>
<line x1="117.6" y1="636.3" x2="117.6" y2="637.6" stroke="#555" stroke-width="0.5"/>
<text x="129.9" y="643.3" font-size="3.3" fill="#333">10</text>
<text x="133.6" y="641.3" font-size="2.6" fill="#333">3</text>
<line x1="152" y1="636.3" x2="152" y2="638.5" stroke="#444" stroke-width="0.7"/>
<line x1="151.1" y1="636.3" x2="151.1" y2="637.6" stroke="#555" stroke-width="0.5"/>
<line x1="150" y1="636.3" x2="150" y2="637.6" stroke="#555" stroke-width="0.5"/>
<line x1="148.9" y1="636.3" x2="148.9" y2="637.6" stroke="#555" stroke-width="0.5"/>
<line x1="147.5" y1="636.3" x2="147.5" y2="637.6" stroke="#555" stroke-width="0.5"/>
<line x1="145.9" y1="636.3" x2="145.9" y2="637.6" stroke="#555" stroke-width="0.5"/>
<line x1="143.9" y1="636.3" x2="143.9" y2="637.6" stroke="#555" stroke-width="0.5"/>
<line x1="141.4" y1="636.3" x2="141.4" y2="637.6" stroke="#555" stroke-width="0.5"/>
<line x1="137.9" y1="636.3" x2="137.9" y2="637.6" stroke="#555" stroke-width="0.5"/>
<text x="150.1" y="643.3" font-size="3.3" fill="#333">10</text>
<text x="153.8" y="641.3" font-size="2.6" fill="#333">4</text>
<text x="81.6" y="557.7" font-size="3.4" fill="#333">Q1</text>
<text x="160.5" y="557.7" font-size="3.4" text-anchor="end" fill="#333">Q2</text>
<text x="81.6" y="634.7" font-size="3.4" fill="#333">Q3</text>
<text x="160.5" y="634.7" font-size="3.4" text-anchor="end" fill="#333">Q4</text>
<rect x="179.3" y="552.7" width="82.5" height="83.6" fill="#fff" stroke="none" stroke-width="1"/>
<ellipse cx="195.8" cy="618.7" rx="12.4" ry="5.9" fill="url(#core)" fill-opacity="0.9" transform="rotate(-45 195.8 618.7)"/>
<g transform="translate(179.3 552.7) scale(0.08250 0.08360)"><path d="M147 905h9M379 628h9M201 792h9M240 817h9M271 627h9M132 803h9M120 895h9M188 823h9M146 822h9M175 756h9M256 720h9M209 796h9M169 801h9M187 810h9M244 686h9M95 847h9M117 877h9M148 812h9M223 742h9M192 753h9M233 772h9M233 732h9M291 654h9M320 705h9M286 727h9M114 838h9M155 841h9M111 858h9M110 923h9M166 827h9M82 911h9M161 816h9M272 696h9M171 850h9M176 850h9M214 794h9M255 795h9M233 737h9M152 753h9M170 816h9M183 828h9M232 780h9M247 722h9M107 845h9M152 823h9M186 781h9M282 720h9M178 775h9M183 797h9M254 689h9M66 899h9M230 785h9M201 851h9M235 796h9M191 798h9M227 711h9M86 890h9M168 801h9M167 784h9M160 838h9M196 833h9M105 822h9M245 768h9M338 644h9M148 742h9M109 848h9M211 789h9M232 779h9M222 861h9M227 790h9M286 723h9M167 771h9M287 684h9M93 849h9M255 766h9M296 695h9M282 688h9M105 868h9M171 818h9M155 796h9M198 763h9M218 691h9M299 710h9M192 794h9M122 790h9M212 779h9M402 626h9M258 713h9M252 758h9M243 702h9M92 915h9M206 730h9M254 650h9M355 711h9M222 745h9M226 801h9M257 782h9M228 755h9M180 828h9M99 830h9M224 756h9M174 801h9M145 793h9M217 758h9M199 841h9M102 857h9M267 751h9M232 714h9M88 867h9M135 795h9M305 683h9M289 752h9M308 787h9M106 854h9M187 819h9M153 769h9M405 594h9M277 740h9M136 857h9M155 813h9M159 793h9M93 833h9M210 786h9M264 689h9M284 733h9M31 925h9M191 786h9M83 876h9M277 678h9M76 929h9M175 788h9M198 754h9M134 783h9M158 702h9M270 656h9M198 693h9M204 729h9M193 724h9M91 910h9M150 807h9M122 773h9M140 829h9M275 699h9M249 794h9M195 799h9M127 828h9M211 678h9M235 782h9M244 748h9M233 793h9M62 912h9M223 822h9M127 887h9M243 802h9M125 798h9M142 815h9M340 624h9M106 833h9M244 705h9M288 749h9M133 878h9M199 781h9M277 688h9M293 790h9M174 865h9M201 767h9M197 814h9M87 938h9M319 659h9M143 782h9M61 856h9M123 923h9M154 888h9M214 815h9M91 877h9M206 770h9M162 773h9M304 674h9M162 768h9M321 725h9M104 842h9M210 771h9M166 812h9M174 821h9M211 707h9M270 673h9M281 712h9M134 822h9M118 779h9M201 754h9M115 834h9M101 839h9M136 846h9M88 876h9M215 797h9M237 725h9M217 808h9M127 800h9M246 729h9M274 741h9M169 822h9M376 585h9M307 664h9M268 690h9M136 828h9M86 910h9M83 909h9M372 643h9M85 865h9M141 815h9M191 721h9M324 684h9M293 709h9M167 759h9M209 769h9M280 697h9M268 755h9M84 876h9M301 678h9M200 789h9M281 744h9M164 810h9M102 901h9M230 776h9M167 711h9M276 721h9M164 833h9M236 856h9M215 735h9M238 761h9M217 818h9M203 821h9M333 690h9M154 842h9M412 669h9M159 817h9M108 816h9M329 744h9M106 860h9M112 919h9M128 886h9M79 833h9M171 773h9M267 687h9M346 647h9M118 784h9M161 817h9M287 735h9M66 940h9M266 750h9M76 878h9M211 757h9M95 794h9M336 720h9M306 711h9M242 711h9M128 868h9M91 863h9M163 823h9M173 795h9M209 810h9M197 807h9M176 795h9M201 819h9M210 711h9M148 841h9M151 727h9M290 636h9M55 944h9M273 785h9M131 757h9M262 663h9M258 776h9M143 762h9M145 788h9M169 864h9M18 917h9M281 667h9M124 867h9M234 741h9M186 787h9M298 734h9M134 859h9M143 817h9M145 863h9M143 849h9M213 744h9M169 818h9M232 725h9M97 949h9M142 877h9M150 865h9M249 666h9M222 779h9M152 761h9M57 952h9M59 904h9M224 744h9M277 689h9M268 675h9M93 889h9M47 913h9M230 747h9M34 851h9M111 902h9M222 752h9M28 931h9M163 826h9M195 797h9M185 705h9M98 873h9M58 824h9M115 846h9M220 753h9M152 839h9M167 774h9M218 781h9M356 688h9M184 815h9M91 873h9M104 840h9M60 865h9M133 882h9M149 797h9M142 833h9M119 836h9M184 743h9M119 815h9M101 808h9M229 791h9M106 908h9M332 711h9M291 660h9M194 783h9M133 838h9M295 690h9M239 773h9M159 850h9M140 766h9M234 784h9M274 680h9M244 783h9M300 743h9M217 733h9M170 825h9M15 885h9M205 764h9M339 688h9M170 783h9M158 775h9M165 814h9M179 788h9M123 855h9M112 858h9M168 732h9M23 901h9M229 762h9M72 966h9M207 858h9M111 794h9M220 702h9M142 796h9M193 756h9M199 745h9M317 705h9M421 601h9M151 768h9M235 810h9M16 948h9M178 792h9M136 856h9M207 725h9M138 787h9M146 835h9M125 864h9M176 828h9M257 803h9M219 760h9M118 904h9M240 746h9M275 695h9M134 808h9M283 687h9M272 728h9M203 793h9M270 740h9M143 777h9M241 697h9M111 895h9M121 835h9M236 850h9M240 689h9M145 861h9M121 824h9M294 735h9M139 912h9M266 777h9M191 757h9M97 841h9M164 792h9M193 769h9M233 772h9M101 844h9M257 719h9M232 750h9M153 845h9M186 799h9M181 755h9M121 897h9M172 797h9M169 802h9M211 792h9M235 726h9M142 853h9M96 866h9M411 612h9M182 810h9M47 923h9M277 648h9M123 798h9M206 861h9M132 864h9M292 667h9M277 641h9M272 680h9M227 761h9M297 739h9M129 828h9M243 752h9M338 622h9M185 766h9M58 820h9M248 746h9M84 917h9M36 910h9M290 645h9M89 821h9M138 913h9M241 707h9M161 824h9M137 830h9M255 676h9M42 892h9M180 818h9M59 928h9M139 832h9M55 955h9M174 861h9M248 779h9M152 891h9M198 848h9M279 732h9M272 706h9M146 850h9M117 796h9M242 743h9M38 862h9M272 809h9M253 747h9M163 781h9M275 749h9M120 729h9M107 860h9M242 715h9M138 871h9M125 772h9M204 732h9M237 755h9M234 744h9M286 700h9M341 704h9M267 743h9M230 756h9M230 772h9M244 755h9M69 869h9M189 852h9M340 678h9M193 796h9M328 633h9M116 886h9M173 826h9M255 743h9M173 748h9M244 689h9M71 880h9M152 764h9M293 671h9M270 800h9M65 880h9M206 685h9M232 755h9M221 801h9M188 798h9M148 801h9M206 750h9M212 757h9M381 649h9M178 790h9M211 757h9M153 748h9M280 790h9M164 846h9M169 833h9M298 719h9M197 826h9M337 691h9M196 785h9M337 681h9M107 884h9M141 788h9M164 798h9M96 846h9M109 868h9M34 918h9M167 743h9M220 773h9M298 703h9M128 819h9M293 687h9M292 680h9M134 852h9M278 707h9M68 884h9M127 835h9M109 838h9M304 620h9M124 889h9M54 841h9M247 776h9M105 878h9M202 843h9M144 799h9M286 764h9M130 845h9M134 795h9M136 776h9M200 753h9M155 808h9M126 842h9M216 719h9M147 875h9M339 629h9M230 790h9M242 808h9M142 814h9M142 796h9M310 625h9M263 827h9M123 779h9M281 727h9M257 750h9M280 725h9M174 796h9M213 772h9M213 812h9M273 701h9M132 862h9M145 830h9M249 767h9M176 803h9M185 832h9M92 870h9M282 693h9M225 786h9M264 749h9M364 780h9M234 760h9M288 753h9M272 708h9M133 724h9M139 829h9M180 786h9M172 798h9M130 853h9M160 722h9M204 761h9M302 754h9M424 577h9M190 741h9M193 795h9M153 804h9M133 744h9M327 685h9M236 742h9M179 847h9M138 817h9M268 717h9M236 741h9M87 817h9M72 857h9M213 774h9M397 687h9M294 700h9M230 732h9M166 785h9M123 909h9M85 826h9M122 895h9M83 922h9M180 892h9M222 839h9M176 770h9M253 776h9M139 756h9M118 781h9M206 733h9M330 757h9M236 743h9M238 703h9M411 530h9M147 843h9M185 747h9M256 787h9M247 697h9M125 848h9M23 896h9M299 679h9M160 912h9M36 948h9M150 828h9M39 918h9M230 749h9M113 819h9M145 880h9M103 859h9M212 802h9M181 728h9M293 664h9M183 841h9M222 724h9M234 729h9M254 749h9M140 849h9M256 740h9M339 713h9M354 609h9M156 859h9M164 789h9M129 849h9M163 814h9M203 789h9M202 761h9M281 755h9M161 834h9M261 705h9M260 714h9M65 842h9M243 728h9M145 797h9M139 846h9M174 818h9M163 780h9M164 823h9M184 753h9M421 665h9M279 701h9M172 816h9M283 739h9M328 645h9M142 815h9M240 754h9M165 790h9M287 705h9M388 646h9M244 772h9M250 673h9M152 878h9M230 709h9M258 673h9M193 829h9M128 954h9M246 739h9M241 741h9M336 682h9M261 708h9M313 744h9M346 628h9M274 717h9M367 706h9M173 774h9M35 941h9M180 757h9M244 739h9M379 659h9M44 919h9M73 903h9M58 854h9M274 768h9M199 789h9M277 739h9M280 640h9M140 750h9M122 861h9M214 772h9M308 693h9M188 798h9M243 764h9M255 729h9M209 742h9M205 824h9M265 757h9M195 761h9M89 853h9M213 755h9M141 884h9M173 819h9M179 850h9M212 732h9M73 872h9M250 788h9M216 749h9M181 774h9M256 727h9M121 832h9M133 873h9M208 726h9M185 760h9M314 660h9M331 671h9M286 672h9M24 852h9M213 748h9M204 783h9M132 805h9M176 781h9M224 781h9M121 884h9M215 733h9M152 812h9M76 825h9M146 846h9M275 740h9M257 702h9M268 679h9M142 774h9M197 794h9M168 790h9M187 712h9M127 796h9M115 832h9M117 821h9M268 771h9M101 860h9M148 857h9M104 849h9M233 718h9M248 737h9M305 630h9M198 716h9M112 835h9M162 897h9M44 914h9M454 561h9M229 785h9M90 878h9M183 797h9M200 756h9M85 869h9M251 737h9M145 793h9M137 706h9M151 819h9M185 708h9M302 672h9M225 758h9M227 770h9M240 688h9M147 830h9M178 785h9M79 849h9M111 874h9M197 772h9M362 591h9M88 868h9M152 839h9M197 671h9M161 839h9M205 804h9M172 759h9M191 891h9M268 686h9M201 788h9M173 844h9M180 728h9M203 785h9M137 880h9M202 781h9M259 734h9M207 842h9M57 912h9M164 768h9M234 687h9M175 842h9M119 876h9M234 777h9M344 672h9M161 740h9M87 825h9M258 724h9M134 770h9M231 793h9M195 778h9M216 780h9M199 776h9M290 735h9M204 727h9M274 739h9M44 864h9M387 599h9M109 860h9M132 847h9M169 774h9M209 718h9M332 614h9M177 768h9M72 897h9M132 832h9M164 807h9M208 719h9M144 781h9M163 881h9M134 885h9M114 831h9M207 749h9M144 798h9M174 745h9M71 898h9M79 887h9M48 958h9M174 758h9M98 844h9M235 720h9M204 820h9M134 849h9M208 769h9M129 807h9M274 700h9M222 868h9M262 779h9M74 858h9M136 810h9M326 658h9M85 867h9M278 764h9M311 722h9M256 747h9M160 762h9M107 895h9M433 536h9M340 662h9M37 957h9M209 696h9M98 907h9M311 723h9M331 735h9M176 765h9M217 814h9M210 759h9M352 643h9M293 707h9M171 763h9M149 765h9M194 801h9M162 819h9M172 839h9M162 822h9M202 745h9M302 707h9M151 855h9M259 646h9M278 711h9M162 806h9M224 717h9M331 705h9M174 825h9M173 808h9M49 982h9M237 726h9M352 657h9M297 695h9M273 752h9M69 893h9M237 760h9M191 759h9M188 728h9M129 836h9M185 800h9M286 781h9M167 815h9M209 709h9M144 829h9M109 868h9M160 749h9M156 791h9M193 723h9M157 791h9M271 763h9M241 803h9M254 699h9M96 837h9M129 854h9M153 755h9M234 773h9M300 667h9M138 887h9M98 808h9M123 852h9M194 746h9M268 794h9M200 845h9M98 975h9M158 738h9M116 889h9M180 806h9M199 802h9M220 818h9M101 820h9M204 743h9M141 812h9M165 760h9M141 853h9M173 766h9M209 771h9M113 881h9M271 738h9M92 849h9M142 709h9M35 896h9M342 621h9M208 804h9M265 703h9M292 746h9M191 780h9M141 855h9M240 807h9M200 748h9M315 659h9M408 612h9M212 819h9M264 770h9M196 788h9M216 814h9M183 819h9M264 700h9M162 840h9M144 823h9M322 696h9M315 672h9M130 819h9M285 693h9M148 847h9M255 697h9M242 722h9M113 791h9M184 786h9M239 790h9M186 782h9M87 850h9M156 799h9M159 865h9M360 653h9M337 692h9M132 765h9M119 844h9M156 768h9M96 905h9M139 892h9M251 758h9M236 706h9M181 767h9M302 685h9M134 775h9M363 692h9M227 699h9M107 774h9M97 875h9M180 864h9M71 911h9M26 922h9M154 811h9M259 796h9M187 804h9M112 796h9M236 775h9M173 815h9M171 765h9M91 856h9M205 819h9M63 834h9M246 788h9M172 849h9M270 676h9M182 852h9M156 815h9M100 878h9M188 813h9M55 849h9M155 805h9M399 590h9M302 703h9M200 849h9M66 859h9M189 790h9M166 689h9M345 706h9M85 844h9M238 779h9M187 789h9M245 796h9M177 776h9M190 785h9M242 775h9M157 813h9M103 882h9M27 877h9M232 730h9M292 713h9M248 662h9M161 806h9M334 752h9M245 717h9M128 860h9M67 928h9M141 856h9M220 804h9M205 852h9M174 832h9M70 896h9M164 777h9M231 673h9M102 880h9M140 879h9M203 770h9M56 908h9M27 913h9M247 700h9M183 778h9M271 747h9M151 844h9M219 729h9M229 736h9M109 848h9M170 819h9M60 849h9M158 872h9M150 835h9M259 761h9M110 830h9M129 849h9M27 904h9M131 891h9M240 751h9M108 825h9M216 795h9M248 628h9M236 711h9M275 696h9M106 858h9M141 824h9M179 820h9M35 898h9M204 761h9M224 771h9M247 696h9M219 708h9M232 675h9M221 741h9M297 689h9M212 729h9M202 803h9M178 783h9M286 747h9M227 735h9M146 814h9M122 758h9M107 875h9M347 692h9M252 757h9M278 699h9M137 912h9M229 715h9M295 727h9M107 881h9M271 741h9M177 788h9M50 844h9M175 834h9M201 786h9M296 698h9M250 714h9M234 770h9M324 656h9M233 758h9M184 701h9M264 695h9M177 793h9M224 783h9M208 700h9M188 696h9M54 868h9M125 879h9M63 970h9M171 787h9M126 859h9M180 835h9M34 955h9M235 724h9M198 758h9M317 669h9M167 782h9M387 677h9M158 769h9M216 749h9M158 860h9M205 787h9M77 895h9M237 781h9M146 810h9M154 806h9M175 885h9M196 852h9M285 752h9M230 809h9M340 702h9M155 821h9M210 758h9M138 804h9M119 870h9M70 890h9M103 910h9M224 728h9M32 892h9M247 728h9M100 846h9M36 848h9M255 756h9M126 824h9M156 822h9M398 616h9M93 953h9M16 879h9M158 780h9M265 711h9M192 817h9M245 771h9M368 659h9M174 781h9M116 825h9M22 942h9M127 886h9M156 789h9M151 864h9M169 757h9M214 769h9M46 982h9M150 808h9M149 822h9M130 871h9M239 683h9M188 762h9M230 774h9M218 785h9M150 807h9M90 880h9M138 834h9M245 710h9M190 782h9M274 754h9M187 808h9M178 785h9M88 892h9M451 697h9M275 710h9M253 731h9M315 686h9M202 752h9M314 681h9M188 792h9M265 706h9M236 697h9M237 778h9M286 658h9M263 689h9M263 733h9M248 745h9M256 664h9M220 749h9M262 776h9M127 872h9M219 788h9M115 861h9M292 692h9M156 755h9M235 769h9M280 681h9M118 855h9M46 907h9M263 755h9M37 917h9M224 772h9M130 881h9M277 730h9M252 764h9M59 971h9M94 826h9M122 823h9M159 810h9M166 776h9M271 774h9M287 640h9M195 787h9M199 800h9M135 848h9M208 859h9M126 880h9M138 857h9M267 784h9M119 854h9M238 733h9M194 805h9M366 738h9M99 817h9M178 863h9M65 878h9M291 800h9M247 798h9M338 680h9M172 806h9M134 837h9M108 917h9M144 763h9M341 657h9M123 884h9M89 856h9M201 802h9M108 870h9M233 760h9M55 893h9M286 711h9M92 914h9M185 738h9M192 835h9M41 963h9M214 737h9M270 750h9M86 810h9M291 719h9M55 913h9M277 737h9M111 870h9M185 835h9M195 767h9M216 784h9M58 853h9M231 704h9M317 740h9M199 787h9M169 840h9M338 717h9M227 741h9M149 803h9M259 753h9M184 693h9M183 789h9M215 764h9M338 697h9M38 955h9M225 739h9M79 908h9M97 931h9M215 765h9M173 785h9M188 755h9M171 737h9M40 918h9M254 755h9M71 857h9M101 876h9M266 691h9M69 882h9M170 833h9M269 742h9M243 691h9M45 877h9M113 918h9M164 740h9M121 828h9M87 850h9M337 679h9M154 789h9M160 812h9M157 849h9M219 801h9M338 698h9M114 822h9M263 710h9M331 712h9M268 731h9M94 884h9M281 752h9M336 708h9M192 782h9M227 673h9M304 635h9M230 832h9M176 821h9M226 756h9M165 862h9M290 713h9M218 761h9M296 629h9M167 815h9M206 737h9M213 780h9M189 685h9M195 825h9M42 930h9M61 920h9M112 877h9M264 717h9M145 790h9M122 821h9M190 758h9M298 658h9M238 758h9M84 839h9M165 866h9M137 821h9M293 694h9M139 850h9M284 678h9M145 868h9M144 849h9M193 802h9M117 828h9M110 848h9M414 623h9M243 814h9M299 727h9M249 776h9M153 798h9M294 701h9M256 789h9M163 758h9M318 673h9M295 589h9M243 788h9M79 920h9M51 899h9M131 798h9M67 904h9M174 785h9M84 837h9M357 659h9M146 790h9M278 662h9M146 853h9M125 857h9M216 723h9M174 915h9M268 718h9M285 708h9M138 799h9M238 742h9M64 852h9M80 818h9M259 804h9M182 786h9M210 754h9M104 870h9M160 828h9M115 940h9M94 859h9M261 764h9M261 738h9M274 699h9M85 901h9M174 815h9M283 743h9M271 728h9M237 801h9M136 789h9M173 792h9M83 947h9M261 670h9M60 882h9M375 592h9M29 916h9M189 781h9M239 795h9M228 715h9M281 753h9M175 782h9M143 811h9M17 970h9M278 674h9M266 768h9M157 915h9M107 762h9M163 798h9M149 777h9M149 851h9M200 847h9M275 711h9M160 833h9M261 790h9M188 835h9M93 858h9M228 802h9M184 906h9M139 799h9M153 815h9M178 898h9M93 916h9M141 898h9M346 686h9M259 697h9M122 880h9M354 588h9M304 750h9M94 832h9M30 906h9M360 614h9M254 770h9M157 804h9M205 719h9M260 772h9M101 869h9M204 796h9M296 705h9M144 815h9M230 731h9M278 801h9M143 840h9M148 793h9M215 834h9M97 827h9M321 693h9M79 839h9M71 831h9M169 834h9M252 685h9M222 770h9M106 878h9M164 750h9M160 848h9M144 843h9M151 737h9M204 738h9M214 817h9M257 681h9M267 651h9M248 755h9M200 714h9M74 856h9M252 772h9M212 785h9M191 824h9M138 865h9M249 696h9M109 902h9M32 943h9M161 858h9M208 852h9M146 808h9M229 678h9M109 853h9M183 764h9M218 786h9M229 781h9M267 785h9M192 812h9M206 800h9M246 755h9M55 906h9M132 828h9M210 805h9M230 690h9M162 768h9M149 797h9M262 729h9M209 874h9M125 882h9M266 694h9M66 903h9M155 877h9M257 712h9M279 777h9M254 753h9M298 801h9M178 803h9M320 698h9M158 861h9M359 640h9M147 714h9M246 778h9M215 762h9M342 706h9M360 586h9M94 866h9M120 787h9M207 818h9M269 762h9M324 667h9M59 919h9M224 767h9M114 877h9M222 776h9M153 827h9M29 892h9M160 854h9M170 862h9M264 779h9M129 887h9M140 840h9M275 724h9M248 733h9M76 819h9M246 691h9M150 809h9M182 739h9M159 842h9M242 769h9M277 777h9M136 759h9M204 847h9M279 767h9M90 901h9M210 822h9M315 629h9M255 718h9M159 863h9M218 819h9M115 837h9M113 857h9M94 876h9M76 859h9M193 780h9M271 773h9M365 583h9M196 809h9M161 826h9M173 809h9M179 834h9M266 679h9M160 823h9M169 879h9M213 782h9M66 862h9M163 820h9M97 924h9M328 647h9M239 748h9M120 872h9M345 654h9M166 860h9M121 876h9M298 724h9M214 780h9M91 865h9M199 832h9M318 677h9M50 911h9M341 707h9M226 750h9M175 807h9M85 936h9M269 785h9M150 822h9M248 705h9M178 779h9M263 681h9M278 759h9M281 718h9M177 867h9M250 723h9M331 727h9M338 678h9M149 840h9M163 770h9M205 805h9M162 793h9M202 768h9M141 813h9M29 886h9M172 814h9M23 936h9M268 739h9M254 785h9M63 930h9M167 825h9M221 731h9M281 752h9M182 793h9M175 814h9M101 869h9M66 854h9M426 602h9M169 813h9M221 790h9M278 815h9M145 809h9M122 848h9M342 676h9M120 875h9M72 905h9M112 897h9M84 899h9M243 768h9M183 768h9M68 974h9M146 810h9M270 699h9M286 748h9M78 840h9M185 757h9M180 832h9M230 801h9M105 876h9M165 793h9M17 939h9M307 683h9M202 801h9M120 884h9M162 828h9M75 920h9M131 901h9M310 687h9M144 748h9M325 659h9M299 658h9M283 706h9M121 892h9M233 798h9M163 830h9M300 641h9M269 718h9M195 792h9M251 689h9M242 750h9M161 937h9M226 786h9M205 819h9M208 799h9M196 787h9M136 881h9M195 742h9M308 699h9M160 798h9M104 834h9M265 669h9M224 751h9M127 808h9M353 643h9M212 785h9M374 641h9M54 944h9M283 680h9M89 848h9M133 816h9M291 762h9M348 697h9M101 886h9M197 790h9M184 840h9M161 772h9M169 795h9M267 693h9M308 655h9M124 857h9M100 857h9M41 939h9M101 901h9M262 759h9M274 694h9M270 653h9M69 938h9M81 789h9M213 801h9M168 792h9M108 928h9M246 740h9M336 664h9M217 795h9M113 841h9M190 818h9M231 737h9M171 775h9M176 825h9M163 798h9M170 762h9M160 863h9M181 824h9M176 757h9M224 759h9M166 834h9M241 777h9M162 801h9M177 752h9M254 752h9M340 711h9M132 813h9M126 816h9M141 787h9M165 801h9M222 724h9M134 876h9M82 860h9M135 768h9M108 835h9M235 737h9M155 862h9M84 963h9M272 710h9M81 862h9M331 702h9M309 717h9M73 856h9M185 747h9M138 813h9M187 783h9M248 770h9M46 925h9M357 642h9M183 745h9M209 785h9M227 664h9M304 787h9M242 722h9M101 833h9M127 884h9M97 874h9M141 824h9M187 757h9M167 847h9M200 802h9M231 799h9M271 673h9M240 763h9M116 832h9M184 792h9M260 744h9M210 770h9M209 763h9M166 773h9M146 849h9M300 637h9M162 804h9M120 838h9M82 868h9M164 788h9M194 806h9M160 795h9M156 854h9M205 778h9M150 827h9M215 819h9M331 637h9M269 688h9M283 663h9M115 747h9M68 892h9M157 735h9M198 778h9M176 843h9M375 647h9M204 748h9M260 824h9M288 683h9M60 888h9M302 713h9M262 699h9M186 841h9M249 814h9M213 760h9M249 689h9M262 693h9M45 886h9M297 666h9M195 732h9M208 770h9M126 851h9M124 800h9M184 798h9M166 806h9M171 837h9M251 692h9M173 828h9M222 787h9M61 972h9M137 856h9M190 786h9M229 764h9M222 772h9M254 743h9M217 808h9M103 945h9M142 807h9M163 894h9M173 788h9M235 766h9M169 835h9M238 770h9M238 728h9M183 771h9M133 871h9M328 791h9M108 912h9M93 855h9M176 851h9M171 761h9M52 843h9M79 857h9M173 793h9M142 857h9M305 722h9M268 724h9M161 819h9M37 915h9M283 713h9M185 803h9M299 730h9M269 695h9M189 820h9M236 741h9M157 849h9M200 779h9M129 830h9M104 841h9M198 785h9M75 910h9M327 615h9M240 752h9M252 777h9M355 651h9M168 786h9M130 797h9M122 829h9M121 847h9M185 782h9M280 698h9M215 738h9M293 696h9M169 790h9M183 828h9M144 799h9M158 775h9M162 868h9M185 851h9M35 972h9M249 797h9M173 812h9M206 732h9M102 949h9M194 741h9M83 841h9M33 944h9M222 772h9M171 814h9M102 842h9M187 756h9M307 666h9M228 804h9M313 662h9M183 797h9M227 832h9M194 733h9M167 723h9M133 780h9M196 789h9M176 808h9M236 724h9M208 706h9M162 785h9M112 930h9M129 869h9M246 773h9M271 673h9M177 787h9M231 740h9M154 821h9M161 745h9M175 800h9M170 797h9M197 811h9M211 845h9M146 811h9M103 838h9M312 704h9M163 778h9M274 743h9M249 822h9M271 679h9M27 949h9M237 708h9M234 738h9M297 697h9M124 898h9M355 687h9M74 810h9M266 744h9M283 730h9M261 812h9M139 813h9M189 812h9M129 779h9M263 707h9M100 880h9M202 693h9M326 644h9M144 789h9M60 882h9M254 788h9M236 679h9M282 718h9M259 735h9M281 758h9M77 947h9M152 754h9M263 759h9M234 745h9M150 810h9M285 768h9M265 773h9M178 751h9M153 792h9M262 774h9M214 780h9M96 872h9M99 892h9M71 872h9M270 729h9M217 794h9M186 805h9M260 747h9M366 692h9M324 726h9M66 912h9M245 746h9M264 739h9M312 675h9M157 808h9M202 769h9M317 660h9M53 921h9M165 829h9M212 760h9M177 791h9M242 715h9M97 814h9M306 749h9M178 784h9M209 782h9M307 723h9M192 842h9M274 771h9M289 763h9M259 705h9M263 759h9M293 678h9M144 896h9M187 812h9M241 815h9M35 972h9M155 893h9M279 785h9M90 851h9M246 741h9M275 630h9M166 797h9M297 669h9M186 789h9M261 712h9M149 843h9M145 848h9M148 834h9M160 823h9M172 770h9M91 874h9M301 724h9M32 960h9M270 770h9M331 641h9M237 740h9M294 714h9M138 860h9M81 872h9M166 765h9M243 675h9M240 801h9M236 700h9M263 706h9M164 803h9M353 605h9M166 861h9M158 808h9M302 721h9M309 734h9M292 718h9M169 894h9M272 720h9M233 733h9M189 787h9M180 789h9M276 714h9M162 765h9M315 702h9M256 656h9M333 690h9M104 797h9M205 788h9M178 727h9M155 756h9M246 674h9M332 657h9M211 782h9M255 738h9M173 812h9M186 763h9M173 771h9M54 921h9M247 769h9M299 682h9M261 739h9M278 691h9M272 727h9M159 792h9M200 768h9M205 823h9M132 777h9M251 726h9M292 733h9M156 776h9M144 844h9M179 817h9M124 843h9M230 756h9M203 821h9M194 807h9M152 793h9M311 700h9M37 933h9M130 860h9M192 758h9M153 757h9M110 849h9M80 844h9M86 919h9M143 778h9M154 780h9M225 781h9M276 705h9M32 863h9M222 773h9M255 761h9M176 773h9M263 706h9M212 808h9M114 745h9M252 714h9M139 847h9M326 701h9M44 978h9M133 820h9M310 643h9M144 851h9M324 668h9M163 806h9M178 906h9M109 825h9M354 603h9M216 811h9M264 714h9M77 809h9M245 748h9M200 764h9M198 823h9M107 867h9M220 830h9M287 677h9M134 772h9M153 784h9M192 741h9M237 716h9M170 762h9M338 662h9M110 831h9M82 902h9M170 796h9M128 804h9M235 755h9M125 898h9M145 831h9M300 670h9M73 913h9M110 790h9M356 617h9M212 787h9M135 882h9M181 803h9M165 795h9M118 895h9M257 759h9M258 750h9M221 802h9M260 749h9M173 786h9M185 847h9M171 775h9M139 839h9M84 825h9M214 777h9M210 808h9M100 851h9M141 839h9M47 939h9M233 662h9M240 739h9M170 849h9M190 838h9M122 921h9M111 820h9M257 707h9M131 875h9M277 689h9M123 916h9M136 872h9M242 707h9M288 740h9M131 826h9M162 817h9M297 725h9M204 796h9M137 813h9M282 671h9M157 804h9M136 886h9M325 717h9M306 684h9M177 820h9M185 753h9M77 943h9M73 828h9M79 930h9M242 714h9M30 910h9M156 843h9M287 694h9M230 719h9M192 801h9M187 838h9M292 719h9M224 747h9M206 725h9M342 677h9M197 797h9M219 711h9M159 831h9M241 669h9M274 708h9M253 724h9M141 830h9M184 838h9M208 771h9M159 815h9M142 814h9M250 775h9M288 773h9M255 720h9M209 818h9M214 725h9M337 662h9M206 759h9M181 782h9M91 904h9M108 878h9M382 691h9M264 751h9M150 828h9M149 820h9M181 821h9M165 688h9M136 865h9M189 782h9M226 840h9M227 814h9M190 715h9M108 829h9M271 766h9M348 685h9M177 762h9M151 849h9M258 799h9M136 775h9M338 704h9M67 955h9M151 760h9M313 578h9M135 888h9M172 820h9M31 892h9M332 638h9M275 652h9M116 850h9M205 763h9M195 746h9M142 774h9M143 865h9M136 782h9M294 747h9M161 851h9M114 849h9M309 669h9M207 752h9M246 705h9M168 868h9M322 673h9M258 679h9M271 730h9M209 824h9M293 675h9M398 630h9M136 862h9M237 727h9M282 698h9M180 743h9M285 706h9M268 775h9M203 797h9M214 760h9M259 759h9M278 778h9M412 624h9M137 855h9M158 896h9M26 972h9M274 717h9M42 921h9M221 811h9M215 728h9M163 744h9M149 791h9M175 793h9M169 853h9M263 742h9M274 674h9M90 873h9M336 647h9M58 859h9M311 649h9M20 920h9M230 738h9M77 803h9M138 879h9M159 855h9M312 713h9M242 779h9M210 717h9M197 798h9M46 894h9M183 787h9M232 718h9M93 810h9M93 847h9M159 761h9M287 702h9M131 896h9M127 871h9M75 933h9M217 744h9M227 812h9M234 783h9M209 730h9M127 805h9M250 787h9M238 803h9M109 781h9M174 862h9M192 835h9M189 751h9M124 881h9M228 738h9M64 852h9M364 657h9M73 909h9M190 739h9M290 721h9M214 738h9M368 670h9M111 785h9M129 878h9M175 856h9M405 584h9M282 724h9M215 753h9M113 819h9M225 706h9M217 727h9M168 795h9M369 630h9M379 578h9M258 648h9M257 716h9M298 620h9M292 719h9M294 760h9M193 856h9M363 698h9M444 646h9M157 870h9M419 656h9M390 709h9M206 814h9M283 610h9M357 694h9M204 780h9M277 695h9M156 812h9M293 722h9M364 591h9M198 614h9M341 735h9M213 808h9M432 550h9M310 727h9M344 747h9M216 653h9M459 567h9M467 700h9M250 782h9M348 802h9M308 779h9M310 781h9M161 768h9M293 662h9M401 602h9M356 586h9M454 649h9M277 682h9M361 666h9M405 654h9M248 733h9M257 671h9M314 661h9M353 634h9M290 632h9M386 540h9M184 805h9M437 655h9M319 602h9M194 697h9M356 628h9M455 743h9M372 740h9M366 574h9M374 663h9M510 549h9M266 720h9M384 628h9M334 659h9M289 802h9M290 504h9M346 759h9M456 536h9M189 758h9M354 711h9M102 801h9M26 947h9M304 787h9M303 726h9M259 635h9M224 604h9M344 754h9M377 633h9M385 627h9M244 760h9M261 657h9M274 780h9M257 760h9M318 736h9M276 668h9M349 818h9M448 706h9M414 469h9M184 788h9M206 716h9M374 701h9M182 809h9M273 670h9M234 784h9M191 746h9M199 740h9M269 733h9M282 607h9M289 633h9M343 636h9M295 759h9M361 726h9M234 808h9M310 708h9M297 690h9M320 715h9M189 844h9M290 666h9M245 646h9M455 600h9M478 562h9M280 748h9M392 669h9M425 480h9M164 790h9M309 722h9M333 613h9M367 630h9M363 731h9M441 604h9M193 841h9M334 747h9M154 757h9M213 778h9M381 547h9M281 620h9M223 778h9M292 742h9M301 701h9M362 659h9M240 753h9M83 779h9M300 817h9M242 652h9M202 904h9M211 741h9M205 786h9M305 660h9M380 637h9M199 851h9M204 744h9M298 594h9M364 618h9M261 808h9M267 749h9M208 950h9M328 748h9M191 829h9M252 779h9M522 553h9M335 773h9M433 695h9M452 656h9M346 518h9M291 800h9M212 746h9M170 757h9M222 756h9M437 645h9M278 738h9M344 705h9M270 733h9M263 712h9M156 753h9M323 574h9M246 712h9M161 708h9M117 772h9M369 693h9M333 684h9M430 814h9M361 650h9M264 668h9M315 806h9M190 760h9M196 772h9M467 761h9M297 644h9M259 650h9M280 812h9M350 632h9M174 795h9M418 612h9M537 593h9M327 557h9M281 826h9M269 775h9M229 877h9M288 713h9M305 647h9M469 659h9M272 769h9M317 795h9M352 598h9M144 597h9M386 734h9M357 784h9M286 698h9M378 571h9M204 844h9M196 675h9M263 689h9M584 476h9M365 689h9M354 709h9M347 608h9M270 800h9M340 686h9M334 655h9M254 640h9M419 698h9M298 622h9M204 918h9M145 861h9M341 599h9M150 805h9M391 599h9M275 658h9M202 739h9M319 753h9M432 625h9M368 627h9M380 686h9M283 626h9M248 787h9M274 743h9M435 649h9M400 516h9M381 722h9M241 720h9M367 586h9M362 740h9M213 649h9M258 755h9M264 678h9M423 657h9M315 705h9M223 713h9M194 795h9M395 473h9M355 566h9M365 782h9M268 761h9M472 548h9M185 693h9M423 692h9M378 676h9M164 772h9M330 695h9M386 631h9M323 732h9M355 565h9M175 734h9M739 475h9M612 491h9M786 614h9M399 591h9M574 530h9M811 493h9M644 555h9M664 579h9M509 441h9M695 561h9M622 442h9M569 878h9M701 645h9M653 198h9M571 814h9M636 650h9M825 432h9M536 467h9M527 635h9M544 589h9M791 339h9M419 639h9M866 257h9M441 555h9M536 734h9M579 604h9M781 588h9M675 661h9M671 597h9M771 652h9M558 490h9M370 656h9M568 432h9M747 562h9M656 411h9M604 794h9M634 514h9M441 680h9M759 371h9M640 412h9M568 622h9M578 585h9M603 558h9M676 606h9M925 465h9M741 448h9M568 542h9M520 576h9M825 285h9M524 579h9M672 499h9M721 626h9M501 758h9M945 440h9M566 744h9M524 622h9M765 416h9M692 516h9M642 241h9M581 437h9M510 498h9M599 572h9M609 618h9M570 621h9M657 454h9M558 714h9M600 464h9M660 440h9M526 678h9M490 475h9M675 587h9M503 663h9M787 553h9M535 492h9M559 686h9M559 576h9M574 485h9M424 601h9M387 500h9M461 580h9M656 601h9M681 526h9M508 616h9M609 513h9M547 609h9M851 196h9M511 726h9M569 700h9M530 638h9M577 417h9M512 712h9M693 395h9M679 612h9M606 500h9M578 573h9M490 514h9M554 433h9M564 659h9M765 453h9M543 691h9M566 473h9M848 658h9M582 787h9M479 614h9M728 396h9M603 785h9M409 558h9M782 338h9M792 618h9M728 726h9M800 471h9M692 469h9M760 471h9M420 776h9M485 683h9M577 586h9M865 657h9M712 627h9M670 169h9M605 528h9M632 614h9M509 657h9M636 442h9M562 512h9M693 541h9M734 609h9M821 500h9M601 678h9M528 528h9M754 414h9M555 648h9M546 884h9M599 656h9M817 431h9M680 350h9M691 551h9M734 550h9M694 513h9M558 517h9M596 654h9M477 543h9M700 530h9M513 850h9M603 442h9M524 766h9M694 716h9M588 527h9M565 529h9M698 450h9M733 388h9M726 506h9M704 370h9M584 595h9M659 498h9M764 255h9M673 433h9M737 454h9M699 555h9M570 619h9M548 585h9M658 375h9M551 553h9M588 556h9M584 660h9M731 503h9M734 608h9M744 394h9M727 463h9M482 602h9M731 444h9M503 804h9M781 602h9M554 613h9M542 328h9M932 286h9M339 552h9M573 380h9M649 491h9M500 655h9M563 162h9M615 650h9M287 758h9M737 527h9M570 325h9M684 443h9M612 654h9M613 811h9M393 600h9M530 818h9M473 733h9M545 690h9M745 503h9M585 461h9M667 506h9M515 711h9M603 649h9M594 482h9M663 375h9M679 517h9M523 646h9M594 564h9M491 750h9M537 658h9M513 673h9M596 679h9M757 307h9M592 445h9M483 673h9M498 779h9M551 605h9M560 651h9M621 597h9M808 581h9M713 442h9M495 672h9M587 672h9M697 525h9M706 759h9M612 729h9M756 722h9M805 269h9M817 287h9M845 236h9M789 257h9M836 252h9M907 215h9M753 263h9M898 292h9M798 268h9M914 268h9M934 206h9M773 259h9M892 257h9M829 194h9M716 326h9M850 263h9M860 241h9M759 268h9M822 283h9M798 229h9M886 206h9M846 285h9M798 265h9M786 320h9M798 341h9M843 241h9M875 194h9M848 289h9M833 326h9M769 297h9M807 188h9M862 307h9M855 264h9M763 354h9M792 271h9M749 227h9M770 309h9M872 234h9M737 328h9M755 298h9M940 233h9M814 279h9M839 287h9M867 214h9M883 167h9M793 305h9M860 186h9M804 279h9M806 218h9M879 277h9M820 285h9M879 229h9M826 237h9M743 238h9M868 223h9M823 285h9M878 310h9M869 256h9M840 211h9M756 279h9M864 333h9M825 253h9M896 269h9M820 263h9M792 265h9M786 313h9M759 218h9M962 187h9M822 307h9M882 204h9M436 523h9M694 595h9M250 598h9M69 828h9M306 179h9M788 248h9M422 88h9M460 619h9M590 682h9M416 640h9M954 808h9M461 39h9M634 290h9M510 223h9M892 216h9M976 803h9M423 503h9M651 831h9M370 226h9M141 884h9M399 529h9M25 744h9M317 714h9M119 577h9M80 885h9M465 58h9M394 553h9M240 149h9M106 509h9M20 483h9M337 717h9M791 747h9M951 769h9M724 99h9M749 62h9M72 281h9M216 302h9M523 517h9M607 100h9M543 393h9" stroke="#e2281f" stroke-width="9.5" stroke-opacity="0.42" fill="none"/></g>
<line x1="214.3" y1="552.7" x2="214.3" y2="636.3" stroke="#5a5a5a" stroke-width="0.85"/>
<line x1="179.3" y1="594.7" x2="261.8" y2="594.7" stroke="#5a5a5a" stroke-width="0.85"/>
<rect x="179.3" y="552.7" width="82.5" height="83.6" fill="none" stroke="#858585" stroke-width="0.85"/>
<line x1="177.1" y1="561.9" x2="179.3" y2="561.9" stroke="#444" stroke-width="0.7"/>
<line x1="178" y1="562.8" x2="179.3" y2="562.8" stroke="#555" stroke-width="0.5"/>
<line x1="178" y1="563.9" x2="179.3" y2="563.9" stroke="#555" stroke-width="0.5"/>
<line x1="178" y1="565.1" x2="179.3" y2="565.1" stroke="#555" stroke-width="0.5"/>
<line x1="178" y1="566.4" x2="179.3" y2="566.4" stroke="#555" stroke-width="0.5"/>
<line x1="178" y1="568.1" x2="179.3" y2="568.1" stroke="#555" stroke-width="0.5"/>
<line x1="178" y1="570" x2="179.3" y2="570" stroke="#555" stroke-width="0.5"/>
<line x1="178" y1="572.6" x2="179.3" y2="572.6" stroke="#555" stroke-width="0.5"/>
<line x1="178" y1="576.2" x2="179.3" y2="576.2" stroke="#555" stroke-width="0.5"/>
<text x="176.7" y="563.3" font-size="3.3" text-anchor="end" fill="#333">10</text>
<text x="173.1" y="560.7" font-size="2.6" text-anchor="end" fill="#333">4</text>
<line x1="177.1" y1="582.4" x2="179.3" y2="582.4" stroke="#444" stroke-width="0.7"/>
<line x1="178" y1="583.3" x2="179.3" y2="583.3" stroke="#555" stroke-width="0.5"/>
<line x1="178" y1="584.4" x2="179.3" y2="584.4" stroke="#555" stroke-width="0.5"/>
<line x1="178" y1="585.6" x2="179.3" y2="585.6" stroke="#555" stroke-width="0.5"/>
<line x1="178" y1="586.9" x2="179.3" y2="586.9" stroke="#555" stroke-width="0.5"/>
<line x1="178" y1="588.5" x2="179.3" y2="588.5" stroke="#555" stroke-width="0.5"/>
<line x1="178" y1="590.5" x2="179.3" y2="590.5" stroke="#555" stroke-width="0.5"/>
<line x1="178" y1="593.1" x2="179.3" y2="593.1" stroke="#555" stroke-width="0.5"/>
<line x1="178" y1="596.7" x2="179.3" y2="596.7" stroke="#555" stroke-width="0.5"/>
<text x="176.7" y="583.8" font-size="3.3" text-anchor="end" fill="#333">10</text>
<text x="173.1" y="581.2" font-size="2.6" text-anchor="end" fill="#333">3</text>
<line x1="177.1" y1="602.9" x2="179.3" y2="602.9" stroke="#444" stroke-width="0.7"/>
<line x1="178" y1="603.8" x2="179.3" y2="603.8" stroke="#555" stroke-width="0.5"/>
<line x1="178" y1="604.8" x2="179.3" y2="604.8" stroke="#555" stroke-width="0.5"/>
<line x1="178" y1="606" x2="179.3" y2="606" stroke="#555" stroke-width="0.5"/>
<line x1="178" y1="607.4" x2="179.3" y2="607.4" stroke="#555" stroke-width="0.5"/>
<line x1="178" y1="609" x2="179.3" y2="609" stroke="#555" stroke-width="0.5"/>
<line x1="178" y1="611" x2="179.3" y2="611" stroke="#555" stroke-width="0.5"/>
<line x1="178" y1="613.6" x2="179.3" y2="613.6" stroke="#555" stroke-width="0.5"/>
<line x1="178" y1="617.2" x2="179.3" y2="617.2" stroke="#555" stroke-width="0.5"/>
<text x="176.7" y="604.3" font-size="3.3" text-anchor="end" fill="#333">10</text>
<text x="173.1" y="601.7" font-size="2.6" text-anchor="end" fill="#333">2</text>
<line x1="177.1" y1="623.3" x2="179.3" y2="623.3" stroke="#444" stroke-width="0.7"/>
<line x1="178" y1="624.3" x2="179.3" y2="624.3" stroke="#555" stroke-width="0.5"/>
<line x1="178" y1="625.3" x2="179.3" y2="625.3" stroke="#555" stroke-width="0.5"/>
<line x1="178" y1="626.5" x2="179.3" y2="626.5" stroke="#555" stroke-width="0.5"/>
<line x1="178" y1="627.9" x2="179.3" y2="627.9" stroke="#555" stroke-width="0.5"/>
<line x1="178" y1="629.5" x2="179.3" y2="629.5" stroke="#555" stroke-width="0.5"/>
<line x1="178" y1="631.5" x2="179.3" y2="631.5" stroke="#555" stroke-width="0.5"/>
<line x1="178" y1="634.1" x2="179.3" y2="634.1" stroke="#555" stroke-width="0.5"/>
<text x="176.7" y="624.7" font-size="3.3" text-anchor="end" fill="#333">10</text>
<text x="173.1" y="622.1" font-size="2.6" text-anchor="end" fill="#333">1</text>
<line x1="190.9" y1="636.3" x2="190.9" y2="638.5" stroke="#444" stroke-width="0.7"/>
<line x1="189.9" y1="636.3" x2="189.9" y2="637.6" stroke="#555" stroke-width="0.5"/>
<line x1="188.9" y1="636.3" x2="188.9" y2="637.6" stroke="#555" stroke-width="0.5"/>
<line x1="187.7" y1="636.3" x2="187.7" y2="637.6" stroke="#555" stroke-width="0.5"/>
<line x1="186.4" y1="636.3" x2="186.4" y2="637.6" stroke="#555" stroke-width="0.5"/>
<line x1="184.8" y1="636.3" x2="184.8" y2="637.6" stroke="#555" stroke-width="0.5"/>
<line x1="182.8" y1="636.3" x2="182.8" y2="637.6" stroke="#555" stroke-width="0.5"/>
<line x1="180.3" y1="636.3" x2="180.3" y2="637.6" stroke="#555" stroke-width="0.5"/>
<text x="189" y="643.3" font-size="3.3" fill="#333">10</text>
<text x="192.7" y="641.3" font-size="2.6" fill="#333">1</text>
<line x1="211.1" y1="636.3" x2="211.1" y2="638.5" stroke="#444" stroke-width="0.7"/>
<line x1="210.1" y1="636.3" x2="210.1" y2="637.6" stroke="#555" stroke-width="0.5"/>
<line x1="209.1" y1="636.3" x2="209.1" y2="637.6" stroke="#555" stroke-width="0.5"/>
<line x1="207.9" y1="636.3" x2="207.9" y2="637.6" stroke="#555" stroke-width="0.5"/>
<line x1="206.6" y1="636.3" x2="206.6" y2="637.6" stroke="#555" stroke-width="0.5"/>
<line x1="205" y1="636.3" x2="205" y2="637.6" stroke="#555" stroke-width="0.5"/>
<line x1="203" y1="636.3" x2="203" y2="637.6" stroke="#555" stroke-width="0.5"/>
<line x1="200.5" y1="636.3" x2="200.5" y2="637.6" stroke="#555" stroke-width="0.5"/>
<line x1="196.9" y1="636.3" x2="196.9" y2="637.6" stroke="#555" stroke-width="0.5"/>
<text x="209.2" y="643.3" font-size="3.3" fill="#333">10</text>
<text x="212.9" y="641.3" font-size="2.6" fill="#333">2</text>
<line x1="231.3" y1="636.3" x2="231.3" y2="638.5" stroke="#444" stroke-width="0.7"/>
<line x1="230.4" y1="636.3" x2="230.4" y2="637.6" stroke="#555" stroke-width="0.5"/>
<line x1="229.3" y1="636.3" x2="229.3" y2="637.6" stroke="#555" stroke-width="0.5"/>
<line x1="228.1" y1="636.3" x2="228.1" y2="637.6" stroke="#555" stroke-width="0.5"/>
<line x1="226.8" y1="636.3" x2="226.8" y2="637.6" stroke="#555" stroke-width="0.5"/>
<line x1="225.2" y1="636.3" x2="225.2" y2="637.6" stroke="#555" stroke-width="0.5"/>
<line x1="223.2" y1="636.3" x2="223.2" y2="637.6" stroke="#555" stroke-width="0.5"/>
<line x1="220.7" y1="636.3" x2="220.7" y2="637.6" stroke="#555" stroke-width="0.5"/>
<line x1="217.1" y1="636.3" x2="217.1" y2="637.6" stroke="#555" stroke-width="0.5"/>
<text x="229.4" y="643.3" font-size="3.3" fill="#333">10</text>
<text x="233.1" y="641.3" font-size="2.6" fill="#333">3</text>
<line x1="251.5" y1="636.3" x2="251.5" y2="638.5" stroke="#444" stroke-width="0.7"/>
<line x1="250.6" y1="636.3" x2="250.6" y2="637.6" stroke="#555" stroke-width="0.5"/>
<line x1="249.5" y1="636.3" x2="249.5" y2="637.6" stroke="#555" stroke-width="0.5"/>
<line x1="248.4" y1="636.3" x2="248.4" y2="637.6" stroke="#555" stroke-width="0.5"/>
<line x1="247" y1="636.3" x2="247" y2="637.6" stroke="#555" stroke-width="0.5"/>
<line x1="245.4" y1="636.3" x2="245.4" y2="637.6" stroke="#555" stroke-width="0.5"/>
<line x1="243.4" y1="636.3" x2="243.4" y2="637.6" stroke="#555" stroke-width="0.5"/>
<line x1="240.9" y1="636.3" x2="240.9" y2="637.6" stroke="#555" stroke-width="0.5"/>
<line x1="237.4" y1="636.3" x2="237.4" y2="637.6" stroke="#555" stroke-width="0.5"/>
<text x="249.6" y="643.3" font-size="3.3" fill="#333">10</text>
<text x="253.3" y="641.3" font-size="2.6" fill="#333">4</text>
<text x="181.1" y="557.7" font-size="3.4" fill="#333">Q1</text>
<text x="260" y="557.7" font-size="3.4" text-anchor="end" fill="#333">Q2</text>
<text x="181.1" y="634.7" font-size="3.4" fill="#333">Q3</text>
<text x="260" y="634.7" font-size="3.4" text-anchor="end" fill="#333">Q4</text>
<rect x="278.7" y="552.7" width="82.5" height="83.6" fill="#fff" stroke="none" stroke-width="1"/>
<ellipse cx="297.7" cy="615.4" rx="11.6" ry="5" fill="url(#core)" fill-opacity="0.6" transform="rotate(-45 297.7 615.4)"/>
<ellipse cx="324.1" cy="586.1" rx="8.2" ry="5" fill="url(#core)" fill-opacity="0.3" transform="rotate(-10 324.1 586.1)"/>
<g transform="translate(278.7 552.7) scale(0.08250 0.08360)"><path d="M222 680h9M364 664h9M134 803h9M456 447h9M222 787h9M89 883h9M287 726h9M194 736h9M29 941h9M214 781h9M192 754h9M281 657h9M265 685h9M224 693h9M265 748h9M143 835h9M198 723h9M254 822h9M196 871h9M208 800h9M233 675h9M84 898h9M368 699h9M368 660h9M146 883h9M41 869h9M304 735h9M166 745h9M121 859h9M120 815h9M208 834h9M455 640h9M320 677h9M214 816h9M163 815h9M70 784h9M121 908h9M415 673h9M367 734h9M404 695h9M132 782h9M59 830h9M367 659h9M182 766h9M245 718h9M221 747h9M151 770h9M274 721h9M398 568h9M325 707h9M131 821h9M155 769h9M439 517h9M354 734h9M305 633h9M367 619h9M344 635h9M370 528h9M309 716h9M372 689h9M306 600h9M275 739h9M178 816h9M329 666h9M341 596h9M197 801h9M189 759h9M135 753h9M348 781h9M141 841h9M314 733h9M255 770h9M270 737h9M163 766h9M121 767h9M246 738h9M158 809h9M290 777h9M473 603h9M173 813h9M198 819h9M215 728h9M304 726h9M264 691h9M242 721h9M218 808h9M191 726h9M201 702h9M185 781h9M42 818h9M192 828h9M148 771h9M270 680h9M239 727h9M441 493h9M248 734h9M190 750h9M139 748h9M226 690h9M273 658h9M271 678h9M151 775h9M46 862h9M42 831h9M296 627h9M336 781h9M187 812h9M168 851h9M110 783h9M232 739h9M311 583h9M296 693h9M240 840h9M117 789h9M288 726h9M283 681h9M205 804h9M185 782h9M338 784h9M267 735h9M423 636h9M236 686h9M271 673h9M224 769h9M123 891h9M275 701h9M256 817h9M172 679h9M210 763h9M212 786h9M124 734h9M407 613h9M135 752h9M185 709h9M239 669h9M91 812h9M382 638h9M249 636h9M73 838h9M172 771h9M377 653h9M367 663h9M133 782h9M267 811h9M231 776h9M214 703h9M283 698h9M181 754h9M237 674h9M188 813h9M231 750h9M280 698h9M233 776h9M215 796h9M256 780h9M293 593h9M442 599h9M95 811h9M195 670h9M123 772h9M21 947h9M123 797h9M266 730h9M302 679h9M439 573h9M30 875h9M323 660h9M223 752h9M253 852h9M251 752h9M101 827h9M30 867h9M194 736h9M337 695h9M155 848h9M181 792h9M262 702h9M185 767h9M254 748h9M301 759h9M253 689h9M21 964h9M168 757h9M284 621h9M242 720h9M137 878h9M262 664h9M320 681h9M349 649h9M113 789h9M306 720h9M224 728h9M86 860h9M237 790h9M121 775h9M208 800h9M173 683h9M250 701h9M104 808h9M171 693h9M279 658h9M286 707h9M392 611h9M220 777h9M257 712h9M166 789h9M239 774h9M99 893h9M220 739h9M299 665h9M288 753h9M154 743h9M177 810h9M329 761h9M163 803h9M247 765h9M85 883h9M211 732h9M182 761h9M375 686h9M147 809h9M104 742h9M339 755h9M282 674h9M166 874h9M296 633h9M319 714h9M256 738h9M140 910h9M211 891h9M129 848h9M210 810h9M305 652h9M114 775h9M338 732h9M181 817h9M261 733h9M205 740h9M138 764h9M383 640h9M204 713h9M31 826h9M146 789h9M111 775h9M303 710h9M268 749h9M203 809h9M62 902h9M247 725h9M289 639h9M112 922h9M63 879h9M250 737h9M97 825h9M203 807h9M280 749h9M246 725h9M187 759h9M183 878h9M359 652h9M313 690h9M237 684h9M236 740h9M309 688h9M292 667h9M67 923h9M242 789h9M250 742h9M210 812h9M349 624h9M186 823h9M340 670h9M204 748h9M267 660h9M135 799h9M82 842h9M129 756h9M57 860h9M232 778h9M222 696h9M406 703h9M146 782h9M180 737h9M204 837h9M147 834h9M590 504h9M232 814h9M136 757h9M75 875h9M365 653h9M127 897h9M283 821h9M211 729h9M277 757h9M330 685h9M180 802h9M116 881h9M252 730h9M228 623h9M163 786h9M227 767h9M172 664h9M307 699h9M388 690h9M134 815h9M302 764h9M198 738h9M186 818h9M213 804h9M188 902h9M251 721h9M311 643h9M240 745h9M306 675h9M339 570h9M207 684h9M394 600h9M141 751h9M238 801h9M364 620h9M133 798h9M235 807h9M77 793h9M269 766h9M385 626h9M115 815h9M230 746h9M148 878h9M59 846h9M302 751h9M327 645h9M150 767h9M169 779h9M332 721h9M111 803h9M270 749h9M325 661h9M83 816h9M200 733h9M179 702h9M406 609h9M155 802h9M78 810h9M84 814h9M373 614h9M323 696h9M266 790h9M64 898h9M175 717h9M57 858h9M406 639h9M297 680h9M215 796h9M266 727h9M235 841h9M236 774h9M155 681h9M100 779h9M322 697h9M141 845h9M272 737h9M100 941h9M447 570h9M314 661h9M81 780h9M273 732h9M105 767h9M57 895h9M106 798h9M258 807h9M96 814h9M134 823h9M146 866h9M38 968h9M51 868h9M249 726h9M277 752h9M137 812h9M290 721h9M111 816h9M253 724h9M261 748h9M58 808h9M309 639h9M294 690h9M190 824h9M70 745h9M199 662h9M153 758h9M229 687h9M268 740h9M188 792h9M32 839h9M18 770h9M196 769h9M373 588h9M150 866h9M201 778h9M102 799h9M15 837h9M274 728h9M159 752h9M306 670h9M222 755h9M190 801h9M247 706h9M237 698h9M261 749h9M168 766h9M100 831h9M27 907h9M80 815h9M260 734h9M428 554h9M350 646h9M423 644h9M116 808h9M466 572h9M171 760h9M263 743h9M259 673h9M239 823h9M233 710h9M377 599h9M220 821h9M123 825h9M80 817h9M167 727h9M30 949h9M378 585h9M211 629h9M225 717h9M240 614h9M294 714h9M52 900h9M280 642h9M248 672h9M397 630h9M280 761h9M166 704h9M399 660h9M80 824h9M256 710h9M232 738h9M261 722h9M309 662h9M38 888h9M154 722h9M189 819h9M196 643h9M332 694h9M36 845h9M75 817h9M334 620h9M305 694h9M192 764h9M195 801h9M215 820h9M117 764h9M92 803h9M139 810h9M219 824h9M212 865h9M146 865h9M239 836h9M273 721h9M345 722h9M273 743h9M121 923h9M367 718h9M195 758h9M266 733h9M215 760h9M435 560h9M71 799h9M19 931h9M283 688h9M336 753h9M337 587h9M25 912h9M266 790h9M328 695h9M212 796h9M166 764h9M113 859h9M202 787h9M260 706h9M345 792h9M173 738h9M234 746h9M202 693h9M129 975h9M249 721h9M80 835h9M83 790h9M231 718h9M176 715h9M227 755h9M238 707h9M150 838h9M193 778h9M267 670h9M272 682h9M73 869h9M51 879h9M213 778h9M204 664h9M285 624h9M144 814h9M339 652h9M276 788h9M522 541h9M229 716h9M75 829h9M258 742h9M114 760h9M280 683h9M156 752h9M42 876h9M228 641h9M234 771h9M138 856h9M305 719h9M254 770h9M206 760h9M88 799h9M103 876h9M266 719h9M247 715h9M389 599h9M230 699h9M293 674h9M139 842h9M100 827h9M266 692h9M256 780h9M181 796h9M127 814h9M216 707h9M217 752h9M25 857h9M176 795h9M176 733h9M113 860h9M169 854h9M236 758h9M181 821h9M428 563h9M221 668h9M440 574h9M186 830h9M447 555h9M73 923h9M122 847h9M315 601h9M46 809h9M186 770h9M193 717h9M42 790h9M257 726h9M217 778h9M56 895h9M138 848h9M149 769h9M228 727h9M496 506h9M171 866h9M357 657h9M334 664h9M203 697h9M115 891h9M74 846h9M275 698h9M101 770h9M95 750h9M172 836h9M126 799h9M363 560h9M277 689h9M324 719h9M294 706h9M215 753h9M379 625h9M232 769h9M267 705h9M225 722h9M124 754h9M164 742h9M161 822h9M136 669h9M146 826h9M272 658h9M482 530h9M188 800h9M337 607h9M312 715h9M77 890h9M80 840h9M320 674h9M156 754h9M200 698h9M446 710h9M258 650h9M283 741h9M308 693h9M420 629h9M99 797h9M177 860h9M21 845h9M291 737h9M282 678h9M89 841h9M199 830h9M224 699h9M210 747h9M267 786h9M287 755h9M146 849h9M232 723h9M128 711h9M174 724h9M289 745h9M216 718h9M291 649h9M281 672h9M117 805h9M231 814h9M276 745h9M197 823h9M200 755h9M76 864h9M303 701h9M100 833h9M327 699h9M181 704h9M60 907h9M277 652h9M343 706h9M85 856h9M300 637h9M63 843h9M112 838h9M246 725h9M159 822h9M117 805h9M317 646h9M320 645h9M225 802h9M302 738h9M392 652h9M168 842h9M250 711h9M298 679h9M100 811h9M172 738h9M263 719h9M55 916h9M214 710h9M88 855h9M44 858h9M238 816h9M294 749h9M284 762h9M225 748h9M201 817h9M193 885h9M162 747h9M407 527h9M388 642h9M233 706h9M247 755h9M126 810h9M165 800h9M170 786h9M290 680h9M338 708h9M300 684h9M143 833h9M110 860h9M332 754h9M182 774h9M387 534h9M256 672h9M102 805h9M277 650h9M320 739h9M68 819h9M121 728h9M244 641h9M220 772h9M364 601h9M159 643h9M218 680h9M306 662h9M241 778h9M176 715h9M327 650h9M57 884h9M308 584h9M169 749h9M110 766h9M315 597h9M220 803h9M182 768h9M204 814h9M263 754h9M255 722h9M189 744h9M263 766h9M104 821h9M254 727h9M205 816h9M234 656h9M269 653h9M381 544h9M388 699h9M378 583h9M237 791h9M225 765h9M212 689h9M152 824h9M179 720h9M316 666h9M35 895h9M194 794h9M135 792h9M143 853h9M183 803h9M269 774h9M345 573h9M134 782h9M76 760h9M357 707h9M255 703h9M255 725h9M155 774h9M367 606h9M143 828h9M177 789h9M270 684h9M396 709h9M138 830h9M215 788h9M209 798h9M104 779h9M330 735h9M387 638h9M185 728h9M372 587h9M358 723h9M343 771h9M186 829h9M353 623h9M227 706h9M224 681h9M151 798h9M57 908h9M104 849h9M178 787h9M149 752h9M107 856h9M298 646h9M251 624h9M356 719h9M226 741h9M352 654h9M125 865h9M335 705h9M187 854h9M258 794h9M110 856h9M282 688h9M248 747h9M394 564h9M240 797h9M244 709h9M142 877h9M279 713h9M205 802h9M319 703h9M206 715h9M479 637h9M276 671h9M210 769h9M118 787h9M174 832h9M149 667h9M425 603h9M202 762h9M260 714h9M137 674h9M127 844h9M214 733h9M256 781h9M211 863h9M229 696h9M258 704h9M127 812h9M293 695h9M184 734h9M246 756h9M41 853h9M255 731h9M252 740h9M434 644h9M152 684h9M274 722h9M264 652h9M295 819h9M170 811h9M404 554h9M61 906h9M405 597h9M138 749h9M519 572h9M103 878h9M215 833h9M227 746h9M219 717h9M203 765h9M219 798h9M269 756h9M265 680h9M176 790h9M373 564h9M311 687h9M141 791h9M118 828h9M312 602h9M202 821h9M121 780h9M296 672h9M94 915h9M257 760h9M168 697h9M299 719h9M250 838h9M64 833h9M69 757h9M131 691h9M132 840h9M141 776h9M134 729h9M215 761h9M162 799h9M320 667h9M174 832h9M42 835h9M193 746h9M386 671h9M215 728h9M230 757h9M254 708h9M280 743h9M360 613h9M125 840h9M237 789h9M250 632h9M152 813h9M224 760h9M149 818h9M280 691h9M207 688h9M194 806h9M158 753h9M242 779h9M294 653h9M389 560h9M212 778h9M110 813h9M147 854h9M316 620h9M272 679h9M73 763h9M311 652h9M254 743h9M362 656h9M215 791h9M152 807h9M332 689h9M231 731h9M43 905h9M315 734h9M177 814h9M83 771h9M232 601h9M143 738h9M221 792h9M337 679h9M56 815h9M219 765h9M299 710h9M172 791h9M194 737h9M246 795h9M134 800h9M210 823h9M180 802h9M388 686h9M393 722h9M130 852h9M355 638h9M219 747h9M210 723h9M272 728h9M183 787h9M147 740h9M316 664h9M347 687h9M41 878h9M304 736h9M239 708h9M170 737h9M407 559h9M292 756h9M295 681h9M205 715h9M177 763h9M242 817h9M76 768h9M55 803h9M265 719h9M87 910h9M262 769h9M203 699h9M477 527h9M231 770h9M117 886h9M144 772h9M132 797h9M208 778h9M270 732h9M16 899h9M193 739h9M271 667h9M299 631h9M40 952h9M265 702h9M131 751h9M294 762h9M264 723h9M176 747h9M193 814h9M267 700h9M237 724h9M23 765h9M234 681h9M29 943h9M150 845h9M339 643h9M164 829h9M388 640h9M359 699h9M150 774h9M134 762h9M97 837h9M205 799h9M305 644h9M222 747h9M327 727h9M337 779h9M225 743h9M178 811h9M359 639h9M221 758h9M213 715h9M85 864h9M163 745h9M391 641h9M416 681h9M79 805h9M91 834h9M344 726h9M427 624h9M204 769h9M69 824h9M191 731h9M70 826h9M366 654h9M333 660h9M104 820h9M166 662h9M217 818h9M101 867h9M199 743h9M225 756h9M372 555h9M98 870h9M171 759h9M235 641h9M116 801h9M161 773h9M231 635h9M258 709h9M213 876h9M258 752h9M169 839h9M124 785h9M193 784h9M191 718h9M63 863h9M246 806h9M164 796h9M371 604h9M257 763h9M316 664h9M275 729h9M351 616h9M311 742h9M292 665h9M350 663h9M133 857h9M357 588h9M227 728h9M46 858h9M294 674h9M200 712h9M247 685h9M187 766h9M158 865h9M377 703h9M250 761h9M260 762h9M231 673h9M186 821h9M257 701h9M238 799h9M68 850h9M145 714h9M269 707h9M227 785h9M203 795h9M300 638h9M26 938h9M211 690h9M408 569h9M280 737h9M112 921h9M131 869h9M264 788h9M152 770h9M390 600h9M215 742h9M242 791h9M429 627h9M104 895h9M333 743h9M416 641h9M178 847h9M294 681h9M146 695h9M203 873h9M388 671h9M107 847h9M310 747h9M34 859h9M102 846h9M273 740h9M26 910h9M226 725h9M298 689h9M291 650h9M111 827h9M112 899h9M177 753h9M212 707h9M153 810h9M167 803h9M88 895h9M183 676h9M48 887h9M239 677h9M411 600h9M339 723h9M356 660h9M256 679h9M166 747h9M415 646h9M157 760h9M410 640h9M217 762h9M202 674h9M78 863h9M278 691h9M225 770h9M219 724h9M255 598h9M212 728h9M230 703h9M189 834h9M340 690h9M62 876h9M190 780h9M184 823h9M132 967h9M154 671h9M191 756h9M312 678h9M297 657h9M241 742h9M337 589h9M117 826h9M181 816h9M209 778h9M291 703h9M169 763h9M95 943h9M148 818h9M153 860h9M339 695h9M229 776h9M350 704h9M217 685h9M186 771h9M195 736h9M169 850h9M114 851h9M238 760h9M135 794h9M250 759h9M371 597h9M246 757h9M152 866h9M263 612h9M334 681h9M244 709h9M256 777h9M216 753h9M205 758h9M145 830h9M166 801h9M384 600h9M212 808h9M139 863h9M109 876h9M149 785h9M17 941h9M227 749h9M183 703h9M474 697h9M157 775h9M229 718h9M192 684h9M134 870h9M166 748h9M354 617h9M141 790h9M153 841h9M218 738h9M50 781h9M531 395h9M489 357h9M659 334h9M555 401h9M723 363h9M602 404h9M649 344h9M403 436h9M524 488h9M648 427h9M471 400h9M553 334h9M687 340h9M529 381h9M604 323h9M482 447h9M573 357h9M665 520h9M615 428h9M505 452h9M596 314h9M537 454h9M512 462h9M361 396h9M465 447h9M515 358h9M631 357h9M418 406h9M581 378h9M405 347h9M759 285h9M489 432h9M445 374h9M679 340h9M433 426h9M463 351h9M454 392h9M447 497h9M559 449h9M622 444h9M597 309h9M645 332h9M597 357h9M608 403h9M572 453h9M600 450h9M442 411h9M670 423h9M609 400h9M555 330h9M459 473h9M617 374h9M583 413h9M572 425h9M516 355h9M435 328h9M585 374h9M577 530h9M495 450h9M495 426h9M518 364h9M708 443h9M540 403h9M520 333h9M559 370h9M428 387h9M432 416h9M490 434h9M360 421h9M554 492h9M563 364h9M544 392h9M569 368h9M505 395h9M738 418h9M614 332h9M501 399h9M510 327h9M605 483h9M621 377h9M604 381h9M549 280h9M564 415h9M607 354h9M474 413h9M566 506h9M588 197h9M674 440h9M525 407h9M559 345h9M546 458h9M586 377h9M423 390h9M502 318h9M707 468h9M531 353h9M464 543h9M502 347h9M535 470h9M500 548h9M406 379h9M522 501h9M570 331h9M566 390h9M545 368h9M542 515h9M466 398h9M611 370h9M382 413h9M590 481h9M575 385h9M702 422h9M458 415h9M502 392h9M608 365h9M539 432h9M340 391h9M568 348h9M586 421h9M621 415h9M550 400h9M753 354h9M491 509h9M652 428h9M508 392h9M462 362h9M569 288h9M498 334h9M277 410h9M594 361h9M460 462h9M444 489h9M552 291h9M493 355h9M523 418h9M778 323h9M619 436h9M591 334h9M679 332h9M553 442h9M442 449h9M472 373h9M481 360h9M377 356h9M481 426h9M507 406h9M582 484h9M560 412h9M477 523h9M569 256h9M456 474h9M530 330h9M609 334h9M448 491h9M688 213h9M590 436h9M512 348h9M528 407h9M486 456h9M699 415h9M540 385h9M522 426h9M423 546h9M450 425h9M567 319h9M424 412h9M603 357h9M541 493h9M662 428h9M583 377h9M360 376h9M448 347h9M626 338h9M415 400h9M539 389h9M558 385h9M568 419h9M515 478h9M590 487h9M450 469h9M499 504h9M688 463h9M574 462h9M559 380h9M623 482h9M537 361h9M719 360h9M670 282h9M553 394h9M461 388h9M413 409h9M462 390h9M638 469h9M486 469h9M447 382h9M664 389h9M617 553h9M502 462h9M496 433h9M546 478h9M603 352h9M451 537h9M452 428h9M718 349h9M528 341h9M458 402h9M350 379h9M454 340h9M581 422h9M522 443h9M548 430h9M659 366h9M436 433h9M463 520h9M450 468h9M499 351h9M458 429h9M546 473h9M626 353h9M322 422h9M423 462h9M552 432h9M521 411h9M546 327h9M601 374h9M567 553h9M503 411h9M514 394h9M589 449h9M615 383h9M677 351h9M606 347h9M626 352h9M538 382h9M584 412h9M653 440h9M457 450h9M589 252h9M690 399h9M616 396h9M536 465h9M623 383h9M526 416h9M571 308h9M574 428h9M454 366h9M574 342h9M473 416h9M637 306h9M675 399h9M494 468h9M500 309h9M542 353h9M471 392h9M585 380h9M561 462h9M592 403h9M439 363h9M635 443h9M795 454h9M662 538h9M425 380h9M450 410h9M483 485h9M560 432h9M584 294h9M428 486h9M584 392h9M715 256h9M413 437h9M636 320h9M557 415h9M692 388h9M672 384h9M663 386h9M412 507h9M436 430h9M454 435h9M725 350h9M465 393h9M540 440h9M495 562h9M640 406h9M486 257h9M602 437h9M663 379h9M507 381h9M407 387h9M482 368h9M696 443h9M413 445h9M571 403h9M463 518h9M688 301h9M485 379h9M566 476h9M655 474h9M455 384h9M662 333h9M635 406h9M456 355h9M514 297h9M626 487h9M592 490h9M521 449h9M404 323h9M567 305h9M603 358h9M556 306h9M619 385h9M536 304h9M477 425h9M646 410h9M431 371h9M540 305h9M481 452h9M512 312h9M435 321h9M534 493h9M568 374h9M466 446h9M359 430h9M686 300h9M686 353h9M512 453h9M661 400h9M623 473h9M524 414h9M629 278h9M494 421h9M484 310h9M447 336h9M501 416h9M481 413h9M461 356h9M578 360h9M474 400h9M428 410h9M715 320h9M572 353h9M398 547h9M559 395h9M727 334h9M503 423h9M569 379h9M407 543h9M516 472h9M474 416h9M489 402h9M527 397h9M431 436h9M511 432h9M454 500h9M532 262h9M660 326h9M772 310h9M628 275h9M587 353h9M616 482h9M678 447h9M624 333h9M497 377h9M429 446h9M638 331h9M668 414h9M683 335h9M750 306h9M621 411h9M563 374h9M600 406h9M542 346h9M705 278h9M556 467h9M578 476h9M554 409h9M525 458h9M630 355h9M429 413h9M519 483h9M536 407h9M511 449h9M522 205h9M550 338h9M472 414h9M497 352h9M541 345h9M590 465h9M494 456h9M457 379h9M784 393h9M518 420h9M523 361h9M595 448h9M598 488h9M451 494h9M567 426h9M464 436h9M581 373h9M525 364h9M574 321h9M491 238h9M574 324h9M528 422h9M619 441h9M653 292h9M660 538h9M550 426h9M551 508h9M365 348h9M535 452h9M516 461h9M561 417h9M695 346h9M651 426h9M500 455h9M448 477h9M516 386h9M501 425h9M542 315h9M464 462h9M539 452h9M684 385h9M546 345h9M651 350h9M592 442h9M608 495h9M544 285h9M589 428h9M552 396h9M600 404h9M441 445h9M535 413h9M334 467h9M757 418h9M435 307h9M496 541h9M518 441h9M589 462h9M430 372h9M496 396h9M583 363h9M552 403h9M652 425h9M564 297h9M548 437h9M600 406h9M605 381h9M577 333h9M494 513h9M557 301h9M453 499h9M428 445h9M581 437h9M515 496h9M455 437h9M516 447h9M501 424h9M459 349h9M522 275h9M502 410h9M565 449h9M607 379h9M531 386h9M499 502h9M471 482h9M479 449h9M556 219h9M639 409h9M440 494h9M430 403h9M436 450h9M584 458h9M501 417h9M615 375h9M572 344h9M614 384h9M608 439h9M577 247h9M695 426h9M421 373h9M420 440h9M579 329h9M575 360h9M641 426h9M498 362h9M663 407h9M506 428h9M511 371h9M564 387h9M531 339h9M576 338h9M461 405h9M526 455h9M609 384h9M503 381h9M436 445h9M543 534h9M600 382h9M470 503h9M618 357h9M530 398h9M425 364h9M666 376h9M463 305h9M411 342h9M327 388h9M582 461h9M688 382h9M547 452h9M473 401h9M531 394h9M652 315h9M494 491h9M569 403h9M430 304h9M493 449h9M640 287h9M670 450h9M498 360h9M611 378h9M476 296h9M561 375h9M461 466h9M682 322h9M559 432h9M511 331h9M538 375h9M519 416h9M602 327h9M530 463h9M517 392h9M598 356h9M542 402h9M485 469h9M585 289h9M444 466h9M580 397h9M547 270h9M554 432h9M613 370h9M475 323h9M498 390h9M422 412h9M465 537h9M684 442h9M535 423h9M490 430h9M356 390h9M380 458h9M371 321h9M696 380h9M399 437h9M530 422h9M501 312h9M633 296h9M669 427h9M513 426h9M441 515h9M411 377h9M704 384h9M648 374h9M508 356h9M522 435h9M573 410h9M508 351h9M555 540h9M581 395h9M501 263h9M465 495h9M656 371h9M636 377h9M660 364h9M544 406h9M542 395h9M434 412h9M545 337h9M439 440h9M585 322h9M404 379h9M507 405h9M566 406h9M561 470h9M578 441h9M540 336h9M433 448h9M616 363h9M539 387h9M497 353h9M582 431h9M608 437h9M529 523h9M599 342h9M599 369h9M492 274h9M352 372h9M616 359h9M536 378h9M565 240h9M506 435h9M474 485h9M540 390h9M657 347h9M526 401h9M444 369h9M468 474h9M487 519h9M630 352h9M454 390h9M449 431h9M568 517h9M487 483h9M501 355h9M374 457h9M534 437h9M628 360h9M619 369h9M498 444h9M568 339h9M606 331h9M639 317h9M629 400h9M600 442h9M575 372h9M592 465h9M567 247h9M582 310h9M564 457h9M409 432h9M568 341h9M696 415h9M621 332h9M591 425h9M588 431h9M444 427h9M742 377h9M511 396h9M539 361h9M370 421h9M501 307h9M580 396h9M418 405h9M574 509h9M611 320h9M640 390h9M529 485h9M503 532h9M572 420h9M488 411h9M444 366h9M661 396h9M158 401h9M369 362h9M329 420h9M404 394h9M155 472h9M433 455h9M394 308h9M277 382h9M299 383h9M254 385h9M367 351h9M233 297h9M378 375h9M351 398h9M311 413h9M245 430h9M137 423h9M336 301h9M241 514h9M277 359h9M440 403h9M321 435h9M273 364h9M319 443h9M218 423h9M442 404h9M204 399h9M305 333h9M219 341h9M419 412h9M369 399h9M374 418h9M346 409h9M378 412h9M332 415h9M304 455h9M285 424h9M367 397h9M213 408h9M308 464h9M457 357h9M246 387h9M238 406h9M223 403h9M315 385h9M231 416h9M342 444h9M260 400h9M280 542h9M263 387h9M257 379h9M224 351h9M240 457h9M243 290h9M287 356h9M444 395h9M209 388h9M287 359h9M424 443h9M368 335h9M381 443h9M344 308h9M297 485h9M237 317h9M213 463h9M438 310h9M414 365h9M295 408h9M237 379h9M393 395h9M448 462h9M227 359h9M206 475h9M414 358h9M323 406h9M296 392h9M273 471h9M168 349h9M373 443h9M362 418h9M362 331h9M306 301h9M206 417h9M272 425h9M378 407h9M249 357h9M422 391h9M290 419h9M502 384h9M246 327h9M244 401h9M318 517h9M374 381h9M334 417h9M337 485h9M351 322h9M316 320h9M291 357h9M405 401h9M459 373h9M344 368h9M243 389h9M295 387h9M385 414h9M326 467h9M218 392h9M323 310h9M252 321h9M315 349h9M392 421h9M266 458h9M312 361h9M250 358h9M375 395h9M307 376h9M262 391h9M140 492h9M234 361h9M313 497h9M406 412h9M305 440h9M271 371h9M406 372h9M320 455h9M248 393h9M296 482h9M456 403h9M171 441h9M181 498h9M327 342h9M262 424h9M293 400h9M453 331h9M282 482h9M321 297h9M305 298h9M250 485h9M244 494h9M293 352h9M229 407h9M221 474h9M378 305h9M287 385h9M443 421h9M342 416h9M379 394h9M352 341h9M340 498h9M361 323h9M272 430h9M408 509h9M152 381h9M163 342h9M358 314h9M278 295h9M168 425h9M318 372h9M315 404h9M357 400h9M459 453h9M197 368h9M322 397h9M253 453h9M195 391h9M318 370h9M352 354h9M94 433h9M311 517h9M316 385h9M271 390h9M368 412h9M205 367h9M329 363h9M245 480h9M274 371h9M265 391h9M366 433h9M215 403h9M345 379h9M230 462h9M382 409h9M325 395h9M250 356h9M346 382h9M266 381h9M416 403h9M306 399h9M336 435h9M275 464h9M275 412h9M340 390h9M344 428h9M255 386h9M293 368h9M186 396h9M305 502h9M314 368h9M283 360h9M397 399h9M148 407h9M109 431h9M269 499h9M280 403h9M303 329h9M281 454h9M352 452h9M200 393h9M237 375h9M261 377h9M247 469h9M333 339h9M431 314h9M276 433h9M166 399h9M418 267h9M246 426h9M388 422h9M299 300h9M345 379h9M526 312h9M452 401h9M403 435h9M361 381h9M214 367h9M375 335h9M324 407h9M407 373h9M244 449h9M289 461h9M262 438h9M375 446h9M333 418h9M312 392h9M314 383h9M308 417h9M360 435h9M221 369h9M421 455h9M384 405h9M318 305h9M389 352h9M422 469h9M254 338h9M283 435h9M181 439h9M412 431h9M284 470h9M281 446h9M355 410h9M325 410h9M376 417h9M319 414h9M347 363h9M445 375h9M332 450h9M273 399h9M315 400h9M455 357h9M346 434h9M210 359h9M300 493h9M388 297h9M315 333h9M274 455h9M458 359h9M443 361h9M247 403h9M345 404h9M310 381h9M395 384h9M364 404h9M166 332h9M313 338h9M349 419h9M208 445h9M336 446h9M337 374h9M311 415h9M347 422h9M174 389h9M350 357h9M269 494h9M233 368h9M226 464h9M376 360h9M262 452h9M306 473h9M244 393h9M217 439h9M324 391h9M303 409h9M417 429h9M425 425h9M475 288h9M105 437h9M310 455h9M265 363h9M227 410h9M369 396h9M294 390h9M447 741h9M507 450h9M619 705h9M529 690h9M602 651h9M502 653h9M631 561h9M540 544h9M614 631h9M475 812h9M592 603h9M473 588h9M493 605h9M529 563h9M497 581h9M590 586h9M512 706h9M592 639h9M535 582h9M672 839h9M570 641h9M685 718h9M527 679h9M631 623h9M663 510h9M642 515h9M550 669h9M492 519h9M652 546h9M604 501h9M654 666h9M628 656h9M512 465h9M630 695h9M438 465h9M399 527h9M595 532h9M571 618h9M495 540h9M520 679h9M554 673h9M609 495h9M612 732h9M569 529h9M385 572h9M638 515h9M611 653h9M642 589h9M567 635h9M531 714h9M578 588h9M652 731h9M556 601h9M516 614h9M435 554h9M665 623h9M539 655h9M602 656h9M673 651h9M512 657h9M530 733h9M584 733h9M441 633h9M783 422h9M666 754h9M533 636h9M620 640h9M546 713h9M594 578h9M376 522h9M521 595h9M470 594h9M677 486h9M613 585h9M519 496h9M622 664h9M561 778h9M534 685h9M586 666h9M638 706h9M676 617h9M630 726h9M539 552h9M565 359h9M321 679h9M448 530h9M628 663h9M560 756h9M575 556h9M527 543h9M463 753h9M586 709h9M626 577h9M605 622h9M567 760h9M730 595h9M681 754h9M544 504h9M608 548h9M611 463h9M574 481h9M543 549h9M527 709h9M551 690h9M632 556h9M460 654h9M716 579h9M555 666h9M567 506h9M588 637h9M632 781h9M465 654h9M468 722h9M521 755h9M497 554h9M605 678h9M452 782h9M427 530h9M474 866h9M545 538h9M598 679h9M553 556h9M495 645h9M672 585h9M520 587h9M756 566h9M598 400h9M593 773h9M568 535h9M578 538h9M535 694h9M701 525h9M543 685h9M443 579h9M628 815h9M695 722h9M651 695h9M680 535h9M597 679h9M689 689h9M568 618h9M440 589h9M634 711h9M605 575h9M530 671h9M533 679h9M475 661h9M500 616h9M460 783h9M564 642h9M603 694h9M609 556h9M523 655h9M567 487h9M623 623h9M601 678h9M572 513h9M588 515h9M596 684h9M589 577h9M600 537h9M809 573h9M622 622h9M466 633h9M553 543h9M641 639h9M489 471h9M621 801h9M566 717h9M434 716h9M519 454h9M407 565h9M652 565h9M481 698h9M708 657h9M586 587h9M673 521h9M614 715h9M646 583h9M544 598h9M702 421h9M617 712h9M565 645h9M636 479h9M560 755h9M480 402h9M432 822h9M620 544h9M583 687h9M572 516h9M580 548h9M571 619h9M579 622h9M529 573h9M460 614h9M414 766h9M638 626h9M689 557h9M482 619h9M555 875h9M478 639h9M503 562h9M630 804h9M571 639h9M554 641h9M489 630h9M495 604h9M697 750h9M595 698h9M529 606h9M669 655h9M467 741h9M578 752h9M644 661h9M704 457h9M452 672h9M577 576h9M534 634h9M491 610h9M544 658h9M599 543h9M544 509h9M530 654h9M557 928h9M491 659h9M539 795h9M501 728h9M672 657h9M442 583h9M513 750h9M586 724h9M578 536h9M539 666h9M572 583h9M572 695h9M543 593h9M523 780h9M545 617h9M488 726h9M666 445h9M433 502h9M763 789h9M602 608h9M598 510h9M589 640h9M575 717h9M457 527h9M643 627h9M436 672h9M573 564h9M614 596h9M628 590h9M524 584h9M613 522h9M639 443h9M679 507h9M543 521h9M533 775h9M552 651h9M556 483h9M593 631h9M463 442h9M699 581h9M525 554h9M541 540h9M600 545h9M681 460h9M660 420h9M548 571h9M658 602h9M507 570h9M575 534h9M575 529h9M536 646h9M731 518h9M529 371h9M512 712h9M546 631h9M415 813h9M665 587h9M507 579h9M563 572h9M619 753h9M649 557h9M627 766h9M618 669h9M658 561h9M476 589h9M557 763h9M594 642h9M636 679h9M636 659h9M513 639h9M543 549h9M630 643h9M684 499h9M590 523h9M703 619h9M589 653h9M523 344h9M496 699h9M476 810h9M569 559h9M663 577h9M582 486h9M626 648h9M526 677h9M603 609h9M508 730h9M531 585h9M637 706h9M546 497h9M524 460h9M594 747h9M634 529h9M548 631h9M507 537h9M567 794h9M605 645h9M563 740h9M572 487h9M741 419h9M671 572h9M564 490h9M544 439h9M572 539h9M707 571h9M548 539h9M486 583h9M560 653h9M518 431h9M552 563h9M479 584h9M671 579h9M466 580h9M738 603h9M425 608h9M694 603h9M710 630h9M500 601h9M598 704h9M535 566h9M444 733h9M558 696h9M508 718h9M514 428h9M492 684h9M683 389h9M439 506h9M564 618h9M453 570h9M452 699h9M693 687h9M567 613h9M609 525h9M645 604h9M642 591h9M594 655h9M580 679h9M572 614h9M570 577h9M554 602h9M574 453h9M660 757h9M615 594h9M622 526h9M457 532h9M543 729h9M670 682h9M762 635h9M660 514h9M341 576h9M610 654h9M623 736h9M730 703h9M538 686h9M643 728h9M553 613h9M615 530h9M482 706h9M601 717h9M694 733h9M560 580h9M707 610h9M708 622h9M605 518h9M523 576h9M615 745h9M580 589h9M711 526h9M543 625h9M529 531h9M520 718h9M629 603h9M545 685h9M533 652h9M598 519h9M629 631h9M634 507h9M560 840h9M527 691h9M454 712h9M637 569h9M544 724h9M685 509h9M569 750h9M587 557h9M599 601h9M700 513h9M561 487h9M509 680h9M647 491h9M465 722h9M584 655h9M804 595h9M564 675h9M472 619h9M574 651h9M596 602h9M592 641h9M561 624h9M504 379h9M631 595h9M659 372h9M486 587h9M570 484h9M616 680h9M624 511h9M562 613h9M514 636h9M588 550h9M626 883h9M597 555h9M556 607h9M505 721h9M705 664h9M600 582h9M539 649h9M441 816h9M600 618h9M596 548h9M599 661h9M525 697h9M596 651h9M534 592h9M648 586h9M676 483h9M583 690h9M598 519h9M726 587h9M561 577h9M598 731h9M653 707h9M726 521h9M664 731h9M483 651h9M555 692h9M556 663h9M512 600h9M502 794h9M582 625h9M573 586h9M568 444h9M544 693h9M564 617h9M528 646h9M408 752h9M694 436h9M463 575h9M495 572h9M515 533h9M664 556h9M550 530h9M448 626h9M510 652h9M567 673h9M646 682h9M545 717h9M646 683h9M611 479h9M448 522h9M479 722h9M651 662h9M549 710h9M596 371h9M635 668h9M629 566h9M659 693h9M581 622h9M473 579h9M509 706h9M684 650h9M576 776h9M540 597h9M652 465h9M718 675h9M639 641h9M500 834h9M612 435h9M565 634h9M489 613h9M651 567h9M514 698h9M585 753h9M505 548h9M593 695h9M603 711h9M625 589h9M530 696h9M440 671h9M537 453h9M497 570h9M603 722h9M664 604h9M534 693h9M726 582h9M569 580h9M564 512h9M573 471h9M467 506h9M588 595h9M535 593h9M523 488h9M680 484h9M658 559h9M598 692h9M622 408h9M427 641h9M572 567h9M542 765h9M571 616h9M624 783h9M723 731h9M528 724h9M464 633h9M496 504h9M644 528h9M387 816h9M509 584h9M589 644h9M504 580h9M723 435h9M635 509h9M387 496h9M448 647h9M424 617h9M493 465h9M700 645h9M424 573h9M499 537h9M590 619h9M403 724h9M559 349h9M95 25h9M124 837h9M242 658h9M462 956h9M541 339h9M817 209h9M931 914h9M601 222h9M262 411h9M554 98h9M88 220h9M455 781h9M851 372h9M820 669h9M176 299h9M450 539h9M65 842h9M551 764h9M531 267h9M237 277h9M782 777h9M354 237h9M225 511h9M58 668h9M276 565h9M90 471h9M767 811h9M106 973h9M200 207h9M748 79h9M628 762h9M658 187h9M221 72h9M305 655h9M327 320h9M706 553h9M603 792h9" stroke="#e2281f" stroke-width="9.5" stroke-opacity="0.42" fill="none"/></g>
<line x1="314.3" y1="552.7" x2="314.3" y2="636.3" stroke="#5a5a5a" stroke-width="0.85"/>
<line x1="278.7" y1="594.7" x2="361.2" y2="594.7" stroke="#5a5a5a" stroke-width="0.85"/>
<rect x="278.7" y="552.7" width="82.5" height="83.6" fill="none" stroke="#858585" stroke-width="0.85"/>
<line x1="276.5" y1="561.9" x2="278.7" y2="561.9" stroke="#444" stroke-width="0.7"/>
<line x1="277.4" y1="562.8" x2="278.7" y2="562.8" stroke="#555" stroke-width="0.5"/>
<line x1="277.4" y1="563.9" x2="278.7" y2="563.9" stroke="#555" stroke-width="0.5"/>
<line x1="277.4" y1="565.1" x2="278.7" y2="565.1" stroke="#555" stroke-width="0.5"/>
<line x1="277.4" y1="566.4" x2="278.7" y2="566.4" stroke="#555" stroke-width="0.5"/>
<line x1="277.4" y1="568.1" x2="278.7" y2="568.1" stroke="#555" stroke-width="0.5"/>
<line x1="277.4" y1="570" x2="278.7" y2="570" stroke="#555" stroke-width="0.5"/>
<line x1="277.4" y1="572.6" x2="278.7" y2="572.6" stroke="#555" stroke-width="0.5"/>
<line x1="277.4" y1="576.2" x2="278.7" y2="576.2" stroke="#555" stroke-width="0.5"/>
<text x="276.1" y="563.3" font-size="3.3" text-anchor="end" fill="#333">10</text>
<text x="272.5" y="560.7" font-size="2.6" text-anchor="end" fill="#333">4</text>
<line x1="276.5" y1="582.4" x2="278.7" y2="582.4" stroke="#444" stroke-width="0.7"/>
<line x1="277.4" y1="583.3" x2="278.7" y2="583.3" stroke="#555" stroke-width="0.5"/>
<line x1="277.4" y1="584.4" x2="278.7" y2="584.4" stroke="#555" stroke-width="0.5"/>
<line x1="277.4" y1="585.6" x2="278.7" y2="585.6" stroke="#555" stroke-width="0.5"/>
<line x1="277.4" y1="586.9" x2="278.7" y2="586.9" stroke="#555" stroke-width="0.5"/>
<line x1="277.4" y1="588.5" x2="278.7" y2="588.5" stroke="#555" stroke-width="0.5"/>
<line x1="277.4" y1="590.5" x2="278.7" y2="590.5" stroke="#555" stroke-width="0.5"/>
<line x1="277.4" y1="593.1" x2="278.7" y2="593.1" stroke="#555" stroke-width="0.5"/>
<line x1="277.4" y1="596.7" x2="278.7" y2="596.7" stroke="#555" stroke-width="0.5"/>
<text x="276.1" y="583.8" font-size="3.3" text-anchor="end" fill="#333">10</text>
<text x="272.5" y="581.2" font-size="2.6" text-anchor="end" fill="#333">3</text>
<line x1="276.5" y1="602.9" x2="278.7" y2="602.9" stroke="#444" stroke-width="0.7"/>
<line x1="277.4" y1="603.8" x2="278.7" y2="603.8" stroke="#555" stroke-width="0.5"/>
<line x1="277.4" y1="604.8" x2="278.7" y2="604.8" stroke="#555" stroke-width="0.5"/>
<line x1="277.4" y1="606" x2="278.7" y2="606" stroke="#555" stroke-width="0.5"/>
<line x1="277.4" y1="607.4" x2="278.7" y2="607.4" stroke="#555" stroke-width="0.5"/>
<line x1="277.4" y1="609" x2="278.7" y2="609" stroke="#555" stroke-width="0.5"/>
<line x1="277.4" y1="611" x2="278.7" y2="611" stroke="#555" stroke-width="0.5"/>
<line x1="277.4" y1="613.6" x2="278.7" y2="613.6" stroke="#555" stroke-width="0.5"/>
<line x1="277.4" y1="617.2" x2="278.7" y2="617.2" stroke="#555" stroke-width="0.5"/>
<text x="276.1" y="604.3" font-size="3.3" text-anchor="end" fill="#333">10</text>
<text x="272.5" y="601.7" font-size="2.6" text-anchor="end" fill="#333">2</text>
<line x1="276.5" y1="623.3" x2="278.7" y2="623.3" stroke="#444" stroke-width="0.7"/>
<line x1="277.4" y1="624.3" x2="278.7" y2="624.3" stroke="#555" stroke-width="0.5"/>
<line x1="277.4" y1="625.3" x2="278.7" y2="625.3" stroke="#555" stroke-width="0.5"/>
<line x1="277.4" y1="626.5" x2="278.7" y2="626.5" stroke="#555" stroke-width="0.5"/>
<line x1="277.4" y1="627.9" x2="278.7" y2="627.9" stroke="#555" stroke-width="0.5"/>
<line x1="277.4" y1="629.5" x2="278.7" y2="629.5" stroke="#555" stroke-width="0.5"/>
<line x1="277.4" y1="631.5" x2="278.7" y2="631.5" stroke="#555" stroke-width="0.5"/>
<line x1="277.4" y1="634.1" x2="278.7" y2="634.1" stroke="#555" stroke-width="0.5"/>
<text x="276.1" y="624.7" font-size="3.3" text-anchor="end" fill="#333">10</text>
<text x="272.5" y="622.1" font-size="2.6" text-anchor="end" fill="#333">1</text>
<line x1="290.2" y1="636.3" x2="290.2" y2="638.5" stroke="#444" stroke-width="0.7"/>
<line x1="289.3" y1="636.3" x2="289.3" y2="637.6" stroke="#555" stroke-width="0.5"/>
<line x1="288.3" y1="636.3" x2="288.3" y2="637.6" stroke="#555" stroke-width="0.5"/>
<line x1="287.1" y1="636.3" x2="287.1" y2="637.6" stroke="#555" stroke-width="0.5"/>
<line x1="285.8" y1="636.3" x2="285.8" y2="637.6" stroke="#555" stroke-width="0.5"/>
<line x1="284.2" y1="636.3" x2="284.2" y2="637.6" stroke="#555" stroke-width="0.5"/>
<line x1="282.2" y1="636.3" x2="282.2" y2="637.6" stroke="#555" stroke-width="0.5"/>
<line x1="279.7" y1="636.3" x2="279.7" y2="637.6" stroke="#555" stroke-width="0.5"/>
<text x="288.4" y="643.3" font-size="3.3" fill="#333">10</text>
<text x="292.1" y="641.3" font-size="2.6" fill="#333">1</text>
<line x1="310.5" y1="636.3" x2="310.5" y2="638.5" stroke="#444" stroke-width="0.7"/>
<line x1="309.5" y1="636.3" x2="309.5" y2="637.6" stroke="#555" stroke-width="0.5"/>
<line x1="308.5" y1="636.3" x2="308.5" y2="637.6" stroke="#555" stroke-width="0.5"/>
<line x1="307.3" y1="636.3" x2="307.3" y2="637.6" stroke="#555" stroke-width="0.5"/>
<line x1="306" y1="636.3" x2="306" y2="637.6" stroke="#555" stroke-width="0.5"/>
<line x1="304.4" y1="636.3" x2="304.4" y2="637.6" stroke="#555" stroke-width="0.5"/>
<line x1="302.4" y1="636.3" x2="302.4" y2="637.6" stroke="#555" stroke-width="0.5"/>
<line x1="299.9" y1="636.3" x2="299.9" y2="637.6" stroke="#555" stroke-width="0.5"/>
<line x1="296.3" y1="636.3" x2="296.3" y2="637.6" stroke="#555" stroke-width="0.5"/>
<text x="308.6" y="643.3" font-size="3.3" fill="#333">10</text>
<text x="312.3" y="641.3" font-size="2.6" fill="#333">2</text>
<line x1="330.7" y1="636.3" x2="330.7" y2="638.5" stroke="#444" stroke-width="0.7"/>
<line x1="329.8" y1="636.3" x2="329.8" y2="637.6" stroke="#555" stroke-width="0.5"/>
<line x1="328.7" y1="636.3" x2="328.7" y2="637.6" stroke="#555" stroke-width="0.5"/>
<line x1="327.5" y1="636.3" x2="327.5" y2="637.6" stroke="#555" stroke-width="0.5"/>
<line x1="326.2" y1="636.3" x2="326.2" y2="637.6" stroke="#555" stroke-width="0.5"/>
<line x1="324.6" y1="636.3" x2="324.6" y2="637.6" stroke="#555" stroke-width="0.5"/>
<line x1="322.6" y1="636.3" x2="322.6" y2="637.6" stroke="#555" stroke-width="0.5"/>
<line x1="320.1" y1="636.3" x2="320.1" y2="637.6" stroke="#555" stroke-width="0.5"/>
<line x1="316.5" y1="636.3" x2="316.5" y2="637.6" stroke="#555" stroke-width="0.5"/>
<text x="328.8" y="643.3" font-size="3.3" fill="#333">10</text>
<text x="332.5" y="641.3" font-size="2.6" fill="#333">3</text>
<line x1="350.9" y1="636.3" x2="350.9" y2="638.5" stroke="#444" stroke-width="0.7"/>
<line x1="350" y1="636.3" x2="350" y2="637.6" stroke="#555" stroke-width="0.5"/>
<line x1="348.9" y1="636.3" x2="348.9" y2="637.6" stroke="#555" stroke-width="0.5"/>
<line x1="347.8" y1="636.3" x2="347.8" y2="637.6" stroke="#555" stroke-width="0.5"/>
<line x1="346.4" y1="636.3" x2="346.4" y2="637.6" stroke="#555" stroke-width="0.5"/>
<line x1="344.8" y1="636.3" x2="344.8" y2="637.6" stroke="#555" stroke-width="0.5"/>
<line x1="342.8" y1="636.3" x2="342.8" y2="637.6" stroke="#555" stroke-width="0.5"/>
<line x1="340.3" y1="636.3" x2="340.3" y2="637.6" stroke="#555" stroke-width="0.5"/>
<line x1="336.8" y1="636.3" x2="336.8" y2="637.6" stroke="#555" stroke-width="0.5"/>
<text x="349" y="643.3" font-size="3.3" fill="#333">10</text>
<text x="352.7" y="641.3" font-size="2.6" fill="#333">4</text>
<text x="280.5" y="557.7" font-size="3.4" fill="#333">Q1</text>
<text x="359.4" y="557.7" font-size="3.4" text-anchor="end" fill="#333">Q2</text>
<text x="280.5" y="634.7" font-size="3.4" fill="#333">Q3</text>
<text x="359.4" y="634.7" font-size="3.4" text-anchor="end" fill="#333">Q4</text>
<rect x="381.3" y="552.7" width="82.5" height="83.6" fill="#fff" stroke="none" stroke-width="1"/>
<ellipse cx="398.6" cy="617.1" rx="12.4" ry="5.9" fill="url(#core)" fill-opacity="0.9" transform="rotate(-45 398.6 617.1)"/>
<g transform="translate(381.3 552.7) scale(0.08250 0.08360)"><path d="M306 626h9M261 753h9M190 747h9M251 714h9M249 646h9M220 726h9M370 683h9M260 699h9M284 708h9M109 890h9M182 795h9M173 873h9M125 813h9M156 939h9M253 739h9M205 818h9M424 606h9M17 900h9M230 760h9M29 840h9M208 714h9M145 843h9M211 789h9M111 871h9M348 641h9M241 824h9M238 688h9M280 647h9M65 937h9M242 710h9M374 589h9M171 812h9M193 824h9M78 817h9M188 831h9M177 743h9M158 783h9M251 678h9M310 695h9M182 776h9M265 739h9M162 728h9M230 761h9M253 714h9M302 693h9M298 654h9M159 801h9M274 694h9M287 711h9M282 708h9M182 764h9M160 817h9M312 702h9M317 671h9M77 853h9M167 809h9M80 853h9M349 606h9M186 809h9M276 689h9M117 880h9M284 663h9M150 817h9M80 863h9M194 796h9M319 646h9M308 690h9M264 748h9M267 661h9M170 703h9M199 785h9M143 738h9M256 715h9M327 655h9M330 684h9M243 755h9M295 829h9M225 779h9M140 711h9M169 837h9M198 758h9M218 816h9M228 729h9M388 630h9M251 728h9M267 752h9M261 763h9M45 810h9M123 728h9M206 788h9M390 670h9M276 671h9M135 817h9M183 886h9M312 741h9M94 817h9M247 765h9M202 816h9M265 743h9M110 853h9M260 681h9M189 842h9M339 692h9M271 677h9M185 778h9M314 704h9M149 750h9M122 896h9M284 743h9M90 861h9M203 756h9M191 849h9M268 695h9M204 744h9M171 835h9M143 745h9M221 787h9M138 831h9M196 737h9M184 754h9M379 613h9M131 822h9M32 921h9M336 610h9M194 765h9M267 723h9M232 753h9M287 651h9M276 642h9M27 862h9M89 824h9M166 757h9M131 832h9M134 840h9M152 812h9M169 755h9M104 953h9M294 703h9M129 898h9M273 762h9M256 667h9M163 783h9M275 649h9M200 732h9M139 794h9M140 822h9M258 664h9M351 609h9M240 745h9M74 924h9M263 610h9M181 771h9M267 705h9M168 729h9M58 912h9M139 842h9M353 615h9M131 734h9M258 711h9M319 723h9M311 644h9M261 786h9M193 809h9M53 858h9M189 786h9M226 712h9M245 702h9M313 605h9M164 670h9M232 780h9M249 640h9M111 786h9M189 833h9M160 862h9M153 818h9M264 785h9M278 684h9M223 698h9M168 762h9M272 648h9M182 776h9M57 956h9M31 844h9M112 895h9M204 745h9M174 819h9M193 778h9M276 733h9M347 686h9M332 750h9M325 643h9M248 619h9M275 740h9M151 829h9M182 741h9M151 742h9M323 699h9M341 657h9M144 786h9M214 730h9M293 712h9M204 776h9M253 790h9M298 734h9M240 772h9M309 817h9M159 755h9M205 871h9M203 791h9M292 691h9M71 836h9M90 863h9M186 764h9M135 779h9M62 906h9M89 906h9M92 826h9M135 759h9M215 790h9M116 850h9M178 814h9M158 819h9M237 757h9M118 792h9M193 873h9M241 725h9M43 904h9M392 624h9M48 949h9M166 887h9M213 847h9M92 854h9M236 596h9M205 766h9M254 834h9M199 877h9M300 732h9M362 641h9M302 665h9M408 583h9M45 848h9M233 770h9M198 884h9M186 837h9M264 715h9M267 779h9M179 773h9M122 842h9M175 764h9M243 753h9M149 728h9M224 813h9M68 876h9M205 772h9M256 818h9M95 792h9M47 982h9M345 685h9M119 861h9M248 792h9M242 767h9M223 760h9M192 804h9M70 897h9M198 758h9M186 813h9M223 746h9M102 879h9M283 710h9M261 761h9M255 679h9M175 775h9M276 725h9M197 640h9M234 835h9M250 673h9M77 854h9M198 812h9M226 753h9M62 804h9M114 861h9M86 849h9M336 658h9M145 789h9M159 789h9M314 711h9M199 759h9M87 916h9M282 664h9M236 765h9M108 863h9M305 648h9M235 654h9M191 741h9M116 867h9M234 775h9M176 779h9M47 895h9M89 850h9M276 736h9M240 693h9M188 771h9M200 775h9M186 694h9M228 764h9M148 803h9M290 792h9M142 805h9M122 789h9M230 746h9M418 640h9M176 800h9M100 797h9M299 662h9M181 789h9M109 892h9M223 726h9M196 765h9M154 768h9M269 661h9M215 797h9M192 805h9M376 642h9M280 693h9M121 893h9M204 801h9M308 720h9M137 886h9M323 715h9M133 860h9M227 744h9M196 841h9M281 692h9M340 715h9M143 664h9M128 803h9M102 841h9M138 776h9M177 823h9M41 965h9M155 902h9M267 701h9M113 819h9M221 735h9M237 669h9M235 796h9M122 793h9M34 891h9M127 791h9M203 765h9M64 880h9M204 705h9M261 762h9M279 643h9M377 561h9M306 710h9M90 858h9M140 790h9M55 851h9M130 883h9M104 936h9M289 678h9M189 765h9M157 819h9M190 847h9M104 766h9M144 849h9M119 830h9M77 861h9M135 792h9M167 772h9M191 836h9M326 687h9M282 735h9M259 723h9M127 830h9M312 642h9M129 812h9M208 788h9M133 834h9M118 792h9M102 857h9M189 751h9M210 783h9M270 675h9M340 694h9M184 785h9M152 804h9M272 758h9M85 860h9M157 876h9M257 690h9M288 694h9M175 828h9M31 879h9M103 888h9M52 870h9M246 701h9M261 725h9M157 763h9M85 881h9M325 708h9M251 696h9M265 775h9M182 792h9M227 726h9M177 835h9M111 755h9M314 732h9M210 704h9M280 721h9M240 725h9M324 731h9M249 734h9M164 833h9M142 815h9M152 842h9M161 854h9M126 820h9M272 671h9M216 766h9M123 860h9M170 826h9M330 683h9M239 805h9M170 877h9M126 748h9M109 816h9M130 850h9M241 723h9M197 748h9M257 772h9M82 754h9M194 808h9M119 963h9M288 722h9M85 852h9M169 791h9M84 795h9M147 805h9M327 658h9M221 778h9M172 827h9M244 713h9M267 688h9M363 625h9M231 668h9M249 729h9M196 722h9M229 774h9M88 799h9M229 724h9M279 672h9M152 746h9M108 889h9M29 902h9M205 872h9M227 807h9M378 668h9M293 733h9M170 796h9M205 747h9M125 919h9M351 641h9M28 844h9M142 813h9M266 610h9M191 787h9M247 746h9M266 693h9M231 772h9M161 819h9M143 779h9M289 749h9M29 860h9M219 823h9M268 710h9M68 950h9M192 696h9M243 746h9M285 787h9M60 891h9M67 928h9M157 816h9M181 738h9M120 876h9M193 726h9M222 805h9M306 741h9M304 665h9M364 613h9M320 657h9M163 792h9M247 652h9M265 713h9M234 733h9M184 740h9M286 745h9M266 799h9M212 852h9M234 719h9M269 759h9M237 740h9M185 844h9M164 820h9M101 876h9M136 745h9M216 736h9M283 735h9M33 932h9M185 761h9M167 777h9M285 664h9M290 663h9M201 752h9M462 561h9M168 839h9M180 720h9M138 876h9M154 765h9M119 759h9M26 957h9M165 715h9M191 729h9M175 788h9M204 792h9M162 848h9M143 777h9M182 848h9M301 682h9M104 874h9M285 756h9M302 634h9M353 617h9M88 892h9M211 829h9M296 654h9M179 776h9M330 773h9M213 810h9M202 783h9M138 837h9M133 877h9M239 725h9M213 748h9M362 535h9M248 717h9M64 907h9M210 811h9M272 663h9M259 735h9M79 953h9M164 846h9M73 842h9M355 596h9M133 905h9M267 709h9M210 830h9M78 838h9M159 838h9M184 824h9M70 860h9M248 753h9M145 737h9M154 756h9M237 778h9M279 824h9M341 636h9M357 638h9M171 869h9M201 756h9M208 806h9M121 851h9M211 743h9M361 683h9M35 886h9M224 798h9M156 751h9M229 738h9M166 863h9M222 753h9M188 766h9M300 762h9M187 776h9M183 772h9M347 630h9M67 834h9M57 863h9M254 714h9M204 653h9M262 726h9M93 849h9M166 893h9M192 795h9M251 736h9M87 885h9M182 752h9M382 555h9M269 680h9M68 902h9M236 695h9M184 836h9M155 800h9M130 780h9M105 801h9M117 972h9M262 751h9M387 589h9M148 750h9M100 868h9M200 740h9M132 918h9M386 632h9M120 803h9M195 752h9M244 749h9M289 783h9M191 784h9M225 675h9M108 957h9M142 857h9M123 849h9M135 751h9M171 796h9M159 812h9M414 552h9M158 794h9M243 777h9M354 691h9M139 943h9M212 725h9M62 891h9M268 769h9M64 869h9M233 721h9M79 821h9M158 750h9M322 619h9M245 726h9M159 763h9M405 621h9M151 761h9M163 788h9M347 690h9M182 807h9M269 679h9M76 825h9M68 956h9M263 686h9M170 780h9M208 740h9M118 770h9M206 707h9M243 686h9M172 828h9M116 890h9M270 649h9M220 821h9M267 677h9M274 714h9M345 705h9M213 701h9M353 593h9M118 835h9M149 768h9M214 831h9M283 670h9M323 610h9M129 773h9M118 836h9M107 841h9M25 939h9M174 800h9M300 698h9M388 722h9M349 836h9M197 784h9M111 841h9M173 807h9M200 728h9M221 724h9M166 788h9M100 849h9M260 720h9M148 942h9M122 897h9M248 767h9M228 732h9M176 832h9M187 758h9M52 816h9M271 645h9M168 864h9M190 783h9M185 782h9M150 800h9M186 791h9M171 788h9M318 697h9M21 892h9M129 765h9M264 781h9M85 852h9M343 644h9M72 916h9M393 652h9M396 621h9M173 782h9M240 798h9M188 787h9M357 640h9M186 846h9M40 859h9M88 874h9M217 763h9M287 723h9M248 707h9M180 791h9M46 938h9M304 718h9M261 639h9M125 884h9M216 683h9M228 732h9M233 775h9M267 719h9M246 779h9M218 753h9M277 721h9M68 904h9M203 643h9M110 820h9M105 867h9M133 889h9M197 697h9M312 708h9M258 796h9M36 849h9M147 883h9M227 748h9M281 733h9M177 780h9M153 743h9M121 783h9M232 844h9M155 838h9M217 769h9M349 632h9M105 786h9M269 673h9M178 818h9M270 838h9M261 663h9M261 661h9M214 715h9M213 759h9M201 688h9M308 734h9M114 895h9M330 630h9M213 800h9M170 793h9M111 821h9M59 808h9M50 835h9M378 601h9M72 907h9M169 813h9M139 830h9M214 721h9M29 840h9M324 662h9M240 722h9M202 774h9M97 845h9M212 756h9M210 706h9M114 808h9M299 670h9M142 758h9M142 723h9M123 823h9M194 784h9M189 686h9M146 854h9M188 807h9M102 845h9M222 739h9M188 817h9M220 777h9M260 701h9M225 777h9M27 847h9M202 778h9M92 839h9M218 815h9M293 628h9M411 590h9M297 648h9M140 770h9M108 866h9M46 959h9M205 770h9M227 718h9M95 947h9M308 617h9M191 773h9M241 677h9M51 873h9M148 723h9M252 739h9M368 641h9M158 766h9M154 720h9M138 803h9M107 827h9M195 781h9M218 761h9M171 808h9M308 649h9M165 792h9M42 874h9M221 746h9M61 933h9M206 832h9M309 655h9M91 841h9M217 761h9M177 845h9M153 796h9M201 757h9M47 889h9M109 850h9M102 861h9M310 657h9M357 716h9M109 795h9M199 698h9M233 773h9M268 653h9M239 762h9M287 676h9M195 737h9M262 706h9M342 644h9M200 809h9M160 740h9M197 755h9M195 736h9M88 786h9M315 760h9M305 649h9M85 877h9M249 748h9M185 794h9M244 766h9M129 853h9M316 680h9M40 927h9M254 723h9M158 803h9M181 717h9M235 790h9M145 735h9M130 834h9M364 588h9M175 775h9M177 775h9M235 791h9M248 738h9M309 768h9M179 718h9M240 755h9M297 679h9M377 635h9M42 952h9M245 717h9M208 801h9M208 780h9M153 670h9M111 830h9M285 648h9M320 671h9M85 958h9M140 850h9M199 779h9M288 678h9M332 665h9M124 798h9M202 767h9M106 841h9M196 725h9M295 618h9M152 821h9M315 705h9M213 779h9M239 695h9M83 782h9M46 888h9M179 760h9M113 783h9M164 879h9M217 697h9M157 775h9M245 807h9M371 589h9M244 681h9M254 712h9M179 857h9M24 915h9M251 664h9M152 878h9M166 809h9M327 666h9M110 828h9M235 776h9M207 749h9M100 844h9M272 688h9M85 853h9M200 666h9M188 715h9M244 680h9M98 904h9M191 764h9M175 836h9M274 771h9M214 793h9M163 792h9M143 740h9M153 747h9M303 706h9M305 709h9M152 848h9M177 795h9M254 773h9M282 739h9M250 798h9M293 753h9M307 638h9M130 909h9M263 697h9M267 769h9M64 807h9M320 666h9M88 872h9M115 755h9M20 924h9M277 718h9M304 647h9M146 863h9M50 867h9M153 849h9M273 696h9M180 698h9M315 617h9M200 827h9M166 726h9M32 859h9M273 714h9M152 791h9M321 730h9M98 898h9M74 921h9M227 781h9M227 791h9M418 581h9M178 777h9M95 865h9M196 697h9M140 778h9M149 860h9M301 759h9M240 785h9M102 879h9M226 775h9M90 868h9M343 629h9M156 760h9M296 725h9M290 649h9M271 746h9M124 802h9M46 857h9M133 823h9M242 705h9M147 808h9M26 913h9M345 643h9M231 716h9M281 724h9M102 858h9M171 804h9M128 798h9M214 756h9M143 862h9M185 827h9M350 684h9M218 776h9M356 715h9M269 754h9M240 728h9M232 732h9M97 887h9M188 737h9M132 837h9M241 733h9M183 835h9M125 743h9M355 623h9M133 852h9M240 735h9M164 748h9M223 854h9M125 862h9M313 701h9M255 668h9M183 781h9M217 683h9M207 708h9M122 727h9M199 709h9M319 645h9M165 753h9M167 825h9M43 896h9M138 731h9M110 887h9M94 910h9M211 750h9M219 769h9M32 917h9M199 731h9M119 820h9M175 831h9M158 821h9M217 792h9M238 774h9M161 829h9M310 732h9M139 777h9M188 800h9M121 840h9M156 842h9M257 744h9M40 889h9M131 781h9M153 772h9M321 702h9M82 841h9M222 771h9M137 855h9M245 676h9M216 655h9M248 722h9M245 797h9M141 738h9M262 674h9M260 721h9M303 716h9M245 826h9M255 757h9M307 667h9M58 905h9M197 875h9M224 712h9M78 925h9M264 680h9M172 735h9M294 698h9M59 856h9M262 774h9M322 715h9M211 786h9M325 634h9M398 655h9M40 950h9M241 751h9M214 751h9M191 758h9M74 877h9M321 656h9M140 850h9M215 785h9M183 691h9M327 663h9M274 778h9M166 748h9M205 737h9M315 655h9M329 620h9M104 879h9M217 637h9M246 723h9M292 764h9M287 643h9M157 814h9M288 694h9M251 775h9M254 712h9M162 768h9M245 757h9M324 689h9M285 700h9M283 641h9M203 750h9M245 743h9M113 710h9M152 944h9M258 746h9M175 763h9M193 808h9M262 744h9M196 819h9M264 708h9M217 754h9M170 892h9M229 799h9M159 780h9M149 755h9M124 893h9M319 647h9M338 680h9M170 798h9M86 917h9M321 710h9M228 792h9M191 796h9M217 790h9M164 812h9M234 737h9M74 793h9M198 779h9M86 946h9M200 783h9M261 718h9M302 777h9M225 806h9M97 859h9M187 784h9M225 695h9M180 767h9M245 722h9M319 652h9M104 821h9M278 767h9M317 752h9M29 882h9M382 625h9M146 751h9M259 689h9M63 902h9M177 759h9M245 696h9M162 821h9M219 701h9M232 742h9M211 774h9M202 717h9M122 906h9M223 733h9M254 859h9M276 714h9M210 695h9M74 850h9M226 781h9M201 767h9M290 678h9M282 820h9M262 705h9M165 789h9M302 734h9M237 712h9M168 844h9M144 858h9M205 823h9M330 637h9M382 623h9M162 802h9M187 808h9M137 891h9M160 787h9M213 709h9M125 762h9M245 784h9M32 862h9M164 721h9M113 828h9M246 726h9M205 803h9M126 909h9M210 773h9M95 857h9M257 746h9M228 797h9M308 644h9M275 714h9M284 783h9M225 765h9M212 742h9M310 688h9M311 722h9M152 815h9M259 795h9M150 790h9M269 644h9M168 794h9M267 685h9M182 696h9M163 885h9M175 846h9M175 775h9M160 796h9M186 772h9M310 626h9M251 743h9M151 878h9M301 659h9M187 719h9M339 709h9M125 761h9M81 865h9M215 744h9M215 772h9M194 835h9M125 813h9M177 807h9M203 745h9M274 780h9M195 779h9M241 660h9M204 820h9M283 747h9M41 804h9M207 739h9M221 737h9M225 703h9M222 714h9M167 827h9M164 805h9M240 803h9M339 667h9M271 728h9M168 782h9M231 733h9M129 901h9M246 687h9M203 787h9M186 793h9M251 779h9M145 844h9M218 731h9M202 825h9M285 771h9M193 747h9M150 792h9M494 602h9M228 754h9M140 810h9M293 689h9M239 681h9M74 957h9M190 777h9M83 804h9M221 747h9M43 968h9M122 800h9M358 613h9M20 936h9M128 850h9M249 602h9M304 701h9M232 795h9M376 647h9M147 831h9M155 846h9M301 702h9M101 823h9M283 719h9M228 707h9M52 873h9M244 705h9M296 694h9M218 812h9M211 736h9M212 758h9M79 790h9M196 871h9M39 920h9M322 663h9M159 784h9M44 901h9M268 736h9M393 624h9M131 782h9M248 763h9M142 732h9M255 794h9M271 799h9M113 873h9M107 776h9M213 707h9M217 794h9M230 679h9M85 978h9M249 822h9M135 820h9M222 810h9M124 907h9M228 770h9M269 693h9M144 830h9M425 638h9M413 579h9M143 903h9M223 778h9M404 620h9M197 843h9M140 798h9M154 818h9M238 794h9M302 670h9M78 871h9M222 772h9M158 747h9M231 802h9M167 841h9M266 703h9M186 731h9M110 776h9M233 788h9M211 854h9M342 637h9M266 757h9M127 855h9M186 783h9M182 740h9M217 733h9M176 758h9M143 889h9M190 781h9M365 665h9M314 722h9M195 793h9M243 749h9M163 774h9M180 833h9M120 791h9M207 721h9M285 740h9M180 781h9M203 777h9M328 684h9M209 714h9M67 894h9M208 820h9M156 917h9M206 756h9M95 981h9M190 804h9M201 773h9M102 785h9M222 685h9M252 723h9M59 925h9M275 710h9M280 750h9M164 792h9M212 738h9M353 621h9M297 760h9M70 881h9M180 743h9M337 600h9M186 708h9M100 912h9M86 912h9M128 835h9M120 812h9M243 827h9M204 815h9M95 888h9M199 739h9M126 817h9M189 862h9M176 795h9M90 895h9M78 877h9M98 893h9M172 832h9M258 754h9M328 651h9M179 758h9M202 820h9M194 746h9M213 739h9M225 776h9M191 760h9M254 697h9M177 801h9M169 751h9M232 673h9M279 740h9M320 721h9M190 820h9M187 814h9M83 816h9M122 814h9M259 715h9M197 741h9M104 867h9M184 751h9M219 758h9M145 720h9M73 874h9M63 895h9M252 668h9M287 722h9M325 657h9M177 840h9M125 851h9M157 866h9M244 747h9M231 751h9M319 757h9M101 961h9M189 868h9M77 889h9M204 734h9M236 688h9M152 831h9M243 755h9M149 846h9M138 887h9M226 754h9M218 793h9M218 826h9M256 688h9M259 753h9M252 694h9M209 778h9M97 912h9M430 497h9M108 756h9M39 927h9M150 832h9M216 736h9M288 674h9M227 750h9M28 950h9M243 738h9M216 756h9M225 773h9M162 860h9M138 740h9M25 872h9M71 849h9M149 846h9M265 726h9M152 811h9M56 937h9M163 878h9M282 660h9M198 823h9M269 690h9M217 932h9M236 769h9M254 689h9M198 749h9M170 826h9M372 591h9M212 723h9M166 785h9M70 871h9M188 736h9M306 775h9M205 770h9M197 757h9M205 736h9M164 839h9M82 803h9M168 785h9M326 599h9M119 749h9M373 655h9M209 800h9M257 666h9M239 777h9M73 876h9M199 690h9M286 749h9M223 710h9M169 809h9M183 805h9M87 857h9M71 836h9M234 810h9M236 782h9M141 881h9M165 779h9M156 833h9M221 717h9M257 723h9M122 803h9M274 707h9M225 847h9M45 892h9M239 642h9M214 779h9M132 786h9M264 731h9M270 737h9M195 783h9M282 666h9M212 774h9M179 763h9M285 614h9M272 758h9M175 765h9M290 681h9M130 804h9M238 723h9M398 641h9M187 765h9M101 889h9M212 789h9M100 821h9M369 620h9M317 696h9M150 733h9M199 769h9M93 816h9M325 668h9M25 858h9M264 690h9M188 801h9M281 752h9M289 651h9M195 695h9M66 846h9M249 819h9M172 750h9M117 798h9M212 730h9M207 784h9M93 849h9M164 801h9M198 868h9M331 661h9M155 844h9M37 851h9M267 669h9M183 768h9M234 752h9M262 754h9M238 815h9M256 773h9M258 743h9M203 831h9M163 776h9M182 817h9M62 919h9M162 810h9M226 770h9M268 701h9M203 709h9M295 728h9M233 705h9M113 752h9M232 705h9M233 633h9M131 870h9M64 928h9M209 835h9M191 665h9M41 924h9M190 730h9M333 664h9M225 746h9M96 892h9M98 892h9M392 619h9M134 797h9M142 790h9M326 657h9M312 668h9M213 741h9M232 855h9M314 729h9M146 812h9M248 736h9M275 767h9M203 751h9M145 799h9M180 814h9M338 675h9M318 707h9M172 805h9M190 750h9M58 841h9M163 779h9M242 745h9M280 730h9M99 820h9M167 797h9M326 594h9M238 748h9M144 867h9M124 866h9M83 816h9M108 809h9M92 857h9M150 753h9M123 923h9M265 686h9M231 735h9M350 608h9M180 743h9M295 697h9M64 879h9M258 747h9M266 657h9M31 933h9M141 804h9M186 820h9M310 660h9M176 817h9M125 873h9M117 763h9M270 719h9M147 897h9M165 783h9M335 671h9M335 687h9M230 684h9M283 710h9M248 706h9M165 762h9M198 801h9M284 700h9M321 638h9M258 788h9M355 606h9M104 900h9M182 760h9M159 874h9M380 595h9M321 699h9M142 812h9M195 761h9M222 776h9M183 824h9M142 739h9M274 724h9M150 868h9M282 756h9M394 647h9M263 805h9M236 680h9M167 729h9M250 740h9M330 772h9M127 839h9M300 749h9M155 789h9M156 821h9M147 907h9M187 687h9M157 766h9M351 686h9M228 767h9M215 777h9M62 821h9M212 746h9M121 883h9M302 600h9M262 724h9M121 876h9M252 705h9M234 697h9M303 759h9M234 781h9M215 694h9M281 724h9M151 901h9M196 792h9M205 798h9M170 785h9M224 772h9M154 765h9M277 726h9M235 648h9M192 830h9M181 826h9M61 831h9M226 667h9M283 749h9M143 762h9M39 917h9M252 787h9M173 868h9M207 755h9M112 884h9M137 809h9M178 821h9M421 604h9M181 784h9M178 797h9M273 789h9M105 796h9M148 811h9M98 824h9M341 694h9M202 692h9M171 820h9M118 915h9M132 840h9M125 813h9M190 780h9M216 802h9M150 783h9M300 637h9M237 807h9M293 659h9M240 749h9M351 655h9M130 796h9M264 721h9M207 771h9M171 756h9M292 714h9M171 735h9M40 923h9M192 802h9M92 833h9M237 743h9M93 941h9M141 846h9M190 892h9M286 699h9M16 909h9M242 777h9M225 702h9M232 783h9M93 839h9M226 684h9M248 746h9M259 768h9M263 750h9M247 762h9M178 792h9M145 817h9M85 799h9M240 703h9M266 654h9M93 858h9M206 790h9M163 723h9M162 701h9M242 706h9M326 758h9M233 810h9M205 780h9M273 640h9M244 659h9M330 623h9M171 889h9M300 672h9M127 783h9M324 641h9M283 707h9M203 760h9M302 679h9M240 740h9M178 760h9M38 904h9M95 914h9M161 817h9M228 679h9M221 649h9M221 765h9M329 603h9M153 775h9M299 708h9M357 634h9M275 722h9M207 744h9M216 725h9M159 752h9M188 790h9M107 878h9M161 829h9M427 579h9M211 783h9M356 568h9M112 844h9M121 817h9M227 789h9M110 823h9M377 565h9M216 720h9M211 765h9M290 624h9M67 918h9M83 813h9M155 739h9M124 909h9M234 770h9M216 818h9M346 658h9M86 877h9M195 789h9M340 673h9M149 829h9M317 676h9M206 674h9M225 779h9M119 809h9M193 786h9M289 676h9M303 734h9M146 960h9M214 733h9M261 661h9M174 790h9M265 739h9M110 819h9M240 792h9M422 618h9M212 697h9M301 668h9M298 676h9M169 762h9M171 748h9M265 779h9M307 697h9M141 793h9M269 715h9M150 794h9M148 860h9M97 886h9M68 962h9M55 961h9M123 860h9M266 753h9M206 728h9M253 782h9M159 760h9M215 787h9M293 755h9M190 806h9M230 786h9M169 782h9M265 721h9M218 714h9M41 958h9M193 749h9M321 715h9M215 761h9M183 756h9M135 765h9M154 823h9M201 755h9M223 668h9M117 887h9M216 778h9M211 735h9M159 853h9M142 802h9M172 736h9M149 876h9M81 947h9M312 706h9M96 869h9M239 773h9M106 770h9M165 779h9M52 857h9M171 813h9M144 881h9M385 586h9M335 662h9M163 837h9M334 652h9M181 841h9M130 832h9M116 782h9M308 731h9M88 839h9M131 859h9M225 698h9M312 658h9M232 721h9M230 714h9M320 685h9M250 746h9M203 767h9M421 629h9M294 728h9M25 879h9M335 679h9M132 814h9M191 861h9M24 850h9M179 775h9M411 623h9M276 768h9M279 719h9M150 732h9M98 839h9M137 807h9M131 838h9M41 969h9M207 771h9M189 802h9M76 862h9M240 699h9M142 825h9M129 873h9M230 801h9M270 656h9M126 841h9M286 663h9M178 821h9M254 785h9M220 780h9M208 719h9M186 749h9M70 859h9M192 789h9M263 681h9M256 692h9M39 971h9M232 718h9M190 742h9M220 740h9M100 880h9M130 906h9M284 703h9M228 727h9M213 725h9M297 657h9M239 726h9M231 745h9M288 694h9M169 846h9M434 620h9M64 884h9M81 899h9M167 802h9M240 725h9M88 848h9M305 732h9M125 880h9M282 670h9M180 768h9M292 668h9M295 719h9M161 761h9M313 622h9M135 728h9M165 848h9M171 806h9M98 799h9M199 710h9M228 709h9M343 645h9M260 709h9M225 743h9M300 730h9M393 618h9M262 717h9M144 789h9M63 921h9M216 746h9M189 710h9M296 643h9M206 776h9M260 694h9M245 719h9M241 724h9M174 845h9M77 864h9M110 866h9M168 797h9M218 710h9M192 730h9M149 890h9M254 749h9M266 665h9M68 871h9M163 863h9M53 876h9M208 809h9M220 774h9M149 832h9M202 831h9M99 866h9M66 883h9M207 720h9M231 760h9M132 905h9M180 805h9M190 768h9M275 707h9M207 793h9M201 818h9M93 932h9M159 812h9M199 754h9M183 782h9M346 608h9M155 848h9M382 541h9M235 739h9M400 588h9M188 736h9M39 908h9M439 670h9M198 856h9M74 858h9M201 804h9M328 616h9M141 864h9M240 679h9M183 849h9M130 788h9M106 853h9M99 841h9M172 730h9M245 699h9M236 758h9M55 945h9M141 815h9M322 668h9M161 809h9M136 852h9M329 598h9M199 843h9M250 753h9M207 791h9M189 790h9M197 736h9M189 743h9M217 670h9M190 780h9M207 801h9M263 781h9M129 744h9M156 831h9M282 706h9M292 710h9M118 866h9M168 808h9M139 744h9M232 749h9M187 742h9M136 815h9M292 771h9M304 689h9M177 856h9M147 814h9M117 822h9M280 715h9M276 754h9M191 844h9M150 739h9M237 806h9M81 810h9M167 778h9M110 793h9M246 830h9M63 808h9M351 722h9M203 730h9M331 610h9M201 803h9M113 841h9M194 859h9M134 753h9M139 739h9M174 818h9M112 930h9M129 720h9M129 773h9M164 811h9M84 942h9M243 708h9M57 882h9M130 754h9M334 712h9M252 750h9M180 795h9M128 875h9M309 717h9M178 772h9M27 924h9M361 627h9M216 738h9M225 744h9M171 726h9M284 746h9M310 681h9M135 814h9M121 714h9M245 735h9M331 713h9M262 801h9M159 737h9M177 902h9M138 789h9M160 765h9M261 682h9M150 853h9M264 792h9M189 681h9M159 825h9M116 830h9M112 854h9M138 824h9M182 686h9M129 867h9M114 820h9M360 637h9M153 850h9M146 860h9M111 802h9M152 829h9M196 837h9M232 768h9M334 676h9M109 865h9M289 784h9M132 808h9M168 812h9M223 799h9M224 679h9M135 865h9M243 724h9M272 769h9M162 813h9M293 762h9M208 751h9M269 748h9M181 754h9M188 814h9M92 895h9M169 868h9M237 730h9M271 712h9M119 839h9M198 753h9M121 876h9M254 702h9M79 871h9M160 790h9M156 853h9M149 787h9M213 775h9M286 708h9M137 863h9M97 787h9M72 884h9M207 734h9M318 640h9M181 715h9M321 612h9M240 659h9M96 914h9M204 768h9M64 948h9M269 651h9M216 793h9M192 799h9M193 775h9M116 869h9M244 741h9M153 767h9M257 805h9M304 715h9M248 687h9M342 627h9M113 777h9M203 750h9M69 859h9M235 766h9M259 699h9M242 673h9M127 806h9M82 826h9M118 852h9M282 780h9M236 742h9M229 707h9M200 822h9M308 602h9M44 968h9M155 793h9M372 614h9M270 665h9M101 812h9M128 809h9M224 697h9M357 554h9M17 886h9M155 798h9M366 561h9M226 667h9M181 877h9M178 829h9M141 836h9M352 653h9M328 666h9M94 832h9M305 633h9M66 831h9M188 776h9M139 767h9M263 659h9M102 785h9M262 651h9M34 844h9M175 830h9M218 768h9M167 716h9M249 700h9M156 773h9M107 880h9M186 798h9M104 915h9M125 769h9M249 678h9M71 915h9M233 809h9M193 790h9M113 847h9M191 777h9M194 800h9M150 904h9M305 621h9M201 722h9M192 792h9M213 696h9M154 756h9M230 768h9M298 681h9M203 795h9M352 617h9M276 721h9M40 913h9M108 908h9M33 928h9M239 680h9M286 734h9M261 762h9M38 912h9M321 617h9M187 741h9M180 837h9M226 718h9M144 844h9M252 730h9M160 853h9M167 808h9M193 788h9M242 733h9M138 783h9M256 669h9M269 730h9M86 837h9M234 675h9M332 686h9M245 763h9M293 704h9M202 734h9M204 767h9M105 815h9M87 896h9M264 756h9M195 753h9M199 782h9M243 811h9M235 724h9M146 821h9M260 726h9M200 760h9M157 778h9M215 784h9M233 683h9M169 868h9M216 742h9M44 850h9M162 782h9M211 787h9M170 774h9M137 750h9M143 848h9M94 900h9M172 773h9M360 615h9M286 698h9M97 835h9M397 543h9M384 686h9M266 588h9M355 729h9M164 802h9M195 731h9M292 689h9M289 719h9M213 797h9M209 774h9M295 684h9M434 655h9M277 783h9M293 551h9M337 647h9M307 760h9M287 592h9M282 819h9M442 635h9M439 586h9M296 690h9M375 736h9M271 717h9M299 609h9M295 666h9M168 816h9M299 584h9M304 687h9M510 620h9M266 612h9M169 919h9M289 627h9M289 758h9M321 801h9M366 680h9M388 638h9M332 669h9M365 519h9M348 901h9M401 535h9M275 744h9M247 768h9M315 805h9M413 655h9M230 830h9M225 718h9M432 758h9M454 524h9M479 673h9M222 819h9M302 831h9M338 749h9M397 582h9M347 719h9M201 711h9M508 606h9M197 695h9M256 703h9M356 485h9M295 648h9M163 844h9M288 805h9M295 697h9M199 721h9M196 707h9M237 763h9M340 587h9M415 656h9M388 609h9M302 626h9M261 694h9M394 574h9M360 715h9M163 844h9M309 690h9M278 598h9M273 786h9M183 806h9M293 768h9M170 823h9M87 723h9M304 634h9M284 616h9M372 618h9M333 552h9M409 691h9M323 589h9M191 842h9M439 569h9M274 774h9M170 798h9M205 732h9M389 556h9M146 885h9M417 646h9M320 698h9M262 806h9M278 735h9M214 657h9M391 714h9M309 682h9M293 671h9M186 730h9M388 655h9M441 546h9M334 726h9M302 707h9M99 773h9M310 808h9M391 620h9M294 707h9M358 656h9M290 676h9M268 761h9M472 571h9M335 630h9M277 679h9M431 495h9M271 835h9M270 696h9M327 782h9M367 643h9M266 737h9M430 737h9M295 693h9M337 536h9M421 446h9M333 553h9M158 720h9M208 821h9M360 724h9M332 714h9M383 643h9M264 608h9M432 719h9M349 653h9M224 886h9M271 802h9M272 856h9M349 815h9M290 672h9M351 556h9M380 695h9M143 784h9M335 649h9M283 749h9M318 697h9M369 689h9M347 733h9M315 705h9M351 657h9M268 710h9M201 845h9M191 846h9M275 756h9M364 740h9M414 729h9M329 569h9M315 768h9M222 673h9M306 659h9M396 643h9M332 721h9M253 733h9M346 734h9M345 692h9M325 462h9M215 806h9M148 808h9M242 840h9M222 680h9M236 717h9M201 809h9M429 645h9M505 363h9M317 677h9M306 677h9M455 568h9M271 571h9M186 614h9M117 768h9M391 713h9M297 768h9M225 817h9M149 899h9M329 777h9M333 615h9M337 698h9M308 841h9M205 819h9M428 690h9M372 732h9M352 629h9M272 771h9M327 671h9M285 738h9M309 650h9M442 642h9M363 594h9M218 849h9M257 595h9M274 717h9M260 676h9M347 560h9M319 627h9M176 888h9M297 704h9M207 633h9M248 724h9M442 528h9M375 704h9M293 761h9M403 520h9M240 848h9M168 789h9M341 723h9M328 658h9M302 680h9M259 827h9M430 532h9M338 656h9M252 712h9M422 514h9M360 732h9M304 746h9M315 612h9M185 717h9M308 829h9M473 573h9M238 700h9M237 771h9M220 895h9M168 792h9M295 699h9M331 860h9M456 709h9M341 689h9M412 639h9M385 653h9M245 716h9M263 585h9M311 641h9M261 729h9M275 712h9M382 725h9M218 750h9M224 750h9M230 659h9M367 459h9M725 605h9M863 541h9M651 448h9M970 185h9M774 692h9M734 545h9M753 311h9M666 511h9M423 444h9M778 431h9M496 477h9M654 455h9M493 490h9M357 482h9M904 585h9M540 479h9M264 792h9M731 377h9M617 666h9M709 444h9M828 439h9M637 377h9M434 343h9M736 485h9M634 590h9M417 759h9M667 338h9M936 486h9M661 506h9M838 282h9M469 431h9M667 568h9M597 451h9M601 582h9M591 568h9M444 807h9M471 221h9M625 218h9M792 567h9M870 423h9M385 214h9M622 326h9M669 704h9M773 390h9M455 364h9M659 590h9M776 578h9M890 489h9M519 597h9M911 280h9M642 414h9M311 620h9M655 450h9M459 672h9M623 585h9M514 839h9M714 506h9M619 287h9M778 419h9M681 389h9M741 577h9M775 584h9M529 681h9M830 602h9M904 261h9M655 557h9M524 644h9M434 417h9M544 191h9M718 418h9M773 369h9M672 717h9M667 638h9M569 723h9M474 429h9M577 831h9M490 367h9M610 511h9M432 556h9M438 658h9M659 426h9M724 483h9M495 354h9M551 473h9M866 605h9M297 590h9M677 482h9M618 552h9M430 435h9M784 517h9M637 259h9M619 456h9M601 514h9M761 265h9M693 673h9M589 753h9M554 662h9M592 482h9M696 474h9M761 540h9M652 643h9M656 465h9M678 475h9M797 326h9M713 560h9M545 526h9M795 308h9M341 685h9M625 612h9M719 109h9M389 607h9M660 372h9M361 654h9M707 351h9M987 262h9M612 952h9M452 313h9M624 427h9M649 480h9M484 879h9M582 704h9M507 558h9M699 300h9M432 577h9M787 366h9M810 228h9M612 302h9M837 565h9M610 514h9M693 536h9M262 529h9M560 452h9M650 663h9M339 577h9M556 633h9M824 412h9M585 653h9M801 485h9M731 539h9M553 548h9M299 889h9M549 311h9M317 521h9M401 508h9M438 430h9M516 639h9M783 519h9M762 457h9M736 581h9M776 208h9M855 174h9M548 693h9M512 256h9M688 580h9M770 475h9M507 463h9M701 353h9M598 844h9M432 382h9M504 347h9M689 527h9M850 142h9M525 524h9M519 372h9M738 304h9M827 311h9M631 609h9M673 503h9M440 664h9M842 312h9M902 288h9M628 249h9M643 384h9M583 430h9M532 624h9M585 386h9M545 692h9M616 297h9M741 475h9M434 802h9M903 380h9M850 215h9M464 771h9M636 452h9M533 432h9M670 609h9M585 332h9M606 686h9M410 584h9M692 523h9M589 217h9M697 710h9M543 721h9M798 307h9M660 830h9M424 361h9M628 682h9M710 389h9M489 586h9M563 579h9M844 375h9M541 252h9M594 522h9M499 568h9M659 483h9M680 114h9M629 634h9M768 232h9M588 522h9M678 769h9M628 505h9M506 613h9M226 440h9M620 337h9M613 452h9M467 505h9M509 339h9M838 265h9M712 454h9M571 451h9M632 367h9M624 414h9M444 573h9M289 788h9M500 110h9M447 665h9M852 260h9M826 259h9M866 287h9M797 270h9M874 172h9M819 275h9M868 301h9M832 205h9M863 259h9M853 210h9M859 159h9M843 255h9M799 227h9M907 151h9M818 251h9M837 227h9M810 224h9M786 257h9M820 284h9M846 209h9M847 189h9M776 200h9M835 258h9M863 294h9M865 253h9M848 137h9M796 235h9M769 282h9M898 234h9M782 285h9M817 218h9M807 268h9M813 220h9M789 319h9M859 274h9M839 214h9M755 230h9M805 347h9M726 295h9M732 377h9M810 220h9M842 195h9M827 155h9M844 202h9M832 198h9M807 272h9M871 233h9M737 256h9M841 188h9M775 201h9M823 269h9M799 183h9M708 238h9M888 256h9M792 220h9M812 248h9M854 256h9M916 261h9M806 258h9M813 251h9M792 255h9M787 310h9M812 267h9M899 309h9M846 162h9M786 199h9M787 289h9M875 238h9M841 222h9M833 188h9M758 335h9M805 251h9M768 280h9M898 201h9M836 212h9M848 297h9M812 199h9M816 154h9M785 280h9M850 247h9M839 239h9M815 190h9M805 294h9M821 272h9M750 298h9M796 237h9M773 238h9M776 287h9M826 218h9M861 226h9M799 212h9M794 256h9M786 262h9M907 202h9M794 272h9M841 204h9M955 234h9M777 166h9M852 207h9M720 277h9M848 255h9M860 228h9M831 236h9M804 211h9M775 272h9M736 299h9M812 350h9M782 287h9M787 232h9M776 278h9M537 291h9M553 36h9M288 419h9M743 341h9M927 646h9M830 661h9M150 522h9M627 519h9M499 353h9M207 406h9M180 536h9M628 756h9M425 927h9M748 144h9M578 629h9M206 246h9M60 237h9M378 294h9M627 610h9M68 663h9M552 656h9M962 853h9M242 774h9M819 101h9M709 596h9M32 290h9M369 956h9M24 547h9M653 971h9M217 910h9M329 344h9M580 649h9M120 457h9M203 854h9M302 294h9M475 202h9M265 810h9M102 906h9M350 802h9M705 371h9" stroke="#e2281f" stroke-width="9.5" stroke-opacity="0.42" fill="none"/></g>
<line x1="416.6" y1="552.7" x2="416.6" y2="636.3" stroke="#5a5a5a" stroke-width="0.85"/>
<line x1="381.3" y1="594.7" x2="463.8" y2="594.7" stroke="#5a5a5a" stroke-width="0.85"/>
<rect x="381.3" y="552.7" width="82.5" height="83.6" fill="none" stroke="#858585" stroke-width="0.85"/>
<line x1="379.1" y1="561.9" x2="381.3" y2="561.9" stroke="#444" stroke-width="0.7"/>
<line x1="380" y1="562.8" x2="381.3" y2="562.8" stroke="#555" stroke-width="0.5"/>
<line x1="380" y1="563.9" x2="381.3" y2="563.9" stroke="#555" stroke-width="0.5"/>
<line x1="380" y1="565.1" x2="381.3" y2="565.1" stroke="#555" stroke-width="0.5"/>
<line x1="380" y1="566.4" x2="381.3" y2="566.4" stroke="#555" stroke-width="0.5"/>
<line x1="380" y1="568.1" x2="381.3" y2="568.1" stroke="#555" stroke-width="0.5"/>
<line x1="380" y1="570" x2="381.3" y2="570" stroke="#555" stroke-width="0.5"/>
<line x1="380" y1="572.6" x2="381.3" y2="572.6" stroke="#555" stroke-width="0.5"/>
<line x1="380" y1="576.2" x2="381.3" y2="576.2" stroke="#555" stroke-width="0.5"/>
<text x="378.7" y="563.3" font-size="3.3" text-anchor="end" fill="#333">10</text>
<text x="375.1" y="560.7" font-size="2.6" text-anchor="end" fill="#333">4</text>
<line x1="379.1" y1="582.4" x2="381.3" y2="582.4" stroke="#444" stroke-width="0.7"/>
<line x1="380" y1="583.3" x2="381.3" y2="583.3" stroke="#555" stroke-width="0.5"/>
<line x1="380" y1="584.4" x2="381.3" y2="584.4" stroke="#555" stroke-width="0.5"/>
<line x1="380" y1="585.6" x2="381.3" y2="585.6" stroke="#555" stroke-width="0.5"/>
<line x1="380" y1="586.9" x2="381.3" y2="586.9" stroke="#555" stroke-width="0.5"/>
<line x1="380" y1="588.5" x2="381.3" y2="588.5" stroke="#555" stroke-width="0.5"/>
<line x1="380" y1="590.5" x2="381.3" y2="590.5" stroke="#555" stroke-width="0.5"/>
<line x1="380" y1="593.1" x2="381.3" y2="593.1" stroke="#555" stroke-width="0.5"/>
<line x1="380" y1="596.7" x2="381.3" y2="596.7" stroke="#555" stroke-width="0.5"/>
<text x="378.7" y="583.8" font-size="3.3" text-anchor="end" fill="#333">10</text>
<text x="375.1" y="581.2" font-size="2.6" text-anchor="end" fill="#333">3</text>
<line x1="379.1" y1="602.9" x2="381.3" y2="602.9" stroke="#444" stroke-width="0.7"/>
<line x1="380" y1="603.8" x2="381.3" y2="603.8" stroke="#555" stroke-width="0.5"/>
<line x1="380" y1="604.8" x2="381.3" y2="604.8" stroke="#555" stroke-width="0.5"/>
<line x1="380" y1="606" x2="381.3" y2="606" stroke="#555" stroke-width="0.5"/>
<line x1="380" y1="607.4" x2="381.3" y2="607.4" stroke="#555" stroke-width="0.5"/>
<line x1="380" y1="609" x2="381.3" y2="609" stroke="#555" stroke-width="0.5"/>
<line x1="380" y1="611" x2="381.3" y2="611" stroke="#555" stroke-width="0.5"/>
<line x1="380" y1="613.6" x2="381.3" y2="613.6" stroke="#555" stroke-width="0.5"/>
<line x1="380" y1="617.2" x2="381.3" y2="617.2" stroke="#555" stroke-width="0.5"/>
<text x="378.7" y="604.3" font-size="3.3" text-anchor="end" fill="#333">10</text>
<text x="375.1" y="601.7" font-size="2.6" text-anchor="end" fill="#333">2</text>
<line x1="379.1" y1="623.3" x2="381.3" y2="623.3" stroke="#444" stroke-width="0.7"/>
<line x1="380" y1="624.3" x2="381.3" y2="624.3" stroke="#555" stroke-width="0.5"/>
<line x1="380" y1="625.3" x2="381.3" y2="625.3" stroke="#555" stroke-width="0.5"/>
<line x1="380" y1="626.5" x2="381.3" y2="626.5" stroke="#555" stroke-width="0.5"/>
<line x1="380" y1="627.9" x2="381.3" y2="627.9" stroke="#555" stroke-width="0.5"/>
<line x1="380" y1="629.5" x2="381.3" y2="629.5" stroke="#555" stroke-width="0.5"/>
<line x1="380" y1="631.5" x2="381.3" y2="631.5" stroke="#555" stroke-width="0.5"/>
<line x1="380" y1="634.1" x2="381.3" y2="634.1" stroke="#555" stroke-width="0.5"/>
<text x="378.7" y="624.7" font-size="3.3" text-anchor="end" fill="#333">10</text>
<text x="375.1" y="622.1" font-size="2.6" text-anchor="end" fill="#333">1</text>
<line x1="392.9" y1="636.3" x2="392.9" y2="638.5" stroke="#444" stroke-width="0.7"/>
<line x1="391.9" y1="636.3" x2="391.9" y2="637.6" stroke="#555" stroke-width="0.5"/>
<line x1="390.9" y1="636.3" x2="390.9" y2="637.6" stroke="#555" stroke-width="0.5"/>
<line x1="389.7" y1="636.3" x2="389.7" y2="637.6" stroke="#555" stroke-width="0.5"/>
<line x1="388.4" y1="636.3" x2="388.4" y2="637.6" stroke="#555" stroke-width="0.5"/>
<line x1="386.8" y1="636.3" x2="386.8" y2="637.6" stroke="#555" stroke-width="0.5"/>
<line x1="384.8" y1="636.3" x2="384.8" y2="637.6" stroke="#555" stroke-width="0.5"/>
<line x1="382.3" y1="636.3" x2="382.3" y2="637.6" stroke="#555" stroke-width="0.5"/>
<text x="391" y="643.3" font-size="3.3" fill="#333">10</text>
<text x="394.7" y="641.3" font-size="2.6" fill="#333">1</text>
<line x1="413.1" y1="636.3" x2="413.1" y2="638.5" stroke="#444" stroke-width="0.7"/>
<line x1="412.1" y1="636.3" x2="412.1" y2="637.6" stroke="#555" stroke-width="0.5"/>
<line x1="411.1" y1="636.3" x2="411.1" y2="637.6" stroke="#555" stroke-width="0.5"/>
<line x1="409.9" y1="636.3" x2="409.9" y2="637.6" stroke="#555" stroke-width="0.5"/>
<line x1="408.6" y1="636.3" x2="408.6" y2="637.6" stroke="#555" stroke-width="0.5"/>
<line x1="407" y1="636.3" x2="407" y2="637.6" stroke="#555" stroke-width="0.5"/>
<line x1="405" y1="636.3" x2="405" y2="637.6" stroke="#555" stroke-width="0.5"/>
<line x1="402.5" y1="636.3" x2="402.5" y2="637.6" stroke="#555" stroke-width="0.5"/>
<line x1="398.9" y1="636.3" x2="398.9" y2="637.6" stroke="#555" stroke-width="0.5"/>
<text x="411.2" y="643.3" font-size="3.3" fill="#333">10</text>
<text x="414.9" y="641.3" font-size="2.6" fill="#333">2</text>
<line x1="433.3" y1="636.3" x2="433.3" y2="638.5" stroke="#444" stroke-width="0.7"/>
<line x1="432.4" y1="636.3" x2="432.4" y2="637.6" stroke="#555" stroke-width="0.5"/>
<line x1="431.3" y1="636.3" x2="431.3" y2="637.6" stroke="#555" stroke-width="0.5"/>
<line x1="430.1" y1="636.3" x2="430.1" y2="637.6" stroke="#555" stroke-width="0.5"/>
<line x1="428.8" y1="636.3" x2="428.8" y2="637.6" stroke="#555" stroke-width="0.5"/>
<line x1="427.2" y1="636.3" x2="427.2" y2="637.6" stroke="#555" stroke-width="0.5"/>
<line x1="425.2" y1="636.3" x2="425.2" y2="637.6" stroke="#555" stroke-width="0.5"/>
<line x1="422.7" y1="636.3" x2="422.7" y2="637.6" stroke="#555" stroke-width="0.5"/>
<line x1="419.1" y1="636.3" x2="419.1" y2="637.6" stroke="#555" stroke-width="0.5"/>
<text x="431.4" y="643.3" font-size="3.3" fill="#333">10</text>
<text x="435.1" y="641.3" font-size="2.6" fill="#333">3</text>
<line x1="453.5" y1="636.3" x2="453.5" y2="638.5" stroke="#444" stroke-width="0.7"/>
<line x1="452.6" y1="636.3" x2="452.6" y2="637.6" stroke="#555" stroke-width="0.5"/>
<line x1="451.5" y1="636.3" x2="451.5" y2="637.6" stroke="#555" stroke-width="0.5"/>
<line x1="450.4" y1="636.3" x2="450.4" y2="637.6" stroke="#555" stroke-width="0.5"/>
<line x1="449" y1="636.3" x2="449" y2="637.6" stroke="#555" stroke-width="0.5"/>
<line x1="447.4" y1="636.3" x2="447.4" y2="637.6" stroke="#555" stroke-width="0.5"/>
<line x1="445.4" y1="636.3" x2="445.4" y2="637.6" stroke="#555" stroke-width="0.5"/>
<line x1="442.9" y1="636.3" x2="442.9" y2="637.6" stroke="#555" stroke-width="0.5"/>
<line x1="439.4" y1="636.3" x2="439.4" y2="637.6" stroke="#555" stroke-width="0.5"/>
<text x="451.6" y="643.3" font-size="3.3" fill="#333">10</text>
<text x="455.3" y="641.3" font-size="2.6" fill="#333">4</text>
<text x="383.1" y="557.7" font-size="3.4" fill="#333">Q1</text>
<text x="462" y="557.7" font-size="3.4" text-anchor="end" fill="#333">Q2</text>
<text x="383.1" y="634.7" font-size="3.4" fill="#333">Q3</text>
<text x="462" y="634.7" font-size="3.4" text-anchor="end" fill="#333">Q4</text>
<line x1="523.6" y1="501" x2="633.2" y2="501" stroke="#111" stroke-width="1.2"/>
<line x1="523.6" y1="427.3" x2="523.6" y2="501" stroke="#111" stroke-width="1.2"/>
<line x1="521" y1="501" x2="523.6" y2="501" stroke="#111" stroke-width="0.9"/>
<text x="521" y="503.4" font-size="6.6" text-anchor="end" fill="#222">0</text>
<line x1="521" y1="486.4" x2="523.6" y2="486.4" stroke="#111" stroke-width="0.9"/>
<text x="521" y="488.7" font-size="6.6" text-anchor="end" fill="#222">10</text>
<line x1="521" y1="471.7" x2="523.6" y2="471.7" stroke="#111" stroke-width="0.9"/>
<text x="521" y="474.1" font-size="6.6" text-anchor="end" fill="#222">20</text>
<line x1="521" y1="457.1" x2="523.6" y2="457.1" stroke="#111" stroke-width="0.9"/>
<text x="521" y="459.5" font-size="6.6" text-anchor="end" fill="#222">30</text>
<line x1="521" y1="442.4" x2="523.6" y2="442.4" stroke="#111" stroke-width="0.9"/>
<text x="521" y="444.8" font-size="6.6" text-anchor="end" fill="#222">40</text>
<line x1="521" y1="427.8" x2="523.6" y2="427.8" stroke="#111" stroke-width="0.9"/>
<text x="521" y="430.2" font-size="6.6" text-anchor="end" fill="#222">50</text>
<line x1="537.2" y1="501" x2="537.2" y2="503.8" stroke="#111" stroke-width="0.9"/>
<line x1="564.6" y1="501" x2="564.6" y2="503.8" stroke="#111" stroke-width="0.9"/>
<line x1="592" y1="501" x2="592" y2="503.8" stroke="#111" stroke-width="0.9"/>
<line x1="619.5" y1="501" x2="619.5" y2="503.8" stroke="#111" stroke-width="0.9"/>
<line x1="537.2" y1="489.9" x2="537.2" y2="490.5" stroke="#111" stroke-width="1"/>
<line x1="532.7" y1="489.9" x2="541.7" y2="489.9" stroke="#111" stroke-width="1.1"/>
<rect x="528" y="490.5" width="18.5" height="10.5" fill="#fff" stroke="#111" stroke-width="1.0"/>
<line x1="564.6" y1="490.8" x2="564.6" y2="492.2" stroke="#111" stroke-width="1"/>
<line x1="560.1" y1="490.8" x2="569.1" y2="490.8" stroke="#111" stroke-width="1.1"/>
<rect x="555.4" y="492.2" width="18.5" height="8.8" fill="#fff" stroke="#111" stroke-width="1.0"/>
<line x1="592" y1="431.9" x2="592" y2="434.8" stroke="#111" stroke-width="1"/>
<line x1="587.5" y1="431.9" x2="596.5" y2="431.9" stroke="#111" stroke-width="1.1"/>
<rect x="582.8" y="434.8" width="18.5" height="66.2" fill="#fff" stroke="#111" stroke-width="1.0"/>
<line x1="619.5" y1="492.5" x2="619.5" y2="493.1" stroke="#111" stroke-width="1"/>
<line x1="615" y1="492.5" x2="624" y2="492.5" stroke="#111" stroke-width="1.1"/>
<rect x="610.2" y="493.1" width="18.5" height="7.9" fill="#fff" stroke="#111" stroke-width="1.0"/>
<path d="M537.2 488 V425.5 H592 V428.4" fill="none" stroke="#444" stroke-width="0.9"/>
<text x="564.7" y="427.7" font-size="10" text-anchor="middle" fill="#1a1a1a" font-weight="bold">***</text>
<path d="M592 428.4 V417.6 H619.5 V492.4" fill="none" stroke="#444" stroke-width="0.9"/>
<text x="605.8" y="420.7" font-size="10" text-anchor="middle" fill="#1a1a1a" font-weight="bold">***</text>
<text x="508.1" y="464.3" font-size="9.8" text-anchor="middle" fill="#111" transform="rotate(-90 508.1 464.3)">Apoptotic cells (%)</text>
<text x="540.4" y="509.2" font-size="9.9" text-anchor="end" fill="#111" transform="rotate(-45 540.4 509.2)">Control</text>
<text x="568.6" y="509.2" font-size="9.9" text-anchor="end" fill="#111" transform="rotate(-45 568.6 509.2)">NAC</text>
<text x="596" y="509.2" font-size="9.9" text-anchor="end" fill="#111" transform="rotate(-45 596 509.2)">Chaetocin</text>
<text x="623.7" y="509.2" font-size="9.9" text-anchor="end" fill="#111" transform="rotate(-45 623.7 509.2)">NAC+chaetocin</text>
<line x1="523.3" y1="645.2" x2="633.2" y2="645.2" stroke="#111" stroke-width="1.2"/>
<line x1="523.3" y1="568.7" x2="523.3" y2="645.2" stroke="#111" stroke-width="1.2"/>
<line x1="520.7" y1="645.2" x2="523.3" y2="645.2" stroke="#111" stroke-width="0.9"/>
<text x="520.7" y="647.6" font-size="6.6" text-anchor="end" fill="#222">0</text>
<line x1="520.7" y1="630" x2="523.3" y2="630" stroke="#111" stroke-width="0.9"/>
<text x="520.7" y="632.4" font-size="6.6" text-anchor="end" fill="#222">10</text>
<line x1="520.7" y1="614.8" x2="523.3" y2="614.8" stroke="#111" stroke-width="0.9"/>
<text x="520.7" y="617.2" font-size="6.6" text-anchor="end" fill="#222">20</text>
<line x1="520.7" y1="599.6" x2="523.3" y2="599.6" stroke="#111" stroke-width="0.9"/>
<text x="520.7" y="602" font-size="6.6" text-anchor="end" fill="#222">30</text>
<line x1="520.7" y1="584.4" x2="523.3" y2="584.4" stroke="#111" stroke-width="0.9"/>
<text x="520.7" y="586.8" font-size="6.6" text-anchor="end" fill="#222">40</text>
<line x1="520.7" y1="569.2" x2="523.3" y2="569.2" stroke="#111" stroke-width="0.9"/>
<text x="520.7" y="571.6" font-size="6.6" text-anchor="end" fill="#222">50</text>
<line x1="536.4" y1="645.2" x2="536.4" y2="648" stroke="#111" stroke-width="0.9"/>
<line x1="564.2" y1="645.2" x2="564.2" y2="648" stroke="#111" stroke-width="0.9"/>
<line x1="591.9" y1="645.2" x2="591.9" y2="648" stroke="#111" stroke-width="0.9"/>
<line x1="619.8" y1="645.2" x2="619.8" y2="648" stroke="#111" stroke-width="0.9"/>
<line x1="536.4" y1="633" x2="536.4" y2="636.8" stroke="#111" stroke-width="1"/>
<line x1="531.9" y1="633" x2="540.9" y2="633" stroke="#111" stroke-width="1.1"/>
<rect x="527.1" y="636.8" width="18.6" height="8.4" fill="#7f7f7f" stroke="#111" stroke-width="1.0"/>
<line x1="564.2" y1="633" x2="564.2" y2="634.9" stroke="#111" stroke-width="1"/>
<line x1="559.7" y1="633" x2="568.7" y2="633" stroke="#111" stroke-width="1.1"/>
<rect x="554.9" y="634.9" width="18.6" height="10.3" fill="#7f7f7f" stroke="#111" stroke-width="1.0"/>
<line x1="591.9" y1="577.6" x2="591.9" y2="579.7" stroke="#111" stroke-width="1"/>
<line x1="587.4" y1="577.6" x2="596.4" y2="577.6" stroke="#111" stroke-width="1.1"/>
<rect x="582.6" y="579.7" width="18.6" height="65.5" fill="#7f7f7f" stroke="#111" stroke-width="1.0"/>
<line x1="619.8" y1="635.2" x2="619.8" y2="635.8" stroke="#111" stroke-width="1"/>
<line x1="615.3" y1="635.2" x2="624.3" y2="635.2" stroke="#111" stroke-width="1.1"/>
<rect x="610.5" y="635.8" width="18.6" height="9.4" fill="#7f7f7f" stroke="#111" stroke-width="1.0"/>
<path d="M536.4 628.2 V571.1 H591.9 V575.7" fill="none" stroke="#444" stroke-width="0.9"/>
<text x="563.8" y="573" font-size="10" text-anchor="middle" fill="#1a1a1a" font-weight="bold">***</text>
<path d="M591.9 575.7 V564.1 H619.8 V631.6" fill="none" stroke="#444" stroke-width="0.9"/>
<text x="606.3" y="566.3" font-size="10" text-anchor="middle" fill="#1a1a1a" font-weight="bold">***</text>
<text x="508.1" y="609" font-size="9.8" text-anchor="middle" fill="#111" transform="rotate(-90 508.1 609)">Apoptotic cells (%)</text>
<text x="540.6" y="653" font-size="9.9" text-anchor="end" fill="#111" transform="rotate(-45 540.6 653)">Control</text>
<text x="568.4" y="653" font-size="9.9" text-anchor="end" fill="#111" transform="rotate(-45 568.4 653)">NAC</text>
<text x="596.1" y="653" font-size="9.9" text-anchor="end" fill="#111" transform="rotate(-45 596.1 653)">Chaetocin</text>
<text x="624" y="653" font-size="9.9" text-anchor="end" fill="#111" transform="rotate(-45 624 653)">NAC+chaetocin</text>
<text x="1.2" y="726.2" font-size="23.5">C</text>
<text x="211.7" y="728.3" font-size="13.25" text-anchor="middle">HGC-27 (36 h)</text>
<text x="540.5" y="728.6" font-size="13.2" text-anchor="middle">AGS (24 h)</text>
<line x1="127.3" y1="734.5" x2="301.9" y2="734.5" stroke="#111" stroke-width="1.1"/>
<line x1="455" y1="734.6" x2="629.6" y2="734.6" stroke="#111" stroke-width="1.1"/>
<text x="115.2" y="745.5" font-size="12.8" text-anchor="end">Chaetocin (200 nM)</text>
<text x="115.2" y="763.1" font-size="13.0" text-anchor="end">NAC (5 mM)</text>
<text x="441.9" y="745.2" font-size="12.8" text-anchor="end">Chaetocin (100 nM)</text>
<text x="441.9" y="763.3" font-size="13.0" text-anchor="end">NAC (5 mM)</text>
<text x="641" y="764.4" font-size="13.0">kDa</text>
<text x="144.2" y="745.7" font-size="12" text-anchor="middle" stroke="#000" stroke-width="0.35">-</text>
<text x="144.2" y="762.8" font-size="12" text-anchor="middle" stroke="#000" stroke-width="0.35">-</text>
<text x="188.6" y="745.7" font-size="12" text-anchor="middle" stroke="#000" stroke-width="0.35">-</text>
<text x="188.6" y="762.8" font-size="12" text-anchor="middle" stroke="#000" stroke-width="0.35">+</text>
<text x="233.9" y="745.7" font-size="12" text-anchor="middle" stroke="#000" stroke-width="0.35">+</text>
<text x="233.9" y="762.8" font-size="12" text-anchor="middle" stroke="#000" stroke-width="0.35">-</text>
<text x="284.4" y="745.7" font-size="12" text-anchor="middle" stroke="#000" stroke-width="0.35">+</text>
<text x="284.4" y="762.8" font-size="12" text-anchor="middle" stroke="#000" stroke-width="0.35">+</text>
<text x="472.2" y="745.7" font-size="12" text-anchor="middle" stroke="#000" stroke-width="0.35">-</text>
<text x="472.2" y="762.8" font-size="12" text-anchor="middle" stroke="#000" stroke-width="0.35">-</text>
<text x="516.2" y="745.7" font-size="12" text-anchor="middle" stroke="#000" stroke-width="0.35">-</text>
<text x="516.2" y="762.8" font-size="12" text-anchor="middle" stroke="#000" stroke-width="0.35">+</text>
<text x="561.6" y="745.7" font-size="12" text-anchor="middle" stroke="#000" stroke-width="0.35">+</text>
<text x="561.6" y="762.8" font-size="12" text-anchor="middle" stroke="#000" stroke-width="0.35">-</text>
<text x="612.4" y="745.7" font-size="12" text-anchor="middle" stroke="#000" stroke-width="0.35">+</text>
<text x="612.4" y="762.8" font-size="12" text-anchor="middle" stroke="#000" stroke-width="0.35">+</text>
<text x="114.8" y="782.8" font-size="13.0" text-anchor="end">Cleaved-PARP</text>
<text x="442.2" y="785" font-size="13.0" text-anchor="end">Cleaved-PARP</text>
<text x="114.8" y="811.4" font-size="13.0" text-anchor="end">Pro-caspase-3</text>
<text x="442.2" y="811.8" font-size="13.0" text-anchor="end">Pro-caspase-3</text>
<text x="114.8" y="838.8" font-size="13.0" text-anchor="end">Cleaved-caspase-3</text>
<text x="442.2" y="840.2" font-size="13.0" text-anchor="end">Cleaved-caspase-3</text>
<text x="114.8" y="866.2" font-size="13.0" text-anchor="end">Pro-caspase-9</text>
<text x="442.2" y="867.6" font-size="13.0" text-anchor="end">Pro-caspase-9</text>
<text x="114.8" y="893.9" font-size="13.0" text-anchor="end">Cleaved-caspase-9</text>
<text x="442.2" y="895.1" font-size="13.0" text-anchor="end">Cleaved-caspase-9</text>
<text x="114.8" y="932.2" font-size="13.0" text-anchor="end">Caspase-8</text>
<text x="442.2" y="932.8" font-size="13.0" text-anchor="end">Caspase-8</text>
<text x="114.8" y="966.6" font-size="13.0" text-anchor="end">Actin</text>
<text x="442.2" y="966.5" font-size="13.0" text-anchor="end">Actin</text>
<line x1="635" y1="779" x2="647" y2="779" stroke="#111" stroke-width="1.1"/>
<text x="650.5" y="783.6" font-size="13.0">89</text>
<line x1="635" y1="807.6" x2="647" y2="807.6" stroke="#111" stroke-width="1.1"/>
<text x="650.5" y="812.2" font-size="13.0">35</text>
<line x1="635" y1="835.2" x2="647" y2="835.2" stroke="#111" stroke-width="1.1"/>
<text x="650.5" y="839.8" font-size="13.0">19/17</text>
<line x1="635" y1="863" x2="647" y2="863" stroke="#111" stroke-width="1.1"/>
<text x="650.5" y="867.6" font-size="13.0">47</text>
<line x1="635" y1="890.2" x2="647" y2="890.2" stroke="#111" stroke-width="1.1"/>
<text x="650.5" y="894.8" font-size="13.0">37</text>
<line x1="635" y1="914.3" x2="647" y2="914.3" stroke="#111" stroke-width="1.1"/>
<text x="650.5" y="918.9" font-size="13.0">57</text>
<line x1="635" y1="938.8" x2="647" y2="938.8" stroke="#111" stroke-width="1.1"/>
<text x="650.5" y="943.4" font-size="13.0">43</text>
<line x1="635" y1="963.8" x2="647" y2="963.8" stroke="#111" stroke-width="1.1"/>
<text x="650.5" y="968.4" font-size="13.0">42</text>
<rect x="125.6" y="771.1" width="177.5" height="19.3" fill="#858585" stroke="none" stroke-width="1"/>
<svg x="125.6" y="771.1" width="177.5" height="19.3" viewBox="125.6 771.1 177.5 19.3" overflow="hidden">
<rect x="216.3" y="777.7" width="38.6" height="7.2" rx="4.5" ry="3.6" fill="#0d0d0d" fill-opacity="0.95" filter="url(#b1)"/>
</svg>
<rect x="125.6" y="771.1" width="177.5" height="19.3" fill="none" stroke="#0a0a0a" stroke-width="1.4"/>
<rect x="125.6" y="798.5" width="177.5" height="18.9" fill="#858585" stroke="none" stroke-width="1"/>
<svg x="125.6" y="798.5" width="177.5" height="18.9" viewBox="125.6 798.5 177.5 18.9" overflow="hidden">
<rect x="130.2" y="805.4" width="35.3" height="5.6" rx="4.5" ry="2.8" fill="#0d0d0d" fill-opacity="0.9" filter="url(#b1)"/>
<rect x="174" y="805.1" width="38.7" height="6.6" rx="4.5" ry="3.3" fill="#0d0d0d" fill-opacity="0.92" filter="url(#b1)"/>
<rect x="221.2" y="805.9" width="34.1" height="5.4" rx="4.5" ry="2.7" fill="#0d0d0d" fill-opacity="0.85" filter="url(#b1)"/>
<rect x="263.5" y="804.9" width="35.2" height="7" rx="4.5" ry="3.5" fill="#0d0d0d" fill-opacity="0.95" filter="url(#b1)"/>
</svg>
<rect x="125.6" y="798.5" width="177.5" height="18.9" fill="none" stroke="#0a0a0a" stroke-width="1.4"/>
<rect x="125.6" y="825.5" width="177.5" height="19.9" fill="#858585" stroke="none" stroke-width="1"/>
<svg x="125.6" y="825.5" width="177.5" height="19.9" viewBox="125.6 825.5 177.5 19.9" overflow="hidden">
<rect x="227.1" y="830.7" width="25.2" height="4.4" rx="4.5" ry="2.2" fill="#0d0d0d" fill-opacity="0.95" filter="url(#b1)"/>
<rect x="228" y="836.4" width="24.3" height="3" rx="4.5" ry="1.5" fill="#0d0d0d" fill-opacity="0.85" filter="url(#b1)"/>
</svg>
<rect x="125.6" y="825.5" width="177.5" height="19.9" fill="none" stroke="#0a0a0a" stroke-width="1.4"/>
<rect x="125.6" y="853.3" width="177.5" height="18.8" fill="#858585" stroke="none" stroke-width="1"/>
<svg x="125.6" y="853.3" width="177.5" height="18.8" viewBox="125.6 853.3 177.5 18.8" overflow="hidden">
<rect x="129.3" y="860.6" width="31.1" height="5" rx="4.5" ry="2.5" fill="#0d0d0d" fill-opacity="0.9" filter="url(#b1)"/>
<rect x="172.5" y="860.1" width="31.7" height="5.4" rx="4.5" ry="2.7" fill="#0d0d0d" fill-opacity="0.9" filter="url(#b1)"/>
<rect x="225.5" y="861.7" width="24" height="3" rx="4.5" ry="1.5" fill="#0d0d0d" fill-opacity="0.2" filter="url(#b1)"/>
<rect x="263.5" y="860.6" width="34" height="4.4" rx="4.5" ry="2.2" fill="#0d0d0d" fill-opacity="0.7" filter="url(#b1)"/>
</svg>
<rect x="125.6" y="853.3" width="177.5" height="18.8" fill="none" stroke="#0a0a0a" stroke-width="1.4"/>
<rect x="125.6" y="880.9" width="177.5" height="18.9" fill="#858585" stroke="none" stroke-width="1"/>
<svg x="125.6" y="880.9" width="177.5" height="18.9" viewBox="125.6 880.9 177.5 18.9" overflow="hidden">
<rect x="215.5" y="889.7" width="34" height="3" rx="4.5" ry="1.5" fill="#0d0d0d" fill-opacity="0.3" filter="url(#b3)"/>
<rect x="128.5" y="887" width="16" height="6" rx="4.2" ry="3" fill="#0d0d0d" fill-opacity="0.06" filter="url(#b3)"/>
</svg>
<rect x="125.6" y="880.9" width="177.5" height="18.9" fill="none" stroke="#0a0a0a" stroke-width="1.4"/>
<rect x="125.6" y="907.8" width="177.5" height="37.7" fill="#858585" stroke="none" stroke-width="1"/>
<svg x="125.6" y="907.8" width="177.5" height="37.7" viewBox="125.6 907.8 177.5 37.7" overflow="hidden">
<rect x="128.8" y="909.3" width="37.9" height="8.6" rx="3" ry="4.3" fill="#0d0d0d" fill-opacity="0.97" filter="url(#b1)"/>
<rect x="128.8" y="917.8" width="37.9" height="3.6" rx="3" ry="1.8" fill="#0d0d0d" fill-opacity="0.85" filter="url(#b1)"/>
<rect x="176" y="909.3" width="33.7" height="8.6" rx="3" ry="4.3" fill="#0d0d0d" fill-opacity="0.97" filter="url(#b1)"/>
<rect x="176" y="918.1" width="33.7" height="3.6" rx="3" ry="1.8" fill="#0d0d0d" fill-opacity="0.85" filter="url(#b1)"/>
<rect x="219" y="909.8" width="37.8" height="8" rx="3" ry="4" fill="#0d0d0d" fill-opacity="0.97" filter="url(#b1)"/>
<rect x="219" y="918" width="37.8" height="3.6" rx="3" ry="1.8" fill="#0d0d0d" fill-opacity="0.8" filter="url(#b1)"/>
<rect x="264.7" y="909.3" width="36.5" height="8.6" rx="3" ry="4.3" fill="#0d0d0d" fill-opacity="0.97" filter="url(#b1)"/>
<rect x="264.7" y="917.8" width="36.5" height="3.6" rx="3" ry="1.8" fill="#0d0d0d" fill-opacity="0.85" filter="url(#b1)"/>
<rect x="222.5" y="934.7" width="33" height="2.6" rx="4.5" ry="1.3" fill="#0d0d0d" fill-opacity="0.18" filter="url(#b1)"/>
<rect x="222.5" y="940.3" width="33" height="2.6" rx="4.5" ry="1.3" fill="#0d0d0d" fill-opacity="0.17" filter="url(#b1)"/>
</svg>
<rect x="125.6" y="907.8" width="177.5" height="37.7" fill="none" stroke="#0a0a0a" stroke-width="1.4"/>
<rect x="125.6" y="953.9" width="177.5" height="19.9" fill="#858585" stroke="none" stroke-width="1"/>
<svg x="125.6" y="953.9" width="177.5" height="19.9" viewBox="125.6 953.9 177.5 19.9" overflow="hidden">
<rect x="128.5" y="962.4" width="36" height="3.6" rx="4.5" ry="1.8" fill="#0d0d0d" fill-opacity="0.8" filter="url(#b1)"/>
<rect x="172.5" y="962.7" width="37" height="3.6" rx="4.5" ry="1.8" fill="#0d0d0d" fill-opacity="0.8" filter="url(#b1)"/>
<rect x="218.5" y="962.5" width="37" height="3.6" rx="4.5" ry="1.8" fill="#0d0d0d" fill-opacity="0.8" filter="url(#b1)"/>
<rect x="266.5" y="962.5" width="33" height="3.4" rx="4.5" ry="1.7" fill="#0d0d0d" fill-opacity="0.75" filter="url(#b1)"/>
</svg>
<rect x="125.6" y="953.9" width="177.5" height="19.9" fill="none" stroke="#0a0a0a" stroke-width="1.4"/>
<rect x="453.8" y="771.1" width="178.2" height="19.3" fill="#858585" stroke="none" stroke-width="1"/>
<svg x="453.8" y="771.1" width="178.2" height="19.3" viewBox="453.8 771.1 178.2 19.3" overflow="hidden">
<rect x="546.2" y="777.1" width="33.7" height="3.6" rx="4.5" ry="1.8" fill="#0d0d0d" fill-opacity="0.85" filter="url(#b1)"/>
<rect x="472.5" y="777.8" width="27" height="2.4" rx="4.5" ry="1.2" fill="#0d0d0d" fill-opacity="0.14" filter="url(#b3)"/>
<rect x="505.5" y="777.8" width="29" height="2.4" rx="4.5" ry="1.2" fill="#0d0d0d" fill-opacity="0.12" filter="url(#b3)"/>
</svg>
<rect x="453.8" y="771.1" width="178.2" height="19.3" fill="none" stroke="#0a0a0a" stroke-width="1.4"/>
<rect x="453.8" y="798.5" width="178.2" height="18.9" fill="#858585" stroke="none" stroke-width="1"/>
<svg x="453.8" y="798.5" width="178.2" height="18.9" viewBox="453.8 798.5 178.2 18.9" overflow="hidden">
<rect x="456" y="805.3" width="34" height="4.6" rx="4.5" ry="2.3" fill="#0d0d0d" fill-opacity="0.92" filter="url(#b1)"/>
<rect x="501.5" y="805.2" width="34" height="4.8" rx="4.5" ry="2.4" fill="#0d0d0d" fill-opacity="0.92" filter="url(#b1)"/>
<rect x="546.2" y="806" width="33.7" height="3.2" rx="4.5" ry="1.6" fill="#0d0d0d" fill-opacity="0.5" filter="url(#b1)"/>
<rect x="596.2" y="805.1" width="32.3" height="5" rx="4.5" ry="2.5" fill="#0d0d0d" fill-opacity="0.88" filter="url(#b1)"/>
</svg>
<rect x="453.8" y="798.5" width="178.2" height="18.9" fill="none" stroke="#0a0a0a" stroke-width="1.4"/>
<rect x="453.8" y="825.5" width="178.2" height="19.9" fill="#858585" stroke="none" stroke-width="1"/>
<svg x="453.8" y="825.5" width="178.2" height="19.9" viewBox="453.8 825.5 178.2 19.9" overflow="hidden">
<rect x="556.5" y="830" width="23" height="2" rx="4.5" ry="1" fill="#0d0d0d" fill-opacity="0.1" filter="url(#b3)"/>
<rect x="556.5" y="837.5" width="23" height="2" rx="4.5" ry="1" fill="#0d0d0d" fill-opacity="0.08" filter="url(#b3)"/>
</svg>
<rect x="453.8" y="825.5" width="178.2" height="19.9" fill="none" stroke="#0a0a0a" stroke-width="1.4"/>
<rect x="453.8" y="853.3" width="178.2" height="18.8" fill="#858585" stroke="none" stroke-width="1"/>
<svg x="453.8" y="853.3" width="178.2" height="18.8" viewBox="453.8 853.3 178.2 18.8" overflow="hidden">
<rect x="455.3" y="860.5" width="36.5" height="4.8" rx="4.5" ry="2.4" fill="#0d0d0d" fill-opacity="0.93" filter="url(#b1)"/>
<rect x="502.3" y="860.6" width="36.1" height="4.8" rx="4.5" ry="2.4" fill="#0d0d0d" fill-opacity="0.92" filter="url(#b1)"/>
<rect x="550.5" y="861.6" width="32.4" height="2.8" rx="4.5" ry="1.4" fill="#0d0d0d" fill-opacity="0.5" filter="url(#b1)"/>
<rect x="596.2" y="860.3" width="33.3" height="5" rx="4.5" ry="2.5" fill="#0d0d0d" fill-opacity="0.9" filter="url(#b1)"/>
</svg>
<rect x="453.8" y="853.3" width="178.2" height="18.8" fill="none" stroke="#0a0a0a" stroke-width="1.4"/>
<rect x="453.8" y="880.9" width="178.2" height="18.9" fill="#858585" stroke="none" stroke-width="1"/>
<svg x="453.8" y="880.9" width="178.2" height="18.9" viewBox="453.8 880.9 178.2 18.9" overflow="hidden">
<rect x="541.5" y="890.3" width="38" height="2.6" rx="4.5" ry="1.3" fill="#0d0d0d" fill-opacity="0.5" filter="url(#b1)"/>
</svg>
<rect x="453.8" y="880.9" width="178.2" height="18.9" fill="none" stroke="#0a0a0a" stroke-width="1.4"/>
<rect x="453.8" y="907.8" width="178.2" height="37.7" fill="#858585" stroke="none" stroke-width="1"/>
<svg x="453.8" y="907.8" width="178.2" height="37.7" viewBox="453.8 907.8 178.2 37.7" overflow="hidden">
<rect x="456" y="912.2" width="42.8" height="7.5" rx="3" ry="3.8" fill="#0d0d0d" fill-opacity="0.97" filter="url(#b1)"/>
<rect x="503.3" y="912.5" width="37.6" height="7.5" rx="3" ry="3.8" fill="#0d0d0d" fill-opacity="0.97" filter="url(#b1)"/>
<rect x="547.1" y="913.5" width="35.8" height="5" rx="3" ry="2.5" fill="#0d0d0d" fill-opacity="0.9" filter="url(#b1)"/>
<rect x="590.9" y="911.6" width="39.3" height="8" rx="3" ry="4" fill="#0d0d0d" fill-opacity="0.97" filter="url(#b1)"/>
<rect x="550.5" y="938.5" width="29" height="2.5" rx="4.5" ry="1.2" fill="#0d0d0d" fill-opacity="0.15" filter="url(#b1)"/>
</svg>
<rect x="453.8" y="907.8" width="178.2" height="37.7" fill="none" stroke="#0a0a0a" stroke-width="1.4"/>
<rect x="453.8" y="953.9" width="178.2" height="19.9" fill="#858585" stroke="none" stroke-width="1"/>
<svg x="453.8" y="953.9" width="178.2" height="19.9" viewBox="453.8 953.9 178.2 19.9" overflow="hidden">
<rect x="455.5" y="961.9" width="36" height="3.4" rx="4.5" ry="1.7" fill="#0d0d0d" fill-opacity="0.8" filter="url(#b1)"/>
<rect x="500.5" y="962.1" width="37" height="3.4" rx="4.5" ry="1.7" fill="#0d0d0d" fill-opacity="0.8" filter="url(#b1)"/>
<rect x="546.5" y="962.1" width="35" height="3.4" rx="4.5" ry="1.7" fill="#0d0d0d" fill-opacity="0.8" filter="url(#b1)"/>
<rect x="592.5" y="961.9" width="37" height="3.4" rx="4.5" ry="1.7" fill="#0d0d0d" fill-opacity="0.8" filter="url(#b1)"/>
</svg>
<rect x="453.8" y="953.9" width="178.2" height="19.9" fill="none" stroke="#0a0a0a" stroke-width="1.4"/>
</svg></body></html>
